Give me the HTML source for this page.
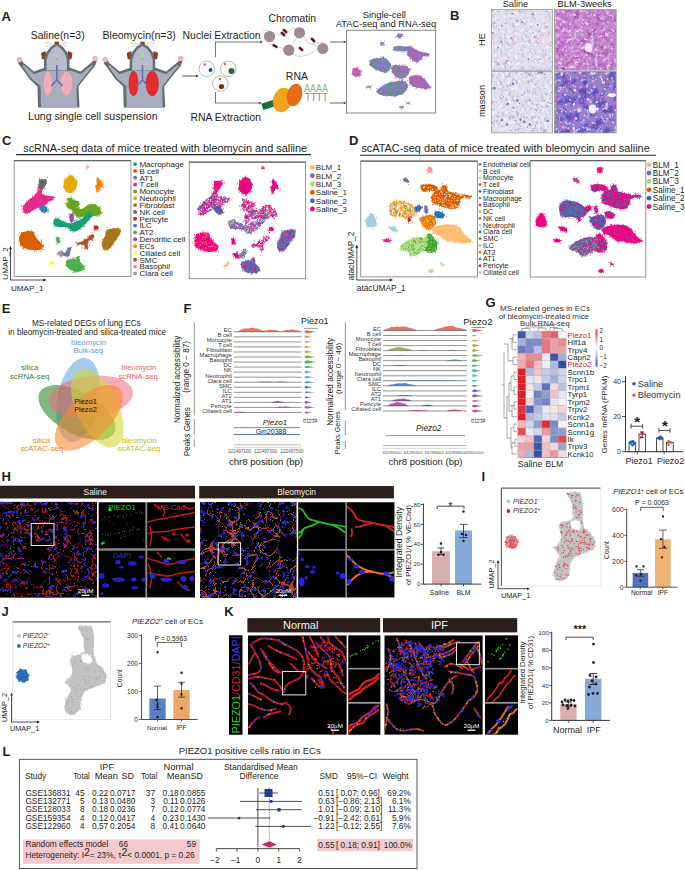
<!DOCTYPE html>
<html><head><meta charset="utf-8"><title>Figure</title>
<style>html,body{margin:0;padding:0;background:#fff;}body{width:685px;height:870px;overflow:hidden;font-family:"Liberation Sans",sans-serif;}svg{display:block;}</style>
</head><body><svg width="685" height="870" viewBox="0 0 685 870" font-family='"Liberation Sans", sans-serif' fill="#231f20"><defs><filter id="soft" x="-5%" y="-5%" width="110%" height="110%"><feGaussianBlur stdDeviation="0.45"/></filter><filter id="soft2" x="-5%" y="-5%" width="110%" height="110%"><feGaussianBlur stdDeviation="0.6"/></filter><filter id="t1_0" x="0" y="0" width="100%" height="100%" color-interpolation-filters="sRGB"><feTurbulence type="fractalNoise" baseFrequency="0.25" numOctaves="3" seed="7"/><feColorMatrix type="matrix" values="0 0 0 0 0.831 0 0 0 0 0.643 0 0 0 0 0.831 5 0 0 0 -3.0"/></filter><filter id="t1_1" x="0" y="0" width="100%" height="100%" color-interpolation-filters="sRGB"><feTurbulence type="fractalNoise" baseFrequency="0.3" numOctaves="3" seed="8"/><feColorMatrix type="matrix" values="0 0 0 0 0.949 0 0 0 0 0.949 0 0 0 0 0.973 4 0 0 0 -2.0"/></filter><filter id="t2_0" x="0" y="0" width="100%" height="100%" color-interpolation-filters="sRGB"><feTurbulence type="fractalNoise" baseFrequency="0.15" numOctaves="3" seed="14"/><feColorMatrix type="matrix" values="0 0 0 0 0.659 0 0 0 0 0.290 0 0 0 0 0.690 4 0 0 0 -2.1"/></filter><filter id="t2_1" x="0" y="0" width="100%" height="100%" color-interpolation-filters="sRGB"><feTurbulence type="fractalNoise" baseFrequency="0.25" numOctaves="3" seed="15"/><feColorMatrix type="matrix" values="0 0 0 0 0.886 0 0 0 0 0.804 0 0 0 0 0.941 4.5 0 0 0 -2.4"/></filter><filter id="t2_2" x="0" y="0" width="100%" height="100%" color-interpolation-filters="sRGB"><feTurbulence type="fractalNoise" baseFrequency="0.3" numOctaves="3" seed="16"/><feColorMatrix type="matrix" values="0 0 0 0 0.722 0 0 0 0 0.408 0 0 0 0 0.753 3 0 0 0 -1.5"/></filter><filter id="t3_0" x="0" y="0" width="100%" height="100%" color-interpolation-filters="sRGB"><feTurbulence type="fractalNoise" baseFrequency="0.25" numOctaves="3" seed="21"/><feColorMatrix type="matrix" values="0 0 0 0 0.706 0 0 0 0 0.659 0 0 0 0 0.831 5 0 0 0 -3.0"/></filter><filter id="t3_1" x="0" y="0" width="100%" height="100%" color-interpolation-filters="sRGB"><feTurbulence type="fractalNoise" baseFrequency="0.3" numOctaves="3" seed="22"/><feColorMatrix type="matrix" values="0 0 0 0 0.949 0 0 0 0 0.949 0 0 0 0 0.973 4 0 0 0 -2.0"/></filter><filter id="t4_0" x="0" y="0" width="100%" height="100%" color-interpolation-filters="sRGB"><feTurbulence type="fractalNoise" baseFrequency="0.12" numOctaves="3" seed="28"/><feColorMatrix type="matrix" values="0 0 0 0 0.353 0 0 0 0 0.314 0 0 0 0 0.753 4 0 0 0 -1.7"/></filter><filter id="t4_1" x="0" y="0" width="100%" height="100%" color-interpolation-filters="sRGB"><feTurbulence type="fractalNoise" baseFrequency="0.16" numOctaves="3" seed="29"/><feColorMatrix type="matrix" values="0 0 0 0 0.753 0 0 0 0 0.439 0 0 0 0 0.769 4 0 0 0 -2.2"/></filter><filter id="t4_2" x="0" y="0" width="100%" height="100%" color-interpolation-filters="sRGB"><feTurbulence type="fractalNoise" baseFrequency="0.22" numOctaves="3" seed="30"/><feColorMatrix type="matrix" values="0 0 0 0 0.941 0 0 0 0 0.918 0 0 0 0 0.965 5 0 0 0 -3.0"/></filter><filter id="hs" x="0" y="0" width="100%" height="100%" color-interpolation-filters="sRGB"><feTurbulence type="turbulence" baseFrequency="0.14" numOctaves="2" seed="3" result="n0"/><feColorMatrix in="n0" type="matrix" values="0 0 0 0 0.753 0 0 0 0 0.125 0 0 0 0 0.125 -11 0 0 0 1.6" result="c0"/><feTurbulence type="fractalNoise" baseFrequency="0.22" numOctaves="2" seed="5" result="n1"/><feColorMatrix in="n1" type="matrix" values="0 0 0 0 0.188 0 0 0 0 0.157 0 0 0 0 0.784 9 0 0 0 -5.4" result="c1"/><feTurbulence type="fractalNoise" baseFrequency="0.6" numOctaves="1" seed="7" result="n2"/><feColorMatrix in="n2" type="matrix" values="0 0 0 0 0.251 0 0 0 0 0.816 0 0 0 0 0.251 14 0 0 0 -10.2" result="c2"/><feMerge><feMergeNode in="c0"/><feMergeNode in="c1"/><feMergeNode in="c2"/></feMerge><feGaussianBlur stdDeviation="0.3"/></filter><filter id="hb2" x="0" y="0" width="100%" height="100%" color-interpolation-filters="sRGB"><feTurbulence type="turbulence" baseFrequency="0.075" numOctaves="1" seed="11" result="n0"/><feColorMatrix in="n0" type="matrix" values="0 0 0 0 0.722 0 0 0 0 0.227 0 0 0 0 0.188 -50 0 0 0 1.8" result="c0"/><feTurbulence type="fractalNoise" baseFrequency="0.5" numOctaves="1" seed="19" result="n1"/><feColorMatrix in="n1" type="matrix" values="0 0 0 0 0.784 0 0 0 0 0.690 0 0 0 0 0.251 14 0 0 0 -9.9" result="c1"/><feTurbulence type="fractalNoise" baseFrequency="0.22" numOctaves="2" seed="15" result="n2"/><feColorMatrix in="n2" type="matrix" values="0 0 0 0 0.165 0 0 0 0 0.165 0 0 0 0 0.816 9 0 0 0 -5.2" result="c2"/><feTurbulence type="fractalNoise" baseFrequency="0.6" numOctaves="1" seed="17" result="n3"/><feColorMatrix in="n3" type="matrix" values="0 0 0 0 0.251 0 0 0 0 0.816 0 0 0 0 0.251 14 0 0 0 -9.8" result="c3"/><feMerge><feMergeNode in="c0"/><feMergeNode in="c1"/><feMergeNode in="c2"/><feMergeNode in="c3"/></feMerge><feGaussianBlur stdDeviation="0.3"/></filter><filter id="hb" x="-20%" y="-20%" width="140%" height="140%"><feGaussianBlur stdDeviation="1.5"/></filter></defs><text x="1.5" y="20.8" font-size="13" font-weight="bold">A</text><text x="30.7" y="38.6" font-size="10.5">Saline(n=3)</text><text x="102.6" y="38.6" font-size="10.5">Bleomycin(n=3)</text><g transform="translate(0.0 0)"><path d="M44.0 43.0L56.0 46.0M45.0 46.5L56.0 46.0M69.0 43.0L57.0 46.0M68.0 46.5L57.0 46.0M46.0 41.5L56.0 45.5M67.0 41.5L57.0 45.5" stroke="#c8c8c8" stroke-width="0.6" stroke-linecap="round" fill="none"/><polygon points="41.0,53.0 45.5,51.0 47.0,60.0 42.0,59.0" fill="#8c3a2a" /><polygon points="72.5,53.0 68.0,51.0 66.5,60.0 71.5,59.0" fill="#8c3a2a" /><polygon points="18.0,58.0 21.5,58.5 23.0,62.5 34.0,71.5 44.3,67.7 70.0,67.7 80.5,71.5 92.0,62.0 95.5,58.0 97.0,60.0 95.0,66.0 85.0,78.0 78.5,86.5 79.5,107.5 38.0,107.5 37.5,86.5 30.0,79.5 21.0,67.0 18.5,64.0" fill="#5f706e" /><polygon points="23.5,64.8 34.0,74.2 45.0,70.2 69.5,70.2 80.5,74.2 92.0,64.8 93.0,65.8 83.5,77.5 76.5,86.5 77.0,107.5 41.0,107.5 40.5,86.0 31.5,78.5 23.0,66.8" fill="#a9adc1" /><polygon points="44.0,71.0 44.0,60.0 46.0,53.0 50.5,47.0 56.7,43.0 63.0,47.0 67.5,53.0 69.5,60.0 69.5,71.0" fill="#5f706e" /><polygon points="46.5,70.5 46.5,60.0 48.5,54.0 52.0,49.0 56.7,45.8 61.5,49.0 65.0,54.0 67.0,60.0 67.0,70.5" fill="#b7bbcc" /><circle cx="56.8" cy="56.5" r="1.80" fill="#b8d890" /><circle cx="56.8" cy="59.0" r="1.20" fill="#90c060" /><ellipse cx="56.8" cy="43" rx="2.6" ry="1.4" fill="#9a4030"/><circle cx="19.5" cy="59.5" r="2.80" fill="#f2b4b0" /><circle cx="95.0" cy="58.5" r="2.80" fill="#f2b4b0" /><ellipse cx="47.8" cy="83.5" rx="4.6" ry="12.3" fill="#eab0ba" stroke="#d48a9a" stroke-width="0.5"/><ellipse cx="66.5" cy="83.5" rx="6.2" ry="12.3" fill="#eab0ba" stroke="#d48a9a" stroke-width="0.5"/><path d="M56.8 65V80L51 86M56.8 80L62.5 86" fill="none" stroke="#6a6ab8" stroke-width="1.6" /></g><g transform="translate(85.7 0)"><path d="M44.0 43.0L56.0 46.0M45.0 46.5L56.0 46.0M69.0 43.0L57.0 46.0M68.0 46.5L57.0 46.0M46.0 41.5L56.0 45.5M67.0 41.5L57.0 45.5" stroke="#c8c8c8" stroke-width="0.6" stroke-linecap="round" fill="none"/><polygon points="41.0,53.0 45.5,51.0 47.0,60.0 42.0,59.0" fill="#8c3a2a" /><polygon points="72.5,53.0 68.0,51.0 66.5,60.0 71.5,59.0" fill="#8c3a2a" /><polygon points="18.0,58.0 21.5,58.5 23.0,62.5 34.0,71.5 44.3,67.7 70.0,67.7 80.5,71.5 92.0,62.0 95.5,58.0 97.0,60.0 95.0,66.0 85.0,78.0 78.5,86.5 79.5,107.5 38.0,107.5 37.5,86.5 30.0,79.5 21.0,67.0 18.5,64.0" fill="#5f706e" /><polygon points="23.5,64.8 34.0,74.2 45.0,70.2 69.5,70.2 80.5,74.2 92.0,64.8 93.0,65.8 83.5,77.5 76.5,86.5 77.0,107.5 41.0,107.5 40.5,86.0 31.5,78.5 23.0,66.8" fill="#a9adc1" /><polygon points="44.0,71.0 44.0,60.0 46.0,53.0 50.5,47.0 56.7,43.0 63.0,47.0 67.5,53.0 69.5,60.0 69.5,71.0" fill="#5f706e" /><polygon points="46.5,70.5 46.5,60.0 48.5,54.0 52.0,49.0 56.7,45.8 61.5,49.0 65.0,54.0 67.0,60.0 67.0,70.5" fill="#b7bbcc" /><circle cx="56.8" cy="56.5" r="1.80" fill="#b8d890" /><circle cx="56.8" cy="59.0" r="1.20" fill="#90c060" /><ellipse cx="56.8" cy="43" rx="2.6" ry="1.4" fill="#9a4030"/><circle cx="19.5" cy="59.5" r="2.80" fill="#f2b4b0" /><circle cx="95.0" cy="58.5" r="2.80" fill="#f2b4b0" /><ellipse cx="47.8" cy="83.5" rx="4.6" ry="12.3" fill="#e52c2c" stroke="#c01818" stroke-width="0.5"/><ellipse cx="66.5" cy="83.5" rx="6.2" ry="12.3" fill="#e52c2c" stroke="#c01818" stroke-width="0.5"/><path d="M56.8 65V80L51 86M56.8 80L62.5 86" fill="none" stroke="#6a6ab8" stroke-width="1.6" /></g><text x="28.0" y="120.0" font-size="10.6">Lung single cell suspension</text><text x="182.6" y="39.0" font-size="10.4">Nuclei Extraction</text><text x="268.6" y="22.4" font-size="10.3">Chromatin</text><text x="285.8" y="79.5" font-size="10.5">RNA</text><text x="190.5" y="121.0" font-size="10.4">RNA Extraction</text><line x1="182.0" y1="76.0" x2="197.2" y2="76.0" stroke="#333" stroke-width="0.8" /><polygon points="199.0,76.0 196.0,74.7 196.0,77.3" fill="#333" /><circle cx="206.8" cy="68.8" r="7.80" fill="#fbfbfb" stroke="#8a8a8a" stroke-width="0.6"/><circle cx="228.3" cy="68.8" r="7.80" fill="#fbfbfb" stroke="#8a8a8a" stroke-width="0.6"/><circle cx="220.4" cy="83.5" r="7.80" fill="#fbfbfb" stroke="#8a8a8a" stroke-width="0.6"/><circle cx="204.8" cy="64.5" r="1.30" fill="#d07030" /><circle cx="210.5" cy="70.0" r="1.90" fill="#2a3a8a" /><circle cx="225.0" cy="64.0" r="1.30" fill="#d07030" /><circle cx="231.5" cy="71.0" r="3.00" fill="#2f6a30" /><circle cx="220.0" cy="79.0" r="1.30" fill="#d07030" /><circle cx="221.5" cy="86.5" r="2.60" fill="#7a3020" /><line x1="215.5" y1="42.0" x2="215.5" y2="57.5" stroke="#555" stroke-width="0.8" /><line x1="215.5" y1="92.0" x2="215.5" y2="103.0" stroke="#555" stroke-width="0.8" /><line x1="215.1" y1="42.0" x2="261.2" y2="42.0" stroke="#555" stroke-width="0.8" /><polygon points="263.0,42.0 260.0,40.6 260.0,43.4" fill="#555" /><line x1="215.1" y1="103.0" x2="260.2" y2="103.0" stroke="#555" stroke-width="0.8" /><polygon points="262.0,103.0 259.0,101.7 259.0,104.3" fill="#555" /><path d="M263 31C270 28 278 40 288 32S300 30 306 40S318 38 326 45M268 42C276 50 284 46 290 52S305 58 316 50M300 33C296 40 292 44 289 50M305 40C312 46 318 46 323 48" fill="none" stroke="#c8c0c0" stroke-width="0.7" /><circle cx="269.5" cy="36.5" r="5.60" fill="#a08a92" /><circle cx="299.5" cy="32.8" r="5.60" fill="#a08a92" /><circle cx="288.8" cy="50.2" r="5.60" fill="#a08a92" /><circle cx="322.8" cy="48.6" r="5.60" fill="#a08a92" /><rect x="282.2" y="29.7" width="5.6" height="2.6" rx="1" fill="#5e1820" transform="rotate(40 285 31)"/><rect x="272.2" y="44.7" width="5.6" height="2.6" rx="1" fill="#5e1820" transform="rotate(30 275 46)"/><rect x="298.2" y="47.7" width="5.6" height="2.6" rx="1" fill="#5e1820" transform="rotate(40 301 49)"/><rect x="310.2" y="38.7" width="5.6" height="2.6" rx="1" fill="#5e1820" transform="rotate(45 313 40)"/><rect x="280.2" y="32.7" width="5.6" height="2.6" rx="1" fill="#5e1820" transform="rotate(45 283 34)"/><rect x="262" y="101.5" width="14" height="6.5" fill="#1f6b3a" transform="rotate(-18 269 104.7)"/><ellipse cx="282.5" cy="100" rx="9.5" ry="12.5" fill="#f2a31c" transform="rotate(15 282.5 100)"/><ellipse cx="294.5" cy="95" rx="7.5" ry="11.5" fill="#eb6a18" transform="rotate(15 294.5 95)"/><text x="304.0" y="92.0" font-size="10.5" fill="#8ab0a0" textLength="24" lengthAdjust="spacingAndGlyphs">AAAA</text><text x="305.0" y="101.0" font-size="10.5" fill="#b07868" textLength="23" lengthAdjust="spacingAndGlyphs">TTTT</text><line x1="330.0" y1="42.0" x2="344.8" y2="42.0" stroke="#444" stroke-width="0.8" /><polygon points="346.4,42.0 343.8,40.8 343.8,43.2" fill="#444" /><line x1="330.0" y1="103.0" x2="344.8" y2="103.0" stroke="#444" stroke-width="0.8" /><polygon points="346.4,103.0 343.8,101.8 343.8,104.2" fill="#444" /><text x="362.7" y="17.7" font-size="9.4">Single-cell</text><text x="335.7" y="26.6" font-size="9.35">ATAC-seq and RNA-seq</text><rect x="346.4" y="30.2" width="89.3" height="82.8" fill="#fff" stroke="#666" stroke-width="0.8" /><polygon points="397.4,33.7 401.5,33.7 401.9,36.8 399.5,38.2 397.0,36.8" fill="#8a70c0" /><path d="M396.4 37.0h0M395.2 37.1h0M401.8 34.3h0M402.2 35.3h0M402.4 36.4h0M399.2 37.6h0M398.7 37.0h0M398.8 35.9h0M402.6 34.4h0M402.1 34.2h0M398.4 38.2h0M400.9 35.8h0M396.7 36.1h0M400.6 38.5h0" stroke="#8a70c0" stroke-width="1.0" stroke-linecap="round"/><polygon points="380.1,41.9 383.5,41.9 384.4,45.0 381.1,45.4" fill="#9a8ab8" /><path d="M383.9 43.1h0M382.9 42.5h0M380.6 44.0h0M381.1 40.5h0M384.4 41.1h0M383.2 44.8h0M381.0 43.6h0M384.6 44.9h0M382.4 45.5h0M380.7 45.1h0M383.7 44.0h0M381.2 45.6h0" stroke="#9a8ab8" stroke-width="1.0" stroke-linecap="round"/><polygon points="393.4,47.0 399.5,46.0 405.6,46.6 410.7,48.0 409.7,51.1 401.5,51.1 394.4,50.7" fill="#6a86d0" /><path d="M404.9 51.4h0M406.9 52.3h0M400.0 45.9h0M411.0 51.2h0M401.0 50.1h0M394.2 47.0h0M407.5 49.8h0M392.2 49.8h0M395.7 50.9h0M410.9 51.8h0M401.2 50.4h0M405.6 46.9h0M401.7 52.2h0M393.8 49.3h0M407.3 46.5h0M411.7 48.7h0M408.8 47.5h0M403.1 51.7h0M408.9 46.6h0M406.0 48.5h0M411.3 47.8h0M397.8 51.5h0M403.5 47.6h0M393.4 47.7h0M397.2 49.7h0M403.3 51.6h0M393.1 50.1h0M399.4 46.5h0M404.7 47.6h0M410.6 52.5h0M395.5 47.2h0M395.2 47.5h0M397.1 48.1h0M397.0 46.2h0M394.6 49.6h0M396.5 47.1h0" stroke="#6a86d0" stroke-width="1.0" stroke-linecap="round"/><path d="M402.3 50.8h0M398.4 47.8h0M395.6 48.1h0M403.2 48.7h0M401.5 46.8h0M400.0 48.4h0M396.8 46.7h0M394.9 50.2h0M404.8 47.9h0M399.0 50.7h0M402.7 47.6h0M408.6 48.9h0M400.8 51.0h0M401.9 48.4h0M405.7 47.9h0M403.7 49.8h0M398.6 47.3h0M398.7 50.7h0M404.8 50.9h0M395.7 48.0h0M401.7 48.8h0M397.6 48.4h0M394.0 48.5h0M408.0 49.7h0M398.3 48.5h0M408.4 50.5h0M395.5 47.4h0M405.7 49.1h0M399.4 49.5h0M405.3 47.0h0M400.8 50.1h0M403.7 49.5h0" stroke="#c060b0" stroke-width="1.0" stroke-linecap="round"/><path d="M409.9 49.3h0M408.3 50.3h0M401.6 49.5h0M405.9 50.6h0M401.4 49.9h0M406.9 49.0h0M404.6 48.4h0M398.8 46.8h0M405.4 50.5h0M410.3 48.7h0M400.7 48.8h0M394.2 49.7h0M398.0 46.4h0M399.1 48.2h0M394.5 48.1h0M401.8 46.6h0" stroke="#40b050" stroke-width="1.0" stroke-linecap="round"/><polygon points="406.6,48.0 410.7,46.6 415.8,50.1 420.9,52.1 426.1,53.1 430.1,54.2 428.1,56.2 423.0,55.6 420.9,59.3 417.9,62.3 413.8,61.3 410.7,58.2 407.7,55.2 407.3,51.1" fill="#c060b0" /><path d="M410.6 45.8h0M409.2 55.5h0M422.0 55.6h0M416.4 51.2h0M412.9 60.3h0M416.5 62.9h0M408.0 48.4h0M421.3 55.4h0M420.1 52.4h0M421.0 59.8h0M421.7 52.2h0M409.0 53.8h0M407.0 49.5h0M410.1 59.1h0M407.8 48.7h0M420.9 53.0h0M416.1 49.6h0M410.9 46.5h0M409.2 55.7h0M412.6 61.0h0M426.4 56.7h0M415.2 60.9h0M407.3 54.5h0M423.0 55.8h0M417.1 62.4h0M406.8 48.2h0M421.1 58.7h0M429.1 53.5h0M422.5 58.4h0M411.4 49.0h0M419.8 52.1h0M407.6 54.9h0M408.1 46.8h0M409.0 46.2h0M416.1 49.7h0M413.3 60.6h0M410.7 58.5h0M423.1 54.5h0M418.0 52.3h0M409.4 56.3h0M425.2 52.4h0M427.4 53.7h0M428.7 56.4h0M406.7 49.8h0M412.1 47.1h0M422.9 56.0h0M425.6 56.2h0M422.6 56.8h0M421.1 52.3h0M421.5 59.4h0M414.4 48.0h0M406.2 48.2h0M428.4 54.8h0M414.7 61.0h0M409.6 56.4h0" stroke="#c060b0" stroke-width="1.0" stroke-linecap="round"/><path d="M409.4 51.5h0M409.7 47.9h0M412.4 47.9h0M416.7 55.7h0M411.3 51.1h0M416.5 51.5h0M424.3 55.3h0M424.5 55.6h0M417.0 59.5h0M412.9 59.4h0M408.2 49.3h0M412.8 57.2h0M424.6 55.4h0M409.7 52.2h0M416.7 52.3h0M420.4 59.6h0M423.3 53.6h0M409.4 51.6h0M428.1 53.9h0M416.8 53.5h0M425.8 53.2h0M418.0 60.5h0M413.2 49.8h0M419.9 52.2h0M414.9 50.5h0M426.2 54.3h0M407.5 49.3h0M418.7 55.8h0M411.0 52.7h0M414.0 52.6h0M417.8 57.7h0M419.3 59.2h0M415.2 55.9h0M422.6 54.8h0M408.7 52.2h0M420.3 58.6h0M411.5 54.7h0M422.8 55.3h0M413.8 50.8h0M410.6 56.6h0M408.1 55.5h0M423.8 53.2h0M416.6 54.9h0M413.2 56.1h0M407.4 48.4h0M419.9 56.1h0M411.0 49.6h0M420.6 56.8h0M408.1 54.2h0M414.1 60.0h0M412.0 57.6h0M426.4 54.1h0M409.0 49.6h0M410.3 48.1h0M410.2 56.3h0M409.1 48.2h0M408.2 49.8h0M415.4 53.8h0M408.6 52.9h0M419.4 52.5h0M409.4 56.0h0M415.4 57.4h0M418.3 61.7h0M417.9 52.2h0M415.6 51.2h0M418.4 57.6h0M425.2 55.7h0M413.6 51.9h0M426.6 54.8h0M407.8 53.2h0M412.2 57.1h0M408.4 50.9h0M408.9 54.1h0M415.7 61.3h0M408.8 52.2h0M417.4 52.6h0M417.0 54.0h0M408.6 51.0h0" stroke="#6a86d0" stroke-width="1.0" stroke-linecap="round"/><path d="M415.9 58.8h0M416.9 55.9h0M416.4 60.4h0M416.6 61.9h0M416.5 50.9h0M417.7 51.1h0M410.6 53.8h0M408.4 52.6h0M411.0 53.3h0M412.9 58.5h0M415.4 58.8h0M410.2 54.8h0M408.8 48.3h0M421.8 52.5h0M415.3 54.1h0M412.3 55.5h0M412.8 55.2h0M417.9 57.7h0M416.5 54.5h0M421.0 59.1h0M408.0 54.5h0M407.5 52.7h0M413.6 53.7h0M415.3 54.9h0M413.7 49.2h0M417.2 58.2h0M419.1 52.7h0M419.6 59.7h0M409.9 52.1h0M418.3 55.5h0M411.5 53.7h0M408.0 48.0h0M413.1 58.9h0M415.8 56.5h0M412.4 50.7h0M427.2 53.5h0M409.9 47.4h0M424.0 55.4h0M426.0 54.4h0M408.8 47.6h0M417.5 56.8h0M424.5 54.7h0M427.8 53.9h0M410.3 50.0h0M411.5 48.0h0M416.6 56.4h0M409.9 54.3h0M422.8 53.6h0M410.0 50.8h0M418.2 55.0h0M427.8 55.3h0M422.2 53.2h0" stroke="#8a70c0" stroke-width="1.0" stroke-linecap="round"/><polygon points="352.5,68.5 357.6,67.4 360.7,71.5 360.2,75.6 355.5,77.3 352.1,74.6" fill="#c060b0" /><path d="M360.2 75.3h0M361.0 72.5h0M356.0 75.1h0M356.3 68.0h0M352.2 72.3h0M353.4 75.3h0M361.7 70.6h0M360.5 71.0h0M359.8 76.2h0M357.3 67.1h0M355.6 68.4h0M353.0 74.8h0M361.1 75.0h0M353.4 69.4h0M353.9 68.3h0M359.4 76.6h0M361.7 74.2h0M357.6 67.7h0M360.2 74.8h0M361.5 71.4h0M358.0 75.4h0M360.5 72.1h0M358.3 75.9h0M354.4 75.5h0M354.8 68.6h0M351.1 74.4h0" stroke="#c060b0" stroke-width="1.0" stroke-linecap="round"/><polygon points="369.9,61.3 373.9,58.2 379.0,58.2 383.1,57.2 388.2,60.3 391.3,65.4 389.3,70.5 384.2,72.6 379.0,70.5 373.9,68.5 369.9,65.4" fill="#6a86d0" /><path d="M369.7 64.4h0M369.5 64.9h0M376.3 70.0h0M388.6 68.5h0M374.2 69.3h0M387.9 61.4h0M380.9 59.8h0M370.5 61.1h0M384.5 72.6h0M370.7 63.0h0M388.8 68.1h0M380.8 56.8h0M380.3 70.8h0M380.3 70.3h0M383.4 56.8h0M385.1 72.6h0M386.9 58.9h0M386.1 58.1h0M386.4 72.0h0M376.0 68.4h0M370.6 61.8h0M370.6 60.9h0M382.9 57.8h0M381.5 71.6h0M372.0 65.6h0M372.6 67.1h0M378.7 70.4h0M377.0 57.9h0M388.6 70.8h0M387.3 70.9h0M385.9 72.7h0M384.0 72.1h0M374.6 67.5h0M370.3 64.6h0M384.2 72.7h0M370.4 61.9h0M383.1 57.2h0M369.1 60.4h0M389.8 67.8h0M382.0 58.5h0M384.4 71.2h0M379.6 70.0h0M374.8 60.0h0M372.9 66.9h0M373.1 66.5h0M376.1 70.3h0M370.4 62.0h0M377.6 58.3h0M370.9 63.7h0M387.6 72.0h0M370.9 60.0h0" stroke="#6a86d0" stroke-width="1.0" stroke-linecap="round"/><path d="M381.0 58.5h0M383.6 71.3h0M383.5 57.8h0M380.9 64.4h0M379.4 59.5h0M375.8 64.1h0M375.1 61.7h0M371.8 61.9h0M371.9 62.5h0M377.2 60.4h0M384.5 64.3h0M376.9 67.7h0M379.6 70.6h0M371.1 60.7h0M376.0 61.3h0M387.5 64.9h0M377.3 65.0h0M388.0 66.0h0M379.5 67.3h0M383.1 63.4h0M379.0 59.2h0M376.4 62.8h0M382.8 66.3h0M373.6 64.1h0M376.0 67.3h0M370.6 64.2h0M373.3 62.3h0M384.7 65.0h0M388.2 70.1h0M383.1 70.2h0M373.7 64.5h0M376.7 66.8h0M377.8 69.2h0M385.9 68.4h0M379.7 61.5h0M373.6 63.5h0M389.9 63.4h0M375.3 66.7h0M379.2 66.6h0M379.6 61.6h0M384.0 61.0h0M380.6 66.1h0M380.7 71.0h0M386.6 61.9h0M377.1 66.6h0M370.8 64.9h0M375.7 65.3h0M370.8 60.7h0M374.6 64.2h0M376.5 61.0h0M386.6 61.1h0M373.5 61.4h0M385.3 64.8h0M370.1 61.9h0M388.1 70.3h0M385.5 68.4h0M389.4 65.8h0M378.1 66.0h0M375.4 64.2h0M375.2 62.9h0M390.4 64.7h0M387.8 68.6h0M382.6 62.2h0M378.3 62.1h0M383.5 70.3h0M386.8 61.8h0M382.4 60.7h0M370.0 61.9h0M374.8 60.4h0M384.1 66.2h0M375.9 68.4h0M372.4 66.3h0M385.0 68.5h0M380.3 70.6h0M383.4 67.8h0M371.5 60.1h0M379.8 65.6h0M377.3 64.5h0M381.1 70.1h0M376.3 65.8h0M382.8 67.3h0M376.6 61.5h0M379.9 66.4h0M383.7 59.3h0M379.4 65.8h0M374.0 58.8h0M380.6 61.7h0M370.5 61.4h0M373.3 63.4h0M377.4 67.9h0M383.3 57.5h0M374.8 61.5h0M389.1 64.0h0M375.4 64.6h0M380.3 59.5h0M384.2 68.3h0M380.1 65.5h0M383.0 57.9h0M380.7 67.4h0M377.0 67.7h0M377.7 66.7h0M383.0 67.5h0" stroke="#c060b0" stroke-width="1.0" stroke-linecap="round"/><path d="M389.7 68.1h0M385.1 68.0h0M374.8 66.6h0M383.2 58.2h0M386.0 60.7h0M380.4 65.3h0M385.4 69.0h0M379.4 65.9h0M385.2 71.9h0M383.8 65.5h0M386.8 70.4h0M373.0 64.7h0M383.1 67.9h0M377.0 69.0h0M381.3 67.5h0M383.5 70.5h0M385.2 72.1h0M380.4 64.8h0M384.0 65.8h0M376.7 64.9h0M375.0 67.5h0M382.0 71.0h0M380.1 62.3h0M375.4 62.8h0M373.0 62.0h0M386.3 71.7h0M377.5 61.1h0M376.1 66.9h0M380.1 59.0h0M381.1 61.3h0M372.1 64.0h0M386.3 65.5h0M388.6 62.1h0M389.1 63.7h0M385.7 69.7h0M370.0 61.9h0M391.0 65.7h0M376.4 58.5h0M379.0 65.2h0M379.6 62.0h0M390.2 64.5h0M376.5 69.1h0M375.1 63.7h0M372.1 60.9h0M381.1 67.5h0M384.3 65.2h0M377.7 59.5h0M384.3 62.4h0M374.9 62.0h0M380.4 60.4h0M388.1 64.6h0M389.0 66.1h0M376.1 68.2h0M389.9 67.4h0M370.9 63.8h0M387.8 66.3h0M374.3 60.8h0M371.2 65.2h0M373.7 64.1h0M380.4 69.2h0M388.4 64.6h0M388.9 61.8h0M389.9 68.4h0M371.4 61.5h0M383.9 71.2h0M377.3 62.5h0M373.5 60.7h0M380.9 62.9h0" stroke="#40b050" stroke-width="1.0" stroke-linecap="round"/><path d="M375.6 63.5h0M390.2 66.4h0M386.0 71.5h0M371.9 60.2h0M385.7 68.8h0M383.0 64.5h0M385.3 63.8h0M374.0 60.6h0M377.3 63.5h0M375.8 69.2h0M380.4 59.8h0M370.9 64.3h0M374.6 67.0h0M377.6 61.8h0M376.3 66.5h0M380.7 64.7h0M384.5 64.5h0M390.2 63.9h0M383.2 66.3h0M386.8 68.1h0M374.0 63.6h0M384.6 62.3h0M377.5 63.9h0M384.4 71.1h0M384.9 60.6h0M382.3 67.1h0M382.9 68.1h0M376.0 66.7h0M385.7 62.2h0M375.5 62.3h0M380.0 65.8h0M383.9 61.2h0M382.3 66.4h0M380.5 63.7h0" stroke="#8a70c0" stroke-width="1.0" stroke-linecap="round"/><polygon points="391.3,67.4 395.4,65.0 401.5,65.4 406.6,66.4 409.7,69.5 408.7,73.6 405.6,77.7 400.5,78.7 395.4,76.6 392.3,72.6" fill="#c060b0" /><path d="M396.9 78.5h0M410.5 69.7h0M396.0 75.4h0M399.8 77.7h0M404.2 65.7h0M393.8 67.5h0M409.1 69.3h0M391.2 67.1h0M391.5 68.8h0M402.7 78.2h0M403.0 64.9h0M391.9 68.3h0M402.5 78.5h0M394.1 66.3h0M395.7 77.4h0M404.3 77.2h0M404.7 75.9h0M392.4 66.0h0M402.6 64.8h0M397.2 65.4h0M396.1 64.7h0M410.1 68.7h0M407.1 74.8h0M405.8 64.8h0M409.2 68.9h0M392.4 70.1h0M404.9 66.4h0M407.6 66.6h0M408.3 71.6h0M399.1 66.2h0M395.5 76.3h0M393.8 65.7h0M399.5 64.3h0M391.4 72.0h0M408.8 68.5h0M408.0 68.6h0M392.4 72.5h0M406.8 67.1h0M401.8 77.4h0M399.6 79.3h0M401.3 79.3h0M408.3 69.9h0M407.7 74.7h0M407.7 74.5h0M411.1 69.6h0" stroke="#c060b0" stroke-width="1.0" stroke-linecap="round"/><path d="M408.7 72.5h0M398.0 65.8h0M399.4 76.6h0M395.6 67.4h0M403.5 73.8h0M395.0 74.0h0M397.6 68.1h0M404.4 75.0h0M401.9 69.4h0M400.7 76.8h0M393.6 69.7h0M405.8 74.7h0M398.5 75.5h0M406.6 73.0h0M406.5 67.9h0M399.2 68.5h0M398.0 70.9h0M405.6 68.5h0M392.8 70.1h0M401.6 73.3h0M396.1 72.9h0M406.5 73.7h0M393.5 68.9h0M409.2 70.0h0M406.7 71.9h0M396.2 67.2h0M397.8 76.3h0M398.4 66.8h0M404.1 66.1h0M397.4 74.1h0M406.4 74.4h0M402.9 73.5h0M407.2 73.3h0M396.7 65.4h0M403.3 72.0h0M392.5 69.5h0M394.2 66.4h0M405.5 69.8h0M402.7 77.1h0M396.1 73.6h0M404.2 67.4h0M399.1 73.7h0M398.9 72.2h0M407.2 67.4h0M405.8 73.1h0M403.0 68.5h0M404.5 71.2h0M397.4 67.2h0M401.3 75.8h0M403.9 69.9h0M399.8 73.0h0M404.6 68.8h0M396.1 76.8h0M407.1 74.3h0M400.0 76.2h0M397.0 68.4h0M406.9 68.7h0M408.2 73.3h0M402.1 71.1h0M401.5 68.1h0M392.9 72.6h0M402.4 76.2h0M400.4 69.6h0M399.3 67.9h0M397.8 69.4h0M395.0 72.2h0M403.1 70.9h0M406.8 66.9h0M396.2 75.0h0M397.9 69.9h0M394.8 65.7h0M393.8 74.1h0M401.9 77.0h0M397.1 66.9h0M409.3 69.6h0M405.6 69.6h0M398.6 68.4h0M401.8 77.9h0M403.4 74.2h0M406.2 74.7h0M400.7 70.9h0M402.1 67.1h0M405.9 67.8h0M399.9 78.1h0M406.8 72.1h0M398.5 76.9h0M402.3 71.0h0M401.2 68.8h0M402.2 70.4h0M396.4 77.0h0M394.4 70.2h0M406.1 69.7h0M391.7 67.9h0M401.8 66.2h0M396.1 75.6h0M405.3 72.6h0M407.0 67.5h0" stroke="#6a86d0" stroke-width="1.0" stroke-linecap="round"/><path d="M396.6 66.7h0M407.6 69.7h0M401.8 75.0h0M404.3 68.3h0M403.1 73.2h0M401.9 75.8h0M400.6 74.5h0M396.9 71.9h0M407.8 72.4h0M399.1 67.5h0M407.5 67.5h0M402.2 69.1h0M396.3 68.7h0M396.9 73.8h0M393.0 68.2h0M407.1 67.1h0M405.1 67.7h0M397.4 67.5h0M399.8 69.8h0M393.6 67.2h0M402.9 74.6h0M398.6 70.7h0M395.8 73.6h0M408.0 72.3h0M409.1 71.3h0M395.9 74.7h0M405.3 66.9h0M402.3 74.5h0M395.2 70.9h0M405.6 71.3h0M394.6 71.2h0M396.5 74.6h0M397.0 70.9h0M393.1 72.3h0M405.5 72.5h0M397.8 69.5h0M393.0 67.0h0M392.1 67.6h0M400.6 77.1h0M397.9 68.5h0M402.8 69.7h0" stroke="#40b050" stroke-width="1.0" stroke-linecap="round"/><polygon points="408.7,77.7 413.8,75.6 419.9,75.6 424.0,78.7 428.1,83.8 431.2,87.9 426.1,88.9 419.9,87.9 413.8,86.9 409.7,83.8" fill="#c060b0" /><path d="M409.8 80.5h0M423.0 79.3h0M430.6 89.6h0M429.9 88.3h0M426.1 82.2h0M410.3 79.8h0M412.3 87.0h0M431.2 87.2h0M411.1 76.4h0M416.5 87.8h0M410.1 82.7h0M409.9 85.3h0M427.4 87.8h0M418.3 87.7h0M421.6 86.1h0M424.6 78.4h0M425.2 79.4h0M424.9 89.8h0M412.7 76.7h0M412.1 83.9h0M424.9 88.8h0M410.0 77.1h0M427.0 89.7h0M423.9 79.1h0M425.6 80.4h0M411.9 75.8h0M416.0 88.5h0M414.9 75.8h0M417.0 76.4h0M426.9 81.4h0M418.1 87.4h0M421.8 76.5h0M418.0 76.0h0M412.0 76.5h0M409.4 82.6h0M407.5 80.4h0M419.3 75.7h0M414.9 75.7h0M417.0 74.2h0M413.2 76.8h0M414.3 75.4h0M430.1 85.9h0M421.9 78.7h0M419.5 86.4h0M409.7 80.7h0M429.7 86.9h0M411.9 76.3h0M417.3 76.7h0M421.0 87.8h0M429.9 86.9h0M409.6 78.0h0" stroke="#c060b0" stroke-width="1.0" stroke-linecap="round"/><path d="M420.5 76.7h0M413.1 80.5h0M413.8 76.9h0M421.8 88.1h0M412.6 85.9h0M416.9 77.1h0M409.4 80.6h0M426.3 85.4h0M418.7 86.5h0M425.0 83.0h0M421.9 83.5h0M428.0 84.1h0M425.6 87.2h0M413.3 84.8h0M414.5 86.2h0M417.3 81.8h0M420.6 87.1h0M424.6 82.9h0M420.4 76.2h0M412.8 83.6h0M421.3 80.8h0M421.1 77.0h0M427.7 85.6h0M420.5 82.3h0M424.5 84.6h0M425.4 84.8h0M416.7 81.8h0M424.7 88.6h0M420.8 81.2h0M414.2 78.7h0M417.0 86.8h0M424.2 80.4h0M419.4 77.5h0M412.8 85.0h0M416.0 77.6h0M428.5 86.3h0M411.3 77.9h0M419.1 81.4h0M411.8 82.2h0M414.1 86.4h0M428.4 85.9h0M419.3 86.8h0M427.7 84.4h0M413.9 79.8h0M411.6 84.7h0M421.4 85.1h0M415.2 75.9h0M409.7 82.4h0M412.7 82.7h0M416.7 80.0h0M422.6 87.3h0M410.5 82.2h0M412.5 84.7h0M415.3 83.4h0M416.3 86.8h0M421.0 78.7h0M419.2 85.8h0M419.5 75.8h0M422.4 83.4h0M422.0 87.3h0M426.3 87.1h0M422.9 86.6h0M415.4 85.3h0M427.3 87.3h0M421.5 78.6h0M413.6 85.4h0M411.2 83.5h0M421.2 80.1h0M412.6 76.8h0M423.7 79.7h0M414.8 84.4h0M423.9 84.2h0M425.6 88.8h0" stroke="#8a70c0" stroke-width="1.0" stroke-linecap="round"/><path d="M421.4 80.0h0M416.1 82.0h0M417.9 85.2h0M420.4 84.9h0M417.6 85.2h0M410.6 83.0h0M421.2 84.8h0M411.1 80.1h0M426.3 83.2h0M428.1 86.9h0M417.6 76.8h0M423.8 87.2h0M424.9 82.7h0M427.2 87.5h0M419.0 80.8h0M412.6 83.4h0M414.3 83.9h0M423.7 86.4h0M419.6 79.6h0M423.5 83.7h0M419.9 81.7h0M417.9 86.9h0M427.8 84.9h0M425.1 87.6h0M416.4 75.8h0M426.6 84.5h0M424.0 84.3h0M413.6 80.3h0M419.5 82.1h0" stroke="#6a86d0" stroke-width="1.0" stroke-linecap="round"/><polygon points="377.0,89.9 383.1,85.8 389.3,82.8 395.4,81.7 401.5,80.7 405.6,81.7 407.7,85.8 406.6,89.9 402.6,94.0 395.4,96.1 388.2,96.1 381.1,95.0 377.4,93.0" fill="#6a86d0" /><path d="M386.8 96.3h0M401.9 93.9h0M380.4 88.3h0M398.6 95.9h0M405.3 80.9h0M376.5 88.9h0M401.5 81.7h0M390.7 81.9h0M401.8 94.3h0M389.0 82.7h0M401.3 92.7h0M383.6 86.6h0M402.3 79.8h0M403.1 93.7h0M381.4 93.9h0M394.0 81.2h0M401.6 80.6h0M407.4 85.6h0M402.8 79.9h0M399.2 80.3h0M396.1 95.8h0M384.2 85.0h0M408.1 84.7h0M385.9 95.3h0M394.3 96.1h0M382.0 85.9h0M395.2 96.5h0M378.9 91.5h0M385.5 84.4h0M403.2 91.9h0M407.9 86.0h0M388.3 84.3h0M377.7 91.1h0M406.7 90.0h0M387.4 85.1h0M377.5 91.1h0M378.1 93.2h0M386.1 83.8h0M382.5 87.6h0M403.5 82.5h0M380.1 89.8h0M406.9 84.6h0M397.5 81.3h0M407.4 84.7h0M381.9 94.8h0M379.0 89.8h0M391.8 81.2h0M396.2 95.4h0M402.5 80.2h0M401.8 81.6h0M402.7 81.1h0M407.4 87.8h0M406.1 82.9h0M406.5 86.9h0M389.7 82.6h0M378.7 93.3h0M400.7 94.4h0M383.9 86.2h0M394.5 96.0h0M385.2 95.7h0M404.8 90.8h0M388.8 95.2h0M393.0 96.7h0M376.5 91.7h0M376.4 91.4h0M403.0 80.2h0M380.7 87.6h0" stroke="#6a86d0" stroke-width="1.0" stroke-linecap="round"/><path d="M389.2 90.0h0M390.6 94.2h0M399.6 86.5h0M396.6 84.0h0M405.9 83.2h0M405.0 88.9h0M383.1 91.1h0M401.3 94.4h0M404.4 91.0h0M396.7 83.1h0M407.6 85.8h0M386.7 88.7h0M391.5 87.1h0M396.8 86.2h0M397.5 92.1h0M396.2 89.9h0M391.8 95.6h0M388.2 88.7h0M405.2 89.7h0M392.0 89.3h0M385.7 94.0h0M399.6 87.3h0M378.1 91.9h0M392.9 86.4h0M386.1 95.1h0M393.5 95.3h0M398.5 84.3h0M395.6 83.9h0M391.0 94.2h0M385.0 93.3h0M385.6 89.7h0M393.4 84.3h0M393.6 84.8h0M401.4 84.3h0M401.0 83.6h0M404.0 90.5h0M384.7 88.5h0M387.2 90.9h0M387.2 89.2h0M392.2 83.1h0M402.4 91.6h0M380.4 88.6h0M396.5 91.8h0M384.3 94.0h0M404.7 88.0h0M399.1 81.7h0M396.1 91.7h0M384.4 87.4h0M403.1 93.0h0M393.6 83.7h0M385.9 95.0h0M385.8 86.8h0M397.6 95.0h0M378.9 89.8h0M397.3 82.7h0M387.4 91.4h0M390.2 96.0h0M405.6 87.5h0M391.4 88.7h0M380.2 90.6h0M398.8 88.0h0M394.9 94.7h0M396.1 91.3h0M404.1 92.0h0M391.0 95.4h0M404.0 90.6h0M400.9 86.0h0M382.2 93.3h0M393.5 93.9h0M407.2 87.5h0M382.4 94.5h0M380.5 88.6h0M402.9 82.6h0M385.2 90.7h0M380.0 94.0h0M399.9 89.2h0M400.8 82.9h0M403.0 89.0h0M388.8 93.2h0M398.4 81.3h0M394.3 84.1h0M389.6 87.2h0M398.4 90.5h0M387.8 84.2h0M400.9 81.7h0M394.9 91.9h0M379.5 90.6h0M401.1 90.4h0M390.1 95.4h0M394.4 88.9h0M382.8 90.1h0M391.4 91.4h0M401.2 93.0h0M398.0 82.3h0M394.6 91.0h0M383.0 86.4h0M393.0 84.9h0M389.7 92.6h0M392.7 90.2h0M377.9 91.8h0M402.6 86.0h0M395.7 82.2h0M405.7 87.3h0M391.1 84.1h0M389.6 88.7h0M385.8 91.5h0M396.0 93.7h0M396.2 86.5h0M406.5 84.0h0M391.6 94.0h0M395.5 90.3h0M400.5 89.9h0M384.5 94.9h0M393.9 94.7h0M393.7 90.0h0M405.9 87.4h0M386.6 95.6h0M403.3 92.4h0M378.8 93.6h0M379.5 93.6h0M380.5 93.1h0M402.9 82.9h0M391.8 87.2h0M404.4 90.5h0M381.3 91.3h0M385.3 87.5h0M391.3 91.7h0M398.8 93.8h0M384.7 92.6h0M399.5 82.5h0M382.3 94.1h0M406.0 87.2h0M379.4 93.8h0M396.1 84.7h0M400.5 84.9h0M378.7 93.3h0M394.3 86.4h0M393.1 87.8h0M393.6 84.8h0M392.4 95.4h0M383.5 87.1h0M391.2 87.6h0M387.5 90.4h0M405.6 83.0h0M390.7 95.7h0M388.3 88.5h0M399.3 84.7h0M379.0 90.5h0M405.7 88.6h0M397.8 90.9h0M400.5 90.7h0M398.0 91.6h0M384.7 94.3h0M395.7 88.4h0M396.4 86.0h0M384.4 94.7h0M383.5 86.2h0M395.1 88.3h0M400.5 82.8h0M391.8 82.4h0M390.5 87.9h0M392.8 95.0h0M405.8 86.8h0M392.7 84.1h0M402.6 82.8h0M399.7 94.0h0M390.5 85.8h0M405.1 82.2h0M400.5 85.6h0M404.8 84.7h0M396.4 81.9h0M394.7 85.5h0M397.5 82.3h0M398.1 84.8h0M394.7 91.8h0M398.9 91.3h0M388.9 86.1h0" stroke="#c060b0" stroke-width="1.0" stroke-linecap="round"/><path d="M404.1 88.4h0M390.6 85.9h0M377.6 90.4h0M404.3 87.0h0M390.8 94.2h0M399.9 83.5h0M388.1 85.9h0M401.6 92.8h0M402.1 83.1h0M387.4 89.8h0M390.1 91.7h0M404.9 91.4h0M387.8 91.4h0M383.5 92.5h0M401.5 89.8h0M400.1 91.3h0M400.6 94.6h0M398.8 82.0h0M383.1 94.7h0M379.7 94.0h0M399.0 82.9h0M404.2 91.7h0M383.6 86.0h0M397.8 90.3h0M394.9 93.8h0M386.8 93.9h0M390.4 84.5h0M392.3 86.8h0M397.5 82.1h0M393.6 92.9h0M388.5 94.3h0M392.2 95.4h0M387.3 85.7h0M382.0 92.8h0M395.2 95.3h0M392.2 92.4h0M382.0 95.0h0M393.6 94.6h0M390.0 92.2h0M379.1 90.8h0M383.5 91.8h0M390.8 84.3h0M390.3 84.1h0M388.1 90.1h0M399.7 88.1h0M390.1 85.1h0M395.7 92.1h0M398.6 84.8h0M400.2 89.2h0M403.8 88.4h0M404.4 85.1h0M397.9 91.1h0M380.4 91.8h0M401.7 94.2h0M399.7 85.0h0M395.5 88.2h0M403.9 89.9h0M389.6 91.7h0M400.9 90.5h0M388.4 90.9h0M394.5 82.4h0M392.7 82.4h0M400.4 89.8h0M381.2 91.5h0M401.1 81.2h0M399.5 88.0h0M396.0 92.9h0M382.7 92.0h0M398.5 92.2h0M390.8 84.3h0M388.6 83.3h0M397.3 91.1h0M396.0 92.8h0M385.8 90.0h0M401.5 90.4h0M386.5 85.5h0M398.0 86.5h0M383.4 95.3h0M394.8 94.7h0M395.3 87.0h0M395.0 83.3h0M388.5 84.5h0M392.5 94.3h0M395.1 92.3h0M402.0 80.9h0M380.0 93.3h0M392.1 87.1h0M403.5 84.6h0M391.7 93.0h0M398.7 81.8h0M385.0 93.9h0M395.8 86.8h0M404.5 88.8h0M404.0 84.9h0M395.8 86.5h0M392.8 85.7h0M386.7 87.1h0M396.4 95.6h0M381.8 93.6h0M380.1 92.4h0M392.0 83.9h0M402.8 83.7h0M391.3 87.4h0M397.1 86.5h0M389.5 93.8h0M401.4 84.6h0M396.3 86.7h0M405.6 88.5h0M382.1 92.3h0M389.0 89.2h0M399.3 86.9h0M392.2 88.1h0M383.5 86.3h0M403.6 85.5h0M392.6 85.4h0M398.5 93.4h0M401.2 87.6h0M403.8 84.1h0M397.8 91.1h0M405.0 81.7h0M399.9 87.5h0M388.3 85.3h0M398.8 86.8h0M399.2 89.5h0M404.4 89.0h0M392.8 91.4h0" stroke="#40b050" stroke-width="1.0" stroke-linecap="round"/><path d="M396.4 83.4h0M393.8 87.7h0M392.2 88.2h0M392.6 90.0h0M385.6 93.4h0M401.1 85.8h0M396.4 95.7h0M378.6 89.1h0M406.8 84.8h0M395.7 95.1h0M379.5 93.5h0M394.9 94.0h0M396.4 86.0h0M379.8 90.0h0M400.8 82.1h0M382.9 93.3h0M384.5 89.7h0M382.7 93.3h0M394.9 82.1h0M387.3 91.0h0M386.2 93.2h0M404.4 86.8h0M399.7 93.4h0M398.5 94.5h0M399.9 81.4h0M402.6 92.5h0M394.0 89.9h0M380.1 93.5h0M389.5 82.9h0M395.0 84.8h0M401.2 82.2h0M397.4 91.1h0M390.1 83.1h0M396.5 93.5h0M383.3 95.2h0M382.2 87.5h0M390.4 95.5h0M391.7 92.0h0M399.1 85.1h0M391.1 87.8h0M405.4 83.2h0M407.5 85.9h0M400.3 87.9h0M391.5 87.2h0M384.8 94.8h0M396.4 85.0h0M402.7 89.7h0M396.5 92.0h0M399.4 84.0h0M403.6 92.1h0" stroke="#8a70c0" stroke-width="1.0" stroke-linecap="round"/><polygon points="366.8,85.8 370.9,85.8 370.9,87.9 366.8,87.9" fill="#999" /><path d="M371.1 89.6h0M370.3 88.0h0M370.0 88.9h0M367.4 86.4h0M368.5 87.5h0M371.3 85.9h0M366.7 87.6h0M368.1 85.0h0M368.2 86.3h0M366.5 88.6h0M365.6 86.6h0" stroke="#999" stroke-width="1.0" stroke-linecap="round"/><polygon points="399.5,106.3 403.6,105.9 403.6,108.3 399.9,108.3" fill="#999" /><path d="M402.9 106.4h0M401.5 108.8h0M402.7 105.9h0M400.5 106.9h0M401.5 108.9h0M402.6 106.0h0M401.6 107.9h0M403.6 106.9h0M399.7 107.0h0M402.0 108.9h0M399.3 107.0h0" stroke="#999" stroke-width="1.0" stroke-linecap="round"/><polygon points="406.6,102.2 409.7,102.6 409.3,104.2 406.8,103.8" fill="#999" /><path d="M406.2 104.2h0M408.5 103.2h0M405.2 101.3h0M408.6 102.5h0M406.8 103.6h0M410.0 104.1h0M409.4 104.3h0M409.2 102.4h0" stroke="#999" stroke-width="1.0" stroke-linecap="round"/><text x="450.0" y="20.4" font-size="13" font-weight="bold">B</text><text x="502.7" y="7.0" font-size="9.2">Saline</text><text x="557.6" y="7.0" font-size="9.4">BLM-3weeks</text><text x="485.3" y="39.5" font-size="9.2" text-anchor="middle" transform="rotate(-90 485.3 39.5)">HE</text><text x="485.3" y="101.0" font-size="9.2" text-anchor="middle" transform="rotate(-90 485.3 101.0)">masson</text><svg x="491.5" y="9.5" width="61" height="60.7" viewBox="0 0 61 60.7"><rect x="0.0" y="0.0" width="61.0" height="60.7" fill="#dfdfeb" /><rect width="61" height="60.7" filter="url(#t1_0)"/><rect width="61" height="60.7" filter="url(#t1_1)"/><g filter="url(#soft2)"><path d="M8.2 51.4h0M46.6 15.5h0M30.2 27.3h0M39.7 47.9h0M5.7 1.7h0M51.0 26.3h0M46.5 0.1h0M27.2 43.8h0M14.0 57.4h0M55.0 1.9h0M1.6 32.9h0M57.3 23.1h0M13.2 25.6h0M1.8 13.5h0M26.7 30.1h0M14.2 14.0h0M13.3 27.9h0M17.7 1.3h0M51.1 33.8h0M39.2 11.3h0M60.5 52.2h0M7.4 20.2h0M44.0 43.2h0M57.1 25.6h0M50.6 40.7h0M18.5 35.7h0M53.8 51.4h0M30.8 35.8h0M2.1 14.7h0M48.6 25.1h0M10.6 33.3h0M42.9 40.9h0M22.9 26.6h0M31.0 47.3h0M31.8 23.9h0M29.9 1.8h0M2.7 42.7h0M60.0 36.0h0M24.0 10.3h0M30.6 59.6h0M47.0 32.8h0M52.5 14.1h0M31.3 57.8h0M35.2 27.9h0M16.4 33.3h0M58.4 0.3h0M47.8 49.8h0M54.1 44.9h0M49.4 31.5h0M34.2 25.9h0M3.4 52.8h0M34.8 12.1h0M30.8 29.4h0M21.8 21.0h0M32.8 37.8h0M37.4 27.8h0M1.7 13.9h0M10.8 35.5h0M52.5 48.5h0M48.6 49.6h0" stroke="#c870b8" stroke-width="1.2" stroke-linecap="round" stroke-opacity="0.8"/><path d="M15.6 51.1h0M41.1 5.1h0M1.0 0.9h0M46.1 15.1h0M6.7 37.9h0M21.0 4.2h0M9.7 32.0h0M10.3 16.6h0M43.4 27.6h0M19.6 28.8h0M1.4 23.5h0M25.7 11.4h0M6.6 54.6h0M31.1 12.7h0M36.9 49.6h0" stroke="#b050a0" stroke-width="1.8" stroke-linecap="round" stroke-opacity="0.8"/><path d="M1.3 1.1h0M8.9 43.6h0M9.8 42.8h0M41.4 33.1h0M13.5 59.2h0M48.7 31.4h0M13.6 39.4h0M24.1 35.0h0M19.6 38.3h0M3.6 18.1h0M59.0 53.1h0M18.7 52.1h0M18.9 57.0h0M45.4 25.3h0M15.4 0.5h0M53.6 2.3h0M50.0 58.4h0M34.8 10.4h0M52.9 59.1h0M42.9 30.9h0M23.1 21.1h0M12.6 40.9h0M26.4 11.8h0M6.4 40.4h0M18.1 30.3h0M19.8 52.9h0M54.9 1.1h0M12.3 19.9h0M60.2 47.5h0M20.7 12.9h0M41.1 50.8h0M56.9 20.9h0M53.8 41.7h0M29.6 59.8h0M14.3 44.0h0M5.2 10.3h0M55.6 12.9h0M46.3 36.4h0M51.3 22.3h0M20.8 17.7h0M52.9 36.7h0M58.2 53.9h0M8.3 33.5h0M6.4 2.4h0M4.5 52.6h0M48.1 50.3h0M20.8 37.3h0M47.7 22.9h0M34.8 13.6h0M5.0 16.2h0M54.3 34.3h0M56.4 27.8h0M16.9 47.8h0M50.5 0.8h0M40.9 5.6h0M7.0 53.7h0M2.4 14.5h0M60.3 25.6h0M7.0 10.2h0M14.7 45.2h0M6.3 55.3h0M23.1 58.9h0M55.5 17.8h0M15.5 29.0h0M6.1 39.6h0M2.4 0.6h0M59.9 17.9h0M36.4 27.3h0M19.1 3.8h0M55.7 58.9h0M59.2 6.8h0M13.1 37.5h0M59.8 33.0h0M42.0 40.2h0M15.8 32.9h0M18.7 15.0h0M5.0 17.0h0M60.0 27.2h0M39.8 39.1h0M57.4 23.7h0M18.7 19.9h0M19.3 51.4h0M54.5 18.4h0M20.4 33.0h0M35.3 36.2h0M15.0 1.2h0M14.9 4.4h0M33.6 4.3h0M4.6 38.6h0M17.7 48.1h0M30.1 52.4h0M9.4 30.4h0M48.5 4.7h0M57.9 10.5h0M47.3 59.8h0M50.1 19.4h0M6.5 31.2h0M56.1 17.8h0M54.5 8.6h0M55.5 1.9h0M19.3 54.8h0M49.0 55.1h0M51.3 45.3h0M42.1 10.8h0M26.4 9.6h0M43.6 40.5h0M15.4 3.9h0M58.8 49.1h0M33.5 32.9h0M51.9 27.5h0M24.1 20.6h0M15.7 1.5h0M39.4 25.3h0M34.8 3.8h0M21.7 8.4h0M7.6 15.7h0M50.6 24.1h0M24.5 37.2h0M14.2 0.5h0M32.3 30.4h0M39.6 26.6h0M41.9 44.4h0M14.5 30.1h0M29.2 13.7h0M25.1 34.0h0M55.3 55.7h0M16.8 39.2h0M2.9 4.3h0M31.2 53.3h0M9.7 46.5h0M53.9 18.9h0M42.2 51.5h0M22.7 42.6h0M44.9 36.1h0M52.2 54.4h0M58.6 34.7h0M10.8 15.2h0M13.3 34.6h0M46.2 3.2h0M41.6 43.5h0M21.2 31.3h0M10.1 44.3h0M2.5 59.6h0M49.3 38.1h0M16.3 55.4h0M58.5 8.4h0M47.3 51.1h0M40.2 42.5h0M27.1 56.1h0M59.2 23.2h0M49.0 26.3h0M10.1 19.8h0M7.7 55.2h0M58.5 7.2h0M36.6 24.8h0M7.2 17.9h0M15.1 45.5h0M0.2 11.5h0M26.8 1.3h0M38.3 36.8h0M51.0 12.5h0M17.4 32.9h0M16.7 35.6h0M15.3 41.5h0M48.3 49.1h0M59.4 33.1h0M29.9 51.9h0M46.9 34.6h0M23.4 17.2h0M6.6 49.0h0M7.2 45.4h0M33.3 58.6h0M46.4 59.1h0M8.3 30.4h0M34.9 18.9h0M30.7 21.7h0M32.2 0.1h0M27.0 27.3h0M18.6 24.2h0M47.8 41.5h0M30.0 39.3h0M23.0 12.4h0M0.2 16.9h0M36.5 53.5h0M50.6 31.0h0M60.2 28.0h0M50.9 24.8h0M45.4 59.9h0M18.6 10.3h0M37.8 32.2h0M21.9 0.2h0M23.7 25.9h0M24.7 52.3h0M35.7 44.5h0M54.8 45.5h0M30.1 45.3h0M39.1 39.4h0M38.4 24.7h0M38.4 38.5h0M57.2 47.5h0M51.6 46.6h0M49.7 36.8h0M21.3 16.1h0M43.2 53.0h0M33.2 9.2h0M50.8 29.4h0M28.5 2.8h0M31.1 45.2h0M25.8 21.6h0M40.1 1.2h0M30.9 57.4h0M42.1 24.4h0M42.0 36.7h0M12.7 12.6h0M54.0 16.3h0M4.6 50.4h0M31.9 22.4h0M31.2 44.7h0M10.3 39.6h0M43.5 49.5h0" stroke="#9890b8" stroke-width="0.9" stroke-linecap="round" stroke-opacity="0.5"/></g></svg><rect x="491.5" y="9.5" width="61.0" height="60.7" fill="none" stroke="#9a9a9a" stroke-width="0.8" /><svg x="554.5" y="9.5" width="61.7" height="60.7" viewBox="0 0 61.7 60.7"><rect x="0.0" y="0.0" width="61.7" height="60.7" fill="#c88ad0" /><rect width="61.7" height="60.7" filter="url(#t2_0)"/><rect width="61.7" height="60.7" filter="url(#t2_1)"/><rect width="61.7" height="60.7" filter="url(#t2_2)"/><g filter="url(#soft2)"><path d="M59.0 57.5h0M3.5 5.2h0M51.6 44.7h0M41.3 18.7h0M37.4 36.8h0M35.9 9.6h0M26.6 23.9h0M44.6 60.4h0M58.6 33.0h0M27.4 16.3h0M2.2 1.7h0M28.7 19.3h0M23.4 54.1h0M32.4 34.0h0M14.6 1.4h0M20.1 8.3h0M31.5 60.6h0M41.6 11.0h0M55.1 48.4h0M45.3 55.0h0M47.1 47.9h0M21.8 59.5h0M59.3 9.8h0M46.5 43.4h0M28.5 32.2h0M30.2 56.1h0M30.9 50.5h0M21.8 53.6h0M55.5 28.0h0M35.0 55.9h0M44.7 29.5h0M13.7 19.7h0M43.2 10.1h0M56.0 16.3h0M56.2 18.8h0M59.1 42.9h0M31.1 31.4h0M40.2 35.7h0M19.2 12.6h0M31.6 56.7h0M38.5 4.6h0M50.6 44.1h0M56.0 11.6h0M46.0 3.6h0M40.3 16.6h0M14.0 53.1h0M6.6 31.7h0M52.7 14.9h0M13.0 53.5h0M26.1 43.5h0M2.0 22.0h0M10.6 40.8h0M5.1 57.9h0M1.6 44.3h0M1.3 15.5h0M50.2 9.5h0M11.3 42.0h0M23.8 2.6h0M61.1 9.2h0M2.2 20.9h0M38.0 45.1h0M7.0 20.5h0M1.9 27.2h0M47.3 44.9h0M55.7 45.9h0M53.2 42.8h0M29.2 13.7h0M40.8 19.2h0M6.3 27.2h0M54.0 7.7h0M36.1 23.9h0M31.8 8.7h0M59.2 15.7h0M37.4 25.5h0M1.1 33.9h0M8.7 3.4h0M2.1 9.8h0M5.9 38.5h0M31.4 59.7h0M57.6 60.4h0M14.3 27.0h0M15.5 35.9h0M38.5 48.6h0M43.8 15.6h0M26.1 31.9h0M0.3 2.2h0M25.2 6.7h0M44.7 14.6h0M6.2 11.0h0M14.3 13.2h0M32.1 28.2h0M19.1 39.0h0M13.1 55.0h0M59.4 44.2h0M26.8 31.0h0M35.9 3.1h0M25.8 31.9h0M11.2 5.7h0M49.5 22.2h0M32.0 55.9h0M37.7 17.6h0M60.7 22.6h0M1.2 41.6h0M6.2 18.6h0M51.9 40.8h0M1.0 27.4h0M25.3 29.5h0M12.8 35.7h0M4.6 17.3h0M23.0 56.8h0M4.7 45.8h0M11.9 34.7h0M24.2 28.1h0M46.5 24.0h0M7.5 7.4h0M5.0 51.6h0M39.5 58.3h0M42.7 1.5h0M40.7 47.2h0M44.6 30.2h0M22.1 27.7h0M49.3 16.3h0M32.5 29.0h0M58.9 48.8h0M57.5 50.7h0M18.3 14.1h0M30.2 15.7h0M26.4 41.2h0M56.7 35.6h0M50.5 5.8h0M22.0 60.6h0M9.0 25.3h0M4.1 5.2h0M55.3 60.0h0M40.0 7.8h0M18.3 14.1h0M41.4 41.3h0M27.1 31.8h0M6.9 32.8h0M58.6 45.9h0M5.9 31.4h0M44.1 15.6h0M55.2 28.0h0M43.4 24.5h0M61.4 47.5h0M35.4 8.8h0M27.2 1.8h0M36.7 53.5h0M11.1 31.0h0M29.8 24.6h0M43.8 56.9h0M43.5 28.7h0M59.4 20.1h0M46.0 40.0h0M47.0 51.7h0M13.9 37.7h0M24.8 40.5h0M60.3 38.5h0M0.7 28.2h0M43.9 53.6h0M40.1 49.5h0M1.1 57.3h0M45.0 36.8h0M55.9 53.7h0M6.2 49.5h0M47.3 12.1h0M45.9 35.6h0M11.8 48.8h0M8.5 37.2h0M26.8 15.4h0M34.9 28.4h0M12.6 58.7h0M4.5 0.2h0M30.0 50.8h0M40.6 45.8h0M29.9 41.0h0M20.7 16.2h0M31.0 1.7h0M4.9 45.8h0M10.7 45.5h0M48.4 24.6h0M41.6 47.8h0M53.3 8.2h0M10.0 23.2h0M28.7 17.9h0M0.6 33.8h0M59.7 22.2h0M33.2 23.2h0M27.3 52.8h0M19.0 39.4h0M29.8 32.7h0M56.4 4.7h0M50.9 18.5h0M39.9 48.3h0M40.3 23.9h0M51.9 5.6h0M39.1 23.7h0M32.7 51.7h0M49.2 38.2h0M19.0 14.1h0" stroke="#9848a8" stroke-width="1.2" stroke-linecap="round" stroke-opacity="0.5"/><path d="M28.2 14.1h0M17.1 58.1h0M6.9 49.7h0M23.4 22.1h0M19.6 4.7h0M28.2 10.1h0M27.3 17.7h0M55.2 55.9h0M27.3 38.8h0M57.4 19.8h0M6.1 14.4h0M11.7 41.2h0M23.1 21.6h0M49.1 14.2h0M49.9 38.4h0M24.7 50.0h0M21.1 53.3h0M57.1 30.5h0M42.6 57.6h0M45.8 45.6h0M53.6 56.8h0M46.5 59.4h0M18.0 37.8h0M41.4 22.3h0M24.4 10.6h0M59.1 21.5h0M29.4 54.2h0M11.5 58.3h0M7.8 1.7h0M21.6 21.8h0M56.6 53.6h0M47.0 26.5h0M33.5 14.4h0M51.4 23.7h0M17.6 38.7h0M9.3 19.2h0M57.1 5.8h0M8.8 12.4h0M15.5 25.5h0M15.4 20.8h0M15.2 14.6h0M37.7 20.4h0M23.0 46.6h0M3.8 8.7h0M52.5 26.1h0M48.1 8.1h0M32.3 51.3h0M20.9 46.6h0M37.7 24.0h0M61.5 23.8h0M29.2 37.6h0M19.5 50.8h0M36.9 35.7h0M33.2 59.8h0M61.0 51.0h0M28.0 25.0h0M32.4 2.8h0M6.7 60.4h0M7.9 56.9h0M41.9 55.5h0" stroke="#f0e8f6" stroke-width="1.8" stroke-linecap="round" stroke-opacity="0.8"/></g></svg><rect x="554.5" y="9.5" width="61.7" height="60.7" fill="none" stroke="#9a9a9a" stroke-width="0.8" /><ellipse cx="588.5" cy="47.5" rx="4" ry="4.5" fill="#eeeaf4"/><svg x="491.5" y="71.6" width="61" height="61.3" viewBox="0 0 61 61.3"><rect x="0.0" y="0.0" width="61.0" height="61.3" fill="#dedfeb" /><rect width="61" height="61.3" filter="url(#t3_0)"/><rect width="61" height="61.3" filter="url(#t3_1)"/><g filter="url(#soft2)"><path d="M14.5 33.4h0M22.6 37.0h0M38.2 4.0h0M0.8 51.3h0M15.8 14.4h0M60.7 28.8h0M51.0 29.2h0M39.0 9.2h0M38.7 53.2h0M31.9 45.4h0M41.0 3.9h0M46.3 36.2h0M18.4 1.9h0M52.8 29.0h0M43.8 53.9h0M43.6 56.5h0M24.1 49.1h0M27.1 57.4h0M53.6 6.0h0M8.3 13.3h0M58.9 26.7h0M38.2 18.5h0M30.9 23.7h0M21.4 35.9h0M35.6 55.4h0M41.6 56.9h0M52.2 60.7h0M40.9 10.0h0M52.5 59.1h0M55.2 34.9h0M43.5 12.9h0M50.7 35.2h0M17.4 3.9h0M52.1 60.7h0M5.4 49.1h0M25.0 9.2h0M17.9 47.1h0M53.2 2.7h0M37.5 2.8h0M43.8 20.3h0M53.7 60.1h0M30.8 61.2h0M18.9 4.7h0M36.6 1.9h0M12.0 25.0h0M37.2 9.6h0M2.6 53.2h0M19.1 58.8h0M54.7 23.2h0M28.1 31.9h0M39.3 36.5h0M34.1 38.0h0M57.4 31.1h0M26.3 44.2h0M14.5 18.5h0M59.6 31.9h0M33.5 0.7h0M25.3 35.6h0M1.2 37.7h0M38.6 3.7h0M38.3 28.6h0M41.4 21.6h0M43.1 45.2h0M1.4 3.7h0M41.2 59.1h0M15.3 28.0h0M36.2 19.6h0M22.2 19.2h0M22.5 36.5h0M18.3 23.1h0" stroke="#8070b0" stroke-width="1.3" stroke-linecap="round" stroke-opacity="0.8"/><path d="M47.1 1.7h0M34.7 45.1h0M18.9 13.6h0M49.0 14.6h0M11.4 26.7h0M42.6 6.2h0M19.6 20.5h0M50.8 26.9h0M52.2 10.4h0M20.5 39.9h0M54.0 27.7h0M13.7 7.4h0M32.3 11.7h0M49.2 51.4h0M11.2 17.1h0M49.2 39.4h0M49.2 21.2h0M7.9 17.9h0M48.4 16.6h0M21.1 25.6h0M25.6 25.1h0M56.2 9.6h0M0.3 57.8h0M53.7 60.5h0M26.5 58.2h0M56.6 13.6h0M45.5 51.3h0M40.4 31.8h0M17.6 20.9h0M13.9 4.2h0M35.9 17.6h0M49.4 2.8h0M55.1 42.5h0M56.4 55.0h0M54.9 35.4h0M0.8 45.7h0M10.5 18.4h0M40.4 32.2h0M25.2 57.6h0M37.3 20.9h0" stroke="#c880c0" stroke-width="1.1" stroke-linecap="round" stroke-opacity="0.7"/><path d="M15.4 52.8h0M29.1 48.0h0M21.5 12.1h0M32.6 50.1h0M10.4 48.5h0M56.2 49.4h0M50.2 0.5h0M38.3 52.9h0M3.0 16.6h0M16.4 32.3h0M25.8 29.0h0M47.4 0.1h0" stroke="#6858a0" stroke-width="2.5" stroke-linecap="round" stroke-opacity="0.8"/><path d="M3.3 7.8h0M7.6 4.2h0M59.5 52.4h0M5.3 30.8h0M19.3 19.3h0M21.4 39.7h0M35.8 22.1h0M11.7 20.2h0M7.5 34.1h0M43.7 23.3h0M4.9 10.9h0M22.8 37.1h0M47.7 23.3h0M48.9 38.2h0M26.3 22.8h0M30.3 43.1h0M25.7 42.5h0M28.1 15.0h0M32.7 42.6h0M4.4 26.0h0M26.0 53.9h0M57.1 22.9h0M54.8 48.5h0M16.0 28.5h0M7.5 49.9h0M40.4 54.4h0M48.3 40.9h0M44.8 34.6h0M6.3 36.0h0M0.3 8.8h0M47.2 2.7h0M5.6 6.1h0M53.7 11.0h0M1.4 51.6h0M7.4 51.7h0M41.1 51.3h0M58.1 35.5h0M48.7 2.2h0M46.8 31.3h0M43.6 6.5h0M45.7 57.3h0M3.7 19.9h0M34.4 50.8h0M14.8 11.0h0M15.2 37.8h0M46.0 24.1h0M22.4 24.3h0M21.4 25.6h0M5.1 30.7h0M59.4 25.3h0M45.6 9.8h0M42.1 46.3h0M41.1 31.7h0M29.5 39.4h0M54.7 9.2h0M5.8 45.9h0M55.9 31.7h0M27.0 44.1h0M11.4 16.4h0M12.1 35.9h0M19.2 14.2h0M42.2 58.4h0M18.0 43.2h0M25.2 52.3h0M35.7 16.4h0M13.3 1.4h0M29.2 23.5h0M10.5 22.1h0M19.6 47.5h0M8.8 60.8h0M29.3 36.7h0M28.6 51.2h0M50.1 34.2h0M29.4 44.2h0M52.3 24.5h0M44.7 58.9h0M28.5 14.1h0M14.3 44.0h0M41.2 58.8h0M52.1 14.8h0M11.6 15.9h0M11.4 43.2h0M52.4 55.2h0M15.6 53.0h0M19.1 25.9h0M44.5 5.3h0M5.7 51.1h0M17.8 21.9h0M35.4 41.4h0M0.4 20.5h0M26.6 29.8h0M12.8 35.9h0M58.3 24.0h0M33.2 7.3h0M16.8 40.8h0M6.9 54.4h0M55.4 5.9h0M57.4 22.9h0M47.1 46.4h0M18.0 41.4h0M39.9 49.4h0M16.2 46.2h0M58.6 41.2h0M32.7 6.9h0M30.1 21.6h0M43.8 41.6h0M34.5 11.2h0M39.4 38.7h0M10.9 54.6h0M40.0 7.5h0M56.8 8.7h0M20.2 44.2h0M36.4 34.0h0M39.5 28.1h0M19.1 10.8h0M4.2 43.9h0M46.0 33.3h0M45.1 22.0h0M16.2 23.5h0M53.2 2.6h0M30.8 15.2h0M46.9 21.7h0M20.3 24.7h0M33.0 47.3h0M21.5 51.9h0M6.8 16.6h0M6.1 6.9h0M47.5 44.6h0M11.3 11.6h0M25.4 45.6h0M49.8 45.9h0M36.1 9.0h0M24.3 11.9h0M32.2 34.8h0M12.3 15.3h0M47.7 1.8h0M49.0 54.6h0M57.9 23.5h0M33.7 35.7h0M38.7 59.9h0M41.9 18.4h0M52.5 29.7h0M36.7 44.6h0M0.1 47.2h0M40.4 30.2h0M31.9 28.2h0M11.8 32.5h0M2.3 30.7h0M39.4 27.2h0M34.5 58.8h0M54.4 8.3h0M48.3 38.2h0M3.1 22.1h0M14.2 4.8h0M32.9 57.0h0M19.7 53.4h0M42.4 8.2h0M52.4 36.8h0M56.5 43.9h0M45.1 21.1h0M49.2 57.1h0M52.5 26.8h0M46.2 29.7h0M6.7 2.6h0M4.8 12.3h0M9.8 30.5h0M42.7 32.9h0M25.7 39.8h0M18.6 28.5h0M46.2 24.6h0M11.0 55.1h0M43.9 22.5h0M22.6 32.4h0M36.4 13.7h0M0.2 12.8h0M47.8 8.8h0M28.1 12.0h0M12.8 10.5h0M24.6 10.3h0M1.7 6.7h0M10.3 30.1h0M3.6 1.4h0M27.3 25.0h0M42.9 3.1h0M24.6 24.3h0M1.6 59.2h0M13.4 5.8h0M28.9 10.1h0M38.0 21.2h0M7.6 3.2h0M44.4 16.9h0M48.1 28.5h0M56.9 18.4h0M15.2 16.3h0M49.7 38.6h0M21.0 5.7h0M41.6 59.4h0M36.1 0.2h0M1.8 5.5h0M10.4 2.2h0" stroke="#9890b8" stroke-width="0.9" stroke-linecap="round" stroke-opacity="0.5"/></g></svg><rect x="491.5" y="71.6" width="61.0" height="61.3" fill="none" stroke="#9a9a9a" stroke-width="0.8" /><svg x="554.5" y="71.6" width="61.7" height="61.3" viewBox="0 0 61.7 61.3"><rect x="0.0" y="0.0" width="61.7" height="61.3" fill="#9682cc" /><rect width="61.7" height="61.3" filter="url(#t4_0)"/><rect width="61.7" height="61.3" filter="url(#t4_1)"/><rect width="61.7" height="61.3" filter="url(#t4_2)"/><g filter="url(#soft2)"><path d="M14.6 6.3h0M24.4 9.5h0M4.1 24.6h0M56.6 49.1h0M47.2 13.6h0M33.1 17.0h0M10.7 6.5h0M13.2 56.9h0M51.1 49.4h0M49.4 11.9h0M19.1 38.4h0M45.2 52.4h0M54.3 5.3h0M37.4 41.2h0M31.2 10.9h0M29.2 5.5h0M57.7 53.1h0M33.8 18.4h0M56.1 35.1h0M54.4 52.0h0M31.4 25.4h0M37.0 26.4h0M10.0 18.7h0M50.1 2.7h0M2.9 38.4h0M17.3 32.8h0M29.1 21.0h0M61.5 12.0h0M25.5 12.4h0M39.0 16.9h0M22.0 45.8h0M19.8 34.2h0M55.8 6.2h0M3.8 14.0h0M47.2 37.7h0M14.6 20.3h0M11.0 28.1h0M2.6 42.7h0M55.3 58.5h0M45.3 58.8h0M1.1 17.7h0M59.6 47.5h0M25.3 57.8h0M38.3 50.1h0M18.1 11.7h0M27.4 8.4h0M23.5 59.0h0M20.4 0.6h0M2.8 10.4h0M48.4 22.2h0M17.9 6.0h0M60.6 26.0h0M12.8 3.6h0M3.4 10.3h0M41.8 9.2h0M2.5 30.1h0M15.4 61.2h0M7.5 32.4h0M47.7 25.1h0M60.9 29.3h0M14.9 25.2h0M2.3 25.8h0M15.3 54.5h0M51.3 30.6h0M2.0 15.6h0M15.0 12.8h0M14.3 53.3h0M8.7 3.1h0M57.3 34.7h0M61.1 24.7h0M55.6 40.1h0M48.8 45.7h0M30.5 5.7h0M13.0 53.6h0M55.5 56.7h0M20.8 40.3h0M49.3 39.4h0M50.3 32.4h0M40.4 42.0h0M16.6 56.6h0M59.0 4.6h0M59.9 59.0h0M41.2 2.7h0M55.5 7.8h0M59.8 40.9h0M3.7 10.3h0M39.2 34.9h0M46.1 56.9h0M13.5 0.2h0M56.9 0.8h0M54.1 7.1h0M50.0 48.0h0M54.2 33.8h0M54.2 12.4h0M41.4 20.3h0M55.0 47.4h0M29.1 32.3h0M1.6 2.1h0M36.7 30.0h0M53.4 37.3h0M8.6 22.2h0M47.4 32.1h0M0.7 51.4h0M51.1 5.2h0M33.5 23.4h0M48.6 19.1h0M14.4 29.8h0M59.6 5.8h0M7.1 38.1h0M54.6 31.4h0M26.8 52.6h0M47.9 4.1h0M54.4 12.0h0M18.7 51.3h0M26.1 48.9h0M10.3 53.6h0M10.9 9.2h0M30.5 20.8h0M33.4 55.4h0M43.8 0.3h0" stroke="#4c40b0" stroke-width="1.4" stroke-linecap="round" stroke-opacity="0.5"/><path d="M19.2 33.4h0M30.0 43.9h0M29.9 4.6h0M15.1 52.0h0M22.0 47.0h0M60.8 38.4h0M41.8 37.4h0M19.3 56.0h0M28.8 55.9h0M18.9 53.2h0M48.5 37.6h0M27.3 8.6h0M47.6 22.2h0M40.9 8.2h0M5.1 8.8h0M49.9 10.9h0M55.6 22.8h0M35.5 21.5h0M38.3 5.7h0M24.8 57.4h0M11.1 40.1h0M20.2 18.4h0M1.4 1.2h0M58.6 50.9h0M49.4 49.5h0M58.8 9.7h0M36.0 30.4h0M35.4 57.5h0M46.9 59.4h0M7.2 39.9h0M41.7 45.7h0M38.1 51.0h0M18.7 56.9h0M25.1 36.7h0M55.3 43.1h0M19.1 14.1h0M20.2 38.4h0M61.5 55.1h0M24.7 24.6h0M50.4 17.4h0M25.4 0.8h0M11.3 33.1h0M42.8 37.7h0M22.5 58.3h0M38.5 9.6h0M4.2 59.7h0M60.9 56.4h0M37.3 19.1h0M5.6 15.8h0M13.7 56.9h0" stroke="#f0eaf6" stroke-width="1.8" stroke-linecap="round" stroke-opacity="0.8"/></g></svg><rect x="554.5" y="71.6" width="61.7" height="61.3" fill="none" stroke="#9a9a9a" stroke-width="0.8" /><ellipse cx="592.5" cy="109" rx="4" ry="4.5" fill="#f4f0f8"/><ellipse cx="612" cy="95" rx="4" ry="2" fill="#f4f0f8"/><text x="1.9" y="144.6" font-size="13" font-weight="bold">C</text><text x="23.2" y="151.8" font-size="10.9">scRNA-seq data of mice treated with bleomycin and saliine</text><line x1="16.2" y1="154.6" x2="311.0" y2="154.6" stroke="#222" stroke-width="1.1" /><rect x="14.2" y="160.7" width="116.7" height="115.8" fill="#fff" stroke="#888" stroke-width="0.9" /><line x1="14.2" y1="160.7" x2="130.9" y2="160.7" stroke="#666" stroke-width="1.3" /><polygon points="38.9,179.5 46.1,179.2 47.0,183.1 44.3,187.6 40.7,189.4 38.0,187.6 38.9,183.1" fill="#666666" /><path d="M42.1 188.1h0M42.1 188.3h0M39.1 188.2h0M44.5 189.0h0M37.9 184.3h0M41.6 188.5h0M45.1 179.3h0M46.8 180.9h0M37.3 187.8h0M45.3 188.2h0M42.3 189.4h0M38.3 185.5h0M39.5 178.7h0M39.1 182.2h0M38.5 189.3h0M42.8 187.5h0M39.1 187.7h0M42.0 179.5h0M39.9 179.4h0M41.9 190.0h0M43.9 188.4h0M42.6 189.3h0M47.5 177.6h0M40.3 188.5h0M39.9 188.8h0M46.2 179.8h0M39.3 180.3h0M39.1 179.2h0" stroke="#666666" stroke-width="1.0" stroke-linecap="round"/><polygon points="23.7,205.6 28.2,200.2 33.5,196.6 37.1,193.0 38.9,189.4 42.5,188.5 41.6,193.9 46.1,195.7 54.2,196.6 52.4,200.2 47.9,202.0 45.2,205.6 40.7,206.5 37.1,208.3 31.8,211.0 27.3,213.7 23.7,211.9 22.8,208.3" fill="#e7298a" /><path d="M41.6 206.5h0M24.8 212.8h0M40.2 190.2h0M41.6 193.5h0M36.9 207.6h0M36.7 192.6h0M40.3 206.0h0M52.1 200.2h0M38.3 188.6h0M35.0 195.3h0M23.5 205.5h0M28.4 200.3h0M39.8 190.0h0M45.8 203.4h0M41.9 188.5h0M42.2 206.2h0M35.2 194.2h0M32.6 196.0h0M42.4 188.3h0M24.6 211.4h0M26.5 200.4h0M39.7 207.2h0M37.5 194.2h0M46.8 202.3h0M28.7 212.0h0M22.9 211.2h0M54.9 197.5h0M27.0 213.3h0M44.0 194.1h0M29.6 213.1h0M52.5 197.9h0M44.8 196.2h0M47.8 203.3h0M32.6 197.4h0M40.6 189.5h0M33.9 209.2h0M30.6 211.3h0M31.7 198.5h0M26.1 202.4h0M53.9 197.7h0M37.1 190.6h0M40.7 206.0h0M26.0 211.9h0M23.7 206.9h0M43.7 205.8h0M42.6 189.0h0M35.6 194.6h0M28.5 210.9h0M38.2 206.7h0M46.3 203.2h0M39.3 190.9h0M50.2 200.5h0M26.0 204.1h0M22.9 208.9h0M46.6 195.9h0M41.4 189.8h0M25.5 213.3h0M25.6 213.6h0M35.3 194.3h0M21.8 206.3h0M22.1 205.8h0M43.6 195.2h0M53.5 199.6h0M23.0 212.5h0M29.8 199.2h0M37.9 191.0h0M24.4 206.4h0M39.4 207.0h0M33.9 210.0h0M23.8 211.8h0M54.0 196.9h0M43.0 194.2h0M43.2 205.8h0M37.8 189.1h0M24.0 208.9h0M21.6 209.3h0M21.8 206.3h0M39.7 187.8h0M41.5 191.9h0" stroke="#e7298a" stroke-width="1.0" stroke-linecap="round"/><polygon points="38.9,205.6 43.4,205.0 47.0,207.4 47.9,211.0 45.2,212.8 41.6,211.9 39.3,209.2" fill="#377eb8" /><path d="M46.3 207.2h0M44.6 205.8h0M44.4 213.1h0M43.2 204.5h0M39.1 203.9h0M45.8 207.7h0M42.4 210.6h0M48.6 211.4h0M41.5 212.0h0M41.2 203.4h0M43.2 212.4h0M48.4 211.6h0M45.5 212.4h0M42.3 205.4h0M46.6 211.0h0M46.8 207.3h0M48.2 209.4h0M39.9 205.5h0M46.7 206.1h0M48.2 209.3h0M44.9 207.9h0M42.9 210.8h0M47.9 212.7h0" stroke="#377eb8" stroke-width="1.0" stroke-linecap="round"/><polygon points="69.5,175.1 74.0,176.9 77.5,183.1 75.7,189.4 71.3,193.0 66.8,192.1 63.2,187.6 64.1,181.3 65.9,178.7" fill="#e6ab02" /><path d="M69.9 192.6h0M71.6 175.1h0M65.6 191.4h0M76.5 179.3h0M76.9 181.6h0M76.6 182.3h0M72.8 176.3h0M71.0 192.2h0M65.8 177.0h0M76.4 180.6h0M71.9 175.5h0M75.0 188.2h0M63.2 182.2h0M69.4 193.8h0M68.5 174.2h0M69.5 175.3h0M76.7 185.5h0M66.4 189.5h0M67.2 191.3h0M64.5 180.4h0M77.2 181.9h0M73.9 192.3h0M64.8 180.5h0M76.2 184.3h0M64.4 178.8h0M61.2 188.1h0M68.0 192.7h0M67.2 191.8h0M68.3 191.2h0M72.9 191.2h0M73.2 190.8h0M72.9 176.2h0M73.1 176.8h0M77.1 181.4h0M72.3 192.3h0M73.8 190.7h0M75.4 182.4h0M73.7 190.2h0M75.5 183.5h0M65.8 189.3h0M76.5 186.1h0M67.4 192.3h0M64.1 179.5h0M70.1 176.3h0" stroke="#e6ab02" stroke-width="1.0" stroke-linecap="round"/><polygon points="97.8,177.4 100.9,180.4 102.7,184.9 103.6,187.6 100.9,186.7 99.1,189.4 98.2,192.1 96.4,190.3 95.5,186.7 97.3,183.1 96.4,179.5" fill="#ff7f00" /><path d="M100.8 183.6h0M99.3 190.8h0M99.7 191.3h0M97.8 180.3h0M100.3 187.3h0M100.2 189.8h0M95.5 186.4h0M97.3 190.5h0M96.6 182.1h0M97.4 182.3h0M99.5 189.2h0M104.3 186.2h0M96.7 191.6h0M101.4 182.3h0M98.7 189.3h0M96.8 177.7h0M95.4 185.7h0M97.5 191.3h0M102.9 183.2h0M97.7 178.8h0M103.6 184.1h0M96.5 185.5h0M96.6 190.9h0M97.2 179.2h0M97.0 192.8h0M97.0 190.0h0M103.5 187.2h0M96.0 187.1h0M102.1 185.3h0M95.9 188.7h0M101.8 186.8h0M97.6 177.5h0M98.4 189.2h0" stroke="#ff7f00" stroke-width="1.0" stroke-linecap="round"/><polygon points="66.8,198.4 71.3,197.5 74.0,200.2 78.4,201.1 79.3,204.7 76.6,207.4 82.0,209.2 87.4,205.6 91.0,203.8 95.5,204.3 100.0,208.3 101.8,213.7 98.2,215.5 91.9,216.4 87.4,215.5 83.8,216.4 78.4,217.3 75.7,215.5 73.1,211.9 71.3,209.2 67.7,208.3 65.9,204.7 68.6,201.1" fill="#66a61e" /><path d="M68.2 202.5h0M88.9 205.3h0M92.4 215.0h0M73.0 199.4h0M78.4 217.4h0M89.4 216.2h0M101.5 208.3h0M78.3 206.4h0M75.2 215.1h0M87.3 205.0h0M74.8 199.9h0M81.2 217.6h0M73.0 213.7h0M90.5 214.9h0M85.7 215.4h0M82.4 208.9h0M97.4 216.4h0M68.8 201.1h0M64.9 203.8h0M79.8 203.5h0M67.6 200.2h0M71.3 196.6h0M69.4 207.7h0M99.8 207.1h0M75.5 201.7h0M100.4 210.8h0M67.2 206.8h0M78.4 207.2h0M76.4 208.6h0M72.0 210.1h0M78.9 201.9h0M88.1 215.9h0M76.6 207.4h0M89.0 214.7h0M102.0 212.4h0M69.3 209.2h0M99.0 207.4h0M77.4 217.0h0M68.5 199.0h0M74.4 214.0h0M72.7 209.9h0M68.2 198.8h0M69.7 198.2h0M88.5 205.1h0M77.5 201.7h0M78.8 202.1h0M71.1 210.0h0M91.7 202.2h0M102.1 212.6h0M97.7 208.1h0M99.2 216.1h0M74.8 201.4h0M66.3 202.6h0M93.5 215.0h0M77.3 207.8h0M96.8 216.0h0M78.0 205.1h0M66.0 204.1h0M91.4 215.8h0M88.8 215.0h0M86.0 215.9h0M66.9 200.4h0M76.7 216.6h0M69.4 198.5h0M87.5 214.9h0M99.9 207.4h0M88.0 214.1h0M79.5 216.9h0M100.0 206.3h0M65.9 203.1h0M77.8 206.7h0M74.5 199.9h0M73.6 213.6h0M96.0 205.2h0M83.9 216.6h0M72.3 212.1h0M98.7 210.0h0M79.6 218.7h0M67.5 200.1h0M99.7 215.4h0M67.1 199.5h0M88.3 205.6h0M98.1 208.8h0M89.5 216.6h0M86.7 217.2h0M79.2 204.1h0M89.0 205.3h0M68.0 203.4h0M99.8 208.4h0M79.5 207.6h0M85.7 217.1h0M69.3 198.5h0M72.6 212.9h0" stroke="#66a61e" stroke-width="1.0" stroke-linecap="round"/><polygon points="54.2,219.1 57.8,218.2 60.5,220.0 65.9,222.6 71.3,223.5 75.7,221.7 80.2,220.0 83.8,217.3 87.4,214.6 91.0,211.9 91.9,215.5 89.2,220.0 84.7,224.4 80.2,228.9 75.7,231.6 71.3,230.7 68.6,228.0 64.1,227.1 59.6,227.1 55.1,226.2 53.3,223.5" fill="#1b9e77" /><path d="M84.5 216.6h0M76.6 222.0h0M58.7 226.4h0M76.3 219.9h0M90.3 217.5h0M63.3 225.6h0M63.4 226.7h0M53.8 224.2h0M90.4 211.9h0M70.4 228.4h0M86.5 213.7h0M58.1 226.2h0M54.2 226.2h0M72.6 230.8h0M69.8 223.0h0M86.9 215.9h0M89.6 217.8h0M56.8 225.9h0M84.2 226.6h0M54.4 224.4h0M85.5 221.2h0M73.6 220.3h0M72.3 221.9h0M55.4 218.6h0M80.4 227.3h0M59.2 217.2h0M54.7 226.6h0M85.8 216.4h0M92.4 213.0h0M56.0 217.1h0M91.8 217.1h0M76.6 221.9h0M83.8 226.4h0M84.0 216.6h0M80.5 218.1h0M71.3 229.5h0M70.5 230.4h0M88.7 213.7h0M78.0 220.3h0M53.9 221.1h0M74.6 221.8h0M86.6 215.2h0M88.2 219.7h0M83.4 224.9h0M57.9 218.1h0M80.6 219.4h0M90.2 213.5h0M65.3 228.7h0M84.2 225.7h0M72.7 232.3h0M83.4 217.8h0M72.6 223.6h0M59.6 225.8h0M65.7 223.6h0M71.4 223.1h0M53.7 222.0h0M70.6 231.0h0M69.7 230.6h0M82.5 219.7h0M85.6 214.1h0M73.3 224.2h0M92.4 214.5h0M85.7 223.7h0M81.7 226.2h0M89.7 219.5h0M88.9 219.2h0M78.1 221.1h0M88.9 219.6h0M63.3 221.1h0M80.8 229.5h0M74.2 231.2h0M74.2 223.2h0M68.9 228.5h0M84.9 217.5h0M60.7 227.2h0M55.3 220.8h0M91.3 216.7h0M81.9 216.2h0M75.8 220.8h0M57.6 227.3h0M61.4 226.5h0M79.7 218.5h0M65.4 221.7h0M73.3 231.0h0M53.7 223.7h0M88.8 212.3h0M90.0 213.9h0M91.7 215.9h0" stroke="#1b9e77" stroke-width="1.0" stroke-linecap="round"/><polygon points="69.5,213.7 73.1,213.7 74.0,219.1 71.3,222.6 69.5,220.0" fill="#984ea3" /><path d="M68.7 214.4h0M74.3 215.8h0M72.8 214.3h0M72.7 219.1h0M73.2 215.7h0M70.4 221.2h0M73.9 217.7h0M71.6 220.0h0M71.7 221.9h0M71.7 222.5h0M73.2 219.0h0M73.0 219.7h0M70.0 217.5h0M72.8 212.7h0M71.0 222.5h0M69.3 217.2h0M72.6 220.0h0M72.5 221.1h0M72.9 221.5h0M74.4 220.6h0" stroke="#984ea3" stroke-width="1.0" stroke-linecap="round"/><polygon points="93.7,226.2 96.4,225.3 98.7,227.1 97.8,229.5 95.5,228.9 93.7,229.8" fill="#e41a1c" /><path d="M97.1 230.3h0M94.3 228.6h0M95.3 229.8h0M97.3 227.7h0M94.9 228.2h0M96.0 229.4h0M94.8 229.2h0M95.6 226.5h0M98.3 227.8h0M96.0 229.1h0M94.7 225.6h0M97.4 229.2h0M94.7 230.2h0M94.6 228.8h0" stroke="#e41a1c" stroke-width="1.0" stroke-linecap="round"/><polygon points="109.0,228.9 117.0,228.0 120.6,229.8 119.7,234.3 115.3,240.6 111.7,246.0 108.1,249.6 103.6,249.6 101.8,246.0 102.7,240.6 105.4,235.2 106.3,230.7" fill="#a6761d" /><path d="M105.7 233.5h0M106.3 234.2h0M107.2 230.5h0M113.0 244.6h0M120.4 231.7h0M105.2 250.0h0M102.5 241.3h0M120.4 230.9h0M110.7 247.4h0M105.7 248.6h0M120.1 229.0h0M119.8 233.3h0M107.2 230.4h0M116.5 238.9h0M106.9 229.6h0M117.4 226.9h0M104.4 250.0h0M117.8 236.6h0M112.6 228.6h0M114.2 228.2h0M102.9 249.5h0M117.2 238.9h0M120.3 233.0h0M118.8 232.1h0M117.4 229.3h0M118.4 228.5h0M101.6 241.9h0M107.0 250.7h0M116.2 228.7h0M119.1 234.8h0M104.4 241.5h0M110.1 248.2h0M116.4 239.9h0M107.6 248.8h0M104.0 249.3h0M107.7 233.2h0M102.3 242.4h0M110.2 246.9h0M105.7 232.0h0M120.3 230.5h0M115.9 240.8h0M110.9 247.1h0M116.0 239.5h0M107.7 249.9h0M108.0 249.4h0M102.7 245.9h0M106.4 249.3h0M112.9 246.3h0M114.5 241.0h0M102.8 238.8h0M108.8 247.7h0M114.0 244.3h0M113.4 229.8h0M113.8 243.1h0M102.5 239.3h0M118.8 235.5h0M107.1 227.4h0" stroke="#a6761d" stroke-width="1.0" stroke-linecap="round"/><polygon points="76.6,243.3 82.0,241.5 84.7,239.7 88.3,237.9 89.2,235.2 92.8,234.3 94.6,237.0 91.9,239.7 88.3,240.6 87.4,244.2 88.3,248.7 85.6,248.7 83.8,245.1 80.2,244.2 77.5,245.1" fill="#a65628" /><path d="M78.8 245.2h0M92.1 240.6h0M87.8 239.0h0M80.8 242.4h0M87.1 248.9h0M90.0 238.5h0M87.6 244.9h0M87.7 239.6h0M76.9 242.1h0M82.9 243.6h0M89.8 241.0h0M77.6 243.8h0M76.9 245.8h0M87.5 243.7h0M88.3 242.9h0M87.4 248.6h0M82.2 244.4h0M89.0 236.7h0M89.0 239.1h0M84.8 239.2h0M89.3 245.4h0M92.6 240.6h0M83.9 239.7h0M87.0 243.3h0M75.7 242.1h0M78.6 243.1h0M88.8 240.7h0M92.2 239.8h0M85.0 238.7h0M92.8 239.8h0M87.8 237.3h0M93.8 236.4h0M93.1 234.8h0M88.5 240.7h0M84.6 248.2h0M87.5 236.3h0M93.6 235.4h0M87.8 247.9h0M84.6 248.4h0M87.6 244.8h0M81.5 244.5h0M92.0 232.9h0M85.5 249.1h0M87.6 249.0h0M89.8 236.3h0M82.1 248.0h0M91.0 239.0h0M77.0 243.4h0" stroke="#a65628" stroke-width="1.0" stroke-linecap="round"/><polygon points="21.0,232.5 28.2,230.7 33.5,231.6 35.3,237.0 40.7,242.4 43.4,246.0 41.6,249.6 35.3,250.5 29.1,249.6 23.7,247.8 20.1,244.2 19.2,238.8" fill="#d95f02" /><path d="M19.3 240.1h0M19.5 236.8h0M30.1 231.5h0M33.4 233.9h0M31.6 230.3h0M32.4 232.8h0M19.9 238.6h0M20.1 240.9h0M40.8 251.4h0M34.9 236.4h0M36.2 251.6h0M31.9 249.3h0M34.7 249.9h0M24.0 246.8h0M19.0 241.8h0M38.0 249.5h0M22.9 246.5h0M32.0 232.0h0M21.7 236.7h0M41.6 242.9h0M23.8 248.3h0M26.0 248.8h0M22.8 248.9h0M27.8 231.1h0M34.4 251.8h0M43.1 249.7h0M41.5 241.3h0M43.3 245.4h0M40.9 249.9h0M19.5 232.8h0M40.7 243.2h0M42.3 245.8h0M41.9 244.8h0M43.7 246.4h0M23.7 247.4h0M19.5 236.5h0M20.9 245.3h0M41.4 248.1h0M19.5 240.3h0M27.4 247.4h0M34.7 232.8h0M19.4 240.2h0M20.5 245.1h0M43.0 249.6h0M28.5 231.1h0M21.0 238.7h0M28.1 249.4h0M23.9 247.1h0M19.7 238.6h0M18.1 235.0h0M29.1 249.1h0M41.2 240.0h0M35.2 236.2h0M31.4 249.7h0M23.2 247.8h0M35.7 236.9h0M43.5 245.9h0M33.7 235.2h0M19.7 239.8h0M41.0 241.6h0M41.7 247.8h0M35.9 237.9h0M41.8 248.8h0" stroke="#d95f02" stroke-width="1.0" stroke-linecap="round"/><polygon points="65.9,261.3 69.5,259.5 73.1,258.6 75.7,259.5 77.5,255.9 79.3,256.8 80.2,262.1 83.8,265.7 84.7,269.3 81.1,271.1 76.6,272.0 73.1,271.1 69.5,269.3 65.9,265.7" fill="#4daf4a" /><path d="M81.2 263.3h0M84.5 266.3h0M74.2 272.4h0M79.3 256.5h0M69.9 260.3h0M76.5 272.3h0M73.9 271.9h0M83.0 265.1h0M73.5 258.6h0M73.9 258.4h0M69.6 268.0h0M74.5 270.7h0M67.4 260.6h0M73.9 260.3h0M76.4 257.7h0M75.1 259.5h0M75.3 257.5h0M69.5 268.9h0M72.3 272.8h0M72.8 257.4h0M70.7 259.6h0M83.2 269.5h0M67.9 267.3h0M77.7 258.4h0M75.2 272.2h0M79.0 271.4h0M77.8 270.6h0M84.4 266.6h0M76.6 271.2h0M67.7 261.0h0M66.4 264.9h0M65.8 265.7h0M67.2 261.0h0M67.7 259.8h0M70.9 269.8h0M78.5 257.0h0M81.5 264.3h0M85.5 266.0h0M73.8 271.7h0M79.6 256.3h0M83.7 272.0h0M78.6 256.4h0M82.5 267.8h0M81.9 269.4h0M80.2 262.6h0M83.4 267.0h0M68.8 260.0h0M83.8 266.2h0M77.6 271.3h0M73.9 272.0h0M70.6 259.1h0" stroke="#4daf4a" stroke-width="1.0" stroke-linecap="round"/><polygon points="57.8,252.3 62.3,251.4 65.0,253.2 66.8,250.5 68.6,246.9 71.3,247.8 70.4,251.4 69.5,255.9 66.8,256.8 64.1,255.9 61.4,255.0 58.7,254.1" fill="#7570b3" /><path d="M59.7 255.0h0M67.4 248.2h0M58.3 252.8h0M58.0 255.2h0M64.3 253.4h0M61.6 250.7h0M61.3 253.4h0M59.5 254.1h0M71.7 247.3h0M66.2 250.9h0M59.0 253.9h0M59.1 252.3h0M61.4 251.4h0M68.8 255.8h0M66.4 251.7h0M61.7 254.3h0M70.8 249.3h0M71.1 247.2h0M61.4 253.4h0M63.0 255.7h0M62.1 251.7h0M58.2 251.9h0M57.8 254.9h0M70.9 248.9h0M61.6 252.9h0M60.3 256.2h0M67.7 257.1h0M67.7 255.5h0M56.9 254.1h0M63.6 255.4h0M68.2 249.7h0M65.8 252.9h0M57.7 253.8h0M60.1 251.9h0M65.1 253.7h0" stroke="#7570b3" stroke-width="1.0" stroke-linecap="round"/><polygon points="58.3,252.3 62.3,251.7 63.7,255.9 60.5,256.8" fill="#999999" /><path d="M61.4 252.0h0M59.6 252.8h0M62.1 252.4h0M60.3 256.1h0M59.9 252.4h0M58.5 253.1h0M62.4 255.3h0M60.3 256.1h0M59.8 251.4h0M59.2 253.1h0M61.2 251.0h0M61.8 257.3h0M62.6 254.7h0M58.5 252.3h0M58.6 252.9h0" stroke="#999999" stroke-width="1.0" stroke-linecap="round"/><polygon points="48.8,264.8 50.6,262.1 53.3,260.4 54.7,261.3 52.4,263.9 49.7,265.7" fill="#ffff33" /><path d="M53.2 263.9h0M53.7 260.5h0M49.5 266.0h0M48.2 264.8h0M52.9 261.8h0M54.3 262.1h0M52.3 262.5h0M49.9 265.3h0M52.0 261.3h0M48.7 265.7h0M53.9 260.9h0M53.3 264.4h0M51.2 262.6h0M53.3 262.7h0" stroke="#ffff33" stroke-width="1.0" stroke-linecap="round"/><polygon points="56.0,237.0 58.7,237.0 60.5,242.4 56.9,243.3" fill="#4daf4a" /><path d="M58.7 241.3h0M56.9 240.7h0M59.7 237.8h0M57.1 239.5h0M55.8 238.2h0M57.0 243.6h0M57.4 242.8h0M56.7 239.7h0M60.8 238.4h0M57.9 237.9h0M57.6 237.7h0M57.1 244.4h0M60.1 241.4h0M58.9 242.9h0M59.3 241.3h0M58.0 242.8h0" stroke="#4daf4a" stroke-width="1.0" stroke-linecap="round"/><polygon points="86.2,166.1 88.3,165.7 88.7,167.5 86.5,167.9" fill="#f781bf" /><path d="M88.4 166.9h0M86.6 168.9h0M86.9 168.6h0M87.7 165.2h0M87.0 164.1h0M87.1 166.3h0M86.5 166.6h0" stroke="#f781bf" stroke-width="1.0" stroke-linecap="round"/><rect x="189.2" y="162.2" width="116.5" height="116.5" fill="#fff" stroke="#888" stroke-width="0.9" /><line x1="189.2" y1="162.2" x2="305.7" y2="162.2" stroke="#666" stroke-width="1.3" /><polygon points="214.1,181.0 221.3,180.7 222.2,184.6 219.5,189.1 215.9,190.9 213.2,189.1 214.1,184.6" fill="#f0027f" /><path d="M217.8 189.5h0M219.0 189.6h0M214.5 182.6h0M219.4 181.5h0M221.9 183.0h0M221.1 180.3h0M218.2 191.5h0M213.8 181.3h0M216.8 191.4h0M222.6 182.1h0M213.1 184.8h0M216.1 181.4h0M216.2 189.9h0M222.3 180.5h0M220.2 188.3h0M222.0 185.9h0M214.4 189.4h0M215.7 191.0h0M222.4 183.5h0M215.2 190.6h0M212.6 188.3h0M215.1 190.1h0M220.4 182.4h0M214.6 182.8h0M215.4 191.5h0M215.8 192.3h0M222.0 184.5h0M224.7 182.8h0" stroke="#f0027f" stroke-width="1.0" stroke-linecap="round"/><path d="M217.8 180.9h0M216.1 188.7h0M215.3 186.1h0M217.5 187.1h0M215.6 190.4h0M221.3 182.3h0M215.9 189.6h0M215.7 190.3h0M217.9 187.8h0M219.6 182.9h0M215.8 183.3h0M219.4 187.8h0M214.4 189.8h0M217.0 183.2h0M218.3 187.1h0M220.1 185.0h0" stroke="#7570b3" stroke-width="1.0" stroke-linecap="round"/><path d="M212.2 193.8h0M215.5 207.4h0M217.3 188.4h0M209.0 197.9h0M213.0 208.9h0M227.3 200.5h0M211.7 193.1h0M221.7 197.5h0M223.3 204.4h0M216.0 192.5h0M219.9 208.3h0M201.5 214.2h0M228.9 198.3h0M219.5 206.4h0M227.4 201.6h0M221.6 204.3h0M225.1 197.4h0M224.2 196.2h0M197.2 209.1h0M198.0 209.5h0M199.6 205.3h0M225.4 202.2h0M216.4 191.1h0M225.3 202.0h0M222.7 204.2h0M214.0 208.3h0M206.3 211.9h0M217.7 191.5h0M229.9 200.5h0M217.2 207.3h0M224.3 204.8h0M202.8 204.5h0M217.4 195.1h0M221.4 196.2h0M202.6 204.5h0M198.2 209.3h0M215.9 190.2h0M206.2 212.1h0M198.9 213.1h0M216.7 189.5h0M210.1 211.1h0M212.0 195.3h0M213.6 191.6h0M221.2 196.3h0M200.3 203.1h0M218.3 197.2h0M220.1 207.1h0M221.9 206.8h0M220.4 207.9h0M217.1 190.4h0M200.5 215.1h0M221.0 205.8h0M202.1 213.8h0M219.8 207.7h0M216.7 189.4h0M228.6 199.2h0M200.8 214.5h0M228.4 200.2h0M220.3 206.7h0M213.8 209.2h0M217.0 208.4h0M215.3 208.9h0M198.8 214.5h0M211.6 196.4h0M227.1 201.3h0M227.6 199.6h0M199.6 214.2h0M200.3 214.6h0M216.6 195.6h0M197.9 209.5h0M222.1 204.9h0M227.5 202.0h0M215.6 190.2h0M217.3 191.6h0M205.2 200.0h0M217.8 195.0h0M201.8 214.9h0M223.8 197.4h0M198.2 210.0h0" stroke="#f0027f" stroke-width="1.0" stroke-linecap="round"/><path d="M204.5 211.2h0M211.9 202.3h0M213.8 200.5h0M200.3 207.1h0M214.2 199.9h0M200.5 207.1h0M208.9 206.5h0M202.7 209.8h0M213.8 194.2h0M212.3 198.2h0M217.2 199.4h0M207.5 211.9h0M217.5 204.0h0M215.5 193.5h0M205.5 203.7h0M229.0 198.6h0M208.6 205.9h0M210.2 198.5h0M204.0 213.1h0M202.2 207.2h0M214.6 208.1h0M203.3 211.3h0M215.9 194.5h0M216.1 192.1h0M217.6 206.7h0M202.4 213.0h0M224.9 201.6h0M205.2 213.4h0M214.2 205.0h0M214.5 205.9h0M215.1 204.5h0M212.1 203.1h0M222.1 204.0h0M219.1 206.9h0M214.7 200.2h0M215.5 192.3h0M221.8 199.4h0M207.5 199.0h0M211.8 210.1h0M201.0 207.7h0M222.4 202.1h0M211.7 202.6h0M222.0 199.7h0M200.1 212.4h0M224.5 201.3h0M204.1 202.4h0M223.2 200.4h0M210.0 198.0h0M204.5 209.7h0M203.8 205.8h0M220.6 198.5h0M201.1 208.6h0M207.6 209.0h0M215.1 205.8h0M225.1 198.3h0M225.9 201.9h0M218.1 200.6h0M223.7 197.8h0M214.6 202.5h0M211.4 196.1h0M212.9 193.3h0M203.4 214.5h0M204.5 210.8h0M210.9 197.2h0M218.8 203.2h0M199.0 209.2h0M198.8 211.2h0M211.6 201.0h0M215.3 199.5h0M202.9 208.3h0M199.8 209.5h0M202.6 209.9h0M222.2 199.3h0M213.8 205.1h0M215.3 205.4h0M211.6 207.1h0M202.5 210.4h0M212.0 207.1h0M204.4 207.4h0M211.2 205.5h0M217.2 191.1h0M208.8 206.0h0M224.2 199.1h0M205.0 213.4h0M220.2 197.9h0M204.9 201.9h0M200.0 208.9h0M202.5 211.7h0M211.1 197.9h0M211.7 203.9h0M227.8 200.9h0M226.3 201.6h0M213.5 196.8h0M214.5 203.1h0M205.2 205.3h0M203.4 201.9h0M217.3 206.5h0M215.0 193.5h0M213.8 208.2h0M210.7 202.3h0M209.5 199.2h0M220.3 206.5h0M221.4 198.8h0M214.7 208.4h0M211.1 203.7h0M202.5 207.0h0M213.9 200.9h0M216.5 202.8h0M213.6 208.6h0M204.7 207.4h0M209.1 207.7h0M214.2 204.8h0M224.1 198.2h0M215.9 199.7h0M220.9 201.7h0M217.1 207.0h0M219.2 204.7h0M210.2 205.8h0M203.2 212.8h0M205.1 202.9h0M213.2 205.5h0M205.1 203.9h0M206.7 206.3h0M215.2 196.9h0M222.5 200.5h0M213.5 205.1h0M211.8 203.7h0M213.9 200.3h0M217.6 206.4h0M214.1 193.3h0M217.0 199.3h0M209.5 206.9h0M216.5 196.3h0M204.9 208.2h0M214.5 206.4h0M214.2 191.9h0M217.4 199.2h0M199.2 206.9h0M214.8 197.5h0M201.1 210.7h0M220.1 203.9h0M211.2 200.1h0M218.3 206.4h0M214.4 192.7h0M212.7 206.8h0M215.3 206.2h0M204.1 204.4h0M212.9 194.0h0M228.9 198.7h0M223.1 199.5h0M208.4 200.9h0M209.3 207.4h0M206.2 212.1h0M207.2 208.0h0M204.3 204.6h0M206.0 208.5h0M217.0 206.9h0M209.0 204.3h0M209.3 200.5h0M214.6 192.6h0M202.8 214.7h0M213.0 204.2h0M205.5 209.7h0M200.3 206.7h0M215.1 198.7h0M211.2 199.8h0M216.5 190.9h0M202.3 204.4h0M222.2 201.6h0M217.8 207.5h0M203.6 213.9h0M207.0 204.4h0M204.4 209.5h0M210.6 209.8h0M207.5 204.5h0M213.6 199.8h0M202.4 211.8h0M213.9 197.1h0M208.4 206.7h0M216.8 193.1h0M203.1 202.6h0M204.1 203.7h0M203.5 214.2h0M209.6 210.4h0M202.8 206.0h0M217.5 206.0h0M213.8 202.4h0M218.5 197.7h0M204.6 208.4h0M206.2 200.2h0M203.5 204.7h0M215.1 206.4h0M200.6 213.7h0M214.0 199.3h0M208.4 211.5h0M225.6 199.8h0M211.4 197.4h0M216.5 196.0h0M209.7 207.5h0M213.0 199.9h0M203.6 206.8h0M202.1 213.4h0M210.0 201.9h0M210.6 202.0h0M217.5 190.3h0M209.4 197.6h0M202.8 204.9h0M226.7 198.8h0M208.2 202.3h0M214.0 208.1h0M203.0 207.8h0M212.6 198.6h0M206.6 207.3h0M211.2 203.2h0M209.9 202.9h0M213.2 203.7h0M214.0 206.8h0M213.5 194.0h0M204.5 203.3h0M206.3 204.1h0M216.8 196.0h0M223.1 202.3h0M208.1 202.8h0M206.4 210.8h0M219.9 205.2h0M216.0 201.4h0M209.5 206.8h0M203.1 208.4h0M205.7 211.0h0M210.8 209.5h0M210.4 205.5h0M213.4 201.8h0M206.8 205.0h0M228.0 199.3h0M199.9 208.8h0M215.2 196.6h0M222.6 203.8h0M220.4 200.4h0M211.5 200.9h0M206.8 204.0h0M214.8 196.5h0M201.2 205.2h0M201.3 206.2h0M215.2 206.3h0M213.2 205.3h0M198.4 208.6h0M200.6 214.0h0M211.0 204.9h0M202.4 211.9h0M213.1 194.5h0M214.8 204.7h0M211.4 205.2h0M212.1 196.6h0M218.5 202.6h0M210.6 198.1h0M214.3 198.3h0M220.7 197.4h0M225.1 198.2h0M205.8 213.1h0M204.9 210.9h0M215.3 202.2h0M225.4 202.0h0M213.1 200.6h0M209.4 200.7h0M203.3 208.3h0M206.0 202.8h0M220.3 202.7h0M214.1 204.4h0M205.3 213.2h0M216.2 198.9h0M198.6 208.0h0M218.8 197.1h0M215.9 194.3h0M201.3 207.3h0M218.8 202.0h0M218.7 206.6h0M205.9 203.2h0M209.5 198.7h0M213.5 200.4h0M202.2 211.5h0M213.6 192.1h0M203.5 202.1h0M206.7 211.0h0M207.4 207.4h0M200.0 212.9h0M225.7 198.1h0M216.6 199.9h0M216.9 204.4h0M206.6 205.0h0M211.3 196.7h0M203.5 204.0h0M214.7 195.3h0M216.5 193.8h0M203.4 210.0h0M225.7 198.0h0M214.6 208.2h0M220.1 200.5h0M214.1 196.3h0M208.5 207.7h0M207.3 211.4h0M214.9 200.5h0M221.7 198.4h0M210.5 206.1h0" stroke="#f0027f" stroke-width="1.3" stroke-linecap="round"/><path d="M202.8 208.9h0M200.9 206.5h0M214.1 193.0h0M212.0 201.1h0M202.3 210.9h0M221.4 197.7h0M213.8 195.5h0M219.7 201.7h0M213.6 198.1h0M209.5 210.2h0M221.4 197.9h0M217.2 202.8h0M206.6 200.1h0M216.3 197.3h0M221.7 199.4h0M212.4 197.1h0M222.2 204.6h0M211.1 206.7h0M206.9 207.4h0M207.0 201.8h0M218.4 207.1h0M216.7 204.5h0M225.1 198.9h0M209.2 207.8h0M209.2 198.7h0M207.7 203.2h0M212.5 208.2h0M211.0 203.7h0M214.2 198.6h0M218.6 200.5h0M207.4 205.2h0M201.4 211.5h0M227.5 198.8h0M225.9 202.1h0M215.4 196.6h0M214.3 190.9h0M206.7 211.1h0M218.0 197.3h0M213.5 194.9h0M208.3 204.5h0M211.4 204.4h0M207.2 204.4h0M212.5 200.4h0M212.4 195.7h0M207.5 202.6h0M204.8 212.5h0M206.3 201.9h0M215.5 204.6h0M213.6 208.7h0M229.1 198.7h0M211.4 198.3h0M205.1 205.1h0M202.9 207.0h0M220.1 205.7h0M199.7 209.5h0M224.8 200.7h0M229.1 198.1h0M208.4 205.4h0M215.9 207.9h0M199.9 208.8h0M210.8 196.3h0M212.3 203.3h0M217.0 206.2h0M211.5 198.5h0M206.0 200.3h0M221.4 203.7h0M212.1 202.4h0M198.8 208.9h0M224.4 200.7h0M216.7 200.2h0M225.5 198.2h0M214.5 204.5h0M209.2 202.2h0M202.2 205.9h0M198.4 209.4h0M212.3 206.8h0M223.4 201.8h0M209.0 210.4h0M203.8 203.0h0M209.8 202.9h0M208.4 211.6h0M217.8 197.8h0M198.3 209.2h0M203.0 208.5h0M202.2 206.4h0M224.9 202.4h0M200.5 210.9h0M216.2 198.2h0M218.4 200.0h0M221.0 202.5h0M214.4 202.0h0M212.9 197.9h0M224.4 199.7h0M207.9 209.2h0M225.2 202.3h0M198.7 210.2h0M200.9 210.9h0M213.1 208.4h0M209.8 205.4h0M225.4 202.2h0M200.6 209.8h0M208.3 203.2h0M201.5 213.5h0M209.2 204.4h0M213.1 207.5h0M213.0 203.9h0" stroke="#386cb0" stroke-width="1.0" stroke-linecap="round"/><path d="M213.3 195.9h0M211.7 195.7h0M209.3 206.3h0M207.9 200.6h0M218.1 199.2h0M205.4 205.6h0M203.6 204.7h0M222.1 201.1h0M204.3 201.8h0M208.0 201.3h0M215.8 192.7h0M216.7 200.3h0M205.5 212.8h0M203.1 214.1h0M221.3 197.8h0M211.6 196.2h0M203.9 206.8h0M219.0 199.5h0M215.5 201.3h0M213.5 198.7h0M199.4 209.5h0M204.3 211.4h0M210.0 197.7h0M217.7 196.2h0M200.5 208.3h0M215.7 196.2h0M220.2 199.4h0M211.6 196.2h0M207.1 209.2h0M217.3 191.6h0M217.5 191.3h0M213.0 195.4h0M216.2 203.0h0M215.3 207.6h0M219.3 200.6h0M218.9 205.4h0M203.9 203.6h0M207.5 208.2h0M210.0 204.7h0M199.9 210.0h0M214.7 205.3h0M208.9 198.5h0M225.4 198.6h0M211.3 196.5h0M224.5 198.7h0M217.3 197.4h0M207.6 202.7h0M208.8 204.7h0M214.6 206.0h0M216.2 193.6h0M213.7 195.1h0M209.3 199.6h0M212.9 205.0h0M203.4 207.7h0M227.6 199.4h0M221.5 204.8h0M202.1 209.9h0M218.0 200.2h0M225.6 197.9h0M203.8 212.2h0M220.0 196.8h0M207.5 202.2h0M215.5 208.0h0M204.2 201.6h0M202.3 206.8h0M213.6 196.2h0M207.3 208.4h0M206.1 202.6h0M211.6 199.5h0M209.1 203.3h0M200.6 206.0h0M209.6 207.3h0M202.3 203.6h0M212.6 199.8h0M218.4 203.5h0" stroke="#7570b3" stroke-width="1.0" stroke-linecap="round"/><polygon points="214.1,207.1 218.6,206.5 222.2,208.9 223.1,212.5 220.4,214.3 216.8,213.4 214.5,210.7" fill="#386cb0" /><path d="M223.1 212.9h0M224.2 212.0h0M216.1 212.2h0M223.5 209.0h0M214.6 207.2h0M220.1 213.9h0M215.2 209.2h0M214.7 205.5h0M218.7 212.4h0M218.1 205.6h0M215.2 211.0h0M220.2 204.9h0M221.1 214.9h0M218.4 205.5h0M215.3 207.3h0M222.6 212.9h0M220.7 208.5h0M218.6 214.6h0M214.8 209.0h0M219.6 214.5h0M222.0 209.2h0M222.7 212.0h0M223.3 212.9h0" stroke="#386cb0" stroke-width="1.0" stroke-linecap="round"/><path d="M215.8 211.4h0M221.9 210.4h0M221.8 210.2h0M219.1 212.7h0M221.3 209.9h0M216.2 210.7h0M217.5 209.1h0M216.6 207.1h0M219.3 208.0h0M220.2 213.4h0M222.3 212.6h0M216.4 207.2h0M215.6 208.8h0M221.4 211.6h0M220.7 209.6h0M218.4 208.0h0M221.3 210.8h0" stroke="#f0027f" stroke-width="1.0" stroke-linecap="round"/><polygon points="244.7,176.6 249.2,178.4 252.7,184.6 250.9,190.9 246.5,194.5 242.0,193.6 238.4,189.1 239.3,182.8 241.1,180.2" fill="#f0027f" /><path d="M242.3 178.1h0M246.2 195.3h0M239.5 180.0h0M249.8 179.4h0M238.9 188.7h0M245.8 176.1h0M239.2 190.4h0M240.7 180.4h0M239.5 183.2h0M240.1 182.5h0M242.1 194.0h0M247.9 191.8h0M250.1 191.1h0M248.4 191.2h0M247.1 194.8h0M245.9 195.4h0M251.1 187.8h0M248.4 180.0h0M239.3 192.2h0M247.0 177.9h0M244.1 193.4h0M251.2 191.9h0M242.8 179.7h0M249.8 179.3h0M251.7 184.1h0M251.9 191.8h0M245.9 194.8h0M239.9 183.3h0M239.2 190.4h0M250.0 179.8h0M237.4 183.7h0M245.0 193.5h0M239.5 181.5h0M242.7 178.1h0M249.1 178.9h0M247.6 192.9h0M239.9 181.2h0M247.3 192.6h0M240.5 191.4h0M239.5 187.5h0M239.5 180.2h0M250.9 188.5h0M243.1 193.8h0M249.6 192.4h0" stroke="#f0027f" stroke-width="1.0" stroke-linecap="round"/><path d="M242.1 189.2h0M248.6 182.7h0M244.0 178.8h0M246.3 188.9h0M244.1 193.4h0M238.6 188.1h0M246.1 181.1h0M245.9 182.1h0M248.6 180.8h0M246.4 189.3h0" stroke="#7570b3" stroke-width="1.0" stroke-linecap="round"/><polygon points="273.0,178.9 276.1,181.9 277.9,186.4 278.8,189.1 276.1,188.2 274.3,190.9 273.4,193.6 271.6,191.8 270.7,188.2 272.5,184.6 271.6,181.0" fill="#f0027f" /><path d="M271.4 186.4h0M273.3 190.3h0M272.0 181.2h0M272.3 186.1h0M277.4 185.6h0M277.6 188.2h0M271.0 190.1h0M277.8 185.2h0M276.5 182.0h0M277.2 189.0h0M272.7 181.8h0M273.0 190.7h0M272.0 192.4h0M271.4 193.8h0M280.4 188.7h0M271.0 187.0h0M273.7 192.9h0M270.6 186.7h0M271.5 189.7h0M271.7 188.8h0M273.8 180.7h0M276.9 189.2h0M274.9 182.9h0M277.1 186.2h0M276.5 187.8h0M273.9 185.5h0M277.3 188.0h0M272.4 193.7h0M270.1 182.2h0M272.0 191.7h0M271.9 186.5h0M274.6 189.2h0M273.1 178.6h0" stroke="#f0027f" stroke-width="1.0" stroke-linecap="round"/><path d="M271.9 187.0h0M271.3 188.6h0M274.6 190.4h0M275.1 187.7h0M273.0 183.7h0M275.5 186.7h0M273.1 189.4h0M277.3 187.8h0M274.0 187.4h0M271.1 188.5h0M276.1 182.9h0M272.8 183.6h0M274.8 181.2h0M273.5 193.1h0" stroke="#386cb0" stroke-width="1.0" stroke-linecap="round"/><path d="M239.5 205.8h0M252.7 208.9h0M243.7 199.0h0M243.3 202.1h0M251.1 207.6h0M257.8 211.1h0M249.1 214.7h0M255.5 218.3h0M277.1 216.2h0M257.8 219.5h0M261.2 218.3h0M242.1 204.4h0M254.9 205.4h0M276.5 213.2h0M243.1 202.1h0M252.3 218.1h0M251.8 202.2h0M254.9 202.7h0M258.3 216.6h0M249.5 216.3h0M267.0 218.6h0M260.5 218.1h0M246.3 198.9h0M265.9 205.2h0M274.6 218.6h0M264.0 216.1h0M251.3 217.7h0M268.3 205.7h0M243.0 200.2h0M276.9 213.2h0M246.6 210.5h0M258.9 216.7h0M264.2 218.6h0M272.6 217.2h0M276.5 214.7h0M248.7 214.3h0M253.2 203.8h0M261.6 217.0h0M240.9 209.9h0M253.8 209.2h0M251.7 208.0h0M264.8 216.8h0M252.0 210.5h0M262.4 206.6h0M273.4 218.0h0M273.5 212.0h0M269.8 204.9h0M274.3 209.6h0M265.2 205.6h0M268.5 205.5h0M252.1 209.1h0M262.2 216.0h0M252.9 218.2h0M263.1 217.2h0M271.7 209.2h0M242.5 198.8h0M244.1 199.9h0M242.7 199.7h0M271.6 207.9h0M264.3 206.8h0M253.6 206.1h0M269.6 206.2h0M254.3 218.8h0M263.6 206.5h0M275.3 213.1h0M249.5 211.9h0M248.5 211.9h0M251.7 207.8h0M263.9 217.2h0M254.0 203.3h0M248.9 202.4h0M248.4 200.6h0M268.5 205.7h0M271.1 206.1h0M261.8 217.5h0M248.0 211.1h0M267.2 205.7h0M275.5 216.2h0M242.5 200.0h0M243.6 210.7h0M254.1 204.3h0M275.6 216.1h0M254.1 205.2h0M264.0 217.4h0M252.8 202.1h0M270.1 206.5h0M245.1 200.1h0M257.0 211.1h0M256.3 208.6h0M268.4 218.5h0M274.6 208.3h0M270.5 206.5h0M249.0 213.0h0" stroke="#f0027f" stroke-width="1.0" stroke-linecap="round"/><path d="M265.2 214.0h0M247.2 209.5h0M258.2 216.7h0M268.8 217.1h0M251.9 205.1h0M260.5 215.9h0M252.5 204.3h0M243.5 209.8h0M267.9 206.8h0M263.3 211.9h0M270.9 212.2h0M263.6 211.0h0M260.9 215.5h0M255.5 217.6h0M247.4 203.2h0M251.7 212.1h0M247.0 203.0h0M272.3 214.3h0M263.2 206.8h0M257.7 215.9h0M252.4 209.4h0M273.3 209.3h0M249.6 208.5h0M246.5 200.1h0M269.2 206.2h0M275.7 212.0h0M275.3 210.8h0M273.1 215.5h0M269.2 208.8h0M248.9 207.0h0M273.3 216.9h0M251.4 203.6h0M243.8 204.0h0M257.9 217.6h0M246.1 202.5h0M244.5 201.9h0M248.5 206.1h0M244.5 207.4h0M261.1 215.6h0M243.5 204.8h0M261.5 211.4h0M260.1 212.6h0M244.5 203.9h0M248.1 208.6h0M255.0 210.8h0M259.9 209.3h0M248.5 202.9h0M258.9 217.4h0M268.6 207.4h0M259.9 211.6h0M266.4 217.7h0M252.2 214.8h0M251.8 217.4h0M265.5 208.7h0M263.9 212.4h0M252.0 210.9h0M243.6 207.0h0M262.0 211.9h0M251.9 211.9h0M247.1 201.4h0M266.2 206.8h0M272.5 216.1h0M273.3 212.3h0M265.3 212.0h0M276.9 215.2h0M259.3 216.9h0M248.2 207.7h0M253.6 210.5h0M252.0 204.2h0M242.8 206.3h0M253.2 217.9h0M249.8 215.0h0M263.3 213.5h0M247.2 202.7h0M260.8 213.8h0M248.0 202.4h0M260.9 216.0h0M261.4 216.6h0M275.6 214.6h0M252.1 215.0h0M258.0 217.6h0M259.8 211.8h0M253.0 206.9h0M257.2 217.5h0M269.2 213.9h0M250.0 201.9h0M264.1 213.1h0M263.7 207.6h0M261.2 212.9h0M269.3 208.3h0M274.0 214.3h0M242.4 205.9h0M249.3 203.2h0M262.4 213.7h0M265.6 210.8h0M262.6 209.5h0M258.1 216.0h0M264.0 213.9h0M244.7 207.1h0M245.3 205.1h0M256.2 217.0h0M265.0 216.1h0M269.2 211.0h0M245.0 208.6h0M242.6 205.1h0M269.3 206.6h0M260.5 210.5h0M256.0 210.4h0M263.3 215.7h0M248.4 204.2h0M273.6 214.6h0M252.2 211.5h0M252.1 209.2h0M259.3 211.4h0M254.1 205.1h0M276.1 214.1h0M262.6 214.0h0M267.5 212.2h0M252.9 213.6h0M248.8 211.5h0M255.3 212.2h0M249.1 203.2h0M272.7 212.3h0M256.3 211.1h0M268.3 206.8h0M251.1 206.3h0M269.0 208.9h0M262.2 211.6h0M271.6 215.0h0M265.6 208.0h0M245.6 205.3h0M249.6 207.8h0M261.7 210.5h0M254.3 215.8h0M258.4 213.1h0M261.5 215.9h0M249.1 212.3h0M268.0 217.2h0M255.9 212.1h0M246.7 210.8h0M265.3 215.2h0M258.4 214.0h0M266.1 210.7h0M252.4 217.8h0M249.7 206.4h0M253.8 213.1h0M274.0 211.6h0M246.6 209.1h0M251.0 214.7h0M271.3 213.2h0M261.0 217.2h0M250.3 205.5h0M245.3 207.0h0M246.9 202.3h0M270.4 215.4h0M243.4 204.3h0M261.8 210.6h0M269.6 209.1h0M270.5 209.5h0M260.0 213.8h0M274.7 211.6h0M257.0 211.3h0M250.5 211.8h0M248.7 207.0h0M245.9 206.1h0M259.0 215.2h0M252.1 203.5h0M244.5 204.6h0M274.8 211.9h0M262.9 208.4h0M267.8 210.4h0M246.1 204.7h0M262.0 215.3h0M261.6 216.9h0M274.6 211.1h0M265.7 211.7h0M264.2 213.4h0M248.2 201.3h0M261.5 216.1h0M265.8 209.6h0M272.2 216.4h0M244.8 200.2h0M244.9 205.4h0M244.0 206.7h0M248.2 208.2h0M263.8 209.6h0M255.8 213.4h0M262.2 212.6h0M263.1 211.9h0M271.7 208.5h0M258.8 217.8h0M268.5 216.6h0M270.6 215.4h0M263.9 207.4h0M253.0 206.7h0M250.8 215.1h0M262.2 216.8h0M253.9 211.2h0M267.8 214.2h0M251.4 205.2h0M261.4 213.9h0M256.6 218.1h0M255.2 216.3h0M270.8 207.6h0M263.0 211.4h0M246.2 210.1h0M250.7 207.6h0M274.0 211.7h0M250.8 210.9h0M253.6 211.3h0M267.2 217.7h0M256.6 217.9h0M271.7 214.0h0M265.6 207.2h0M252.5 214.1h0M255.6 212.0h0M248.4 212.2h0M251.7 204.3h0M257.9 213.7h0M274.6 211.8h0M244.2 209.5h0M275.2 212.1h0M247.3 210.8h0M261.8 208.6h0M244.6 205.8h0M266.1 213.7h0M252.4 206.4h0M266.1 207.7h0M253.7 218.6h0M249.3 208.4h0M271.4 214.2h0M270.8 209.1h0M269.2 206.8h0M252.8 211.1h0M252.8 212.1h0M253.1 213.6h0M252.4 213.7h0M264.5 215.0h0M249.0 205.9h0M271.0 211.4h0M259.6 215.2h0M258.2 213.7h0M252.1 216.0h0M246.3 209.7h0M266.9 216.4h0M270.5 211.4h0M261.4 212.5h0M251.0 208.7h0M251.1 210.9h0M250.4 215.9h0M245.6 202.1h0M248.0 202.5h0M271.7 214.5h0M272.1 213.8h0M260.5 215.9h0M264.2 212.2h0M258.4 213.9h0M243.3 205.8h0M249.4 209.4h0M265.3 207.7h0M268.0 214.8h0M249.0 208.2h0M242.7 205.4h0M250.1 205.0h0M269.8 206.0h0M251.1 213.7h0M241.8 205.7h0M247.5 210.5h0M257.9 217.7h0M249.0 210.7h0M254.2 217.8h0M267.6 210.3h0M263.6 208.4h0M272.1 214.2h0M245.0 201.6h0M242.5 204.5h0M251.8 206.1h0M253.5 204.2h0M265.9 207.1h0M243.7 202.8h0M242.8 208.2h0M259.2 212.1h0M252.9 206.6h0M250.7 214.3h0M270.0 212.0h0M246.7 210.1h0M247.0 210.2h0M262.6 211.9h0M272.1 215.0h0M266.4 205.5h0M264.5 210.2h0M270.9 210.1h0M272.7 216.3h0M250.1 202.2h0M262.1 212.6h0M252.7 206.2h0M254.2 212.0h0M247.7 210.8h0M268.1 212.9h0M242.8 205.6h0M251.7 216.5h0M259.7 216.1h0M256.6 215.7h0M272.9 215.4h0M249.6 212.1h0M270.1 209.7h0M251.2 213.1h0M247.1 207.5h0M262.5 210.6h0M270.1 217.1h0M257.6 213.5h0M264.4 210.2h0M251.7 202.8h0M243.8 203.8h0M243.7 202.0h0M272.7 209.9h0M264.6 216.6h0M252.2 215.4h0M250.9 215.0h0M253.9 214.9h0M262.1 212.9h0M255.5 218.3h0M263.8 213.5h0M261.5 212.6h0M273.7 215.4h0" stroke="#f0027f" stroke-width="1.3" stroke-linecap="round"/><path d="M253.4 213.2h0M272.6 214.9h0M247.6 210.1h0M249.1 212.2h0M257.9 213.2h0M247.0 209.3h0M268.4 212.8h0M272.3 213.9h0M246.1 204.1h0M248.8 211.3h0M261.5 215.1h0M273.4 210.4h0M250.3 209.8h0M249.2 212.1h0M243.1 203.6h0M244.0 202.4h0M265.8 213.9h0M267.5 217.3h0M247.3 204.3h0M265.6 210.2h0M267.0 214.8h0M272.0 209.4h0M258.7 214.7h0M250.4 202.7h0M249.7 204.9h0M270.9 214.0h0M250.6 215.3h0M270.0 215.8h0M250.5 215.8h0M243.2 204.8h0M268.5 217.2h0M271.4 215.2h0M253.3 213.6h0M269.3 210.0h0M258.9 209.9h0M259.5 213.7h0M274.0 213.8h0M261.8 212.3h0M249.5 208.7h0M262.8 214.7h0M254.6 213.9h0M251.4 207.0h0M260.6 209.9h0M262.4 215.7h0M273.5 215.9h0M245.3 199.8h0M254.3 216.9h0M264.3 214.7h0M246.9 208.7h0M247.9 210.9h0M249.8 205.9h0M251.4 203.8h0M265.9 213.9h0M241.2 206.2h0M274.6 212.8h0M274.8 213.2h0M247.0 208.5h0M272.1 210.3h0M275.1 211.2h0M243.0 205.0h0M249.3 205.2h0M266.4 215.7h0M265.1 217.3h0M265.0 214.0h0M243.2 203.7h0M264.4 212.1h0M242.4 208.2h0M252.1 216.3h0M261.2 216.0h0M264.6 209.5h0M250.2 214.3h0M263.5 209.2h0M271.6 212.1h0M253.9 215.2h0M244.2 203.2h0M269.6 207.3h0M252.8 213.6h0M249.5 205.9h0M253.8 211.8h0M252.6 212.5h0M244.9 203.5h0M252.4 209.6h0M266.9 210.4h0M244.3 209.9h0M261.4 212.9h0M264.9 208.1h0M269.2 212.4h0M269.0 212.2h0M253.6 215.3h0M271.6 209.9h0M248.7 204.1h0M265.7 209.3h0M268.2 216.2h0M258.7 217.2h0M249.4 201.9h0M275.8 214.5h0M269.3 206.3h0" stroke="#7570b3" stroke-width="1.0" stroke-linecap="round"/><path d="M262.0 215.0h0M247.2 211.4h0M251.4 208.3h0M245.4 201.2h0M252.8 217.3h0M267.5 211.2h0M250.6 212.3h0M250.9 209.8h0M246.1 200.2h0M268.7 211.1h0M261.4 212.4h0M247.4 204.8h0M264.7 211.6h0M250.6 205.1h0M262.8 214.7h0M258.5 215.2h0M251.6 208.1h0M259.4 210.6h0M256.6 213.6h0M273.7 209.2h0M259.2 210.9h0M256.9 217.2h0M252.3 215.2h0M271.0 210.0h0M260.0 212.2h0M247.4 208.8h0M262.0 214.9h0M250.2 208.2h0M264.1 208.8h0M248.6 204.5h0M247.9 211.8h0M253.0 209.4h0M268.9 214.1h0M264.4 213.4h0M266.7 216.5h0M259.2 215.3h0M262.0 212.7h0M262.2 211.8h0M242.4 206.8h0M250.5 208.1h0M268.7 217.4h0M249.4 209.4h0M255.7 212.4h0M271.1 206.4h0M271.5 213.7h0M244.2 202.7h0M265.7 216.0h0M267.5 215.9h0" stroke="#a6d96a" stroke-width="1.0" stroke-linecap="round"/><path d="M269.5 213.7h0M271.0 215.4h0M268.3 212.9h0M245.2 206.7h0M255.0 217.6h0M263.7 210.6h0M266.6 210.0h0M250.3 207.0h0M260.7 210.5h0M256.5 211.0h0M269.3 207.6h0M262.9 215.6h0M257.7 215.5h0M252.4 211.5h0M243.7 206.8h0M267.4 206.1h0M250.4 212.7h0M246.2 206.8h0M250.5 205.6h0M250.7 212.3h0M268.8 207.5h0M246.9 207.9h0M273.9 214.3h0M270.3 216.1h0M274.7 215.6h0M255.9 214.7h0M252.2 214.7h0M276.1 213.9h0M263.2 212.8h0M257.7 211.2h0M255.4 214.3h0M274.0 214.4h0M272.2 213.8h0M258.0 215.8h0M247.4 209.1h0M267.8 215.1h0M262.4 208.2h0M252.0 213.4h0M244.5 200.5h0M263.5 212.6h0M251.1 215.3h0M254.6 210.4h0M249.2 211.3h0M264.7 215.8h0M251.3 208.7h0M268.3 208.7h0M248.8 212.9h0M241.2 206.2h0" stroke="#386cb0" stroke-width="1.0" stroke-linecap="round"/><path d="M234.4 220.1h0M264.2 221.3h0M241.3 228.3h0M253.5 223.5h0M243.9 229.8h0M232.1 228.5h0M228.6 221.4h0M253.8 222.8h0M247.6 232.6h0M239.9 228.7h0M228.2 223.1h0M253.7 231.4h0M250.4 223.2h0M231.1 228.5h0M228.3 221.4h0M238.3 228.1h0M248.0 232.9h0M230.6 227.6h0M266.5 214.7h0M244.4 228.3h0M241.3 223.7h0M245.1 226.0h0M230.4 220.3h0M237.1 228.6h0M250.0 223.9h0M250.4 233.8h0M257.4 228.0h0M235.5 229.4h0M251.4 233.8h0M230.9 228.0h0M256.3 229.4h0M250.6 223.0h0M259.9 226.0h0M264.1 215.1h0M255.1 222.0h0M239.8 223.6h0M263.0 223.0h0M262.7 223.7h0M266.1 214.8h0M234.3 228.8h0M232.8 220.2h0M252.5 222.0h0M242.1 224.2h0M244.5 231.0h0M249.9 224.0h0M231.9 220.4h0M253.3 222.0h0M229.0 223.6h0M230.9 228.3h0M234.5 219.6h0M260.2 225.6h0M264.9 214.7h0M229.5 222.9h0M245.8 232.1h0M241.5 229.8h0M235.5 220.6h0M246.1 233.0h0M233.1 226.3h0M253.3 222.8h0M237.1 229.1h0M237.4 228.2h0M229.4 222.5h0M230.2 226.2h0M240.5 223.4h0M233.7 219.5h0M249.3 232.0h0M241.8 230.4h0M231.2 221.1h0M237.5 228.0h0M265.8 218.8h0M246.6 230.5h0M235.0 221.1h0M240.8 225.8h0M237.5 222.4h0M259.4 228.4h0M260.6 217.6h0M254.9 221.9h0M266.7 215.3h0M265.1 213.5h0M257.4 229.5h0M248.3 233.4h0M251.6 233.3h0M248.2 224.6h0M236.6 228.6h0M247.6 233.2h0M229.0 225.3h0M257.8 219.8h0M238.7 223.2h0" stroke="#7570b3" stroke-width="1.0" stroke-linecap="round"/><path d="M239.4 227.2h0M237.7 223.6h0M249.2 232.4h0M253.7 228.0h0M247.1 227.7h0M230.1 220.7h0M263.5 219.3h0M263.4 218.8h0M262.8 217.9h0M237.1 222.9h0M248.2 226.3h0M251.8 225.7h0M231.7 224.4h0M261.2 217.7h0M253.8 224.7h0M234.3 224.4h0M246.1 227.4h0M251.8 223.1h0M235.0 226.7h0M264.6 217.4h0M264.8 215.3h0M259.5 223.0h0M250.2 225.2h0M254.2 225.9h0M234.8 227.4h0M246.9 229.2h0M260.0 224.5h0M238.0 223.1h0M237.5 228.4h0M247.0 226.4h0M262.4 220.4h0M251.7 228.5h0M235.4 228.5h0M259.6 220.3h0M235.8 223.7h0M240.6 228.6h0M245.0 227.1h0M241.5 225.0h0M230.1 224.4h0M264.5 216.4h0M256.9 222.1h0M236.9 223.0h0M238.4 226.9h0M233.3 224.9h0M256.7 223.0h0M242.1 228.2h0M230.1 222.5h0M234.9 228.5h0M243.6 228.9h0M259.2 221.8h0M231.1 226.8h0M233.4 228.2h0M251.4 227.4h0M229.2 222.9h0M242.9 228.5h0M255.9 228.5h0M243.5 228.9h0M234.6 225.9h0M250.2 224.6h0M246.0 228.4h0M256.7 229.1h0M239.2 223.5h0M258.2 223.9h0M242.2 228.2h0M254.2 225.7h0M261.0 222.9h0M264.8 220.2h0M239.9 228.5h0M257.5 227.6h0M250.2 229.7h0M238.3 223.6h0M232.6 225.6h0M250.9 232.7h0M246.5 225.4h0M252.9 225.1h0M261.2 223.2h0M248.2 227.3h0M239.6 226.1h0M260.4 218.1h0M254.5 226.8h0M256.0 223.2h0M260.9 219.5h0M256.1 226.8h0M263.9 221.6h0M230.5 227.6h0M248.1 227.7h0M247.6 226.9h0M229.0 223.7h0M248.1 230.1h0M255.8 225.1h0M265.4 218.5h0M252.2 230.3h0M254.0 230.3h0M265.2 217.6h0M241.2 225.4h0M249.0 226.3h0M265.5 214.6h0M250.0 231.9h0M247.4 229.1h0M253.5 227.5h0M232.2 227.8h0M234.7 226.0h0M231.7 227.7h0M257.0 224.2h0M243.6 227.4h0M249.5 231.9h0M252.7 228.6h0M247.7 226.8h0M265.5 219.1h0M263.9 217.4h0M241.7 225.3h0M260.2 220.6h0M231.0 221.8h0M262.5 223.1h0M262.1 223.3h0M239.3 225.3h0M265.2 215.0h0M231.5 224.8h0M234.4 228.0h0M241.6 224.6h0M256.2 227.0h0M264.1 216.5h0M235.3 227.2h0M241.0 225.6h0M234.6 224.7h0M243.9 228.8h0M253.7 227.3h0M266.2 215.7h0M259.1 226.6h0M235.2 223.4h0M251.4 230.6h0M234.9 228.3h0M257.3 224.2h0M234.0 226.4h0M235.7 221.8h0M236.1 227.9h0M265.2 216.7h0M232.5 226.6h0M260.4 223.4h0M242.8 226.9h0M263.8 219.2h0M258.4 223.8h0M251.4 224.0h0M252.4 222.7h0M246.5 225.3h0M248.8 231.6h0M234.4 226.0h0M250.6 226.9h0M255.7 226.4h0M248.1 226.4h0M240.8 224.2h0M251.3 223.5h0M229.6 224.8h0M265.1 216.4h0M246.5 230.0h0M251.1 230.3h0M244.8 227.7h0M231.9 228.0h0M256.0 224.5h0M231.6 227.7h0M243.7 227.0h0M245.5 230.4h0M265.0 220.3h0M251.1 225.8h0M252.0 227.0h0M247.8 227.0h0M242.3 225.0h0M250.6 232.6h0M257.3 223.4h0M246.1 230.5h0M239.8 223.8h0M256.1 223.9h0M241.2 228.1h0M230.7 224.8h0M231.9 226.6h0M234.3 222.9h0M262.1 216.7h0M251.2 230.5h0M263.7 215.4h0M251.6 230.8h0M239.5 224.9h0M245.7 230.4h0M242.8 227.5h0M233.6 223.6h0M234.9 222.0h0M239.9 224.0h0M242.2 229.2h0M263.9 221.3h0M251.0 232.6h0M232.6 227.0h0M266.0 215.3h0M255.4 226.5h0M260.1 225.2h0M241.0 226.7h0M244.3 229.3h0M261.9 219.3h0M265.1 218.0h0M233.8 226.9h0M255.1 228.5h0M245.3 224.9h0M240.6 227.6h0M250.3 227.3h0M259.4 224.4h0M255.0 228.6h0M252.6 223.0h0M251.0 228.1h0M246.8 231.0h0M259.5 222.1h0M251.1 224.1h0M253.2 231.7h0M260.9 222.4h0M250.0 224.9h0M253.2 231.4h0M231.5 222.2h0M249.2 230.3h0M260.1 225.5h0M263.7 221.6h0M257.8 224.8h0M253.4 229.7h0M263.5 219.1h0M238.7 224.6h0M237.0 226.4h0M239.2 228.6h0M253.2 228.4h0M254.8 224.6h0M232.7 222.4h0M255.9 227.9h0M261.2 221.7h0M233.4 223.9h0M260.7 219.7h0M250.6 230.0h0M257.6 221.2h0M257.6 227.1h0M249.0 226.4h0M234.5 220.7h0M255.9 225.3h0M266.3 218.2h0M242.2 224.8h0M234.8 226.4h0M233.0 221.6h0M237.4 224.1h0M239.7 224.7h0M254.4 227.1h0M249.8 231.6h0M253.5 229.7h0M258.4 222.7h0M251.6 230.9h0M253.5 226.2h0M229.8 225.5h0" stroke="#7570b3" stroke-width="1.3" stroke-linecap="round"/><path d="M239.1 227.1h0M249.2 229.6h0M262.2 216.6h0M251.4 231.2h0M254.2 223.9h0M254.3 225.9h0M266.1 218.2h0M252.7 230.3h0M232.3 223.9h0M231.3 224.8h0M254.1 225.4h0M240.0 223.8h0M234.2 221.9h0M262.2 220.8h0M255.2 228.6h0M263.1 217.1h0M235.3 227.5h0M259.6 220.6h0M236.0 225.1h0M250.0 228.0h0M236.5 223.3h0M253.4 224.3h0M252.2 225.0h0M243.5 227.8h0M230.3 221.4h0M258.8 224.4h0M236.6 227.0h0M246.9 231.2h0M238.0 224.2h0M261.2 217.8h0M249.4 229.9h0M254.7 226.5h0M235.1 222.8h0M247.9 227.1h0M252.3 224.4h0M257.4 225.1h0M241.3 225.3h0M239.4 223.6h0M244.7 225.5h0M260.0 223.5h0M252.2 228.3h0M249.2 232.5h0M250.9 227.2h0M244.1 225.9h0M252.1 223.3h0M258.7 225.3h0M257.9 222.5h0M263.1 217.0h0M259.5 219.8h0M242.6 228.2h0M247.3 229.3h0M255.1 222.0h0M265.5 216.2h0M258.8 224.7h0M240.0 226.5h0M258.8 222.9h0M251.8 226.1h0M258.6 226.8h0M249.0 232.5h0M262.9 221.3h0M260.0 223.3h0M250.3 227.3h0M230.4 227.1h0M234.7 225.4h0M254.9 230.5h0M258.5 225.3h0M239.1 225.9h0M251.6 226.3h0M237.0 224.2h0M259.3 225.7h0M239.6 228.4h0M252.0 223.3h0M233.1 219.8h0M252.2 230.5h0M265.2 217.6h0M229.6 224.0h0M231.7 225.2h0M263.8 218.8h0M248.8 228.4h0M260.3 224.1h0M249.1 228.4h0M257.9 227.7h0M237.0 227.5h0M258.5 225.2h0M249.6 228.2h0M262.9 222.5h0M229.9 226.8h0" stroke="#f0027f" stroke-width="1.0" stroke-linecap="round"/><path d="M262.4 218.1h0M264.2 217.5h0M244.0 229.2h0M255.2 225.7h0M238.9 225.1h0M264.3 215.5h0M265.9 215.9h0M246.0 229.5h0M254.8 230.0h0M243.3 226.1h0M264.1 218.7h0M262.2 223.1h0M240.5 228.7h0M235.9 226.3h0M243.6 228.7h0M233.7 223.9h0M233.7 223.2h0M241.9 226.6h0M241.9 226.0h0M249.8 228.9h0M241.8 224.4h0M251.5 226.2h0M231.4 221.7h0M231.2 221.9h0M229.3 224.5h0M254.5 225.1h0M249.7 224.1h0M256.7 220.9h0M249.3 228.7h0M238.6 227.7h0M245.4 229.0h0M248.9 232.6h0M251.7 224.2h0M229.7 222.0h0M264.5 218.1h0M261.8 221.9h0M239.3 224.5h0M250.9 231.4h0M249.3 231.0h0M258.9 224.2h0M233.5 225.2h0M230.7 223.0h0M258.0 221.3h0M240.1 226.0h0M251.3 223.8h0M232.6 226.6h0M262.8 222.7h0M259.8 221.0h0M232.7 220.2h0M251.5 229.4h0M232.3 225.9h0M236.1 222.5h0M260.4 223.0h0M265.8 217.1h0M229.7 226.2h0M233.4 224.4h0M232.2 221.0h0M264.7 215.6h0M262.9 222.3h0M259.2 225.9h0M231.6 224.2h0M256.6 228.1h0" stroke="#386cb0" stroke-width="1.0" stroke-linecap="round"/><path d="M245.5 231.2h0M246.2 229.0h0M248.2 231.0h0M250.6 231.1h0M259.0 224.8h0M262.1 221.4h0M247.6 231.9h0M254.1 227.8h0M258.5 226.7h0M239.3 227.5h0M260.8 219.4h0M233.4 223.0h0M251.3 227.3h0M248.6 225.4h0M229.0 222.9h0M236.2 225.5h0M232.8 223.1h0M265.4 218.9h0M230.8 224.2h0M231.0 224.7h0M233.3 220.2h0M230.2 220.9h0M231.1 222.3h0M239.1 223.5h0" stroke="#a6d96a" stroke-width="1.0" stroke-linecap="round"/><path d="M245.8 224.2h0M247.2 214.8h0M244.4 220.0h0M246.3 223.3h0M249.2 219.7h0M245.7 213.8h0M246.7 216.2h0M244.7 216.2h0M245.6 218.4h0M245.3 214.5h0M248.7 222.0h0M245.5 223.6h0M248.3 218.8h0M248.0 216.3h0M247.1 221.0h0M248.1 215.2h0M248.2 224.2h0M248.8 219.0h0M249.5 216.9h0M243.6 221.4h0" stroke="#f0027f" stroke-width="1.0" stroke-linecap="round"/><path d="M247.9 217.3h0M246.2 218.6h0M245.5 220.6h0M247.1 222.5h0M247.3 218.2h0M245.6 216.3h0M248.4 216.8h0M247.1 216.5h0M246.7 215.9h0M245.4 215.2h0M245.6 217.3h0M247.2 215.5h0M247.7 215.8h0M246.4 217.2h0M244.7 217.9h0M246.2 218.1h0M248.9 220.7h0M246.0 216.0h0M247.4 217.6h0M246.3 221.0h0M248.6 218.6h0M246.4 216.8h0M245.7 218.4h0M245.4 216.1h0M246.5 222.4h0M247.6 217.5h0M248.2 219.0h0" stroke="#f0027f" stroke-width="1.3" stroke-linecap="round"/><path d="M246.0 218.3h0M245.4 221.1h0M247.0 223.0h0M247.8 220.9h0M246.2 219.4h0M245.9 222.5h0M246.6 216.6h0M245.4 216.2h0" stroke="#386cb0" stroke-width="1.0" stroke-linecap="round"/><polygon points="268.9,227.7 271.6,226.8 273.9,228.6 273.0,231.0 270.7,230.4 268.9,231.3" fill="#f0027f" /><path d="M273.2 226.0h0M269.5 232.6h0M273.0 229.6h0M269.2 227.1h0M271.5 227.6h0M270.4 227.5h0M271.7 229.8h0M268.6 231.1h0M267.8 229.7h0M271.6 230.2h0M273.1 230.5h0M271.1 230.7h0M272.3 228.5h0M269.4 229.5h0" stroke="#f0027f" stroke-width="1.0" stroke-linecap="round"/><polygon points="284.2,230.4 292.2,229.5 295.8,231.3 294.9,235.8 290.5,242.1 286.9,247.5 283.3,251.1 278.8,251.1 277.0,247.5 277.9,242.1 280.6,236.7 281.5,232.2" fill="#7570b3" /><path d="M295.5 230.8h0M288.3 245.3h0M294.4 232.5h0M294.5 237.5h0M294.4 233.8h0M284.5 230.9h0M279.9 240.0h0M279.4 240.6h0M292.6 229.6h0M289.3 243.3h0M282.1 230.5h0M284.4 250.4h0M281.5 230.7h0M280.7 235.0h0M277.1 244.1h0M295.4 230.2h0M294.8 231.4h0M279.4 249.9h0M281.5 250.6h0M295.0 236.1h0M295.1 236.4h0M291.1 229.2h0M279.6 252.7h0M285.8 248.5h0M278.5 249.3h0M284.4 232.2h0M279.5 250.6h0M295.7 230.0h0M285.5 249.1h0M289.9 229.6h0M277.4 241.0h0M291.5 240.1h0M278.3 249.0h0M293.7 229.6h0M293.0 229.9h0M292.1 240.6h0M291.7 240.9h0M279.4 251.3h0M278.0 248.7h0M281.5 233.9h0M283.7 251.4h0M280.0 236.5h0M281.4 251.9h0M283.9 248.6h0M292.5 239.9h0M281.3 233.8h0M280.4 236.4h0M287.2 229.3h0M281.7 230.7h0M293.5 238.9h0M294.0 230.3h0M277.5 243.3h0M277.5 244.9h0M278.3 238.8h0M286.7 249.2h0M282.4 251.9h0M279.1 248.8h0" stroke="#7570b3" stroke-width="1.0" stroke-linecap="round"/><path d="M283.4 234.2h0M292.3 237.7h0M288.0 244.1h0M287.3 245.6h0M285.4 243.1h0M292.8 230.9h0M282.0 248.1h0M286.7 243.5h0M282.8 234.9h0M280.2 248.8h0M279.1 248.1h0M293.9 231.7h0M287.9 230.4h0M279.4 245.6h0M289.5 233.0h0M290.4 235.7h0M281.9 237.1h0M286.8 245.9h0M286.7 241.2h0M288.2 238.9h0M281.4 240.2h0M289.6 237.1h0M285.8 237.4h0M288.5 230.7h0M285.0 246.7h0M280.2 248.5h0M279.0 241.1h0M290.4 231.4h0M287.4 231.8h0M284.1 238.9h0M288.4 239.9h0M281.1 240.3h0M282.9 237.4h0M289.5 231.8h0M282.1 236.4h0M282.6 240.6h0M287.5 240.5h0M280.3 249.7h0M285.9 238.6h0M289.1 243.7h0M291.2 232.5h0M288.2 237.7h0M281.7 239.0h0M282.3 239.6h0M288.0 238.8h0M279.1 243.6h0M292.2 237.1h0M288.3 236.0h0M280.5 240.9h0M290.8 238.0h0M287.5 233.5h0M288.5 237.8h0M285.7 231.9h0M288.4 239.2h0M284.0 234.6h0M293.3 236.3h0M280.2 250.6h0M283.8 242.2h0M277.9 244.0h0M291.8 230.3h0M290.8 233.1h0M283.6 239.2h0M286.9 240.2h0M279.5 242.0h0M293.4 232.5h0M291.6 234.2h0M284.7 231.9h0M283.9 245.3h0M288.3 243.4h0M294.9 234.1h0M280.1 249.0h0M290.0 233.6h0M291.0 235.2h0M293.5 237.2h0M285.1 232.4h0M292.6 231.0h0M277.8 243.1h0M288.0 236.2h0M290.8 230.1h0M284.0 249.7h0M287.7 237.3h0M290.9 237.7h0M279.6 244.6h0M286.0 232.3h0M291.1 231.3h0M294.2 234.3h0M282.5 248.5h0M290.6 237.3h0M285.7 243.7h0M280.3 250.4h0M288.0 243.8h0M287.6 238.0h0M277.5 247.4h0M284.5 248.2h0M283.6 241.8h0M289.1 233.4h0M292.2 236.4h0M278.6 245.4h0M279.2 249.8h0M283.5 237.0h0M290.3 235.5h0M284.7 239.1h0M293.8 235.0h0" stroke="#f0027f" stroke-width="1.0" stroke-linecap="round"/><path d="M288.7 232.8h0M289.3 242.0h0M283.7 231.7h0M282.3 238.8h0M294.7 234.7h0M288.4 234.5h0M286.6 245.6h0M281.6 238.2h0M290.8 233.8h0M281.5 242.2h0M278.9 242.9h0M277.5 247.4h0M279.8 245.6h0M288.1 234.3h0M280.4 248.9h0M287.7 240.6h0M282.0 242.9h0M287.0 236.7h0M288.3 244.1h0M281.1 238.2h0M289.6 233.8h0M293.2 235.3h0M280.7 244.8h0M286.8 244.6h0M286.9 237.9h0M280.2 242.1h0M288.4 244.3h0M280.5 248.1h0M282.1 248.4h0M279.6 248.4h0M279.2 240.4h0M283.6 232.2h0M287.1 237.6h0M290.7 232.3h0M284.2 238.3h0M282.4 246.8h0M286.3 240.8h0M292.6 229.8h0M294.5 235.7h0M282.8 249.1h0M285.9 238.1h0M277.7 247.1h0M284.7 242.7h0M293.2 237.3h0M293.4 232.5h0M281.7 245.9h0M280.2 250.7h0M283.2 236.1h0M280.7 245.7h0M284.9 245.6h0M284.0 240.3h0M280.1 238.9h0M281.3 235.8h0M282.9 237.4h0M283.5 244.1h0M278.4 243.0h0M283.3 245.5h0M283.1 242.2h0M286.6 246.8h0" stroke="#386cb0" stroke-width="1.0" stroke-linecap="round"/><path d="M252.4 247.1h0M251.3 244.9h0M256.2 245.9h0M266.9 236.4h0M268.3 238.7h0M263.1 249.0h0M257.7 246.9h0M265.3 241.4h0M259.4 242.1h0M253.6 244.1h0M252.8 245.3h0M269.1 237.6h0M258.5 243.4h0M262.1 241.2h0M259.7 240.2h0M253.9 244.1h0M268.0 240.4h0M256.8 244.6h0M263.2 238.1h0M266.1 236.4h0M263.0 247.5h0M259.9 239.6h0M263.2 244.8h0M254.2 247.2h0M258.5 241.7h0M263.3 237.1h0M264.5 242.6h0M258.9 242.9h0M268.5 238.5h0M257.5 244.9h0M257.9 241.6h0M261.4 251.7h0M261.1 250.1h0M256.1 244.5h0M253.3 247.4h0M252.6 245.4h0M262.5 245.6h0M253.4 245.2h0M263.7 239.3h0M254.1 241.3h0M252.0 246.1h0M257.8 245.6h0M265.0 238.8h0M258.7 247.3h0M263.7 236.2h0M268.8 235.8h0M263.7 243.7h0M259.5 245.9h0" stroke="#f0027f" stroke-width="1.0" stroke-linecap="round"/><path d="M255.1 245.2h0M256.9 244.6h0M261.4 243.5h0M265.7 240.2h0M261.1 246.3h0M264.2 237.5h0M260.0 241.2h0M253.2 244.7h0M260.6 243.4h0M262.5 243.6h0M260.8 249.7h0M268.1 237.1h0M265.3 238.7h0M261.9 242.4h0M261.8 250.1h0M266.4 240.1h0M253.0 246.1h0M262.1 248.4h0M267.0 240.6h0M254.9 245.5h0M258.0 243.5h0M256.7 244.5h0M254.8 244.9h0M261.2 243.2h0M262.6 244.3h0M261.3 245.0h0M257.8 243.3h0M257.7 244.1h0M255.6 245.6h0M256.2 245.4h0M263.8 241.5h0M258.5 245.7h0M253.6 244.2h0M262.8 241.8h0M267.6 237.1h0M260.5 246.9h0M260.2 248.8h0M263.7 239.5h0M256.0 245.4h0M268.6 238.3h0M259.4 242.2h0M265.9 239.4h0M253.3 246.3h0M258.4 245.4h0M261.0 246.8h0M266.5 239.1h0M253.9 244.1h0M266.4 236.4h0M265.4 241.0h0M261.9 240.4h0M265.7 239.5h0M261.4 249.9h0M262.3 246.8h0M259.3 246.2h0M268.5 237.8h0M258.7 242.4h0M265.3 238.3h0M259.3 246.0h0M263.5 240.2h0M261.5 246.2h0M261.1 245.2h0M257.4 245.5h0M265.9 240.5h0M262.5 249.0h0M254.4 244.5h0M254.5 245.5h0M265.7 239.6h0M260.3 245.3h0M262.5 249.0h0M262.6 242.6h0M262.2 246.5h0M263.1 249.5h0" stroke="#f0027f" stroke-width="1.3" stroke-linecap="round"/><path d="M266.3 237.4h0M269.0 238.8h0M262.5 249.9h0M267.4 239.7h0M262.4 243.3h0M266.9 240.0h0M252.9 245.9h0M256.9 245.9h0M259.7 247.7h0M260.3 246.9h0M253.8 246.2h0M262.8 240.5h0M252.8 245.9h0M268.8 237.7h0M252.2 244.7h0M265.4 241.1h0M263.5 239.7h0M257.7 245.3h0M265.9 240.4h0M267.1 240.8h0M259.8 245.5h0" stroke="#7570b3" stroke-width="1.0" stroke-linecap="round"/><polygon points="196.2,234.0 203.4,232.2 208.7,233.1 210.5,238.5 215.9,243.9 218.6,247.5 216.8,251.1 210.5,252.0 204.3,251.1 198.9,249.3 195.3,245.7 194.4,240.3" fill="#f0027f" /><path d="M194.8 237.7h0M206.6 232.2h0M194.9 245.0h0M208.2 233.2h0M211.1 238.2h0M196.6 246.5h0M212.5 240.3h0M199.3 248.6h0M194.2 235.1h0M195.3 246.2h0M216.8 249.5h0M195.7 244.9h0M207.4 233.3h0M195.1 243.4h0M218.3 251.6h0M205.0 232.8h0M196.5 247.4h0M195.6 244.6h0M218.3 246.2h0M201.3 248.4h0M200.7 233.1h0M194.2 240.9h0M217.6 248.0h0M213.5 240.0h0M196.8 234.4h0M204.5 232.7h0M211.0 251.5h0M200.4 233.2h0M194.8 237.3h0M193.3 238.6h0M203.3 250.4h0M207.0 251.6h0M200.3 250.9h0M212.7 241.2h0M203.9 232.8h0M195.0 245.7h0M205.4 250.6h0M195.0 243.7h0M195.1 241.0h0M216.9 244.5h0M195.7 245.8h0M213.1 240.9h0M211.4 250.9h0M211.3 238.5h0M192.7 242.1h0M210.8 240.0h0M194.7 234.4h0M215.6 243.2h0M216.9 245.1h0M209.3 234.8h0M216.3 247.5h0M203.2 231.4h0M195.7 247.9h0M198.3 249.3h0M201.6 248.2h0M208.4 251.4h0M194.1 243.4h0M204.8 251.7h0M215.9 251.9h0M208.7 251.6h0M217.5 245.4h0M196.7 244.5h0M212.2 241.5h0" stroke="#f0027f" stroke-width="1.0" stroke-linecap="round"/><path d="M200.3 244.8h0M216.5 251.0h0M195.1 242.5h0M215.3 247.2h0M211.6 246.4h0M202.5 236.8h0M207.2 234.9h0M206.2 244.5h0M206.7 233.4h0M204.8 238.9h0M211.0 250.7h0M199.6 248.1h0M208.2 246.5h0M204.5 232.7h0M202.6 238.9h0M195.1 244.2h0M208.9 246.5h0M216.1 247.3h0M206.0 235.1h0M196.0 238.7h0M209.7 242.5h0M198.9 246.0h0M205.5 247.7h0M212.6 246.4h0M210.1 246.9h0M214.7 248.9h0M205.8 242.1h0M203.7 250.4h0M200.0 241.0h0M205.6 248.8h0M213.5 243.3h0M203.1 237.6h0M205.7 237.0h0M204.0 242.5h0M201.3 242.2h0M213.4 245.3h0M204.8 233.6h0M206.2 243.0h0M196.7 242.5h0M205.8 233.1h0M204.0 233.9h0M206.9 237.2h0M199.5 234.2h0M202.1 249.1h0M202.4 243.2h0M206.8 248.2h0" stroke="#fdb86a" stroke-width="1.0" stroke-linecap="round"/><polygon points="241.1,262.8 244.7,261.0 248.3,260.1 250.9,261.0 252.7,257.4 254.5,258.3 255.4,263.6 259.0,267.2 259.9,270.8 256.3,272.6 251.8,273.5 248.3,272.6 244.7,270.8 241.1,267.2" fill="#7570b3" /><path d="M248.2 272.4h0M242.4 270.6h0M251.1 261.6h0M257.2 271.4h0M257.4 271.7h0M245.1 259.7h0M245.6 261.6h0M242.7 268.7h0M247.8 260.4h0M255.7 273.2h0M241.8 261.3h0M259.0 267.9h0M248.0 260.9h0M245.4 271.7h0M243.8 271.2h0M245.1 270.9h0M245.6 261.0h0M253.8 259.1h0M250.7 273.9h0M256.6 273.3h0M244.6 270.1h0M250.0 260.3h0M252.1 261.0h0M248.8 273.0h0M244.5 271.7h0M250.3 260.0h0M252.2 261.5h0M255.0 260.9h0M253.3 257.8h0M259.0 268.0h0M242.8 269.8h0M252.3 273.3h0M251.5 272.6h0M246.4 272.0h0M243.6 261.9h0M258.4 270.7h0M254.4 261.7h0M256.0 264.0h0M251.6 274.1h0M253.1 258.9h0M251.5 272.4h0M240.6 264.5h0M247.5 272.6h0M257.6 272.2h0M259.2 267.8h0M260.2 271.2h0M245.5 261.4h0M259.5 270.8h0M253.2 258.1h0M251.6 259.0h0M254.8 261.5h0" stroke="#7570b3" stroke-width="1.0" stroke-linecap="round"/><path d="M254.7 270.2h0M242.4 266.7h0M247.4 271.9h0M254.6 270.6h0M253.9 260.7h0M249.0 267.2h0M256.3 272.5h0M246.4 262.6h0M256.9 265.3h0M242.9 266.6h0M249.0 264.4h0M255.6 268.1h0M245.3 265.3h0M250.4 263.3h0M251.5 265.9h0M250.1 263.9h0M252.6 259.4h0M247.2 263.8h0M245.2 264.4h0M255.6 269.7h0M252.1 272.8h0M256.2 270.1h0M252.0 270.7h0M245.5 263.3h0M254.8 268.5h0M243.3 266.0h0M245.5 266.6h0M255.3 266.4h0M250.9 264.8h0M251.8 266.3h0M244.5 264.1h0M257.9 267.0h0M247.7 266.5h0M246.8 264.7h0M253.7 270.9h0M252.4 263.9h0M253.6 264.1h0M250.0 269.7h0M256.2 269.3h0M256.2 267.6h0M244.4 266.4h0M256.7 265.5h0M255.0 267.8h0M246.0 270.8h0M255.1 267.8h0M254.8 260.3h0M255.5 272.1h0M251.4 267.7h0M246.9 271.3h0M253.9 259.4h0M254.0 258.5h0M252.4 269.9h0M252.9 268.5h0M241.6 264.5h0M241.7 262.9h0M247.4 271.5h0M245.1 268.6h0M255.1 266.3h0M245.2 267.4h0M249.3 269.8h0M243.0 262.1h0M257.5 269.8h0M257.2 272.2h0M254.6 265.3h0M252.3 268.4h0M247.5 266.4h0M259.5 270.2h0M255.4 267.5h0" stroke="#f0027f" stroke-width="1.0" stroke-linecap="round"/><path d="M253.6 257.9h0M245.6 264.4h0M246.7 262.5h0M242.7 263.0h0M250.5 268.0h0M245.5 261.5h0M246.2 264.4h0M252.1 264.9h0M246.0 261.7h0M250.3 268.9h0M254.1 262.1h0M253.5 262.9h0M251.0 266.3h0M251.7 267.8h0M247.1 262.4h0M254.2 261.2h0M249.6 265.8h0M247.6 267.4h0M251.7 269.4h0M248.4 270.2h0M249.5 261.8h0M249.0 267.2h0M257.1 268.6h0M250.7 267.2h0M255.4 270.4h0M244.2 265.5h0M258.0 271.6h0M248.6 263.1h0M249.1 268.5h0M253.4 268.3h0M243.9 267.7h0M249.4 268.3h0M242.2 265.6h0M242.4 262.3h0M242.0 267.0h0M254.4 268.6h0M256.1 272.5h0M246.8 262.9h0M254.5 268.1h0M256.1 265.3h0M247.3 267.4h0M254.3 260.0h0M251.9 259.4h0M248.3 271.7h0M255.2 272.0h0M259.4 269.9h0M248.5 272.3h0M247.3 266.7h0M253.0 261.1h0M252.8 268.5h0M251.6 260.8h0M251.3 261.4h0M254.3 265.6h0M247.7 265.8h0M251.6 266.5h0M254.8 267.0h0M249.0 267.1h0M250.3 264.8h0M244.2 269.6h0M248.2 260.1h0M253.7 268.8h0M250.8 269.7h0M248.2 267.5h0M246.2 263.1h0M259.6 269.5h0M250.8 266.0h0M257.3 266.7h0M242.8 268.1h0M247.8 260.8h0M247.8 269.6h0M252.5 259.4h0M255.9 267.7h0M252.4 262.9h0M244.6 269.2h0M246.8 263.1h0M249.3 265.6h0M247.8 265.2h0M253.9 263.7h0M252.3 268.2h0" stroke="#386cb0" stroke-width="1.0" stroke-linecap="round"/><path d="M235.8 254.7h0M233.8 253.9h0M236.4 251.9h0M239.4 256.3h0M244.4 257.1h0M234.3 255.8h0M240.9 254.8h0M247.8 250.3h0M240.2 253.7h0M236.2 252.5h0M239.2 257.5h0M238.7 257.6h0M240.0 255.5h0M243.6 258.5h0M239.2 257.0h0M239.3 258.3h0M238.3 258.2h0M246.0 251.7h0M246.3 251.6h0M234.0 254.1h0M237.4 253.0h0M245.0 249.0h0M246.1 251.9h0M248.0 251.9h0M243.1 252.3h0M245.3 249.8h0M238.3 252.0h0M246.3 253.6h0M245.9 253.3h0M241.3 250.4h0M246.4 251.8h0M232.9 254.0h0M244.5 249.9h0M238.1 256.8h0M239.8 253.9h0" stroke="#7570b3" stroke-width="1.0" stroke-linecap="round"/><path d="M244.7 251.2h0M238.8 256.3h0M239.6 254.9h0M238.5 256.6h0M234.9 255.7h0M241.3 256.0h0M241.9 255.2h0M237.9 253.8h0M245.7 250.0h0M243.4 249.2h0M243.3 254.4h0M235.2 254.0h0M241.0 254.9h0M242.1 257.2h0M234.5 255.4h0M243.2 253.0h0M241.3 255.4h0M235.1 254.9h0M240.4 255.7h0M245.2 252.5h0M244.6 255.9h0M245.0 249.4h0M234.5 253.7h0M236.2 255.7h0M243.8 250.6h0M242.6 254.3h0M242.5 255.8h0M241.3 253.5h0M244.3 252.8h0M238.1 256.5h0M236.9 254.2h0M243.8 254.9h0M242.9 251.4h0M243.8 253.4h0M238.0 256.9h0M243.8 255.7h0M242.8 253.9h0M240.2 257.5h0M237.5 254.0h0M233.8 254.5h0M236.4 255.3h0M244.8 254.1h0M242.0 252.4h0M237.3 253.5h0M243.2 252.4h0M240.7 256.5h0M237.9 255.6h0M237.3 254.2h0M242.9 257.8h0M242.8 255.6h0M243.9 251.4h0M242.0 256.7h0" stroke="#7570b3" stroke-width="1.3" stroke-linecap="round"/><path d="M243.3 255.4h0M234.6 254.8h0M245.2 253.3h0M241.6 257.7h0M243.6 253.2h0M244.4 256.1h0M243.1 252.7h0M241.0 254.4h0M237.9 254.7h0M236.1 256.0h0M244.7 256.5h0M242.0 254.1h0M236.6 253.8h0M245.0 254.0h0M244.1 256.1h0" stroke="#386cb0" stroke-width="1.0" stroke-linecap="round"/><polygon points="233.5,253.8 237.5,253.2 238.9,257.4 235.7,258.3" fill="#f0027f" /><path d="M235.6 258.4h0M237.4 251.9h0M233.6 254.1h0M234.0 253.4h0M234.1 253.7h0M232.9 254.8h0M234.8 255.4h0M238.8 258.2h0M233.5 256.7h0M238.2 256.0h0M235.9 256.3h0M237.1 258.5h0M236.6 257.3h0M238.8 255.4h0M238.7 256.2h0" stroke="#f0027f" stroke-width="1.0" stroke-linecap="round"/><polygon points="224.0,266.3 225.8,263.6 228.5,261.9 229.9,262.8 227.6,265.4 224.9,267.2" fill="#fdb86a" /><path d="M228.6 262.7h0M227.0 263.2h0M228.4 262.8h0M224.3 266.8h0M227.5 264.5h0M228.0 263.2h0M227.9 262.1h0M224.7 268.7h0M225.5 266.3h0M227.3 266.5h0M223.7 266.4h0M228.6 261.4h0M224.9 266.0h0M227.9 265.5h0" stroke="#fdb86a" stroke-width="1.0" stroke-linecap="round"/><polygon points="231.2,238.5 233.9,238.5 235.7,243.9 232.1,244.8" fill="#f0027f" /><path d="M235.3 239.1h0M235.3 243.8h0M235.8 243.8h0M231.6 239.1h0M231.9 239.0h0M231.8 242.4h0M233.9 238.5h0M234.9 243.8h0M233.8 237.9h0M233.5 237.9h0M234.3 243.1h0M233.4 239.4h0M234.6 242.9h0M232.0 244.6h0M234.2 240.5h0M231.4 242.7h0" stroke="#f0027f" stroke-width="1.0" stroke-linecap="round"/><polygon points="261.4,167.6 263.5,167.2 263.9,169.0 261.7,169.4" fill="#f0027f" /><path d="M264.6 168.1h0M261.2 166.3h0M262.5 167.3h0M262.0 168.0h0M264.4 168.2h0M263.4 166.5h0M262.9 168.4h0" stroke="#f0027f" stroke-width="1.0" stroke-linecap="round"/><circle cx="135.1" cy="164.1" r="1.95" fill="#1b9e77" /><text x="139.4" y="166.9" font-size="8.0">Macrophage</text><circle cx="135.1" cy="170.9" r="1.95" fill="#d95f02" /><text x="139.4" y="173.7" font-size="8.0">B cell</text><circle cx="135.1" cy="177.8" r="1.95" fill="#7570b3" /><text x="139.4" y="180.6" font-size="8.0">AT1</text><circle cx="135.1" cy="184.6" r="1.95" fill="#e7298a" /><text x="139.4" y="187.4" font-size="8.0">T cell</text><circle cx="135.1" cy="191.4" r="1.95" fill="#66a61e" /><text x="139.4" y="194.2" font-size="8.0">Monocyte</text><circle cx="135.1" cy="198.2" r="1.95" fill="#e6ab02" /><text x="139.4" y="201.1" font-size="8.0">Neutrophil</text><circle cx="135.1" cy="205.1" r="1.95" fill="#a6761d" /><text x="139.4" y="207.9" font-size="8.0">Fibroblast</text><circle cx="135.1" cy="211.9" r="1.95" fill="#666666" /><text x="139.4" y="214.7" font-size="8.0">NK cell</text><circle cx="135.1" cy="218.7" r="1.95" fill="#e41a1c" /><text x="139.4" y="221.5" font-size="8.0">Pericyte</text><circle cx="135.1" cy="225.6" r="1.95" fill="#377eb8" /><text x="139.4" y="228.4" font-size="8.0">ILC</text><circle cx="135.1" cy="232.4" r="1.95" fill="#4daf4a" /><text x="139.4" y="235.2" font-size="8.0">AT2</text><circle cx="135.1" cy="239.2" r="1.95" fill="#984ea3" /><text x="139.4" y="242.0" font-size="8.0">Dendritic cell</text><circle cx="135.1" cy="246.1" r="1.95" fill="#ff7f00" /><text x="139.4" y="248.9" font-size="8.0">ECs</text><circle cx="135.1" cy="252.9" r="1.95" fill="#ffff33" /><text x="139.4" y="255.7" font-size="8.0">Ciliated cell</text><circle cx="135.1" cy="259.7" r="1.95" fill="#a65628" /><text x="139.4" y="262.5" font-size="8.0">SMC</text><circle cx="135.1" cy="266.6" r="1.95" fill="#f781bf" /><text x="139.4" y="269.4" font-size="8.0">Basophil</text><circle cx="135.1" cy="273.4" r="1.95" fill="#999999" /><text x="139.4" y="276.2" font-size="8.0">Clara cell</text><circle cx="312.4" cy="167.4" r="2.40" fill="#fdb86a" /><text x="315.8" y="170.2" font-size="8.0">BLM_1</text><circle cx="312.4" cy="175.7" r="2.40" fill="#7570b3" /><text x="315.8" y="178.5" font-size="8.0">BLM_2</text><circle cx="312.4" cy="184.0" r="2.40" fill="#a6d96a" /><text x="315.8" y="186.8" font-size="8.0">BLM_3</text><circle cx="312.4" cy="192.4" r="2.40" fill="#d95f02" /><text x="315.8" y="195.2" font-size="8.0">Saline_1</text><circle cx="312.4" cy="200.7" r="2.40" fill="#386cb0" /><text x="315.8" y="203.5" font-size="8.0">Saline_2</text><circle cx="312.4" cy="209.0" r="2.40" fill="#f0027f" /><text x="315.8" y="211.8" font-size="8.0">Saline_3</text><line x1="10.5" y1="280.0" x2="10.5" y2="247.9" stroke="#231f20" stroke-width="0.8" /><polygon points="10.5,246.0 9.1,249.2 11.9,249.2" fill="#231f20" /><line x1="10.1" y1="280.0" x2="44.6" y2="280.0" stroke="#231f20" stroke-width="0.8" /><polygon points="46.5,280.0 43.3,278.6 43.3,281.4" fill="#231f20" /><text x="7.5" y="263.5" font-size="8.1" text-anchor="middle" transform="rotate(-90 7.5 263.5)">UMAP_2</text><text x="11.0" y="291.0" font-size="8.1">UMAP_1</text><text x="349.0" y="144.6" font-size="13" font-weight="bold">D</text><text x="361.4" y="151.8" font-size="10.9">scATAC-seq data of mice treated with bleomycin and saliine</text><line x1="360.0" y1="155.2" x2="656.0" y2="155.2" stroke="#222" stroke-width="1.1" /><rect x="360.7" y="161.2" width="116.7" height="115.7" fill="#fff" stroke="#888" stroke-width="0.9" /><line x1="360.7" y1="161.2" x2="477.4" y2="161.2" stroke="#666" stroke-width="1.3" /><polygon points="429.8,167.0 432.0,167.7 432.7,170.0 432.0,172.4 429.8,173.1 427.7,172.4 427.0,170.0 427.7,167.7" fill="#fb9a99" /><path d="M431.8 171.3h0M427.8 173.4h0M432.3 171.3h0M426.6 170.4h0M429.7 172.2h0M428.1 168.7h0M428.0 165.7h0M430.3 166.7h0M430.1 167.1h0M427.5 166.8h0M432.2 173.6h0M430.6 168.2h0M431.8 173.4h0M428.3 173.1h0M428.9 167.5h0M428.7 168.2h0" stroke="#fb9a99" stroke-width="1.0" stroke-linecap="round"/><polygon points="402.9,178.7 406.5,177.8 408.6,180.4 409.2,183.1 406.5,182.2 403.8,181.3" fill="#7570b3" /><path d="M405.1 181.4h0M405.6 181.2h0M408.3 181.0h0M403.9 178.3h0M407.7 181.7h0M400.9 180.1h0M403.9 179.1h0M407.9 182.3h0M406.8 180.9h0M408.7 184.6h0M403.1 180.8h0M405.7 177.5h0M407.5 179.8h0M403.3 179.7h0M408.1 180.5h0M408.0 182.5h0" stroke="#7570b3" stroke-width="1.0" stroke-linecap="round"/><polygon points="421.7,184.9 428.0,184.0 433.4,184.9 437.0,186.7 437.9,189.4 434.3,191.2 429.8,190.3 425.3,192.1 421.7,190.3 420.8,187.6" fill="#d95f02" /><path d="M423.6 191.4h0M425.0 185.5h0M434.8 189.3h0M420.7 185.3h0M434.2 185.4h0M425.8 184.1h0M432.3 185.3h0M433.4 190.1h0M433.2 186.1h0M420.3 187.7h0M427.6 184.3h0M428.7 183.8h0M437.0 186.8h0M424.0 185.8h0M435.3 190.0h0M420.2 186.8h0M429.5 191.5h0M421.5 189.3h0M429.5 190.9h0M429.6 190.7h0M424.7 190.8h0M422.0 191.1h0M430.1 184.5h0M436.6 187.0h0M427.8 191.9h0M425.5 191.1h0M423.5 184.6h0M436.8 187.9h0M421.2 185.2h0M422.8 190.4h0M423.2 186.3h0M434.2 186.0h0M421.7 184.2h0M433.8 185.7h0M432.2 190.6h0M432.9 185.4h0M436.1 186.5h0" stroke="#d95f02" stroke-width="1.0" stroke-linecap="round"/><path d="M432.6 189.8h0M423.5 187.2h0M427.7 187.8h0M432.2 189.4h0M432.2 189.1h0M424.5 186.9h0M427.1 184.6h0M430.7 187.3h0M428.4 187.7h0M424.1 187.0h0M428.2 190.8h0" stroke="#ffffff" stroke-width="1.0" stroke-linecap="round"/><polygon points="431.6,194.8 435.2,191.2 440.6,189.4 442.4,184.9 446.0,185.8 447.8,191.2 453.2,193.0 458.6,193.9 462.1,195.7 465.7,194.8 471.1,195.7 470.2,197.5 463.9,197.5 460.4,199.3 459.5,203.8 456.8,208.3 451.4,209.2 444.2,207.4 438.8,205.6 433.4,203.8 431.6,200.2" fill="#d95f02" /><path d="M465.9 195.6h0M461.1 194.0h0M458.1 207.9h0M442.6 185.4h0M453.0 193.2h0M439.4 206.5h0M471.4 196.5h0M431.9 196.6h0M442.2 189.5h0M468.7 197.6h0M455.5 207.7h0M436.7 190.6h0M460.9 202.1h0M460.5 199.2h0M438.2 189.2h0M431.4 198.4h0M452.3 192.8h0M464.9 196.5h0M434.2 200.7h0M462.0 198.2h0M469.5 198.4h0M432.4 204.6h0M451.2 192.5h0M453.7 193.2h0M458.0 206.6h0M440.4 187.9h0M468.4 197.4h0M436.0 204.1h0M442.4 185.0h0M449.9 209.6h0M432.4 200.2h0M432.2 200.4h0M460.2 195.8h0M459.1 204.0h0M457.2 206.1h0M449.8 191.9h0M437.6 204.3h0M455.4 207.0h0M454.9 209.2h0M446.1 188.7h0M431.6 197.5h0M464.4 195.5h0M457.8 207.1h0M470.9 197.6h0M431.6 197.6h0M444.7 186.1h0M454.0 192.2h0M438.3 191.0h0M470.5 197.0h0M464.3 195.3h0M433.5 201.6h0M431.2 201.3h0M441.4 205.9h0M468.6 198.0h0M431.1 197.7h0M458.1 193.3h0M462.4 194.5h0M467.9 198.7h0M469.9 198.9h0M459.6 205.5h0M447.1 187.7h0M444.9 185.8h0M456.6 193.8h0M432.4 202.6h0M446.7 207.2h0M469.8 195.6h0M458.6 199.5h0M437.3 205.0h0M464.7 194.0h0M448.7 192.4h0M463.6 195.1h0M467.4 195.5h0M447.7 190.4h0M442.6 183.6h0M437.8 189.9h0M443.6 185.7h0M466.7 197.8h0M433.5 204.2h0M460.2 202.0h0M451.8 193.8h0M462.2 195.3h0M466.4 198.0h0M432.1 201.3h0M447.8 186.6h0M446.5 186.1h0M442.2 188.2h0M471.2 195.5h0M462.3 196.7h0M456.4 192.9h0M446.7 184.8h0M455.6 192.5h0M450.2 192.9h0M469.6 195.5h0M434.5 192.4h0" stroke="#d95f02" stroke-width="1.0" stroke-linecap="round"/><path d="M444.6 189.2h0M454.6 200.8h0M431.8 194.9h0M449.9 206.9h0M445.4 197.8h0M457.4 200.2h0M435.2 204.2h0M459.0 197.2h0M444.5 201.5h0M444.4 202.3h0M438.5 202.7h0M447.9 192.8h0M443.4 190.5h0M456.0 206.7h0M450.0 202.2h0M460.0 195.6h0M433.6 194.2h0M450.9 206.8h0M453.6 206.9h0M435.2 194.8h0M462.7 196.8h0M442.1 198.6h0M457.4 198.5h0M451.8 207.0h0M457.0 206.5h0M449.8 196.4h0M439.3 198.8h0M444.1 199.2h0" stroke="#fdbf6f" stroke-width="1.0" stroke-linecap="round"/><path d="M450.7 195.1h0M438.7 198.0h0M464.5 196.6h0M455.5 204.6h0M451.6 204.3h0M456.8 200.5h0M439.2 202.2h0M441.9 202.4h0M457.9 194.6h0M442.8 202.7h0M440.7 201.2h0M452.5 197.4h0M442.0 188.8h0M435.7 200.8h0M452.4 207.2h0M433.6 201.3h0M446.5 192.3h0M446.6 200.1h0M438.1 204.4h0M458.1 200.6h0M444.9 194.7h0M433.7 203.5h0M437.4 197.5h0M449.6 194.9h0M449.5 196.5h0M442.8 199.9h0M460.9 198.9h0M441.2 191.3h0M454.3 198.5h0M460.7 195.5h0M444.0 205.3h0M442.8 204.9h0M451.3 200.8h0M444.2 205.4h0M448.3 194.4h0M446.3 194.7h0M453.3 207.9h0M452.0 206.8h0M435.1 199.9h0M444.8 194.6h0M436.0 194.7h0M442.4 185.4h0M450.8 208.0h0M446.9 207.9h0M449.9 203.3h0M442.0 192.6h0M454.1 205.0h0M448.7 200.4h0M435.1 197.6h0M446.7 196.5h0M445.1 197.9h0M456.7 194.5h0M438.7 205.0h0M454.4 196.5h0M456.8 205.1h0M439.6 193.8h0M437.3 200.6h0M442.8 201.2h0M442.7 193.7h0M446.3 206.0h0M455.3 206.1h0M441.3 191.2h0M453.0 205.3h0M440.3 199.4h0M445.0 198.3h0M433.1 196.1h0M451.1 195.2h0M469.7 195.5h0" stroke="#ffffff" stroke-width="1.0" stroke-linecap="round"/><path d="M404.0 218.3h0M413.3 216.8h0M411.4 217.5h0M389.9 209.9h0M408.9 203.0h0M412.9 205.7h0M395.5 218.3h0M403.3 201.7h0M389.6 213.3h0M394.9 202.1h0M393.1 216.2h0M387.2 206.0h0M392.4 202.7h0M404.1 200.8h0M403.1 218.2h0M399.9 200.8h0M395.6 199.5h0M401.0 217.6h0M390.6 208.5h0M399.2 200.8h0M394.6 199.9h0M389.1 203.5h0M401.8 201.2h0M390.5 203.0h0M395.1 215.1h0M391.4 215.1h0M397.9 200.3h0M409.7 217.2h0M412.1 204.7h0M390.7 204.4h0M415.4 216.1h0M414.0 215.1h0M394.8 201.0h0M411.7 202.9h0M412.6 204.7h0M416.5 207.6h0M399.6 201.6h0M393.0 201.9h0M397.3 199.8h0M416.3 214.7h0M397.2 200.2h0M415.9 207.5h0M390.1 206.7h0M409.6 217.5h0M406.5 203.0h0M394.9 216.9h0M390.2 214.1h0M409.4 217.8h0M402.8 216.7h0M393.1 217.1h0M390.4 206.5h0M411.6 218.5h0M400.7 217.6h0M410.9 217.8h0M393.6 201.8h0M412.5 217.5h0M391.5 215.5h0M399.6 216.3h0M390.3 205.9h0M388.0 211.2h0M390.9 215.7h0M406.4 202.4h0M400.0 202.0h0M408.0 217.5h0M393.7 215.6h0M391.4 215.4h0" stroke="#fdbf6f" stroke-width="1.0" stroke-linecap="round"/><path d="M405.7 214.2h0M408.0 209.0h0M390.6 211.5h0M404.2 216.7h0M394.6 212.8h0M397.5 211.0h0M410.0 216.8h0M408.9 214.7h0M404.5 205.9h0M400.3 209.6h0M399.8 211.0h0M408.6 216.1h0M401.0 206.9h0M406.2 205.5h0M414.8 208.3h0M409.0 207.4h0M391.6 204.5h0M391.4 208.9h0M409.3 212.0h0M400.5 207.7h0M412.4 212.2h0M412.9 211.3h0M403.3 204.6h0M391.4 204.2h0M408.4 214.5h0M391.4 208.0h0M392.6 209.0h0M401.9 205.1h0M395.7 213.7h0M414.9 213.4h0M410.2 208.6h0M396.1 201.4h0M405.6 208.0h0M403.1 212.9h0M402.6 210.3h0M408.2 211.9h0M406.3 210.5h0M399.4 214.7h0M412.1 215.1h0M396.9 208.7h0M407.0 210.3h0M405.9 209.8h0M412.4 205.7h0M400.7 209.5h0M404.6 201.8h0M405.0 207.2h0M414.3 211.6h0M403.2 206.9h0M411.9 210.8h0M394.5 203.5h0M400.0 213.5h0M400.3 201.7h0M406.8 206.4h0M401.3 210.5h0M404.2 201.8h0M395.6 217.0h0M411.1 204.5h0M411.9 215.1h0M390.9 203.6h0M406.6 206.6h0M408.9 215.6h0M391.5 208.6h0M404.9 205.3h0M394.4 206.9h0M410.1 208.7h0M391.1 211.9h0M410.1 209.1h0M395.7 212.8h0M412.7 211.3h0M407.9 213.8h0M398.5 214.7h0M400.0 216.1h0M396.9 215.7h0M390.9 208.0h0M394.1 214.0h0M394.5 209.6h0M410.7 213.7h0M414.6 209.3h0M402.4 216.5h0M407.1 202.8h0M406.8 208.6h0M405.7 212.4h0M392.6 205.1h0M409.6 206.5h0M410.0 211.7h0M413.4 212.8h0M410.9 207.0h0M391.8 214.0h0M392.9 215.6h0M399.0 214.3h0M398.4 210.6h0M414.8 211.6h0M406.0 206.4h0M406.9 217.1h0M401.2 215.8h0M410.2 204.7h0M394.9 210.5h0M410.0 213.8h0M415.1 215.1h0M392.5 203.2h0M394.7 216.8h0M399.5 204.6h0M400.4 204.9h0M399.8 210.3h0M406.7 202.6h0M405.6 210.9h0M398.9 204.2h0M409.5 210.9h0M391.4 204.4h0M411.3 216.2h0M407.5 204.2h0M411.3 216.2h0M395.9 213.5h0M410.1 210.8h0M401.9 203.0h0M395.2 215.3h0M396.4 206.4h0M395.7 211.5h0M410.1 212.1h0M400.8 205.1h0M406.4 205.4h0M413.6 213.8h0M393.6 208.2h0M410.6 207.5h0M390.3 210.4h0M404.8 204.7h0M409.7 208.8h0M396.9 216.6h0M404.1 206.2h0M401.4 209.7h0M410.3 212.8h0M415.9 212.0h0M396.1 213.8h0M410.3 211.3h0M397.6 204.9h0M389.5 209.1h0M405.4 216.7h0M391.8 213.2h0M408.8 216.0h0M410.9 214.2h0M404.5 208.0h0M399.0 205.0h0M409.2 212.3h0M404.7 202.6h0M410.0 209.6h0M410.4 214.4h0M414.4 207.4h0M405.7 206.2h0M396.2 203.7h0M399.6 216.4h0M398.8 214.4h0M399.9 212.6h0M405.8 216.9h0M398.1 201.8h0M406.4 209.6h0M398.3 214.9h0M398.1 202.0h0M400.7 210.7h0M397.0 205.1h0M409.4 213.8h0M392.7 203.5h0M404.4 202.8h0M402.4 214.2h0M406.7 215.9h0M391.4 213.9h0M402.1 209.7h0M394.9 205.0h0M415.3 209.3h0M392.2 209.3h0M394.4 205.7h0M400.7 215.9h0M396.3 213.0h0M392.8 204.2h0M395.2 207.9h0M401.2 203.4h0M399.7 202.3h0M391.8 210.6h0M409.4 213.9h0M397.4 212.1h0M416.8 212.7h0M398.4 202.7h0M414.1 208.4h0M400.9 202.5h0M402.0 206.8h0M398.8 202.9h0M402.6 207.2h0M412.5 207.3h0M407.1 213.3h0M413.5 207.4h0M410.7 214.0h0M413.2 211.6h0M397.1 210.8h0M391.5 205.6h0M410.7 206.1h0M409.0 216.2h0M392.3 205.1h0M391.5 208.8h0M395.1 209.2h0M412.2 215.6h0M412.5 210.9h0M395.8 215.4h0M411.8 205.1h0M398.3 204.2h0M404.1 206.7h0M397.0 213.6h0M394.1 202.1h0M409.7 216.3h0M398.9 214.3h0M402.5 214.3h0M400.9 206.0h0M409.1 217.3h0M401.4 202.7h0M404.3 210.4h0M408.4 217.8h0M390.7 204.4h0M408.8 216.0h0M396.0 205.1h0M391.8 207.1h0M409.7 208.6h0M393.8 210.6h0M400.5 210.7h0M404.4 204.9h0M405.1 211.5h0M405.6 217.4h0M407.4 203.0h0M396.4 207.5h0M401.8 211.0h0M396.4 202.0h0M413.0 214.6h0M390.4 204.3h0M403.0 210.0h0M389.9 211.3h0M397.4 212.9h0M396.0 206.8h0M411.4 210.1h0M397.0 211.1h0M412.6 207.3h0M403.2 213.8h0M389.8 210.7h0M404.0 202.9h0M396.6 205.1h0M416.3 213.5h0M412.8 209.7h0M394.2 210.1h0M405.4 203.5h0M400.1 209.9h0M407.7 204.2h0M411.8 210.1h0M397.5 209.4h0M414.6 210.4h0M403.0 215.4h0M396.3 213.3h0M410.5 213.3h0M403.7 209.8h0M404.8 206.9h0M402.3 206.8h0M404.5 217.2h0M399.5 214.8h0M399.1 204.7h0M397.5 211.7h0M402.1 208.3h0M411.1 213.9h0M399.6 201.6h0M396.9 213.0h0M402.3 203.6h0M409.2 204.4h0M412.4 214.1h0M403.1 205.7h0M400.3 211.7h0M395.0 204.6h0M413.5 214.7h0M406.5 214.5h0M410.0 213.0h0M406.5 212.9h0M413.0 212.3h0M415.9 209.5h0M396.0 206.3h0M393.1 210.2h0M407.4 215.2h0M402.3 207.1h0M389.9 205.8h0M404.6 202.9h0M399.4 204.1h0M407.8 209.0h0M398.7 206.1h0M398.4 209.6h0M392.4 202.8h0M410.9 217.1h0M404.2 215.2h0M393.4 208.7h0M394.0 212.2h0M405.9 213.6h0M398.6 210.8h0M410.4 209.2h0M410.6 212.5h0M391.9 214.6h0M407.6 210.8h0M392.3 214.8h0M395.4 206.3h0M414.9 212.2h0M403.1 203.4h0M411.9 205.9h0M401.4 215.8h0M391.3 209.7h0M395.1 202.0h0M410.9 216.9h0M394.7 214.6h0M404.1 212.1h0M409.2 216.2h0M409.2 210.0h0M408.5 213.9h0M392.9 204.0h0M396.3 204.3h0M394.7 215.8h0M393.5 215.8h0M391.5 214.4h0M405.2 208.6h0M393.1 204.6h0M412.0 212.7h0M399.0 207.1h0M391.0 209.2h0M393.4 213.7h0M390.9 204.1h0M415.5 215.1h0M392.8 208.3h0M401.3 214.5h0M393.4 202.2h0M391.3 209.1h0M413.8 216.1h0M399.8 208.1h0M409.9 213.1h0M390.2 207.8h0M393.9 215.4h0M407.6 209.8h0M399.0 207.8h0M399.2 202.3h0" stroke="#fdbf6f" stroke-width="1.3" stroke-linecap="round"/><path d="M412.7 206.5h0M404.2 202.7h0M394.9 215.6h0M403.3 206.1h0M395.3 214.5h0M402.6 215.1h0M403.7 205.5h0M391.2 205.0h0M416.1 210.9h0M411.0 216.3h0M409.2 215.7h0M404.8 217.3h0M408.9 212.8h0M410.7 217.4h0M404.1 211.9h0M408.4 204.0h0M391.6 210.0h0M412.9 208.5h0M405.0 205.4h0M396.0 201.8h0M408.6 210.3h0M393.8 211.7h0M407.1 205.6h0M404.1 214.3h0M412.5 210.2h0M399.4 212.9h0M400.2 208.6h0M394.1 201.1h0M410.9 212.7h0M404.6 212.5h0M395.0 208.8h0M396.9 203.1h0M396.1 212.1h0M402.9 207.5h0M395.5 211.1h0M402.4 213.3h0M407.1 203.8h0M414.4 210.9h0M399.9 208.4h0M405.2 214.5h0M391.5 214.2h0M416.4 211.1h0M411.8 207.2h0M403.7 215.8h0M408.2 215.0h0M393.7 207.7h0M390.4 207.1h0M402.7 201.5h0M394.2 215.8h0M405.8 209.8h0M409.1 206.0h0M391.0 214.4h0M405.1 203.7h0M405.9 212.2h0M405.2 211.9h0M395.8 210.1h0M407.2 212.2h0M413.9 212.8h0M399.4 214.8h0M400.7 201.0h0M411.4 213.0h0M396.4 203.0h0M416.3 210.1h0M403.2 204.0h0M406.9 208.7h0M396.4 214.9h0M407.7 216.1h0M404.5 210.7h0M394.4 205.2h0M402.0 216.6h0M395.6 203.4h0M413.7 213.9h0M403.4 202.8h0M395.9 210.1h0M396.4 211.5h0M394.2 203.1h0M403.6 212.1h0M400.4 207.6h0M406.8 207.2h0M414.8 211.5h0M406.7 206.1h0M395.0 206.1h0M391.0 211.3h0M410.9 214.2h0M414.1 214.0h0M400.7 213.4h0M399.4 214.1h0M391.7 211.3h0M390.4 209.9h0M390.4 205.5h0M398.9 209.3h0M413.6 208.8h0M396.2 212.5h0M396.4 200.6h0M390.7 205.2h0M409.6 217.1h0M391.5 210.7h0M403.0 209.1h0M389.7 208.5h0M393.8 214.4h0" stroke="#ff7f00" stroke-width="1.0" stroke-linecap="round"/><path d="M401.6 203.9h0M400.3 203.0h0M396.3 213.1h0M394.7 203.6h0M408.8 203.8h0M410.2 209.5h0M390.6 213.3h0M404.3 207.8h0M397.6 211.7h0M397.1 203.0h0M405.6 206.6h0M408.0 211.0h0M401.2 206.1h0M396.6 205.1h0M395.8 206.9h0M412.8 210.6h0M411.9 215.0h0M389.6 206.4h0M394.4 209.2h0M414.1 215.9h0M395.1 212.6h0M402.7 215.6h0M395.8 211.0h0M405.8 210.8h0M410.8 211.7h0M403.8 216.3h0M396.9 211.6h0M410.7 209.8h0M406.7 217.5h0M401.3 203.2h0M391.8 204.1h0M394.8 208.7h0M415.3 211.0h0M399.2 201.9h0M405.3 208.6h0M393.4 205.4h0M409.1 208.9h0M411.8 205.4h0M403.5 216.8h0M401.4 208.2h0M395.8 209.7h0M407.0 216.7h0M407.2 207.7h0M405.3 206.1h0M410.7 208.2h0M392.8 208.9h0M399.4 215.8h0M402.9 208.3h0M393.8 212.7h0M404.7 201.8h0" stroke="#33a02c" stroke-width="1.0" stroke-linecap="round"/><path d="M403.2 203.0h0M402.2 213.8h0M400.9 214.7h0M393.8 204.8h0M402.8 207.2h0M411.1 213.4h0M414.9 209.0h0M396.4 214.8h0M392.1 215.3h0M391.9 212.5h0M413.0 214.3h0M390.5 210.3h0M403.9 206.1h0M390.8 213.3h0M414.2 209.4h0M408.2 210.8h0M403.6 214.9h0M398.2 202.7h0M395.3 201.6h0M393.7 203.1h0M409.2 205.4h0M395.0 204.9h0M389.7 210.8h0M392.3 215.7h0M408.1 210.9h0M406.4 208.4h0M399.4 212.6h0M404.9 213.3h0M401.7 209.1h0M402.1 202.9h0M394.9 205.6h0M406.5 213.7h0M395.6 211.8h0" stroke="#e6ab02" stroke-width="1.0" stroke-linecap="round"/><path d="M390.5 211.7h0M410.0 205.1h0M406.2 206.8h0M405.7 213.4h0M399.6 215.1h0M400.0 213.7h0M407.6 210.1h0M404.5 212.9h0M409.1 210.8h0M394.4 204.4h0M393.1 202.2h0M404.2 205.8h0M414.1 207.3h0M410.2 211.0h0M396.6 213.0h0M392.3 206.8h0" stroke="#1f78b4" stroke-width="1.0" stroke-linecap="round"/><polygon points="415.1,207.4 419.1,205.6 421.7,206.5 420.8,210.1 418.2,211.9 415.1,211.0" fill="#386cb0" /><path d="M420.6 206.6h0M422.0 208.4h0M414.4 208.4h0M419.3 211.7h0M416.9 206.4h0M419.7 204.7h0M415.8 206.3h0M422.1 206.5h0M422.3 207.4h0M417.0 207.6h0M418.3 205.5h0M416.7 212.0h0M421.5 208.1h0M415.6 207.7h0M415.9 208.6h0M417.5 205.2h0M419.8 205.8h0M415.4 207.7h0" stroke="#386cb0" stroke-width="1.0" stroke-linecap="round"/><polygon points="424.4,205.6 427.1,206.5 428.4,211.9 426.2,213.7 424.4,211.0" fill="#7570b3" /><path d="M425.2 212.0h0M427.9 212.0h0M424.5 205.8h0M427.0 213.5h0M427.1 206.2h0M424.7 208.2h0M422.6 207.2h0M425.1 212.4h0M425.4 213.2h0M424.2 211.4h0M426.8 211.9h0M427.2 206.5h0M424.1 210.5h0M428.4 209.2h0M427.1 207.7h0M425.7 205.7h0M426.2 211.7h0" stroke="#7570b3" stroke-width="1.0" stroke-linecap="round"/><polygon points="407.4,218.2 410.1,217.6 411.0,220.8 408.3,222.3" fill="#e31a1c" /><path d="M408.6 223.4h0M409.6 220.3h0M412.6 222.0h0M409.7 221.1h0M411.0 217.6h0M407.8 220.9h0M408.5 217.3h0M406.0 218.1h0M410.7 216.5h0M405.7 218.9h0M408.8 217.4h0M409.2 220.1h0" stroke="#e31a1c" stroke-width="1.0" stroke-linecap="round"/><polygon points="371.5,212.8 374.2,215.5 376.0,220.0 376.9,224.4 375.1,226.8 368.8,227.1 366.1,225.3 365.5,220.8 367.9,216.4" fill="#a6cee3" /><path d="M367.3 227.4h0M367.1 227.6h0M374.8 217.3h0M364.9 220.9h0M367.0 217.5h0M370.4 214.0h0M373.7 214.6h0M370.0 215.4h0M376.7 224.0h0M377.0 218.1h0M367.4 225.6h0M376.0 219.6h0M371.6 213.8h0M375.0 221.8h0M373.8 216.0h0M370.0 213.4h0M376.3 226.4h0M365.1 218.9h0M377.4 225.6h0M375.0 219.6h0M368.2 227.0h0M375.7 220.1h0M369.6 215.0h0M375.3 214.5h0M366.2 221.1h0M376.5 217.1h0M368.0 226.5h0M369.7 214.0h0M374.6 218.1h0M365.7 220.2h0M371.5 226.2h0M371.5 227.5h0M367.9 226.4h0M373.4 228.5h0M375.1 219.8h0M365.2 220.3h0" stroke="#a6cee3" stroke-width="1.0" stroke-linecap="round"/><polygon points="420.8,217.3 426.2,215.5 431.6,214.6 435.2,217.3 436.1,222.6 433.4,227.1 429.8,229.8 426.2,228.9 422.6,225.3 420.0,220.8" fill="#ff7f00" /><path d="M433.2 227.5h0M435.4 224.3h0M427.0 226.5h0M432.7 214.8h0M426.1 229.7h0M428.0 216.9h0M420.2 220.4h0M434.9 214.9h0M426.8 229.9h0M434.4 220.8h0M422.7 215.7h0M431.4 228.7h0M431.4 229.2h0M419.9 218.7h0M429.4 215.6h0M435.4 221.8h0M434.5 215.8h0M428.5 229.7h0M434.9 225.7h0M421.7 223.7h0M429.0 229.2h0M433.3 217.2h0M424.1 225.6h0M434.9 216.2h0M421.2 218.5h0M435.1 224.8h0M420.3 218.3h0M423.6 216.2h0M427.6 215.2h0M433.4 227.5h0M431.8 215.6h0M419.7 217.8h0M419.6 219.8h0M423.5 226.9h0M434.7 217.9h0M430.0 230.4h0M435.9 222.5h0M429.2 214.2h0M426.4 228.9h0M425.2 228.0h0M423.8 227.8h0M422.2 226.6h0M422.2 225.5h0" stroke="#ff7f00" stroke-width="1.0" stroke-linecap="round"/><path d="M428.8 226.6h0M430.6 225.8h0M420.3 220.9h0M422.8 218.9h0M425.1 219.1h0M427.5 221.6h0M430.4 223.5h0M433.5 221.1h0M426.4 227.4h0M432.3 219.8h0M433.6 222.7h0M422.4 222.3h0M429.8 229.3h0M427.0 222.5h0M427.1 226.7h0M427.1 219.2h0M435.5 222.9h0M430.3 217.5h0M422.2 223.1h0M424.5 221.7h0M430.3 218.1h0M425.3 224.2h0M431.4 219.5h0M431.9 215.2h0M434.3 223.7h0M433.9 221.8h0M426.9 220.3h0M433.7 224.6h0M428.3 221.2h0M427.7 220.2h0M430.6 228.0h0" stroke="#fdbf6f" stroke-width="1.0" stroke-linecap="round"/><path d="M432.3 222.9h0M432.8 224.2h0M424.4 219.0h0M423.1 221.4h0M421.9 217.6h0M420.5 220.0h0M427.2 226.1h0M431.9 216.3h0M431.1 221.6h0M433.8 218.3h0M423.4 218.7h0M430.0 225.8h0M426.5 215.8h0M435.3 223.4h0M435.3 222.8h0M431.2 219.7h0M425.7 226.4h0M429.2 225.5h0M430.8 222.6h0M429.7 228.4h0" stroke="#1f78b4" stroke-width="1.0" stroke-linecap="round"/><polygon points="434.3,211.9 438.8,211.0 442.4,212.8 445.1,215.5 442.4,218.2 437.9,218.2 435.2,216.4" fill="#1f78b4" /><path d="M443.4 217.3h0M442.2 212.6h0M434.4 214.2h0M435.4 212.6h0M443.6 214.0h0M435.8 212.5h0M442.5 217.9h0M435.6 214.3h0M442.6 211.1h0M435.8 211.6h0M441.7 217.9h0M440.6 212.4h0M443.8 215.5h0M436.3 218.0h0M446.1 216.7h0M437.5 219.8h0M438.5 211.6h0M444.2 214.0h0M435.6 210.6h0M436.9 212.2h0M434.7 216.8h0M439.3 209.1h0M442.8 211.7h0M441.7 217.6h0M435.8 217.4h0" stroke="#1f78b4" stroke-width="1.0" stroke-linecap="round"/><polygon points="431.6,228.9 437.0,226.2 442.4,225.3 447.8,224.4 455.0,225.3 460.4,228.0 463.9,233.4 469.3,238.8 472.0,241.5 465.7,243.3 458.6,242.4 453.2,241.5 446.9,241.5 445.1,239.7 442.4,237.9 438.8,235.2 433.4,233.4" fill="#fdbf6f" /><path d="M439.9 238.4h0M456.8 224.6h0M455.3 226.9h0M452.1 224.2h0M462.0 242.7h0M433.0 230.3h0M469.2 239.7h0M432.8 229.5h0M434.8 226.9h0M436.6 226.2h0M466.1 242.0h0M455.6 227.4h0M464.6 242.7h0M461.5 243.5h0M445.5 225.3h0M445.6 239.8h0M453.4 224.8h0M441.8 225.4h0M431.7 227.1h0M442.9 238.0h0M463.1 243.7h0M463.2 243.5h0M446.5 240.3h0M449.7 240.8h0M439.1 225.4h0M467.6 235.6h0M433.4 233.1h0M449.5 224.2h0M453.0 226.2h0M442.2 237.4h0M446.9 225.1h0M456.6 241.4h0M441.0 236.0h0M445.9 239.5h0M442.4 237.5h0M432.3 233.6h0M443.4 237.7h0M463.0 242.5h0M472.4 242.7h0M453.0 242.1h0M470.2 242.3h0M460.0 228.1h0M455.9 226.6h0M442.6 238.0h0M441.9 238.0h0M454.4 225.3h0M438.0 226.4h0M442.1 236.8h0M436.0 227.1h0M446.8 224.5h0M465.9 243.1h0M447.9 242.0h0M456.0 242.7h0M453.2 240.8h0M443.0 238.3h0M470.2 241.9h0M443.1 239.4h0M455.3 241.9h0M446.4 226.1h0M451.8 226.6h0M447.3 240.7h0M440.5 225.6h0M435.5 226.3h0M435.6 227.5h0M442.6 225.1h0M443.2 237.2h0M471.8 241.0h0M453.7 240.5h0M470.2 242.7h0M444.5 225.1h0M470.7 239.7h0M455.1 242.0h0M470.2 238.1h0M453.7 242.6h0M454.0 242.1h0M437.9 225.6h0M464.6 235.5h0M438.7 235.8h0M436.2 233.8h0M456.2 225.0h0M432.9 233.0h0M465.0 236.6h0M456.4 226.2h0M457.0 242.6h0" stroke="#fdbf6f" stroke-width="1.0" stroke-linecap="round"/><polygon points="400.2,246.0 404.7,242.4 411.9,238.8 419.1,237.0 424.4,237.9 427.1,235.2 429.8,233.4 431.6,237.0 429.8,242.4 426.2,247.8 422.6,251.4 419.1,253.2 415.5,255.9 411.0,255.9 407.4,251.4 402.9,250.5 399.3,248.7" fill="#b2df8a" /><path d="M407.2 240.8h0M430.6 234.5h0M417.0 256.2h0M417.5 254.0h0M400.5 248.1h0M410.2 240.1h0M416.9 236.0h0M416.1 238.6h0M425.6 247.3h0M425.5 248.1h0M402.3 249.9h0M430.2 242.4h0M430.9 239.5h0M426.5 245.1h0M402.5 244.0h0M415.9 238.7h0M404.1 249.9h0M415.1 255.1h0M413.8 237.3h0M406.5 250.2h0M421.1 251.6h0M426.6 234.9h0M405.3 250.2h0M406.9 252.0h0M409.6 254.8h0M427.6 235.2h0M413.0 239.9h0M410.8 255.6h0M420.5 252.7h0M407.1 240.2h0M424.8 236.2h0M429.0 243.8h0M402.5 244.7h0M424.1 238.2h0M413.1 255.9h0M409.8 239.8h0M424.8 247.3h0M423.1 251.8h0M407.6 249.9h0M424.9 238.1h0M409.4 254.5h0M403.4 251.1h0M431.9 238.6h0M411.6 257.0h0M404.7 240.9h0M406.5 252.2h0M405.1 244.4h0M426.9 235.4h0M402.0 249.3h0M410.0 256.7h0M418.4 253.4h0M420.1 251.9h0M420.9 250.4h0M400.3 249.0h0M424.9 238.4h0M421.0 250.8h0M429.9 237.5h0M430.8 234.6h0M427.2 234.4h0M430.1 242.0h0M413.3 238.9h0M431.6 237.5h0M411.4 238.0h0M418.0 235.8h0M408.5 240.6h0M426.9 246.3h0M426.6 234.7h0M409.5 255.4h0M401.4 250.1h0M422.1 251.9h0M424.7 236.1h0M415.1 238.5h0M401.2 249.0h0M416.0 256.3h0M430.7 239.7h0M400.3 250.4h0" stroke="#b2df8a" stroke-width="1.0" stroke-linecap="round"/><path d="M414.8 252.7h0M420.8 238.9h0M428.0 241.7h0M411.3 245.0h0M415.3 241.7h0M414.2 248.7h0M412.9 245.8h0M408.6 247.4h0M425.8 238.0h0M429.9 241.7h0M419.2 238.2h0M420.1 237.6h0M426.7 242.2h0M419.3 250.1h0M409.5 244.3h0M419.1 252.5h0M420.0 240.0h0M430.1 236.1h0M415.9 252.7h0M403.4 248.6h0M413.8 240.7h0M411.8 246.9h0M414.4 240.7h0M408.6 251.1h0M413.7 238.5h0M417.0 253.0h0M407.3 248.4h0M403.1 244.7h0M405.2 243.5h0M413.2 251.1h0M420.3 242.5h0M419.1 249.8h0M412.0 249.7h0M418.2 241.3h0M408.9 249.3h0M412.7 248.1h0M424.8 247.4h0M410.7 253.5h0M419.4 242.0h0M414.4 252.9h0M416.1 243.5h0M410.1 250.0h0M410.2 254.8h0M421.8 239.5h0M429.9 241.7h0M422.9 249.2h0M426.0 242.8h0M417.2 250.5h0M413.6 240.0h0M416.8 254.0h0M422.1 239.4h0M429.5 235.1h0M426.9 241.0h0M421.8 241.0h0M413.0 242.8h0M430.3 239.1h0M416.2 238.5h0M401.6 246.6h0M430.0 237.8h0M419.9 248.4h0M420.7 238.5h0M430.2 239.4h0M420.8 247.3h0M414.5 249.2h0M406.5 242.2h0M406.3 245.7h0M424.5 244.8h0M414.4 244.6h0M405.5 249.2h0M413.9 255.1h0M413.8 244.1h0M422.5 242.0h0M423.2 246.2h0M418.9 252.9h0M429.2 241.3h0M411.2 249.1h0M411.9 245.2h0M422.4 249.4h0M408.8 246.2h0M403.8 246.2h0M421.7 237.9h0M408.1 241.8h0M415.3 241.9h0M411.5 247.1h0M417.3 253.7h0M411.6 241.0h0M413.5 250.0h0M414.4 241.6h0M424.0 241.4h0M421.8 245.5h0M409.6 244.2h0M413.7 245.9h0" stroke="#33a02c" stroke-width="1.0" stroke-linecap="round"/><path d="M410.4 243.6h0M424.8 245.0h0M426.9 240.1h0M415.4 247.0h0M427.0 240.8h0M403.3 244.7h0M412.2 253.4h0M428.7 242.1h0M422.2 240.4h0M411.0 241.5h0M413.9 255.2h0M409.8 253.1h0M423.0 249.4h0M422.0 249.6h0M426.4 237.4h0M412.3 243.5h0M412.9 238.8h0M422.0 243.7h0M416.4 240.7h0M421.9 251.3h0M409.1 250.3h0M416.3 249.7h0M416.5 244.7h0M413.2 244.8h0M404.2 246.6h0M425.4 245.2h0M411.3 247.0h0M425.4 243.8h0M410.8 251.5h0M412.2 240.8h0M414.4 244.8h0M409.5 240.0h0M413.8 244.4h0M428.1 238.4h0M425.7 241.8h0M418.3 241.3h0M409.8 251.7h0M411.4 250.3h0M416.5 253.4h0M405.5 247.4h0M429.6 238.3h0M414.0 242.7h0M403.1 249.1h0M421.2 244.5h0M405.6 242.2h0M418.7 245.9h0" stroke="#fdbf6f" stroke-width="1.0" stroke-linecap="round"/><polygon points="427.1,235.2 429.8,233.4 433.4,237.0 437.0,242.4 437.0,249.6 433.4,252.3 428.0,252.3 424.4,250.5 427.1,246.0 428.9,240.6" fill="#33a02c" /><path d="M426.1 249.4h0M436.8 244.9h0M438.1 242.9h0M428.5 234.4h0M428.3 241.4h0M428.4 241.7h0M436.6 249.3h0M435.9 242.6h0M427.3 251.6h0M431.2 251.3h0M436.1 248.9h0M433.1 250.9h0M425.6 249.9h0M429.4 239.2h0M438.0 243.2h0M434.3 249.4h0M437.8 244.1h0M432.3 253.1h0M431.3 251.3h0M427.3 242.6h0M432.0 234.0h0M427.3 244.3h0M430.7 251.3h0M431.4 252.4h0M425.4 249.3h0M428.2 252.3h0M435.6 252.6h0M429.8 252.1h0M426.3 250.0h0M427.6 241.4h0M428.5 234.3h0M436.3 249.7h0M437.8 241.5h0M436.8 242.8h0M424.5 250.5h0M430.2 252.2h0M426.0 246.9h0M434.7 251.7h0M423.7 250.1h0M428.6 234.0h0M428.8 240.7h0M427.7 237.7h0M436.2 250.8h0M431.2 235.1h0M433.3 238.0h0M435.0 251.3h0M436.8 240.1h0" stroke="#33a02c" stroke-width="1.0" stroke-linecap="round"/><path d="M434.1 248.8h0M432.8 250.4h0M433.1 242.4h0M428.9 248.6h0M432.2 250.2h0M434.2 248.1h0M431.2 243.1h0M428.8 251.7h0M435.6 244.5h0M427.2 250.3h0M435.4 249.6h0M430.4 245.5h0M429.2 236.1h0M435.5 248.0h0M434.7 242.5h0M431.7 238.3h0M429.2 251.6h0M429.8 238.9h0M429.9 248.7h0M427.8 246.0h0M431.5 241.7h0M429.7 242.8h0M431.1 237.0h0M432.2 237.6h0M430.4 251.6h0M433.4 239.4h0" stroke="#b2df8a" stroke-width="1.0" stroke-linecap="round"/><path d="M431.4 243.8h0M435.9 247.2h0M430.7 248.1h0M429.0 248.1h0M432.6 237.1h0M429.8 241.7h0M431.5 235.2h0M430.9 247.1h0" stroke="#ff7f00" stroke-width="1.0" stroke-linecap="round"/><polygon points="388.5,227.1 393.0,226.2 396.6,228.9 397.5,231.6 393.9,231.6 390.3,229.8" fill="#a6cee3" /><path d="M394.8 226.1h0M395.7 227.2h0M395.2 227.0h0M392.6 231.0h0M397.3 231.9h0M397.1 231.3h0M388.0 227.7h0M395.4 228.0h0M395.8 233.1h0M393.7 227.2h0M388.1 228.4h0M397.2 230.5h0M395.0 232.6h0M398.0 232.0h0M393.3 233.1h0M397.2 230.3h0M389.9 231.6h0M389.4 225.6h0M396.0 231.2h0M394.8 229.7h0" stroke="#a6cee3" stroke-width="1.0" stroke-linecap="round"/><polygon points="383.1,239.7 387.6,238.8 391.2,240.6 389.4,242.4 384.9,242.0" fill="#e7298a" /><path d="M390.1 243.2h0M391.5 240.6h0M382.2 239.8h0M388.8 241.7h0M390.4 239.0h0M383.6 241.8h0M386.8 239.2h0M386.7 238.6h0M389.6 241.3h0M383.9 240.2h0M390.9 240.0h0M384.2 239.6h0M385.0 241.6h0M388.5 238.5h0M386.9 239.8h0M386.8 238.7h0" stroke="#e7298a" stroke-width="1.0" stroke-linecap="round"/><polygon points="428.9,270.2 431.6,269.0 433.8,270.8 431.6,272.9 428.9,272.6" fill="#b2df8a" /><path d="M431.6 269.9h0M431.0 268.3h0M431.9 271.9h0M431.4 269.8h0M429.9 272.0h0M433.0 268.5h0M428.7 270.9h0M428.4 269.5h0M431.1 271.9h0M432.8 269.2h0M433.2 271.2h0M432.6 272.2h0" stroke="#b2df8a" stroke-width="1.0" stroke-linecap="round"/><polygon points="439.7,262.1 442.4,263.0 443.8,265.7 441.0,265.0" fill="#b2df8a" /><path d="M441.5 263.3h0M444.3 264.2h0M440.4 262.9h0M441.1 263.4h0M443.0 266.3h0M440.7 262.5h0M440.9 265.4h0M443.8 264.7h0M440.5 263.2h0M441.6 266.3h0" stroke="#b2df8a" stroke-width="1.0" stroke-linecap="round"/><rect x="530.2" y="160.7" width="115.6" height="116.3" fill="#fff" stroke="#888" stroke-width="0.9" /><line x1="530.2" y1="160.7" x2="645.8" y2="160.7" stroke="#666" stroke-width="1.3" /><polygon points="599.8,167.0 602.0,167.7 602.7,170.0 602.0,172.4 599.8,173.1 597.7,172.4 597.0,170.0 597.7,167.7" fill="#f0027f" /><path d="M601.9 170.0h0M603.5 168.4h0M602.8 168.1h0M601.3 170.5h0M601.7 167.5h0M597.7 168.7h0M600.9 167.1h0M597.6 167.3h0M602.3 171.9h0M596.8 169.9h0M597.9 172.6h0M601.7 171.5h0M597.7 172.3h0M597.8 169.8h0M598.9 168.8h0M600.6 172.9h0" stroke="#f0027f" stroke-width="1.0" stroke-linecap="round"/><path d="M600.1 169.1h0M598.8 169.2h0M600.0 171.8h0" stroke="#7570b3" stroke-width="1.0" stroke-linecap="round"/><polygon points="572.9,178.7 576.5,177.8 578.6,180.4 579.2,183.1 576.5,182.2 573.8,181.3" fill="#7570b3" /><path d="M572.9 179.0h0M578.2 177.3h0M580.0 184.0h0M579.1 179.3h0M579.1 183.2h0M574.3 176.7h0M573.4 178.7h0M573.2 177.7h0M579.2 181.2h0M573.8 181.6h0M573.5 178.8h0M577.2 182.8h0M575.0 181.7h0M576.7 183.1h0M578.7 182.3h0M578.8 181.7h0" stroke="#7570b3" stroke-width="1.0" stroke-linecap="round"/><path d="M576.0 181.0h0M574.4 180.6h0M573.8 179.6h0M578.3 182.2h0M576.9 178.7h0M577.9 182.6h0M576.4 179.7h0M578.2 180.5h0M574.1 179.2h0" stroke="#f0027f" stroke-width="1.0" stroke-linecap="round"/><polygon points="591.7,184.9 598.0,184.0 603.4,184.9 607.0,186.7 607.9,189.4 604.3,191.2 599.8,190.3 595.3,192.1 591.7,190.3 590.8,187.6" fill="#f0027f" /><path d="M604.9 184.7h0M592.9 190.6h0M598.5 190.7h0M591.7 190.0h0M599.2 191.3h0M602.8 186.8h0M595.1 184.3h0M591.7 187.1h0M601.6 184.3h0M605.2 190.7h0M590.6 186.0h0M597.8 183.0h0M601.9 190.6h0M603.0 185.0h0M605.1 190.3h0M603.8 186.0h0M606.0 187.3h0M591.5 185.2h0M606.1 190.8h0M606.9 188.5h0M604.5 190.9h0M594.6 192.2h0M604.2 191.9h0M593.0 191.1h0M592.1 190.0h0M605.8 190.5h0M593.5 191.3h0M607.4 190.8h0M590.5 185.3h0M607.4 189.9h0M591.3 187.2h0M593.6 190.6h0M607.9 189.8h0M605.4 190.1h0M590.1 190.0h0M601.3 185.4h0M607.5 187.4h0" stroke="#f0027f" stroke-width="1.0" stroke-linecap="round"/><path d="M599.4 189.3h0M592.7 190.6h0M597.6 184.9h0M599.5 190.0h0M599.1 185.4h0M601.1 189.7h0M595.3 185.0h0M593.7 189.8h0M602.7 189.4h0M602.6 188.4h0M596.4 190.4h0M596.3 190.9h0M603.5 189.2h0M601.3 187.0h0M595.3 188.6h0M601.3 186.2h0M603.2 186.7h0M597.6 184.8h0M591.4 186.9h0M592.1 187.6h0M602.1 187.5h0M597.0 184.3h0M599.0 185.8h0M592.7 188.6h0M598.8 185.7h0M597.7 185.5h0M594.9 184.6h0M598.0 189.3h0M599.2 186.3h0M601.2 186.9h0M595.4 186.5h0M593.3 187.4h0M593.4 190.6h0M604.1 190.1h0M598.7 189.0h0M599.6 185.6h0M594.5 190.0h0M599.2 188.5h0M594.6 189.2h0M593.8 186.1h0M601.3 189.6h0M593.2 185.1h0M606.4 189.6h0M601.3 189.4h0M602.4 188.5h0M594.7 189.2h0" stroke="#386cb0" stroke-width="1.0" stroke-linecap="round"/><polygon points="601.6,194.8 605.2,191.2 610.6,189.4 612.4,184.9 616.0,185.8 617.8,191.2 623.2,193.0 628.6,193.9 632.1,195.7 635.7,194.8 641.1,195.7 640.2,197.5 633.9,197.5 630.4,199.3 629.5,203.8 626.8,208.3 621.4,209.2 614.2,207.4 608.8,205.6 603.4,203.8 601.6,200.2" fill="#f0027f" /><path d="M616.2 188.7h0M630.5 194.8h0M635.1 195.6h0M605.4 192.3h0M601.6 202.3h0M617.4 189.4h0M632.5 195.9h0M612.1 205.7h0M639.5 198.3h0M607.8 190.2h0M640.0 195.6h0M637.8 197.2h0M615.2 185.3h0M624.5 192.9h0M635.8 193.4h0M632.7 198.8h0M615.0 187.2h0M639.7 198.1h0M639.3 197.8h0M615.6 185.4h0M630.3 194.0h0M626.3 207.5h0M628.7 204.9h0M625.1 209.0h0M610.3 206.5h0M627.2 206.0h0M629.2 200.5h0M616.2 185.2h0M609.5 205.1h0M635.3 196.2h0M609.1 189.9h0M604.0 192.2h0M608.0 190.5h0M608.4 190.4h0M611.0 186.5h0M615.2 207.3h0M619.2 208.9h0M635.5 195.2h0M613.5 184.4h0M626.5 194.3h0M629.2 194.6h0M634.1 194.3h0M637.5 198.6h0M633.3 195.4h0M638.6 194.6h0M605.8 205.0h0M616.5 209.0h0M601.8 200.9h0M626.8 208.4h0M601.0 194.3h0M611.0 207.7h0M633.5 197.5h0M621.5 192.3h0M612.3 206.9h0M633.8 195.7h0M613.9 185.4h0M611.4 187.1h0M640.1 196.5h0M600.7 198.4h0M602.8 203.1h0M629.3 200.3h0M629.4 203.7h0M620.9 209.7h0M629.4 194.8h0M632.5 196.4h0M614.3 185.8h0M624.2 208.5h0M602.1 202.3h0M628.6 193.4h0M630.5 204.3h0M630.4 201.7h0M628.9 202.9h0M630.0 195.7h0M640.1 194.7h0M605.4 190.8h0M612.1 187.4h0M629.0 201.0h0M636.8 193.9h0M622.7 193.6h0M616.8 207.4h0M604.1 195.2h0M612.6 183.6h0M627.7 207.5h0M614.3 207.5h0M613.9 185.5h0M635.7 194.9h0M616.2 186.0h0M628.2 204.3h0M611.3 187.4h0M637.8 193.6h0M620.9 209.9h0M610.8 185.0h0M622.4 191.8h0M641.3 196.5h0" stroke="#f0027f" stroke-width="1.0" stroke-linecap="round"/><path d="M613.1 206.0h0M619.9 202.2h0M603.5 203.8h0M609.5 195.3h0M620.8 192.8h0M611.2 195.8h0M619.1 196.6h0M628.3 196.8h0M612.0 202.7h0M610.3 194.3h0M609.1 194.5h0M629.6 195.8h0M639.6 195.7h0M614.6 200.7h0M611.4 202.6h0M606.3 198.6h0M624.2 197.9h0M604.8 198.4h0M606.6 197.7h0M628.4 202.0h0M602.0 197.8h0M608.5 197.2h0M621.1 196.8h0M609.4 200.3h0M607.9 204.3h0M616.4 187.7h0M613.3 200.8h0M623.8 208.6h0M614.0 205.0h0M640.4 197.0h0M604.6 193.2h0M626.6 197.6h0M618.1 192.4h0M616.9 195.8h0M612.8 188.5h0M636.4 196.2h0M625.1 204.1h0M616.0 207.0h0M626.4 197.9h0M619.2 196.0h0M602.8 198.5h0M603.0 200.1h0M634.1 195.4h0M604.9 200.6h0M615.9 201.0h0M628.0 205.5h0M602.0 196.2h0M627.9 203.8h0M614.0 186.4h0M623.7 206.2h0M623.3 205.0h0M626.6 206.9h0M606.5 201.7h0M620.6 204.8h0M619.2 202.4h0M607.3 203.3h0M608.4 192.9h0M612.7 192.0h0M624.7 193.7h0M627.6 206.5h0M625.7 199.0h0M618.7 202.7h0M619.0 193.5h0M629.7 200.7h0M615.7 188.2h0M606.6 194.2h0M613.2 185.4h0M621.2 207.4h0M619.9 194.6h0M616.7 191.4h0M614.5 189.6h0M618.6 207.1h0M616.1 206.3h0M621.3 200.4h0M620.7 194.4h0M609.1 192.4h0M617.1 198.7h0M616.5 191.4h0M622.8 202.5h0M620.9 197.8h0M626.6 200.3h0M612.4 185.8h0M613.8 185.9h0M605.8 200.9h0M609.3 202.2h0M618.2 205.2h0M623.7 206.1h0M618.4 195.1h0M618.5 206.1h0M615.0 189.6h0M611.1 196.7h0M621.5 201.4h0M635.8 195.4h0M607.5 202.2h0M625.9 194.3h0M620.5 193.6h0M616.2 203.0h0M639.8 196.1h0M602.2 199.9h0M612.1 192.6h0M616.3 201.9h0M609.3 191.9h0M604.9 194.8h0M624.8 199.5h0M627.2 197.9h0M629.1 204.3h0M638.4 196.6h0M605.5 203.8h0M629.2 199.7h0M602.1 198.7h0M614.5 190.6h0M614.3 185.5h0M623.8 195.5h0M612.6 204.7h0M623.7 205.3h0M605.0 200.1h0M618.7 195.7h0M621.2 195.0h0M618.8 200.7h0M623.5 194.0h0M602.3 194.3h0M612.8 203.7h0M604.9 202.0h0M607.1 195.4h0M627.6 195.6h0M613.1 195.9h0M619.8 199.0h0M607.7 195.4h0M612.2 195.9h0M603.7 200.3h0M615.6 201.8h0M621.4 196.8h0M607.6 200.7h0M610.6 198.3h0M623.1 206.6h0M625.2 203.9h0M621.0 194.2h0M612.4 198.5h0M627.1 202.3h0M627.4 201.5h0M628.2 201.8h0M603.7 198.2h0M636.6 197.0h0M640.8 196.2h0M611.1 200.0h0M603.4 200.7h0M611.6 191.6h0M609.3 200.0h0M633.8 196.0h0M614.2 187.4h0M628.2 197.0h0M613.9 188.3h0M614.7 207.2h0M626.8 205.4h0M607.8 201.3h0M613.5 199.6h0M607.9 199.8h0M618.4 198.9h0M606.2 193.9h0M616.8 188.9h0M630.1 196.1h0M616.7 195.7h0M610.3 202.8h0M627.6 199.7h0M613.7 206.7h0M621.9 206.0h0M617.5 193.1h0M620.8 205.4h0M602.1 200.9h0M627.3 202.6h0M606.7 203.9h0" stroke="#386cb0" stroke-width="1.0" stroke-linecap="round"/><path d="M625.3 199.3h0M627.3 199.9h0M610.2 199.4h0M622.1 204.0h0M620.5 207.9h0M628.4 199.9h0M608.2 196.1h0M619.2 200.3h0M625.0 203.4h0M624.1 204.2h0M603.1 196.2h0M607.9 196.8h0M619.7 196.3h0M609.7 195.6h0M603.0 200.0h0M608.8 194.8h0M634.5 195.9h0M615.2 188.2h0M620.8 192.3h0M631.6 197.7h0M617.8 193.0h0M620.1 205.1h0M607.3 202.9h0M616.4 197.8h0M612.9 185.9h0M628.8 200.2h0M603.4 203.1h0M609.1 201.1h0M611.0 188.6h0M613.0 194.1h0M628.3 199.0h0M624.5 201.8h0M612.3 201.4h0M624.0 200.7h0M606.1 204.6h0M623.1 199.4h0M619.0 201.5h0M613.5 197.4h0M606.3 195.4h0M618.2 204.2h0M626.3 204.1h0M604.5 201.5h0M616.5 205.2h0M618.2 205.5h0M611.6 205.4h0M608.8 192.4h0M622.5 202.9h0M612.8 200.7h0M624.3 205.4h0M611.8 201.1h0M626.9 205.0h0M617.5 203.8h0M617.2 201.6h0M613.2 194.5h0M609.8 192.7h0M604.8 194.4h0M615.4 190.9h0" stroke="#7570b3" stroke-width="1.0" stroke-linecap="round"/><polygon points="559.4,205.6 562.1,202.0 565.7,200.2 571.1,201.1 576.5,202.0 581.9,204.7 585.5,208.3 587.3,211.9 585.5,215.5 581.9,217.3 576.5,218.2 571.1,216.4 565.7,217.3 561.2,215.5 559.4,211.0" fill="#386cb0" /><path d="M568.1 201.2h0M582.8 216.4h0M560.5 212.9h0M567.2 200.7h0M560.3 205.3h0M584.8 207.7h0M586.7 210.7h0M563.8 218.0h0M562.3 201.9h0M570.1 218.3h0M573.0 218.4h0M579.9 217.4h0M585.4 214.4h0M570.5 216.2h0M581.1 204.8h0M560.7 214.2h0M587.1 213.2h0M571.7 216.3h0M562.2 216.3h0M579.2 216.9h0M562.3 217.3h0M565.6 199.6h0M583.5 207.6h0M563.9 200.2h0M561.9 217.4h0M586.4 210.0h0M573.9 201.2h0M559.7 203.4h0M577.8 201.4h0M583.6 215.2h0M577.2 218.6h0M568.5 218.1h0M560.5 215.7h0M560.5 214.9h0M569.9 200.7h0M563.0 215.9h0M560.3 213.6h0M582.5 216.3h0M560.5 203.8h0M587.0 213.0h0M561.5 214.5h0M558.9 207.4h0M563.7 202.3h0M565.3 217.4h0M576.9 217.2h0M569.8 201.2h0M560.5 215.9h0M559.9 208.5h0M565.5 216.8h0M577.5 218.2h0M561.0 203.3h0M567.5 199.8h0M583.7 217.1h0M585.4 210.9h0M586.0 208.4h0M560.0 212.1h0M576.1 202.7h0M572.2 201.9h0M563.3 201.6h0M559.9 212.0h0M584.3 208.1h0M559.9 205.8h0M582.3 215.9h0M580.8 216.4h0M586.3 210.7h0M562.8 216.1h0" stroke="#386cb0" stroke-width="1.0" stroke-linecap="round"/><path d="M564.1 210.2h0M565.9 208.5h0M560.5 206.6h0M563.9 209.0h0M565.3 206.2h0M567.5 201.8h0M561.7 212.4h0M580.7 214.5h0M580.1 213.7h0M562.1 205.5h0M583.1 209.5h0M581.1 204.8h0M583.1 216.3h0M564.1 213.4h0M566.0 216.5h0M578.9 206.6h0M564.1 216.4h0M560.5 206.2h0M573.3 210.7h0M582.2 207.6h0M568.4 209.1h0M561.3 214.6h0M573.9 215.6h0M578.2 207.7h0M560.8 206.5h0M573.0 207.0h0M572.0 204.5h0M565.6 216.7h0M581.5 206.8h0M577.3 205.2h0M567.5 209.2h0M575.4 205.5h0M566.4 207.2h0M582.4 216.7h0M584.1 213.3h0M583.9 206.8h0M583.4 212.1h0M561.8 205.9h0M572.4 204.8h0M574.7 205.2h0M565.3 207.9h0M578.0 208.9h0M565.5 210.6h0M582.7 212.4h0M571.7 216.1h0M562.1 209.8h0M562.9 209.2h0M567.7 215.1h0M572.0 203.5h0M564.3 202.5h0M573.3 215.7h0M584.9 213.7h0M561.7 211.6h0M566.4 202.5h0M562.5 214.1h0M568.5 206.9h0M571.3 215.5h0M577.1 204.5h0M562.2 214.9h0M576.7 217.2h0M564.4 205.3h0M578.9 205.9h0M562.7 209.0h0M561.9 207.1h0M585.5 212.0h0M571.4 212.1h0M570.9 203.9h0M579.2 210.1h0M562.6 211.0h0M573.6 210.9h0M560.1 210.0h0M571.9 215.7h0M579.4 213.1h0M575.3 204.4h0M586.1 209.7h0M570.9 207.3h0M572.5 209.3h0M563.8 207.6h0M560.6 210.3h0M562.6 204.2h0M560.1 209.3h0M560.3 208.8h0M568.8 205.6h0M571.8 205.8h0M569.7 215.7h0M584.6 211.6h0M580.6 213.3h0M571.2 203.2h0M562.6 211.0h0M578.3 213.0h0M576.1 205.1h0M576.3 215.8h0M567.9 216.5h0M569.4 215.0h0M584.8 210.5h0M580.2 213.7h0M584.7 214.8h0M577.0 213.1h0M575.7 204.8h0M562.7 207.8h0M564.6 204.3h0M564.3 209.9h0M562.9 215.7h0M576.3 202.5h0M565.0 213.5h0M575.2 206.8h0M577.4 209.3h0M583.7 207.9h0M569.5 206.5h0M585.0 212.5h0M569.2 207.7h0M569.8 202.0h0M586.0 209.5h0M565.5 208.8h0M584.3 208.2h0M568.2 206.7h0M571.5 207.9h0M562.2 215.2h0M567.6 208.0h0M581.2 207.7h0M584.2 213.5h0M567.5 213.1h0M565.6 204.6h0M568.2 201.6h0M562.8 215.5h0M574.5 214.5h0M580.7 211.6h0M570.4 215.9h0M568.2 216.2h0M561.3 211.2h0M569.5 208.8h0M571.5 203.1h0M571.3 203.8h0M573.0 209.9h0" stroke="#f0027f" stroke-width="1.0" stroke-linecap="round"/><path d="M575.2 212.8h0M569.7 201.6h0M580.6 213.0h0M565.2 210.0h0M567.2 206.4h0M577.5 209.0h0M575.6 215.4h0M576.7 209.8h0M574.2 209.2h0M580.4 210.0h0M571.0 204.9h0M570.1 208.8h0M571.2 213.9h0M577.2 217.6h0M575.0 202.0h0M575.2 217.4h0M586.4 211.9h0M569.7 211.8h0M561.9 214.4h0M581.4 205.9h0M581.1 216.5h0M584.0 215.4h0M578.8 209.2h0M574.4 208.4h0M567.8 208.7h0M561.8 208.4h0M578.6 205.4h0M583.9 216.2h0M585.5 210.5h0M563.9 202.2h0M569.3 216.1h0M573.8 201.9h0M574.5 211.2h0M566.8 207.2h0M574.0 215.0h0M572.9 212.4h0M574.4 207.1h0M584.0 213.1h0M575.8 214.8h0M565.4 201.2h0M573.6 206.4h0M563.7 205.4h0M560.9 205.0h0M581.1 212.2h0M566.4 210.4h0M565.3 208.7h0M572.6 202.6h0M566.3 212.9h0M567.2 201.5h0M572.0 209.5h0M583.2 212.0h0M577.6 216.1h0M576.5 210.5h0M576.5 207.8h0M580.7 208.3h0M585.8 210.9h0M579.7 204.0h0M573.8 206.9h0M575.8 205.8h0M575.9 215.9h0M562.5 205.4h0M567.0 203.2h0M562.3 203.4h0M572.9 212.4h0M581.6 214.1h0M565.2 203.7h0M570.2 208.9h0M583.5 211.0h0M584.7 215.5h0M585.3 211.5h0M577.3 208.8h0M569.5 212.2h0M563.2 204.0h0M572.0 211.3h0M568.7 204.4h0M579.5 207.1h0M584.1 209.7h0M569.1 206.9h0M575.7 203.6h0M579.3 208.1h0M585.7 213.9h0M571.3 214.4h0M571.6 206.8h0M580.1 214.8h0M570.9 212.9h0M563.4 215.6h0M570.6 213.2h0M578.7 203.2h0M562.0 212.0h0M586.7 212.7h0M575.7 217.2h0M562.4 214.9h0M566.3 213.7h0M574.3 214.0h0M563.5 215.9h0M567.3 213.9h0M566.2 201.6h0M563.4 208.7h0M560.8 204.1h0M573.1 203.2h0M578.0 205.1h0M570.2 208.9h0M576.2 208.4h0M561.2 212.2h0M573.6 203.2h0M576.4 205.6h0M576.6 207.8h0M559.5 209.6h0M562.4 215.6h0M567.8 203.6h0M570.8 211.7h0M574.2 212.9h0M576.8 206.3h0M585.5 208.5h0M579.2 211.0h0M563.6 210.8h0M575.7 208.0h0M570.0 211.6h0M574.2 206.3h0M569.0 209.2h0M571.3 206.1h0M583.9 212.0h0M581.2 211.2h0M568.5 209.4h0M581.6 209.9h0M566.0 205.3h0M563.0 212.4h0M576.9 215.6h0M571.7 206.1h0M571.0 208.7h0M579.9 214.8h0M583.0 207.8h0M562.2 206.9h0M561.0 209.3h0" stroke="#7570b3" stroke-width="1.0" stroke-linecap="round"/><polygon points="585.1,207.4 589.1,205.6 591.7,206.5 590.8,210.1 588.2,211.9 585.1,211.0" fill="#f0027f" /><path d="M584.7 209.6h0M589.8 205.7h0M591.7 210.8h0M584.7 208.0h0M586.9 211.1h0M586.7 206.5h0M589.8 209.0h0M585.6 206.8h0M591.8 208.1h0M586.3 209.3h0M586.2 206.4h0M584.7 209.2h0M592.6 206.2h0M585.9 211.0h0M583.6 208.0h0M587.4 205.1h0M589.6 205.2h0M591.0 209.6h0" stroke="#f0027f" stroke-width="1.0" stroke-linecap="round"/><path d="M588.6 205.8h0M590.5 207.7h0M588.1 209.9h0M589.1 207.9h0M587.2 211.0h0M589.7 210.2h0M586.8 208.0h0M588.5 208.8h0M588.3 211.0h0M588.5 209.2h0" stroke="#386cb0" stroke-width="1.0" stroke-linecap="round"/><polygon points="594.4,205.6 597.1,206.5 598.4,211.9 596.2,213.7 594.4,211.0" fill="#f0027f" /><path d="M596.5 211.8h0M597.0 211.4h0M597.8 208.9h0M597.7 214.3h0M596.6 212.4h0M597.2 209.5h0M594.8 213.2h0M594.0 207.4h0M596.4 206.0h0M595.0 213.6h0M597.3 214.2h0M597.7 206.0h0M595.8 203.8h0M596.0 207.2h0M598.7 213.6h0M593.2 209.5h0M594.6 208.4h0" stroke="#f0027f" stroke-width="1.0" stroke-linecap="round"/><path d="M596.8 206.9h0M596.9 209.8h0M596.8 211.0h0M594.5 209.2h0M595.5 207.6h0M595.7 209.4h0M595.6 209.8h0" stroke="#7570b3" stroke-width="1.0" stroke-linecap="round"/><polygon points="577.4,218.2 580.1,217.6 581.0,220.8 578.3,222.3" fill="#f0027f" /><path d="M579.4 219.6h0M580.1 218.4h0M579.9 217.9h0M576.9 216.7h0M577.5 217.8h0M576.4 219.1h0M577.5 222.5h0M579.8 218.1h0M578.3 217.7h0M581.5 219.7h0M575.5 216.5h0M578.8 221.5h0" stroke="#f0027f" stroke-width="1.0" stroke-linecap="round"/><polygon points="541.5,212.8 544.2,215.5 546.0,220.0 546.9,224.4 545.1,226.8 538.8,227.1 536.1,225.3 535.5,220.8 537.9,216.4" fill="#f0027f" /><path d="M543.2 213.8h0M544.0 213.7h0M538.1 214.5h0M535.9 221.7h0M537.3 219.9h0M542.6 227.5h0M540.6 213.2h0M538.5 226.8h0M540.4 214.6h0M536.6 225.6h0M536.2 218.3h0M545.2 226.7h0M546.0 222.9h0M544.9 214.4h0M546.2 225.1h0M544.2 214.7h0M539.6 226.7h0M536.3 220.3h0M546.2 221.7h0M546.1 225.6h0M536.7 224.2h0M547.6 221.6h0M546.7 221.5h0M545.2 216.5h0M541.0 213.5h0M536.8 216.7h0M544.1 227.1h0M543.7 218.4h0M545.1 219.2h0M538.8 216.0h0M544.3 217.1h0M541.5 226.0h0M545.7 219.7h0M539.6 213.6h0M535.0 224.4h0M538.3 226.5h0" stroke="#f0027f" stroke-width="1.0" stroke-linecap="round"/><polygon points="590.8,217.3 596.2,215.5 601.6,214.6 605.2,217.3 606.1,222.6 603.4,227.1 599.8,229.8 596.2,228.9 592.6,225.3 590.0,220.8" fill="#386cb0" /><path d="M593.5 227.9h0M604.0 226.2h0M591.5 225.4h0M596.9 228.6h0M602.3 216.6h0M591.2 220.0h0M596.1 228.5h0M590.7 217.6h0M593.2 223.8h0M590.6 216.5h0M592.3 225.9h0M593.4 224.9h0M605.3 223.8h0M605.8 219.4h0M601.0 215.3h0M590.1 223.2h0M602.7 216.8h0M597.0 228.9h0M597.6 216.7h0M602.0 230.5h0M593.9 227.6h0M589.3 217.2h0M589.4 221.0h0M589.3 216.5h0M594.9 227.3h0M589.2 218.3h0M601.9 228.4h0M595.9 217.2h0M593.8 224.2h0M596.8 228.4h0M589.7 220.9h0M595.3 228.1h0M590.4 221.7h0M602.5 227.5h0M600.5 215.2h0M605.0 222.2h0M604.1 226.2h0M590.3 217.8h0M603.5 227.7h0M598.9 229.3h0M600.5 228.8h0M603.5 215.5h0M591.1 217.7h0" stroke="#386cb0" stroke-width="1.0" stroke-linecap="round"/><path d="M597.5 216.1h0M595.1 227.0h0M595.2 223.4h0M597.6 216.2h0M597.2 224.6h0M597.6 219.2h0M598.7 219.1h0M603.8 224.9h0M605.7 220.9h0M597.6 215.4h0M594.0 224.1h0M601.9 220.0h0M597.9 217.6h0M600.6 220.3h0M597.8 222.2h0M591.5 219.3h0M598.0 228.2h0M595.3 222.3h0M591.9 219.5h0M603.8 220.6h0M598.8 226.9h0M593.2 223.6h0M601.6 225.1h0M599.5 229.6h0M599.6 216.3h0M603.6 216.5h0M597.8 228.7h0M590.8 219.2h0M601.9 225.9h0M594.1 225.5h0M593.3 218.2h0M595.7 222.0h0M598.6 219.3h0M601.7 221.7h0M605.1 217.6h0M594.8 225.0h0M598.8 227.2h0M599.5 224.3h0M602.3 219.1h0M596.6 225.2h0M594.8 217.4h0M596.5 224.8h0M604.4 221.6h0M602.2 221.7h0M602.5 223.8h0M604.4 221.1h0M594.6 221.0h0M592.9 218.3h0M593.9 226.4h0M596.8 226.4h0M598.4 223.7h0M590.5 221.7h0M594.3 222.8h0M594.1 216.9h0M594.3 224.1h0M593.6 222.8h0M599.8 217.4h0M603.3 221.3h0M602.0 227.3h0M598.7 224.3h0M604.7 223.0h0M600.4 215.8h0M592.7 218.2h0M596.4 221.5h0M600.6 227.9h0M602.0 222.5h0M602.8 221.2h0M596.8 217.3h0M603.1 219.9h0M603.6 226.1h0M598.1 229.2h0M592.7 221.5h0M593.0 224.5h0M598.5 218.5h0M599.4 223.4h0M597.0 222.3h0M598.7 220.7h0M603.3 221.6h0M600.0 226.2h0M603.1 226.4h0M591.2 222.0h0M598.2 227.8h0M596.8 216.8h0M599.3 225.4h0M597.5 228.8h0M598.9 215.1h0M600.4 215.2h0M602.3 216.1h0M602.9 223.4h0M592.5 224.7h0M598.6 226.9h0M604.2 217.7h0M591.7 218.3h0" stroke="#f0027f" stroke-width="1.0" stroke-linecap="round"/><path d="M605.6 222.4h0M591.4 217.5h0M600.5 227.8h0M598.8 224.0h0M600.3 216.3h0M596.5 219.8h0M603.5 225.9h0M597.4 217.0h0M603.2 222.3h0M596.1 216.7h0M599.8 229.5h0M602.7 218.3h0M599.1 223.3h0M594.1 220.9h0M596.2 220.3h0M596.4 225.1h0M602.9 216.2h0M598.0 229.0h0M601.8 222.8h0M604.7 224.3h0" stroke="#7570b3" stroke-width="1.0" stroke-linecap="round"/><polygon points="604.3,211.9 608.8,211.0 612.4,212.8 615.1,215.5 612.4,218.2 607.9,218.2 605.2,216.4" fill="#f0027f" /><path d="M606.8 216.7h0M605.6 217.3h0M611.2 218.2h0M610.0 217.1h0M611.6 217.1h0M607.3 217.9h0M613.8 213.2h0M614.7 217.1h0M612.3 218.2h0M611.4 217.9h0M605.2 216.7h0M609.2 217.8h0M614.8 215.1h0M609.3 217.9h0M610.1 219.0h0M610.0 218.6h0M612.4 218.5h0M612.8 212.4h0M608.3 217.3h0M611.1 210.2h0M614.4 214.4h0M610.6 211.5h0M615.1 214.3h0M613.3 217.8h0M607.0 218.8h0" stroke="#f0027f" stroke-width="1.0" stroke-linecap="round"/><path d="M607.7 217.8h0M610.1 216.1h0M605.4 216.0h0M610.0 212.5h0M613.0 213.4h0M605.2 214.0h0M605.5 215.2h0M606.3 214.2h0M611.5 215.3h0M611.5 215.7h0M605.8 214.5h0M606.8 211.8h0M606.7 216.1h0M612.4 216.2h0M606.9 217.3h0M612.8 216.9h0M612.5 214.9h0M609.0 211.9h0M609.3 218.1h0M613.7 216.3h0M609.3 214.3h0M611.6 216.4h0M606.6 214.2h0M610.8 212.9h0M608.3 212.9h0" stroke="#386cb0" stroke-width="1.0" stroke-linecap="round"/><polygon points="601.6,228.9 607.0,226.2 612.4,225.3 617.8,224.4 625.0,225.3 630.4,228.0 633.9,233.4 639.3,238.8 642.0,241.5 635.7,243.3 628.6,242.4 623.2,241.5 616.9,241.5 615.1,239.7 612.4,237.9 608.8,235.2 603.4,233.4" fill="#f0027f" /><path d="M625.8 226.2h0M610.0 237.8h0M610.1 224.5h0M627.7 242.0h0M613.3 238.8h0M626.9 226.0h0M606.2 227.4h0M639.8 239.4h0M642.4 241.4h0M631.1 242.7h0M629.4 242.0h0M634.9 235.1h0M606.8 232.4h0M640.9 241.3h0M602.0 231.0h0M629.0 228.7h0M634.8 233.7h0M632.2 232.3h0M604.4 233.5h0M632.3 230.9h0M609.8 237.0h0M614.3 224.7h0M635.6 234.1h0M622.7 225.9h0M627.1 226.3h0M602.6 230.3h0M611.8 224.8h0M642.2 240.5h0M610.7 236.0h0M602.1 229.2h0M615.4 226.1h0M616.1 240.1h0M604.6 234.5h0M605.1 227.3h0M628.1 241.6h0M633.4 243.1h0M622.9 224.4h0M607.7 227.5h0M639.0 242.2h0M627.7 242.4h0M636.5 243.2h0M602.6 234.2h0M623.6 225.1h0M640.3 240.1h0M616.7 225.3h0M625.3 242.3h0M631.0 243.7h0M626.4 242.8h0M631.0 242.7h0M631.7 229.0h0M640.4 240.9h0M634.9 231.4h0M641.6 237.8h0M605.0 227.3h0M607.6 227.4h0M633.7 233.4h0M633.3 235.2h0M636.9 236.5h0M639.9 239.2h0M601.2 227.4h0M611.6 225.3h0M633.8 244.1h0M641.1 239.8h0M625.0 225.5h0M640.9 241.5h0M639.4 242.7h0M619.0 242.6h0M603.3 232.9h0M611.2 224.4h0M641.8 240.8h0M615.2 240.2h0M626.1 242.4h0M639.2 239.4h0M635.2 235.3h0M635.6 235.0h0M634.2 243.5h0M605.9 233.8h0M638.7 238.6h0M632.2 230.4h0M636.2 243.1h0M628.1 242.9h0M618.6 242.2h0M631.0 229.0h0M634.1 234.0h0" stroke="#f0027f" stroke-width="1.0" stroke-linecap="round"/><path d="M628.5 227.7h0M615.0 225.5h0M613.0 225.5h0M627.6 237.3h0M616.9 239.8h0M613.7 234.2h0M615.4 234.1h0M626.6 236.2h0M614.0 229.3h0M620.3 229.1h0M629.6 228.3h0M623.3 238.2h0M607.3 233.4h0M620.4 240.2h0M605.1 227.8h0M633.3 235.5h0M619.6 235.3h0M614.2 232.6h0M626.5 238.4h0M625.1 232.7h0M610.7 235.1h0M624.2 226.0h0M615.7 227.4h0M617.6 224.5h0M616.6 225.8h0M617.4 228.8h0M620.9 229.0h0M634.5 242.1h0M613.0 233.2h0M632.8 240.2h0M630.8 236.7h0M620.5 231.2h0M604.0 228.3h0M614.6 230.2h0M610.2 226.0h0M608.1 232.1h0M619.4 235.3h0M608.8 228.4h0M609.2 229.5h0M615.5 237.9h0M618.1 228.8h0M620.1 226.3h0M606.1 229.0h0M634.5 241.2h0M613.5 226.2h0M607.4 233.6h0M629.2 239.0h0M632.5 239.1h0M638.0 241.7h0M632.1 239.5h0M611.1 227.8h0M633.2 241.3h0M616.4 234.3h0M632.1 233.5h0" stroke="#7570b3" stroke-width="1.0" stroke-linecap="round"/><polygon points="570.2,246.0 574.7,242.4 581.9,238.8 589.1,237.0 594.4,237.9 597.1,235.2 599.8,233.4 601.6,237.0 599.8,242.4 596.2,247.8 592.6,251.4 589.1,253.2 585.5,255.9 581.0,255.9 577.4,251.4 572.9,250.5 569.3,248.7" fill="#7570b3" /><path d="M600.8 234.1h0M588.3 237.3h0M589.0 236.7h0M597.0 234.9h0M590.1 252.2h0M585.2 238.0h0M569.7 245.7h0M590.4 253.3h0M594.2 249.6h0M573.5 245.1h0M571.8 244.6h0M587.0 256.0h0M579.6 253.9h0M600.5 236.3h0M590.9 238.0h0M590.3 237.8h0M592.8 252.6h0M573.0 244.9h0M592.6 238.0h0M594.9 251.2h0M592.3 237.1h0M591.6 253.0h0M596.0 235.9h0M600.4 236.8h0M595.6 247.3h0M592.3 252.8h0M600.4 238.9h0M580.9 253.3h0M601.1 239.3h0M597.6 235.9h0M583.9 237.8h0M575.3 242.1h0M588.7 238.4h0M587.0 238.2h0M577.1 252.0h0M598.7 245.5h0M596.2 235.9h0M592.8 238.3h0M581.3 239.3h0M596.4 233.9h0M596.8 250.2h0M592.2 251.2h0M575.9 242.2h0M576.0 241.6h0M585.2 255.6h0M571.6 249.7h0M583.0 256.6h0M572.5 250.0h0M584.7 256.2h0M575.9 242.1h0M594.8 237.6h0M594.3 250.2h0M582.3 257.1h0M570.2 249.4h0M574.2 249.5h0M575.8 251.4h0M579.0 240.2h0M600.7 241.5h0M576.7 250.7h0M581.6 256.3h0M572.7 250.0h0M576.6 252.5h0M595.2 237.7h0M589.9 254.9h0M578.6 252.7h0M569.6 247.5h0M595.3 237.5h0M599.9 233.4h0M581.9 255.6h0M587.7 254.2h0M585.1 255.6h0M600.4 234.2h0M571.6 248.4h0M580.7 237.2h0M568.9 246.2h0M570.6 247.2h0" stroke="#7570b3" stroke-width="1.0" stroke-linecap="round"/><path d="M598.2 244.4h0M581.2 240.9h0M586.9 244.5h0M584.0 243.4h0M599.5 241.9h0M591.2 243.8h0M596.9 235.8h0M574.8 248.7h0M574.5 242.7h0M594.9 240.3h0M596.2 246.3h0M590.7 245.2h0M585.6 254.6h0M588.7 242.3h0M582.9 242.4h0M585.0 252.9h0M600.4 235.3h0M576.2 249.3h0M588.0 250.3h0M583.0 242.5h0M587.0 244.0h0M578.8 247.3h0M585.0 246.9h0M576.3 245.9h0M585.7 243.2h0M591.6 247.1h0M584.6 241.1h0M590.5 244.6h0M578.6 245.9h0M593.3 239.4h0M569.9 248.5h0M586.1 250.9h0M576.9 243.9h0M594.5 248.4h0M579.6 245.4h0M573.3 246.1h0M576.0 245.2h0M591.1 246.9h0M577.1 242.1h0M582.9 245.7h0M587.6 241.0h0M592.7 247.9h0M581.6 249.6h0M573.5 246.8h0M571.7 247.6h0M583.7 253.0h0M593.7 241.0h0M572.4 245.6h0M595.2 244.1h0M599.4 238.5h0M596.1 244.6h0M588.9 242.7h0M591.2 247.0h0M579.2 246.0h0M598.3 239.4h0M575.7 248.7h0M579.0 244.5h0M590.9 240.6h0M600.5 239.3h0M584.9 242.9h0M577.1 245.7h0M584.1 247.6h0M582.8 247.1h0M580.8 244.3h0M580.5 246.7h0M586.4 238.9h0M581.5 250.2h0M571.1 246.2h0M592.9 238.1h0M581.7 242.7h0M583.9 246.2h0M581.8 252.1h0M579.4 242.4h0M587.7 240.7h0M584.7 238.6h0M580.8 253.7h0M581.4 240.2h0M577.4 244.9h0M589.0 251.7h0M592.1 251.0h0M599.9 238.5h0M592.2 241.3h0M587.0 237.7h0M586.7 253.6h0M597.8 241.8h0M587.7 241.0h0M579.8 249.0h0M582.3 244.2h0M577.3 241.3h0M584.6 254.9h0M590.3 242.2h0M588.8 241.9h0M588.3 247.3h0M595.4 247.9h0M583.3 248.0h0M584.3 244.8h0M584.2 241.9h0M588.6 243.7h0M588.5 252.8h0M582.4 249.7h0M598.3 238.0h0M578.1 245.1h0M581.0 254.7h0M580.0 244.4h0M573.4 249.1h0M579.9 249.1h0M580.9 251.7h0M583.8 242.4h0M584.5 244.3h0M587.2 240.0h0M601.3 236.5h0M578.8 243.6h0M577.9 248.1h0M579.7 251.9h0M593.4 249.2h0M589.9 250.1h0M581.4 242.5h0M596.6 246.5h0M591.1 239.1h0M586.6 248.2h0M571.1 248.9h0M593.4 245.2h0M582.0 252.5h0M584.5 254.8h0M597.6 241.2h0M576.0 244.8h0M571.9 246.1h0M580.1 252.5h0M583.4 245.8h0M591.0 247.7h0M579.3 248.3h0M583.3 250.6h0M598.3 235.7h0M592.2 240.0h0M573.1 245.1h0M575.7 244.3h0M577.4 246.5h0M578.8 244.2h0" stroke="#386cb0" stroke-width="1.0" stroke-linecap="round"/><path d="M580.4 253.8h0M576.6 250.7h0M589.8 249.2h0M582.6 248.3h0M590.6 246.6h0M572.8 250.4h0M585.4 245.4h0M598.3 242.9h0M581.2 251.2h0M596.5 237.9h0M582.4 252.2h0M598.4 236.0h0M578.7 250.8h0M600.5 236.4h0M585.7 240.0h0M576.8 246.5h0M571.8 247.6h0M584.2 245.1h0M585.4 251.9h0M596.1 241.1h0M577.9 248.4h0M587.8 252.5h0M591.1 252.0h0M579.6 242.2h0M584.5 238.9h0M586.0 248.8h0M577.2 247.0h0M591.4 247.2h0M589.3 242.9h0M588.7 250.5h0M595.4 244.6h0M592.8 242.4h0M585.8 250.5h0M592.4 249.8h0M589.6 250.7h0M584.3 249.7h0M587.5 249.8h0M589.2 247.6h0M580.9 240.2h0M589.6 241.4h0M573.3 250.2h0M583.8 246.0h0M575.4 244.6h0M586.5 246.2h0M587.0 242.7h0M596.1 241.4h0M583.2 241.2h0M590.1 243.8h0M583.9 246.3h0M582.5 250.2h0M596.1 244.7h0M594.9 237.8h0M594.1 238.3h0M597.4 244.8h0M577.6 244.2h0M580.3 243.0h0M583.0 244.1h0M594.8 237.6h0M596.7 242.9h0M582.0 240.2h0M581.5 248.4h0M589.2 244.3h0M586.7 245.2h0M579.0 248.7h0M585.0 242.3h0M586.7 238.6h0M579.8 242.7h0M584.9 249.0h0M576.7 251.0h0M579.4 251.4h0M594.5 240.6h0M580.7 240.9h0M589.1 249.8h0M595.0 242.7h0M589.5 237.5h0M592.8 239.9h0M579.1 249.7h0M586.6 239.6h0M587.5 239.6h0M583.2 250.3h0M578.0 250.6h0M595.8 242.1h0M577.5 250.6h0M585.6 238.4h0M590.5 244.3h0M589.4 243.1h0M581.3 243.6h0M586.0 243.6h0M590.0 245.3h0M588.2 246.8h0M598.1 235.6h0M572.4 246.0h0M576.2 241.6h0M573.5 244.6h0M581.5 249.1h0M592.6 240.7h0M572.8 249.9h0M581.5 253.2h0M590.8 249.4h0M575.6 247.0h0M582.3 244.8h0M595.6 247.5h0M572.1 245.9h0M586.9 249.3h0M585.3 243.5h0M593.2 243.3h0M596.2 238.7h0M591.3 237.7h0M589.9 239.8h0M584.5 251.5h0M591.5 239.6h0M583.9 238.9h0M591.1 249.5h0M588.7 247.5h0M591.8 244.5h0M577.1 246.3h0M595.6 246.3h0M593.9 249.4h0M575.0 244.1h0M591.1 243.4h0M578.0 245.4h0M571.4 247.9h0M588.9 244.0h0M581.6 252.8h0M598.0 240.1h0M600.3 235.6h0M577.4 243.7h0M580.8 239.8h0M591.1 248.8h0M587.0 252.4h0M597.4 238.9h0M584.2 251.5h0M589.0 246.0h0M584.4 251.1h0M572.0 248.8h0M582.5 255.1h0M590.7 244.7h0M589.8 238.2h0" stroke="#f0027f" stroke-width="1.0" stroke-linecap="round"/><path d="M570.7 246.7h0M582.6 252.4h0M576.1 246.1h0M581.6 255.8h0M584.6 255.1h0M575.1 245.7h0M578.7 248.2h0M587.7 243.3h0M583.0 248.7h0M593.0 243.1h0M581.9 250.6h0M596.8 237.1h0M582.1 241.5h0M575.9 250.7h0M593.9 243.3h0M594.8 247.1h0M588.4 247.7h0M591.5 240.1h0M571.9 248.3h0M595.3 244.9h0M586.3 240.4h0M597.1 239.6h0M573.2 247.6h0M587.3 249.7h0M586.9 242.5h0M590.5 249.2h0M596.3 244.4h0M585.1 253.4h0M591.2 246.2h0M584.9 247.5h0M576.7 250.5h0M578.0 246.4h0M596.7 235.8h0M587.5 248.4h0M584.1 241.9h0M596.2 246.7h0" stroke="#a6d96a" stroke-width="1.0" stroke-linecap="round"/><polygon points="597.1,235.2 599.8,233.4 603.4,237.0 607.0,242.4 607.0,249.6 603.4,252.3 598.0,252.3 594.4,250.5 597.1,246.0 598.9,240.6" fill="#f0027f" /><path d="M598.4 240.0h0M606.6 243.9h0M604.2 252.4h0M602.3 251.9h0M602.6 236.0h0M595.4 251.4h0M605.5 238.9h0M598.9 235.1h0M598.6 239.7h0M602.6 237.4h0M606.4 239.8h0M597.7 235.5h0M594.7 250.9h0M607.2 243.4h0M597.2 235.4h0M605.7 248.2h0M599.4 242.2h0M599.8 235.0h0M598.2 247.0h0M604.2 238.8h0M605.2 236.2h0M603.0 252.3h0M598.3 240.7h0M599.1 252.6h0M606.0 240.5h0M598.8 251.8h0M597.4 251.9h0M607.6 242.2h0M604.3 236.8h0M598.0 235.5h0M600.8 252.3h0M596.8 248.0h0M596.3 234.5h0M605.6 240.6h0M596.2 236.2h0M597.3 246.8h0M596.9 235.3h0M601.3 251.3h0M599.3 251.4h0M598.5 239.0h0M596.5 237.2h0M596.7 235.5h0M598.5 236.0h0M599.3 233.2h0M594.2 250.2h0M598.6 246.3h0M597.4 238.1h0" stroke="#f0027f" stroke-width="1.0" stroke-linecap="round"/><path d="M605.9 245.3h0M599.7 250.4h0M599.9 243.7h0M599.6 236.7h0M598.1 247.7h0M603.1 241.8h0M600.0 248.3h0M599.4 240.0h0M599.8 249.8h0M600.2 234.6h0M603.2 247.7h0M601.4 248.3h0M600.1 242.3h0M599.3 245.8h0M606.3 248.2h0M603.7 247.7h0M602.6 248.5h0M597.5 247.1h0M607.0 245.3h0M604.5 247.5h0M601.4 243.5h0M603.5 244.2h0M603.2 237.7h0M599.5 243.2h0M605.6 244.5h0M600.0 251.0h0M598.6 246.3h0M603.4 250.7h0M600.5 240.5h0M602.3 243.9h0M598.5 244.7h0M605.3 242.5h0M604.5 244.0h0M599.8 240.3h0M604.1 244.2h0M600.3 244.4h0M599.3 246.2h0M602.1 237.5h0M604.6 242.8h0M603.9 244.1h0M599.3 235.4h0M604.9 242.4h0M598.9 249.4h0M598.1 234.8h0M604.3 249.2h0M597.5 250.5h0M603.9 244.9h0M601.4 237.3h0M602.2 247.0h0M603.4 241.8h0M605.8 247.1h0M603.9 243.7h0M599.5 251.1h0" stroke="#386cb0" stroke-width="1.0" stroke-linecap="round"/><path d="M597.4 247.2h0M602.8 244.1h0M596.9 251.6h0M604.7 241.1h0M598.3 248.3h0M599.9 239.4h0M606.6 245.6h0M603.5 250.6h0M602.0 251.9h0M606.8 242.2h0M595.2 250.3h0M597.3 247.1h0M603.6 250.5h0M599.1 247.1h0M602.1 250.0h0M601.4 237.4h0M603.9 251.2h0" stroke="#a6d96a" stroke-width="1.0" stroke-linecap="round"/><polygon points="558.5,227.1 563.0,226.2 566.6,228.9 567.5,231.6 563.9,231.6 560.3,229.8" fill="#f0027f" /><path d="M564.8 227.3h0M561.2 229.7h0M560.1 228.4h0M566.4 228.5h0M560.8 230.6h0M558.5 226.7h0M562.4 230.9h0M566.1 232.5h0M567.0 231.7h0M565.4 232.2h0M564.9 231.6h0M566.8 228.2h0M566.5 229.3h0M558.3 227.6h0M560.8 230.6h0M561.9 227.7h0M559.6 226.8h0M560.0 228.7h0M564.8 231.3h0M560.4 229.2h0" stroke="#f0027f" stroke-width="1.0" stroke-linecap="round"/><polygon points="553.1,239.7 557.6,238.8 561.2,240.6 559.4,242.4 554.9,242.0" fill="#f0027f" /><path d="M556.0 238.3h0M553.9 239.3h0M555.1 242.6h0M556.5 238.8h0M561.6 240.6h0M560.6 243.2h0M556.2 241.2h0M561.3 240.9h0M556.8 241.7h0M554.7 240.4h0M556.4 241.6h0M553.6 239.6h0M558.8 240.5h0M559.7 239.7h0M559.5 241.4h0M554.1 241.2h0" stroke="#f0027f" stroke-width="1.0" stroke-linecap="round"/><polygon points="598.9,270.2 601.6,269.0 603.8,270.8 601.6,272.9 598.9,272.6" fill="#f0027f" /><path d="M603.5 271.6h0M602.9 269.1h0M603.3 272.5h0M601.2 269.4h0M601.1 269.5h0M600.2 269.3h0M599.1 270.9h0M601.9 273.8h0M598.9 270.2h0M599.0 271.3h0M603.1 271.0h0M598.7 270.5h0" stroke="#f0027f" stroke-width="1.0" stroke-linecap="round"/><polygon points="609.7,262.1 612.4,263.0 613.8,265.7 611.0,265.0" fill="#8a4a6a" /><path d="M609.0 262.5h0M611.4 264.6h0M610.8 262.8h0M611.0 262.1h0M614.0 266.3h0M612.0 264.3h0M610.4 264.6h0M611.3 263.6h0M610.4 266.4h0M613.4 264.2h0" stroke="#8a4a6a" stroke-width="1.0" stroke-linecap="round"/><circle cx="480.0" cy="164.3" r="1.40" fill="#7570b3" /><text x="483.0" y="166.8" font-size="7.0">Endothelial cell</text><circle cx="480.0" cy="171.1" r="1.40" fill="#fdbf6f" /><text x="483.0" y="173.5" font-size="7.0">B cell</text><circle cx="480.0" cy="177.8" r="1.40" fill="#b2df8a" /><text x="483.0" y="180.3" font-size="7.0">Monocyte</text><circle cx="480.0" cy="184.6" r="1.40" fill="#d95f02" /><text x="483.0" y="187.0" font-size="7.0">T cell</text><circle cx="480.0" cy="191.3" r="1.40" fill="#386cb0" /><text x="483.0" y="193.8" font-size="7.0">Fibroblast</text><circle cx="480.0" cy="198.1" r="1.40" fill="#66a61e" /><text x="483.0" y="200.6" font-size="7.0">Macrophage</text><circle cx="480.0" cy="204.9" r="1.40" fill="#e7298a" /><text x="483.0" y="207.3" font-size="7.0">Basophil</text><circle cx="480.0" cy="211.6" r="1.40" fill="#e6ab02" /><text x="483.0" y="214.1" font-size="7.0">DC</text><circle cx="480.0" cy="218.4" r="1.40" fill="#a6761d" /><text x="483.0" y="220.8" font-size="7.0">NK cell</text><circle cx="480.0" cy="225.1" r="1.40" fill="#a6cee3" /><text x="483.0" y="227.6" font-size="7.0">Neutrophil</text><circle cx="480.0" cy="231.9" r="1.40" fill="#1f78b4" /><text x="483.0" y="234.3" font-size="7.0">Clara cell</text><circle cx="480.0" cy="238.7" r="1.40" fill="#33a02c" /><text x="483.0" y="241.1" font-size="7.0">SMC</text><circle cx="480.0" cy="245.4" r="1.40" fill="#fb9a99" /><text x="483.0" y="247.9" font-size="7.0">ILC</text><circle cx="480.0" cy="252.2" r="1.40" fill="#ff7f00" /><text x="483.0" y="254.6" font-size="7.0">AT2</text><circle cx="480.0" cy="258.9" r="1.40" fill="#1b9e77" /><text x="483.0" y="261.4" font-size="7.0">AT1</text><circle cx="480.0" cy="265.7" r="1.40" fill="#e31a1c" /><text x="483.0" y="268.1" font-size="7.0">Pericyte</text><circle cx="480.0" cy="272.5" r="1.40" fill="#cab2d6" /><text x="483.0" y="274.9" font-size="7.0">Ciliated cell</text><circle cx="649.0" cy="164.6" r="2.40" fill="#fdb86a" /><text x="652.8" y="167.5" font-size="8.2">BLM_1</text><circle cx="649.0" cy="173.0" r="2.40" fill="#7570b3" /><text x="652.8" y="175.9" font-size="8.2">BLM_2</text><circle cx="649.0" cy="181.4" r="2.40" fill="#a6d96a" /><text x="652.8" y="184.3" font-size="8.2">BLM_3</text><circle cx="649.0" cy="189.8" r="2.40" fill="#d95f02" /><text x="652.8" y="192.7" font-size="8.2">Saline_1</text><circle cx="649.0" cy="198.2" r="2.40" fill="#386cb0" /><text x="652.8" y="201.1" font-size="8.2">Saline_2</text><circle cx="649.0" cy="206.6" r="2.40" fill="#f0027f" /><text x="652.8" y="209.5" font-size="8.2">Saline_3</text><line x1="356.8" y1="280.0" x2="356.8" y2="246.4" stroke="#231f20" stroke-width="0.8" /><polygon points="356.8,244.5 355.4,247.7 358.2,247.7" fill="#231f20" /><line x1="356.4" y1="280.0" x2="391.1" y2="280.0" stroke="#231f20" stroke-width="0.8" /><polygon points="393.0,280.0 389.8,278.6 389.8,281.4" fill="#231f20" /><text x="353.5" y="256.0" font-size="8.3" text-anchor="middle" transform="rotate(-90 353.5 256.0)">atacUMAP_2</text><text x="356.8" y="291.0" font-size="8.3">atacUMAP_1</text><text x="1.8" y="313.0" font-size="13" font-weight="bold">E</text><text x="86.3" y="325.7" font-size="8.2" text-anchor="middle">MS-related DEGs of lung ECs</text><text x="87.2" y="334.6" font-size="8.2" text-anchor="middle">in bleomycin-treated and silica-treated mice</text><g transform="rotate(6 86.4 407)"><ellipse cx="77.5" cy="400.6" rx="21" ry="42.5" fill="#5d9fd8" fill-opacity="0.55" transform="rotate(4.6 77.5 400.6)"/></g><g transform="rotate(294 86.4 407)"><ellipse cx="77.5" cy="400.6" rx="21" ry="42.5" fill="#2f8a2f" fill-opacity="0.6" transform="rotate(4.6 77.5 400.6)"/></g><g transform="rotate(78 86.4 407)"><ellipse cx="77.5" cy="400.6" rx="21" ry="42.5" fill="#f06a80" fill-opacity="0.55" transform="rotate(4.6 77.5 400.6)"/></g><g transform="rotate(150 86.4 407)"><ellipse cx="77.5" cy="400.6" rx="21" ry="42.5" fill="#cfd83a" fill-opacity="0.6" transform="rotate(4.6 77.5 400.6)"/></g><g transform="rotate(222 86.4 407)"><ellipse cx="77.5" cy="400.6" rx="21" ry="42.5" fill="#f98a30" fill-opacity="0.6" transform="rotate(4.6 77.5 400.6)"/></g><text x="85.5" y="404.0" font-size="7.4" text-anchor="middle" fill="#111">Piezo1</text><text x="85.5" y="412.0" font-size="7.4" text-anchor="middle" fill="#111">Piezo2</text><text x="88.5" y="345.0" font-size="7.8" text-anchor="middle" fill="#5b9bd5">bleomycin</text><text x="88.3" y="353.3" font-size="7.6" text-anchor="middle" fill="#5b9bd5">Bulk-seq</text><text x="29.6" y="370.0" font-size="7.8" text-anchor="middle" fill="#2e7d32">silica</text><text x="29.7" y="378.6" font-size="7.8" text-anchor="middle" fill="#2e7d32">scRNA-seq</text><text x="138.7" y="370.0" font-size="7.8" text-anchor="middle" fill="#e8606e">bleomycin</text><text x="138.1" y="378.6" font-size="7.8" text-anchor="middle" fill="#e8606e">scRNA-seq</text><text x="41.5" y="442.5" font-size="7.8" text-anchor="middle" fill="#f08030">silica</text><text x="41.7" y="451.3" font-size="7.8" text-anchor="middle" fill="#f08030">scATAC-seq</text><text x="139.3" y="442.5" font-size="7.8" text-anchor="middle" fill="#b8c020">bleomycin</text><text x="138.9" y="451.3" font-size="7.8" text-anchor="middle" fill="#b8c020">scATAC-seq</text><text x="183.4" y="313.4" font-size="13" font-weight="bold">F</text><text x="301.0" y="324.0" font-size="9.0">Piezo1</text><text x="463.2" y="325.2" font-size="9.6">Piezo2</text><text x="231.8" y="332.1" font-size="5.8" text-anchor="end" fill="#333">EC</text><path d="M237.2 331.8L237.2 331.8L239.4 330.6L241.7 329.6L244.0 328.6L246.2 328.6L248.5 328.4L250.8 328.1L253.0 327.6L255.3 328.6L257.5 328.5L259.8 329.4L262.1 330.6L264.3 331.8L264.3 331.8Z" fill="#e8584a" fill-opacity="0.85"/><path d="M260.9 331.8L260.9 331.8L262.6 331.1L264.3 330.5L266.0 330.5L267.7 330.3L269.4 329.6L271.1 329.9L272.8 330.0L274.5 330.1L276.2 330.3L277.9 330.5L279.6 331.2L281.3 331.8L281.3 331.8Z" fill="#e8584a" fill-opacity="0.85"/><path d="M281.3 331.8L281.3 331.8L283.0 331.1L284.6 330.5L286.3 330.1L288.0 330.1L289.7 330.0L291.4 329.6L293.1 329.6L294.8 330.3L296.5 330.2L298.2 330.5L299.9 331.1L301.6 331.8L301.6 331.8Z" fill="#e8584a" fill-opacity="0.85"/><line x1="233.8" y1="331.8" x2="301.6" y2="331.8" stroke="#4a4a4a" stroke-width="0.6" /><path d="M304.5 331.8C305.0 329.9 307.6 329.9 309.4 330.7L316.0 331.8L309.4 332.9C307.6 333.7 305.0 333.7 304.5 331.8Z" fill="#e8584a" fill-opacity="0.9"/><text x="231.8" y="337.1" font-size="5.8" text-anchor="end" fill="#333">B cell</text><line x1="233.8" y1="336.8" x2="301.6" y2="336.8" stroke="#4a4a4a" stroke-width="0.6" /><path d="M304.5 336.8C305.0 335.4 306.4 335.4 307.6 336.0L312.1 336.8L307.6 337.7C306.4 338.3 305.0 338.3 304.5 336.8Z" fill="#d8905a" fill-opacity="0.9"/><text x="231.8" y="342.2" font-size="5.8" text-anchor="end" fill="#333">Monocyte</text><line x1="233.8" y1="341.9" x2="301.6" y2="341.9" stroke="#4a4a4a" stroke-width="0.6" /><path d="M304.5 341.9C305.0 340.9 306.5 340.9 307.7 341.3L312.2 341.9L307.7 342.4C306.5 342.8 305.0 342.8 304.5 341.9Z" fill="#c8a040" fill-opacity="0.9"/><text x="231.8" y="347.2" font-size="5.8" text-anchor="end" fill="#333">T cell</text><line x1="233.8" y1="346.9" x2="301.6" y2="346.9" stroke="#4a4a4a" stroke-width="0.6" /><path d="M304.5 346.9C305.0 345.8 306.7 345.8 308.0 346.2L312.8 346.9L308.0 347.6C306.7 348.1 305.0 348.1 304.5 346.9Z" fill="#b0a030" fill-opacity="0.9"/><text x="231.8" y="352.3" font-size="5.8" text-anchor="end" fill="#333">Fibroblast</text><line x1="233.8" y1="352.0" x2="301.6" y2="352.0" stroke="#4a4a4a" stroke-width="0.6" /><path d="M304.5 352.0C305.0 350.5 306.8 350.5 308.1 351.1L313.2 352.0L308.1 352.8C306.8 353.4 305.0 353.4 304.5 352.0Z" fill="#98a830" fill-opacity="0.9"/><text x="231.8" y="357.3" font-size="5.8" text-anchor="end" fill="#333">Macrophage</text><line x1="233.8" y1="357.0" x2="301.6" y2="357.0" stroke="#4a4a4a" stroke-width="0.6" /><path d="M304.5 357.0C305.0 355.3 307.5 355.3 309.2 356.0L315.6 357.0L309.2 358.0C307.5 358.7 305.0 358.7 304.5 357.0Z" fill="#70a838" fill-opacity="0.9"/><text x="231.8" y="362.3" font-size="5.8" text-anchor="end" fill="#333">Basophil</text><line x1="233.8" y1="362.0" x2="301.6" y2="362.0" stroke="#4a4a4a" stroke-width="0.6" /><path d="M304.5 362.0C305.0 360.3 307.7 360.3 309.6 361.0L316.4 362.0L309.6 363.1C307.7 363.7 305.0 363.7 304.5 362.0Z" fill="#40a848" fill-opacity="0.9"/><text x="231.8" y="367.4" font-size="5.8" text-anchor="end" fill="#333">DC</text><line x1="233.8" y1="367.1" x2="301.6" y2="367.1" stroke="#4a4a4a" stroke-width="0.6" /><path d="M304.5 367.1C305.0 365.9 307.4 365.9 309.1 366.4L315.3 367.1L309.1 367.8C307.4 368.2 305.0 368.2 304.5 367.1Z" fill="#30a860" fill-opacity="0.9"/><text x="231.8" y="372.4" font-size="5.8" text-anchor="end" fill="#333">NK</text><line x1="233.8" y1="372.1" x2="301.6" y2="372.1" stroke="#4a4a4a" stroke-width="0.6" /><path d="M304.5 372.1C305.0 370.7 306.4 370.7 307.6 371.3L312.0 372.1L307.6 373.0C306.4 373.5 305.0 373.5 304.5 372.1Z" fill="#30a8a0" fill-opacity="0.9"/><text x="231.8" y="377.5" font-size="5.8" text-anchor="end" fill="#333">Neutrophil</text><line x1="233.8" y1="377.2" x2="301.6" y2="377.2" stroke="#4a4a4a" stroke-width="0.6" /><path d="M304.5 377.2C305.0 375.7 307.0 375.7 308.5 376.3L314.0 377.2L308.5 378.0C307.0 378.6 305.0 378.6 304.5 377.2Z" fill="#40b0c8" fill-opacity="0.9"/><text x="231.8" y="382.5" font-size="5.8" text-anchor="end" fill="#333">Clara cell</text><path d="M257.5 382.2L257.5 382.2L258.9 382.0L260.4 381.7L261.8 381.6L263.2 381.4L264.6 381.5L266.0 381.4L267.4 381.3L268.8 381.5L270.2 381.5L271.7 381.8L273.1 381.9L274.5 382.2L274.5 382.2Z" fill="#3898d0" fill-opacity="0.85"/><path d="M274.5 382.2L274.5 382.2L275.6 381.9L276.7 381.7L277.9 381.7L279.0 381.6L280.1 381.3L281.3 381.5L282.4 381.5L283.5 381.5L284.7 381.6L285.8 381.7L286.9 381.9L288.0 382.2L288.0 382.2Z" fill="#3898d0" fill-opacity="0.85"/><line x1="233.8" y1="382.2" x2="301.6" y2="382.2" stroke="#4a4a4a" stroke-width="0.6" /><path d="M304.5 382.2C305.0 381.1 307.4 381.1 309.1 381.5L315.3 382.2L309.1 382.9C307.4 383.3 305.0 383.3 304.5 382.2Z" fill="#3898d0" fill-opacity="0.9"/><text x="231.8" y="387.5" font-size="5.8" text-anchor="end" fill="#333">SMC</text><line x1="233.8" y1="387.2" x2="301.6" y2="387.2" stroke="#4a4a4a" stroke-width="0.6" /><path d="M304.5 387.2C305.0 385.8 306.7 385.8 308.1 386.4L313.0 387.2L308.1 388.1C306.7 388.6 305.0 388.6 304.5 387.2Z" fill="#3070c0" fill-opacity="0.9"/><text x="231.8" y="392.6" font-size="5.8" text-anchor="end" fill="#333">ILC</text><line x1="233.8" y1="392.3" x2="301.6" y2="392.3" stroke="#4a4a4a" stroke-width="0.6" /><path d="M304.5 392.3C305.0 391.3 307.1 391.3 308.7 391.7L314.5 392.3L308.7 392.8C307.1 393.2 305.0 393.2 304.5 392.3Z" fill="#5060b8" fill-opacity="0.9"/><text x="231.8" y="397.6" font-size="5.8" text-anchor="end" fill="#333">AT2</text><line x1="233.8" y1="397.3" x2="301.6" y2="397.3" stroke="#4a4a4a" stroke-width="0.6" /><path d="M304.5 397.3C305.0 396.3 306.3 396.3 307.4 396.7L311.6 397.3L307.4 397.9C306.3 398.3 305.0 398.3 304.5 397.3Z" fill="#7050b0" fill-opacity="0.9"/><text x="231.8" y="402.7" font-size="5.8" text-anchor="end" fill="#333">AT1</text><path d="M271.1 402.4L271.1 402.4L272.2 401.9L273.4 401.6L274.5 401.4L275.6 401.4L276.7 401.1L277.9 401.0L279.0 401.2L280.1 401.4L281.3 401.5L282.4 401.7L283.5 402.0L284.7 402.4L284.7 402.4Z" fill="#9040a8" fill-opacity="0.85"/><line x1="233.8" y1="402.4" x2="301.6" y2="402.4" stroke="#4a4a4a" stroke-width="0.6" /><path d="M304.5 402.4C305.0 400.8 306.3 400.8 307.5 401.4L311.7 402.4L307.5 403.3C306.3 404.0 305.0 404.0 304.5 402.4Z" fill="#9040a8" fill-opacity="0.9"/><text x="231.8" y="407.7" font-size="5.8" text-anchor="end" fill="#333">Pericyte</text><path d="M274.5 407.4L274.5 407.4L275.9 407.1L277.3 407.0L278.7 406.8L280.1 406.6L281.5 406.7L283.0 406.7L284.4 406.6L285.8 406.6L287.2 406.8L288.6 406.9L290.0 407.1L291.4 407.4L291.4 407.4Z" fill="#b04098" fill-opacity="0.85"/><line x1="233.8" y1="407.4" x2="301.6" y2="407.4" stroke="#4a4a4a" stroke-width="0.6" /><path d="M304.5 407.4C305.0 406.1 307.3 406.1 308.9 406.6L314.9 407.4L308.9 408.2C307.3 408.7 305.0 408.7 304.5 407.4Z" fill="#b04098" fill-opacity="0.9"/><text x="231.8" y="412.7" font-size="5.8" text-anchor="end" fill="#333">Ciliated cell</text><path d="M233.8 412.4L233.8 412.4L234.9 412.2L236.1 412.1L237.2 412.0L238.3 411.8L239.5 411.7L240.6 411.6L241.7 411.7L242.8 411.8L244.0 412.0L245.1 412.0L246.2 412.2L247.4 412.4L247.4 412.4Z" fill="#c84088" fill-opacity="0.85"/><line x1="233.8" y1="412.4" x2="301.6" y2="412.4" stroke="#4a4a4a" stroke-width="0.6" /><path d="M304.5 412.4C305.0 411.2 306.3 411.2 307.5 411.7L311.8 412.4L307.5 413.2C306.3 413.6 305.0 413.6 304.5 412.4Z" fill="#c84088" fill-opacity="0.9"/><line x1="304.2" y1="328.4" x2="318.0" y2="328.4" stroke="#555" stroke-width="0.6" /><text x="381.0" y="330.8" font-size="5.8" text-anchor="end" fill="#333">EC</text><path d="M383.0 330.5L383.0 330.5L385.8 329.3L388.6 328.3L391.4 327.1L394.2 326.9L397.0 326.4L399.8 327.0L402.6 326.6L405.4 326.6L408.2 327.4L411.0 327.9L413.8 329.0L416.6 330.5L416.6 330.5Z" fill="#e8584a" fill-opacity="0.85"/><path d="M433.4 330.5L433.4 330.5L436.2 329.0L439.0 328.5L441.8 327.9L444.6 326.7L447.4 326.2L450.2 326.1L453.0 326.1L455.8 327.3L458.6 327.8L461.4 328.5L464.2 328.9L467.0 330.5L467.0 330.5Z" fill="#e8584a" fill-opacity="0.85"/><line x1="383.0" y1="330.5" x2="467.0" y2="330.5" stroke="#4a4a4a" stroke-width="0.6" /><path d="M472.0 330.5C472.5 328.6 475.1 328.6 476.9 329.4L483.5 330.5L476.9 331.6C475.1 332.4 472.5 332.4 472.0 330.5Z" fill="#e8584a" fill-opacity="0.9"/><text x="381.0" y="335.8" font-size="5.8" text-anchor="end" fill="#333">B cell</text><line x1="383.0" y1="335.5" x2="467.0" y2="335.5" stroke="#4a4a4a" stroke-width="0.6" /><path d="M472.0 335.5C472.5 334.6 473.7 334.6 474.8 335.0L478.8 335.5L474.8 336.1C473.7 336.5 472.5 336.5 472.0 335.5Z" fill="#d8905a" fill-opacity="0.9"/><text x="381.0" y="340.9" font-size="5.8" text-anchor="end" fill="#333">Monocyte</text><line x1="383.0" y1="340.6" x2="467.0" y2="340.6" stroke="#4a4a4a" stroke-width="0.6" /><path d="M472.0 340.6C472.5 339.5 474.2 339.5 475.5 339.9L480.4 340.6L475.5 341.2C474.2 341.6 472.5 341.6 472.0 340.6Z" fill="#c8a040" fill-opacity="0.9"/><text x="381.0" y="345.9" font-size="5.8" text-anchor="end" fill="#333">T cell</text><line x1="383.0" y1="345.6" x2="467.0" y2="345.6" stroke="#4a4a4a" stroke-width="0.6" /><path d="M472.0 345.6C472.5 343.9 474.1 343.9 475.4 344.6L480.2 345.6L475.4 346.6C474.1 347.2 472.5 347.2 472.0 345.6Z" fill="#b0a030" fill-opacity="0.9"/><text x="381.0" y="350.9" font-size="5.8" text-anchor="end" fill="#333">Fibroblast</text><path d="M387.2 350.6L387.2 350.6L389.3 349.3L391.4 348.5L393.5 347.9L395.6 347.4L397.7 346.9L399.8 347.0L401.9 347.5L404.0 347.7L406.1 348.2L408.2 348.7L410.3 349.3L412.4 350.6L412.4 350.6Z" fill="#98a830" fill-opacity="0.85"/><path d="M416.6 350.6L416.6 350.6L417.7 350.4L418.7 350.1L419.8 350.0L420.8 349.9L421.9 349.9L422.9 349.9L423.9 349.8L425.0 350.0L426.1 350.0L427.1 350.2L428.1 350.4L429.2 350.6L429.2 350.6Z" fill="#98a830" fill-opacity="0.85"/><path d="M446.0 350.6L446.0 350.6L447.1 350.3L448.1 350.1L449.1 349.9L450.2 349.9L451.2 349.7L452.3 349.7L453.4 349.8L454.4 349.9L455.5 350.0L456.5 350.2L457.6 350.4L458.6 350.6L458.6 350.6Z" fill="#98a830" fill-opacity="0.85"/><line x1="383.0" y1="350.6" x2="467.0" y2="350.6" stroke="#4a4a4a" stroke-width="0.6" /><path d="M472.0 350.6C472.5 349.0 473.9 349.0 475.1 349.7L479.6 350.6L475.1 351.6C473.9 352.2 472.5 352.2 472.0 350.6Z" fill="#98a830" fill-opacity="0.9"/><text x="381.0" y="355.9" font-size="5.8" text-anchor="end" fill="#333">Macrophage</text><path d="M391.4 355.6L391.4 355.6L392.8 355.4L394.2 355.1L395.6 355.0L397.0 355.0L398.4 354.9L399.8 355.0L401.2 355.0L402.6 354.8L404.0 355.0L405.4 355.1L406.8 355.4L408.2 355.6L408.2 355.6Z" fill="#70a838" fill-opacity="0.85"/><line x1="383.0" y1="355.6" x2="467.0" y2="355.6" stroke="#4a4a4a" stroke-width="0.6" /><path d="M472.0 355.6C472.5 354.0 475.2 354.0 477.0 354.7L483.8 355.6L477.0 356.6C475.2 357.3 472.5 357.3 472.0 355.6Z" fill="#70a838" fill-opacity="0.9"/><text x="381.0" y="361.0" font-size="5.8" text-anchor="end" fill="#333">Basophil</text><path d="M446.0 360.7L446.0 360.7L447.4 360.3L448.8 360.0L450.2 359.9L451.6 359.7L453.0 359.7L454.4 359.4L455.8 359.3L457.2 359.7L458.6 359.7L460.0 360.0L461.4 360.3L462.8 360.7L462.8 360.7Z" fill="#40a848" fill-opacity="0.85"/><line x1="383.0" y1="360.7" x2="467.0" y2="360.7" stroke="#4a4a4a" stroke-width="0.6" /><path d="M472.0 360.7C472.5 359.1 474.2 359.1 475.6 359.7L480.6 360.7L475.6 361.6C474.2 362.2 472.5 362.2 472.0 360.7Z" fill="#40a848" fill-opacity="0.9"/><text x="381.0" y="366.0" font-size="5.8" text-anchor="end" fill="#333">DC</text><path d="M391.4 365.7L391.4 365.7L392.8 365.4L394.2 365.3L395.6 365.2L397.0 364.9L398.4 364.9L399.8 364.9L401.2 364.9L402.6 365.0L404.0 365.2L405.4 365.3L406.8 365.4L408.2 365.7L408.2 365.7Z" fill="#30a860" fill-opacity="0.85"/><line x1="383.0" y1="365.7" x2="467.0" y2="365.7" stroke="#4a4a4a" stroke-width="0.6" /><path d="M472.0 365.7C472.5 364.5 474.0 364.5 475.2 365.0L479.8 365.7L475.2 366.5C474.0 367.0 472.5 367.0 472.0 365.7Z" fill="#30a860" fill-opacity="0.9"/><text x="381.0" y="371.0" font-size="5.8" text-anchor="end" fill="#333">NK</text><line x1="383.0" y1="370.7" x2="467.0" y2="370.7" stroke="#4a4a4a" stroke-width="0.6" /><path d="M472.0 370.7C472.5 369.1 474.3 369.1 475.8 369.8L481.0 370.7L475.8 371.7C474.3 372.4 472.5 372.4 472.0 370.7Z" fill="#30a8a0" fill-opacity="0.9"/><text x="381.0" y="376.1" font-size="5.8" text-anchor="end" fill="#333">Neutrophil</text><line x1="383.0" y1="375.8" x2="467.0" y2="375.8" stroke="#4a4a4a" stroke-width="0.6" /><path d="M472.0 375.8C472.5 374.2 473.6 374.2 474.7 374.8L478.5 375.8L474.7 376.7C473.6 377.3 472.5 377.3 472.0 375.8Z" fill="#40b0c8" fill-opacity="0.9"/><text x="381.0" y="381.1" font-size="5.8" text-anchor="end" fill="#333">Clara cell</text><path d="M383.0 380.8L383.0 380.8L390.0 380.5L397.0 380.4L404.0 380.3L411.0 380.0L418.0 380.0L425.0 379.9L432.0 379.9L439.0 380.0L446.0 380.3L453.0 380.3L460.0 380.5L467.0 380.8L467.0 380.8Z" fill="#3898d0" fill-opacity="0.85"/><line x1="383.0" y1="380.8" x2="467.0" y2="380.8" stroke="#4a4a4a" stroke-width="0.6" /><path d="M472.0 380.8C472.5 379.8 473.7 379.8 474.8 380.2L478.9 380.8L474.8 381.4C473.7 381.8 472.5 381.8 472.0 380.8Z" fill="#3898d0" fill-opacity="0.9"/><text x="381.0" y="386.1" font-size="5.8" text-anchor="end" fill="#333">SMC</text><path d="M387.2 385.8L387.2 385.8L389.6 384.8L392.1 384.5L394.6 384.0L397.0 383.4L399.4 383.3L401.9 383.5L404.4 382.9L406.8 383.4L409.2 383.9L411.7 384.6L414.2 384.9L416.6 385.8L416.6 385.8Z" fill="#3070c0" fill-opacity="0.85"/><line x1="383.0" y1="385.8" x2="467.0" y2="385.8" stroke="#4a4a4a" stroke-width="0.6" /><path d="M472.0 385.8C472.5 384.9 473.9 384.9 475.1 385.2L479.5 385.8L475.1 386.4C473.9 386.8 472.5 386.8 472.0 385.8Z" fill="#3070c0" fill-opacity="0.9"/><text x="381.0" y="391.2" font-size="5.8" text-anchor="end" fill="#333">ILC</text><line x1="383.0" y1="390.9" x2="467.0" y2="390.9" stroke="#4a4a4a" stroke-width="0.6" /><path d="M472.0 390.9C472.5 389.2 474.8 389.2 476.4 389.9L482.5 390.9L476.4 391.8C474.8 392.5 472.5 392.5 472.0 390.9Z" fill="#5060b8" fill-opacity="0.9"/><text x="381.0" y="396.2" font-size="5.8" text-anchor="end" fill="#333">AT2</text><path d="M395.6 395.9L395.6 395.9L397.0 395.6L398.4 395.4L399.8 395.3L401.2 395.3L402.6 395.2L404.0 395.2L405.4 395.2L406.8 395.3L408.2 395.3L409.6 395.5L411.0 395.6L412.4 395.9L412.4 395.9Z" fill="#7050b0" fill-opacity="0.85"/><line x1="383.0" y1="395.9" x2="467.0" y2="395.9" stroke="#4a4a4a" stroke-width="0.6" /><path d="M472.0 395.9C472.5 394.3 475.2 394.3 477.0 395.0L483.8 395.9L477.0 396.8C475.2 397.4 472.5 397.4 472.0 395.9Z" fill="#7050b0" fill-opacity="0.9"/><text x="381.0" y="401.2" font-size="5.8" text-anchor="end" fill="#333">AT1</text><path d="M391.4 400.9L391.4 400.9L393.1 400.3L394.9 399.6L396.6 399.3L398.4 398.9L400.1 399.0L401.9 398.7L403.6 398.6L405.4 399.0L407.1 399.4L408.9 399.5L410.6 400.2L412.4 400.9L412.4 400.9Z" fill="#9040a8" fill-opacity="0.85"/><line x1="383.0" y1="400.9" x2="467.0" y2="400.9" stroke="#4a4a4a" stroke-width="0.6" /><path d="M472.0 400.9C472.5 400.0 474.7 400.0 476.4 400.4L482.3 400.9L476.4 401.5C474.7 401.8 472.5 401.8 472.0 400.9Z" fill="#9040a8" fill-opacity="0.9"/><text x="381.0" y="406.2" font-size="5.8" text-anchor="end" fill="#333">Pericyte</text><path d="M387.2 405.9L387.2 405.9L388.9 404.9L390.7 403.8L392.4 403.4L394.2 403.2L395.9 402.1L397.7 402.1L399.4 402.4L401.2 402.8L402.9 403.6L404.7 403.6L406.4 404.8L408.2 405.9L408.2 405.9Z" fill="#b04098" fill-opacity="0.85"/><path d="M420.8 405.9L420.8 405.9L421.9 405.5L422.9 405.4L423.9 404.9L425.0 404.9L426.1 404.8L427.1 404.6L428.1 404.7L429.2 404.8L430.2 404.9L431.3 405.3L432.3 405.6L433.4 405.9L433.4 405.9Z" fill="#b04098" fill-opacity="0.85"/><line x1="383.0" y1="405.9" x2="467.0" y2="405.9" stroke="#4a4a4a" stroke-width="0.6" /><path d="M472.0 405.9C472.5 404.4 474.6 404.4 476.1 405.0L481.8 405.9L476.1 406.9C474.6 407.5 472.5 407.5 472.0 405.9Z" fill="#b04098" fill-opacity="0.9"/><text x="381.0" y="411.3" font-size="5.8" text-anchor="end" fill="#333">Ciliated cell</text><path d="M408.2 411.0L408.2 411.0L409.9 410.6L411.7 410.4L413.4 410.2L415.2 410.1L416.9 410.1L418.7 410.0L420.4 410.1L422.2 410.2L423.9 410.2L425.7 410.3L427.4 410.7L429.2 411.0L429.2 411.0Z" fill="#c84088" fill-opacity="0.85"/><path d="M446.0 411.0L446.0 411.0L447.4 410.4L448.8 410.0L450.2 409.8L451.6 409.8L453.0 409.5L454.4 409.5L455.8 409.6L457.2 409.6L458.6 410.0L460.0 410.1L461.4 410.4L462.8 411.0L462.8 411.0Z" fill="#c84088" fill-opacity="0.85"/><line x1="383.0" y1="411.0" x2="467.0" y2="411.0" stroke="#4a4a4a" stroke-width="0.6" /><path d="M472.0 411.0C472.5 409.5 475.0 409.5 476.8 410.1L483.2 411.0L476.8 411.9C475.0 412.4 472.5 412.4 472.0 411.0Z" fill="#c84088" fill-opacity="0.9"/><line x1="471.5" y1="327.5" x2="485.5" y2="327.5" stroke="#555" stroke-width="0.6" /><line x1="194.3" y1="322.4" x2="194.3" y2="415.5" stroke="#444" stroke-width="0.6" /><line x1="194.3" y1="418.9" x2="194.3" y2="434.7" stroke="#444" stroke-width="0.6" /><line x1="194.3" y1="439.3" x2="194.3" y2="447.0" stroke="#444" stroke-width="0.6" /><text x="179.7" y="379.4" font-size="8.2" text-anchor="middle" transform="rotate(-90 179.7 379.4)">Normalized accessibility</text><text x="188.8" y="366.8" font-size="8.2" text-anchor="middle" transform="rotate(-90 188.8 366.8)">(range 0 − 87)</text><text x="189.9" y="431.7" font-size="8.2" text-anchor="middle" transform="rotate(-90 189.9 431.7)">Peaks Genes</text><line x1="345.3" y1="322.3" x2="345.3" y2="410.2" stroke="#444" stroke-width="0.6" /><line x1="345.3" y1="420.6" x2="345.3" y2="435.2" stroke="#444" stroke-width="0.6" /><line x1="345.3" y1="441.3" x2="345.3" y2="449.0" stroke="#444" stroke-width="0.6" /><text x="333.2" y="381.8" font-size="8.25" text-anchor="middle" transform="rotate(-90 333.2 381.8)">Normalized accessibility</text><text x="341.3" y="368.4" font-size="8.1" text-anchor="middle" transform="rotate(-90 341.3 368.4)">(range 0 − 46)</text><text x="340.4" y="432.7" font-size="7.2" text-anchor="middle" transform="rotate(-90 340.4 432.7)">Peaks Genes</text><text x="303.0" y="422.8" font-size="5.2" fill="#444">01234</text><line x1="303.0" y1="419.2" x2="317.5" y2="419.2" stroke="#444" stroke-width="0.4" /><text x="471.0" y="422.8" font-size="5.2" fill="#444">01234</text><line x1="471.0" y1="419.2" x2="485.5" y2="419.2" stroke="#444" stroke-width="0.4" /><text x="274.9" y="424.8" font-size="8.0" text-anchor="middle" font-style="italic">Piezo1</text><line x1="233.8" y1="427.7" x2="300.0" y2="427.7" stroke="#3a9a5a" stroke-width="0.9" /><text x="271.0" y="433.8" font-size="7.0" text-anchor="middle">Gm20388</text><line x1="233.8" y1="434.6" x2="300.0" y2="434.6" stroke="#4a60a8" stroke-width="0.9" /><line x1="233.8" y1="444.8" x2="301.0" y2="444.8" stroke="#888" stroke-width="0.6" /><line x1="233.8" y1="447.6" x2="301.0" y2="447.6" stroke="#999" stroke-width="0.4" /><text x="239.5" y="453.0" font-size="4.6" text-anchor="middle" fill="#555">122497100</text><text x="265.5" y="453.0" font-size="4.6" text-anchor="middle" fill="#555">122497300</text><text x="292.0" y="453.0" font-size="4.6" text-anchor="middle" fill="#555">122497500</text><text x="266.0" y="464.5" font-size="9.6" text-anchor="middle">chr8 position (bp)</text><text x="428.7" y="431.3" font-size="8.3" text-anchor="middle" font-style="italic">Piezo2</text><line x1="386.0" y1="435.6" x2="465.0" y2="435.6" stroke="#7a8ac8" stroke-width="0.9" /><line x1="383.0" y1="445.5" x2="467.0" y2="445.5" stroke="#888" stroke-width="0.6" /><line x1="383.0" y1="448.3" x2="467.0" y2="448.3" stroke="#999" stroke-width="0.4" /><text x="392.0" y="453.5" font-size="4.3" text-anchor="middle" fill="#555">63299200</text><text x="413.0" y="453.5" font-size="4.3" text-anchor="middle" fill="#555">63299400</text><text x="434.0" y="453.5" font-size="4.3" text-anchor="middle" fill="#555">63299600</text><text x="455.0" y="453.5" font-size="4.3" text-anchor="middle" fill="#555">63299800</text><text x="474.0" y="453.5" font-size="4.3" text-anchor="middle" fill="#555">63300000</text><text x="425.5" y="464.5" font-size="9.6" text-anchor="middle">chr8 position (bp)</text><text x="485.5" y="306.8" font-size="13" font-weight="bold">G</text><text x="545.0" y="311.0" font-size="8.1" text-anchor="middle" fill="#333">MS-related genes in ECs</text><text x="543.8" y="318.8" font-size="7.9" text-anchor="middle" fill="#333">of bleomycin-treated mice</text><text x="544.8" y="326.3" font-size="7.9" text-anchor="middle" fill="#333">Bulk RNA-seq</text><rect x="517.8" y="331.1" width="8.1" height="7.5" fill="#3c57b0" stroke="#aaa" stroke-width="0.3" /><rect x="525.9" y="331.1" width="8.1" height="7.5" fill="#cdd3e9" stroke="#aaa" stroke-width="0.3" /><rect x="533.9" y="331.1" width="8.1" height="7.5" fill="#b8c1e1" stroke="#aaa" stroke-width="0.3" /><rect x="542.0" y="331.1" width="8.1" height="7.5" fill="#ea7479" stroke="#aaa" stroke-width="0.3" /><rect x="550.1" y="331.1" width="8.1" height="7.5" fill="#e85f64" stroke="#aaa" stroke-width="0.3" /><rect x="558.1" y="331.1" width="8.1" height="7.5" fill="#f7f7fa" stroke="#aaa" stroke-width="0.3" /><text x="567.6" y="337.6" font-size="7.8" fill="#e02020">Piezo1</text><rect x="517.8" y="338.6" width="8.1" height="7.5" fill="#a4b0d9" stroke="#aaa" stroke-width="0.3" /><rect x="525.9" y="338.6" width="8.1" height="7.5" fill="#7a8cc8" stroke="#aaa" stroke-width="0.3" /><rect x="533.9" y="338.6" width="8.1" height="7.5" fill="#7a8cc8" stroke="#aaa" stroke-width="0.3" /><rect x="542.0" y="338.6" width="8.1" height="7.5" fill="#ea7479" stroke="#aaa" stroke-width="0.3" /><rect x="550.1" y="338.6" width="8.1" height="7.5" fill="#eea0a4" stroke="#aaa" stroke-width="0.3" /><rect x="558.1" y="338.6" width="8.1" height="7.5" fill="#ec8a8f" stroke="#aaa" stroke-width="0.3" /><text x="567.6" y="345.1" font-size="7.8">Hif1a</text><rect x="517.8" y="346.0" width="8.1" height="7.5" fill="#667bc0" stroke="#aaa" stroke-width="0.3" /><rect x="525.9" y="346.0" width="8.1" height="7.5" fill="#7a8cc8" stroke="#aaa" stroke-width="0.3" /><rect x="533.9" y="346.0" width="8.1" height="7.5" fill="#b8c1e1" stroke="#aaa" stroke-width="0.3" /><rect x="542.0" y="346.0" width="8.1" height="7.5" fill="#ea7479" stroke="#aaa" stroke-width="0.3" /><rect x="550.1" y="346.0" width="8.1" height="7.5" fill="#eea0a4" stroke="#aaa" stroke-width="0.3" /><rect x="558.1" y="346.0" width="8.1" height="7.5" fill="#eea0a4" stroke="#aaa" stroke-width="0.3" /><text x="567.6" y="352.5" font-size="7.8">Trpv4</text><rect x="517.8" y="353.5" width="8.1" height="7.5" fill="#f0b5b9" stroke="#aaa" stroke-width="0.3" /><rect x="525.9" y="353.5" width="8.1" height="7.5" fill="#ec8a8f" stroke="#aaa" stroke-width="0.3" /><rect x="533.9" y="353.5" width="8.1" height="7.5" fill="#ec8a8f" stroke="#aaa" stroke-width="0.3" /><rect x="542.0" y="353.5" width="8.1" height="7.5" fill="#eceef5" stroke="#aaa" stroke-width="0.3" /><rect x="550.1" y="353.5" width="8.1" height="7.5" fill="#3c57b0" stroke="#aaa" stroke-width="0.3" /><rect x="558.1" y="353.5" width="8.1" height="7.5" fill="#a4b0d9" stroke="#aaa" stroke-width="0.3" /><text x="567.6" y="360.0" font-size="7.8">Capn2</text><rect x="517.8" y="360.9" width="8.1" height="7.5" fill="#efabaf" stroke="#aaa" stroke-width="0.3" /><rect x="525.9" y="360.9" width="8.1" height="7.5" fill="#ea7479" stroke="#aaa" stroke-width="0.3" /><rect x="533.9" y="360.9" width="8.1" height="7.5" fill="#f1c0c4" stroke="#aaa" stroke-width="0.3" /><rect x="542.0" y="360.9" width="8.1" height="7.5" fill="#eceef5" stroke="#aaa" stroke-width="0.3" /><rect x="550.1" y="360.9" width="8.1" height="7.5" fill="#aeb9dd" stroke="#aaa" stroke-width="0.3" /><rect x="558.1" y="360.9" width="8.1" height="7.5" fill="#324eac" stroke="#aaa" stroke-width="0.3" /><text x="567.6" y="367.4" font-size="7.8" fill="#e02020">Piezo2</text><rect x="517.8" y="368.4" width="8.1" height="7.5" fill="#e21e24" stroke="#aaa" stroke-width="0.3" /><rect x="525.9" y="368.4" width="8.1" height="7.5" fill="#aeb9dd" stroke="#aaa" stroke-width="0.3" /><rect x="533.9" y="368.4" width="8.1" height="7.5" fill="#f1c0c4" stroke="#aaa" stroke-width="0.3" /><rect x="542.0" y="368.4" width="8.1" height="7.5" fill="#c3cae5" stroke="#aaa" stroke-width="0.3" /><rect x="550.1" y="368.4" width="8.1" height="7.5" fill="#b8c1e1" stroke="#aaa" stroke-width="0.3" /><rect x="558.1" y="368.4" width="8.1" height="7.5" fill="#cdd3e9" stroke="#aaa" stroke-width="0.3" /><text x="567.6" y="374.9" font-size="7.8">Scnn1b</text><rect x="517.8" y="375.8" width="8.1" height="7.5" fill="#e21e24" stroke="#aaa" stroke-width="0.3" /><rect x="525.9" y="375.8" width="8.1" height="7.5" fill="#e2e5f1" stroke="#aaa" stroke-width="0.3" /><rect x="533.9" y="375.8" width="8.1" height="7.5" fill="#f4e1e4" stroke="#aaa" stroke-width="0.3" /><rect x="542.0" y="375.8" width="8.1" height="7.5" fill="#c3cae5" stroke="#aaa" stroke-width="0.3" /><rect x="550.1" y="375.8" width="8.1" height="7.5" fill="#a4b0d9" stroke="#aaa" stroke-width="0.3" /><rect x="558.1" y="375.8" width="8.1" height="7.5" fill="#cdd3e9" stroke="#aaa" stroke-width="0.3" /><text x="567.6" y="382.3" font-size="7.8">Trpc1</text><rect x="517.8" y="383.2" width="8.1" height="7.5" fill="#e21e24" stroke="#aaa" stroke-width="0.3" /><rect x="525.9" y="383.2" width="8.1" height="7.5" fill="#f4e1e4" stroke="#aaa" stroke-width="0.3" /><rect x="533.9" y="383.2" width="8.1" height="7.5" fill="#c3cae5" stroke="#aaa" stroke-width="0.3" /><rect x="542.0" y="383.2" width="8.1" height="7.5" fill="#5b72bc" stroke="#aaa" stroke-width="0.3" /><rect x="550.1" y="383.2" width="8.1" height="7.5" fill="#f3d6d9" stroke="#aaa" stroke-width="0.3" /><rect x="558.1" y="383.2" width="8.1" height="7.5" fill="#b8c1e1" stroke="#aaa" stroke-width="0.3" /><text x="567.6" y="389.8" font-size="7.8">Trpm1</text><rect x="517.8" y="390.7" width="8.1" height="7.5" fill="#e21e24" stroke="#aaa" stroke-width="0.3" /><rect x="525.9" y="390.7" width="8.1" height="7.5" fill="#f1f2f7" stroke="#aaa" stroke-width="0.3" /><rect x="533.9" y="390.7" width="8.1" height="7.5" fill="#7083c4" stroke="#aaa" stroke-width="0.3" /><rect x="542.0" y="390.7" width="8.1" height="7.5" fill="#8f9ed1" stroke="#aaa" stroke-width="0.3" /><rect x="550.1" y="390.7" width="8.1" height="7.5" fill="#f1c0c4" stroke="#aaa" stroke-width="0.3" /><rect x="558.1" y="390.7" width="8.1" height="7.5" fill="#e2e5f1" stroke="#aaa" stroke-width="0.3" /><text x="567.6" y="397.2" font-size="7.8">Tyrp1</text><rect x="517.8" y="398.2" width="8.1" height="7.5" fill="#e21e24" stroke="#aaa" stroke-width="0.3" /><rect x="525.9" y="398.2" width="8.1" height="7.5" fill="#f3d6d9" stroke="#aaa" stroke-width="0.3" /><rect x="533.9" y="398.2" width="8.1" height="7.5" fill="#8595cc" stroke="#aaa" stroke-width="0.3" /><rect x="542.0" y="398.2" width="8.1" height="7.5" fill="#7083c4" stroke="#aaa" stroke-width="0.3" /><rect x="550.1" y="398.2" width="8.1" height="7.5" fill="#e2e5f1" stroke="#aaa" stroke-width="0.3" /><rect x="558.1" y="398.2" width="8.1" height="7.5" fill="#f1f2f7" stroke="#aaa" stroke-width="0.3" /><text x="567.6" y="404.7" font-size="7.8">Trpm2</text><rect x="517.8" y="405.6" width="8.1" height="7.5" fill="#e43339" stroke="#aaa" stroke-width="0.3" /><rect x="525.9" y="405.6" width="8.1" height="7.5" fill="#5169b8" stroke="#aaa" stroke-width="0.3" /><rect x="533.9" y="405.6" width="8.1" height="7.5" fill="#aeb9dd" stroke="#aaa" stroke-width="0.3" /><rect x="542.0" y="405.6" width="8.1" height="7.5" fill="#e7e9f3" stroke="#aaa" stroke-width="0.3" /><rect x="550.1" y="405.6" width="8.1" height="7.5" fill="#f5e6e9" stroke="#aaa" stroke-width="0.3" /><rect x="558.1" y="405.6" width="8.1" height="7.5" fill="#f3d6d9" stroke="#aaa" stroke-width="0.3" /><text x="567.6" y="412.1" font-size="7.8">Trpv2</text><rect x="517.8" y="413.1" width="8.1" height="7.5" fill="#e21e24" stroke="#aaa" stroke-width="0.3" /><rect x="525.9" y="413.1" width="8.1" height="7.5" fill="#aeb9dd" stroke="#aaa" stroke-width="0.3" /><rect x="533.9" y="413.1" width="8.1" height="7.5" fill="#c3cae5" stroke="#aaa" stroke-width="0.3" /><rect x="542.0" y="413.1" width="8.1" height="7.5" fill="#dde0ef" stroke="#aaa" stroke-width="0.3" /><rect x="550.1" y="413.1" width="8.1" height="7.5" fill="#dde0ef" stroke="#aaa" stroke-width="0.3" /><rect x="558.1" y="413.1" width="8.1" height="7.5" fill="#c3cae5" stroke="#aaa" stroke-width="0.3" /><text x="567.6" y="419.6" font-size="7.8">Kcnk2</text><rect x="517.8" y="420.5" width="8.1" height="7.5" fill="#f0b5b9" stroke="#aaa" stroke-width="0.3" /><rect x="525.9" y="420.5" width="8.1" height="7.5" fill="#cdd3e9" stroke="#aaa" stroke-width="0.3" /><rect x="533.9" y="420.5" width="8.1" height="7.5" fill="#8f9ed1" stroke="#aaa" stroke-width="0.3" /><rect x="542.0" y="420.5" width="8.1" height="7.5" fill="#e3282e" stroke="#aaa" stroke-width="0.3" /><rect x="550.1" y="420.5" width="8.1" height="7.5" fill="#7a8cc8" stroke="#aaa" stroke-width="0.3" /><rect x="558.1" y="420.5" width="8.1" height="7.5" fill="#f6f1f4" stroke="#aaa" stroke-width="0.3" /><text x="567.6" y="427.0" font-size="7.8">Scnn1a</text><rect x="517.8" y="428.0" width="8.1" height="7.5" fill="#e6494e" stroke="#aaa" stroke-width="0.3" /><rect x="525.9" y="428.0" width="8.1" height="7.5" fill="#e7e9f3" stroke="#aaa" stroke-width="0.3" /><rect x="533.9" y="428.0" width="8.1" height="7.5" fill="#d2d8eb" stroke="#aaa" stroke-width="0.3" /><rect x="542.0" y="428.0" width="8.1" height="7.5" fill="#ed9599" stroke="#aaa" stroke-width="0.3" /><rect x="550.1" y="428.0" width="8.1" height="7.5" fill="#8595cc" stroke="#aaa" stroke-width="0.3" /><rect x="558.1" y="428.0" width="8.1" height="7.5" fill="#8f9ed1" stroke="#aaa" stroke-width="0.3" /><text x="567.6" y="434.5" font-size="7.8">Scnn1g</text><rect x="517.8" y="435.4" width="8.1" height="7.5" fill="#f3d6d9" stroke="#aaa" stroke-width="0.3" /><rect x="525.9" y="435.4" width="8.1" height="7.5" fill="#f1c0c4" stroke="#aaa" stroke-width="0.3" /><rect x="533.9" y="435.4" width="8.1" height="7.5" fill="#5169b8" stroke="#aaa" stroke-width="0.3" /><rect x="542.0" y="435.4" width="8.1" height="7.5" fill="#f3d6d9" stroke="#aaa" stroke-width="0.3" /><rect x="550.1" y="435.4" width="8.1" height="7.5" fill="#7a8cc8" stroke="#aaa" stroke-width="0.3" /><rect x="558.1" y="435.4" width="8.1" height="7.5" fill="#e6494e" stroke="#aaa" stroke-width="0.3" /><text x="567.6" y="441.9" font-size="7.8">Ik</text><rect x="517.8" y="442.9" width="8.1" height="7.5" fill="#eea0a4" stroke="#aaa" stroke-width="0.3" /><rect x="525.9" y="442.9" width="8.1" height="7.5" fill="#eea0a4" stroke="#aaa" stroke-width="0.3" /><rect x="533.9" y="442.9" width="8.1" height="7.5" fill="#3c57b0" stroke="#aaa" stroke-width="0.3" /><rect x="542.0" y="442.9" width="8.1" height="7.5" fill="#f1c0c4" stroke="#aaa" stroke-width="0.3" /><rect x="550.1" y="442.9" width="8.1" height="7.5" fill="#f3d6d9" stroke="#aaa" stroke-width="0.3" /><rect x="558.1" y="442.9" width="8.1" height="7.5" fill="#99a7d5" stroke="#aaa" stroke-width="0.3" /><text x="567.6" y="449.4" font-size="7.8">Trpv3</text><rect x="517.8" y="450.3" width="8.1" height="7.5" fill="#efabaf" stroke="#aaa" stroke-width="0.3" /><rect x="525.9" y="450.3" width="8.1" height="7.5" fill="#aeb9dd" stroke="#aaa" stroke-width="0.3" /><rect x="533.9" y="450.3" width="8.1" height="7.5" fill="#324eac" stroke="#aaa" stroke-width="0.3" /><rect x="542.0" y="450.3" width="8.1" height="7.5" fill="#f1c0c4" stroke="#aaa" stroke-width="0.3" /><rect x="550.1" y="450.3" width="8.1" height="7.5" fill="#ed9599" stroke="#aaa" stroke-width="0.3" /><rect x="558.1" y="450.3" width="8.1" height="7.5" fill="#f4dbdf" stroke="#aaa" stroke-width="0.3" /><text x="567.6" y="456.8" font-size="7.8">Kcnk10</text><path d="M517 334.8H513V342.3M517 342.3H513M513 338.5H509M517 349.7H512M512 349.7V338.5M517 357.1H513V364.5H517M513 360.8H508M508 344H504M508 344V360.8M517 372H514V379.5H517M514 376H511M517 387H514V394.4H517M514 390.7H511M511 376V390.7M511 383H509M517 401.8H514V409.2H517M514 405.5H510M517 416.7H512M512 405.5V416.7M512 411H509M509 383V411M509 397H506M517 424.1H514V431.6H517M514 427.8H511M517 439H515V446.4H517M515 442.7H512M517 453.9H512M512 442.7V453.9M512 448H511M511 427.8V448M511 438H507M507 397V438M507 418H504M504 352V418M504 385H502" fill="none" stroke="#555" stroke-width="0.5" /><path d="M521.8 331V328.5H529.9V331M525.9 328.5V327M538 331V328H546V331M542 328V326.5M525.9 327H542M534 326.5V325.5M554 331V328.5H562.3V331M550 331V327.5H558V328.5M534 325.5H554V327.5" fill="none" stroke="#555" stroke-width="0.5" /><rect x="595.4" y="329.5" width="2.2" height="0.9" fill="#e21e24" /><rect x="595.4" y="330.4" width="2.2" height="0.9" fill="#e3292e" /><rect x="595.4" y="331.4" width="2.2" height="0.9" fill="#e43439" /><rect x="595.4" y="332.3" width="2.2" height="0.9" fill="#e53f44" /><rect x="595.4" y="333.2" width="2.2" height="0.9" fill="#e64a4f" /><rect x="595.4" y="334.1" width="2.2" height="0.9" fill="#e7555a" /><rect x="595.4" y="335.1" width="2.2" height="0.9" fill="#e86065" /><rect x="595.4" y="336.0" width="2.2" height="0.9" fill="#e96b70" /><rect x="595.4" y="336.9" width="2.2" height="0.9" fill="#ea777b" /><rect x="595.4" y="337.8" width="2.2" height="0.9" fill="#eb8286" /><rect x="595.4" y="338.8" width="2.2" height="0.9" fill="#ec8d91" /><rect x="595.4" y="339.7" width="2.2" height="0.9" fill="#ed989c" /><rect x="595.4" y="340.6" width="2.2" height="0.9" fill="#eea3a7" /><rect x="595.4" y="341.5" width="2.2" height="0.9" fill="#f0aeb2" /><rect x="595.4" y="342.4" width="2.2" height="0.9" fill="#f1b9bd" /><rect x="595.4" y="343.4" width="2.2" height="0.9" fill="#f2c4c8" /><rect x="595.4" y="344.3" width="2.2" height="0.9" fill="#f3d0d3" /><rect x="595.4" y="345.2" width="2.2" height="0.9" fill="#f4dbde" /><rect x="595.4" y="346.1" width="2.2" height="0.9" fill="#f5e6e9" /><rect x="595.4" y="347.1" width="2.2" height="0.9" fill="#f6f1f4" /><rect x="595.4" y="348.0" width="2.2" height="0.9" fill="#f1f2f7" /><rect x="595.4" y="348.9" width="2.2" height="0.9" fill="#e7e9f3" /><rect x="595.4" y="349.9" width="2.2" height="0.9" fill="#dce0ef" /><rect x="595.4" y="350.8" width="2.2" height="0.9" fill="#d1d7eb" /><rect x="595.4" y="351.7" width="2.2" height="0.9" fill="#c7cee7" /><rect x="595.4" y="352.6" width="2.2" height="0.9" fill="#bcc5e2" /><rect x="595.4" y="353.6" width="2.2" height="0.9" fill="#b2bcde" /><rect x="595.4" y="354.5" width="2.2" height="0.9" fill="#a7b2da" /><rect x="595.4" y="355.4" width="2.2" height="0.9" fill="#9ca9d6" /><rect x="595.4" y="356.3" width="2.2" height="0.9" fill="#92a0d2" /><rect x="595.4" y="357.2" width="2.2" height="0.9" fill="#8797cd" /><rect x="595.4" y="358.2" width="2.2" height="0.9" fill="#7c8ec9" /><rect x="595.4" y="359.1" width="2.2" height="0.9" fill="#7285c5" /><rect x="595.4" y="360.0" width="2.2" height="0.9" fill="#677cc1" /><rect x="595.4" y="360.9" width="2.2" height="0.9" fill="#5d73bd" /><rect x="595.4" y="361.9" width="2.2" height="0.9" fill="#526ab8" /><rect x="595.4" y="362.8" width="2.2" height="0.9" fill="#4761b4" /><rect x="595.4" y="363.7" width="2.2" height="0.9" fill="#3d58b0" /><rect x="595.4" y="364.6" width="2.2" height="0.9" fill="#324fac" /><rect x="595.4" y="365.6" width="2.2" height="0.9" fill="#2846a8" /><text x="599.5" y="332.5" font-size="6.3">2</text><text x="599.5" y="341.5" font-size="6.3">1</text><text x="599.5" y="350.0" font-size="6.3">0</text><text x="599.5" y="359.0" font-size="6.3">−1</text><text x="599.5" y="368.0" font-size="6.3">−2</text><line x1="520.4" y1="457.5" x2="543.8" y2="457.5" stroke="#888" stroke-width="0.6" /><line x1="545.3" y1="457.5" x2="568.6" y2="457.5" stroke="#888" stroke-width="0.6" /><text x="517.8" y="466.5" font-size="8.9">Saline</text><text x="545.5" y="466.5" font-size="8.5">BLM</text><line x1="625.5" y1="376.0" x2="625.5" y2="451.7" stroke="#231f20" stroke-width="0.9" /><line x1="625.5" y1="451.7" x2="683.0" y2="451.7" stroke="#231f20" stroke-width="0.9" /><line x1="622.0" y1="451.7" x2="625.5" y2="451.7" stroke="#231f20" stroke-width="0.8" /><text x="621.0" y="454.0" font-size="7" text-anchor="end" fill="#333">0</text><line x1="622.0" y1="416.6" x2="625.5" y2="416.6" stroke="#231f20" stroke-width="0.8" /><text x="621.0" y="418.9" font-size="7" text-anchor="end" fill="#333">20</text><line x1="622.0" y1="381.6" x2="625.5" y2="381.6" stroke="#231f20" stroke-width="0.8" /><text x="621.0" y="383.9" font-size="7" text-anchor="end" fill="#333">40</text><rect x="629.0" y="442.2" width="6.7" height="9.5" fill="#fff" stroke="#231f20" stroke-width="0.8" /><rect x="639.0" y="434.2" width="6.6" height="17.5" fill="#fff" stroke="#231f20" stroke-width="0.8" /><rect x="656.4" y="438.2" width="6.6" height="13.5" fill="#fff" stroke="#231f20" stroke-width="0.8" /><rect x="666.6" y="442.4" width="6.6" height="9.3" fill="#fff" stroke="#231f20" stroke-width="0.8" /><line x1="637.3" y1="451.7" x2="637.3" y2="454.2" stroke="#231f20" stroke-width="0.8" /><line x1="664.2" y1="451.7" x2="664.2" y2="454.2" stroke="#231f20" stroke-width="0.8" /><path d="M631.0 442.0h0M633.0 441.5h0M634.5 443.5h0M632.5 445.0h0M630.5 443.0h0" stroke="#1f5fb0" stroke-width="2.8" stroke-linecap="round"/><path d="M641.5 432.5h0M643.5 433.8h0M641.0 437.5h0" stroke="#e8606a" stroke-width="2.8" stroke-linecap="round"/><path d="M658.5 437.8h0M660.5 437.0h0M662.0 438.5h0M659.5 439.0h0" stroke="#1f5fb0" stroke-width="2.8" stroke-linecap="round"/><path d="M668.5 441.5h0M671.0 442.5h0M668.5 444.5h0" stroke="#e8606a" stroke-width="2.8" stroke-linecap="round"/><line x1="642.3" y1="432.0" x2="642.3" y2="437.5" stroke="#231f20" stroke-width="0.8" /><line x1="640.5" y1="432.0" x2="644.0" y2="432.0" stroke="#231f20" stroke-width="0.8" /><line x1="640.5" y1="437.5" x2="644.0" y2="437.5" stroke="#231f20" stroke-width="0.8" /><path d="M631 423.9V428.5M631 426.2H642.6M642.6 423.9V428.5" fill="none" stroke="#231f20" stroke-width="0.8" /><path d="M659 428.1V432.7M659 430.4H670M670 428.1V432.7" fill="none" stroke="#231f20" stroke-width="0.8" /><text x="637.2" y="426.5" font-size="15" text-anchor="middle" font-weight="bold">*</text><text x="664.8" y="431.0" font-size="15" text-anchor="middle" font-weight="bold">*</text><circle cx="634.0" cy="383.8" r="1.80" fill="#1f5fb0" /><text x="637.7" y="387.0" font-size="9.2" fill="#333">Saline</text><circle cx="634.0" cy="395.2" r="1.80" fill="#e8606a" /><text x="637.7" y="398.4" font-size="9.3" fill="#333">Bleomycin</text><text x="625.5" y="464.2" font-size="8.9">Piezo1</text><text x="657.0" y="464.2" font-size="8.9">Piezo2</text><text x="606.5" y="414.5" font-size="7.9" text-anchor="middle" transform="rotate(-90 606.5 414.5)">Genes mRNA (FPKM)</text><text x="1.5" y="481.0" font-size="13" font-weight="bold">H</text><rect x="0.0" y="485.7" width="195.0" height="12.8" fill="#2b1e1b" /><text x="95.2" y="494.6" font-size="8.4" text-anchor="middle" fill="#f4f4f4">Saline</text><rect x="199.2" y="486.0" width="194.7" height="12.4" fill="#2b1e1b" /><text x="296.6" y="494.6" font-size="8.4" text-anchor="middle" fill="#f4f4f4">Bleomycin</text><svg x="0.0" y="501.7" width="97.0" height="96.1" viewBox="0 0 97.0 96.1"><rect x="0.0" y="0.0" width="97.0" height="96.1" fill="#000" /><rect width="97.0" height="96.1" filter="url(#hs)"/><g fill="#000" filter="url(#hb)"><ellipse cx="36" cy="50" rx="10" ry="10"/><ellipse cx="38" cy="76" rx="8" ry="8"/><ellipse cx="62" cy="59" rx="6" ry="6"/><ellipse cx="66" cy="6" rx="4" ry="4"/><ellipse cx="76" cy="36" rx="5" ry="5"/><ellipse cx="2" cy="48" rx="4" ry="4"/></g></svg><svg x="200.0" y="502.0" width="96.7" height="96.0" viewBox="0 0 96.7 96.0"><rect x="0.0" y="0.0" width="96.7" height="96.0" fill="#000" /><rect width="96.7" height="96.0" filter="url(#hb2)"/><g fill="#000" filter="url(#hb)"><ellipse cx="10" cy="30" rx="9" ry="9"/><ellipse cx="47" cy="40" rx="6" ry="6"/><ellipse cx="90" cy="45" rx="12" ry="12"/><ellipse cx="30" cy="68" rx="8" ry="8"/><ellipse cx="52" cy="8" rx="7" ry="7"/><ellipse cx="62" cy="71" rx="7" ry="7"/><ellipse cx="72" cy="44" rx="5" ry="5"/></g></svg><rect x="98.6" y="502.2" width="96.4" height="95.3" fill="#8a8a8a" /><rect x="298.2" y="502.2" width="96.3" height="95.3" fill="#8a8a8a" /><svg x="98.6" y="502.2" width="47.0" height="46.4" viewBox="0 0 47.0 46.4"><rect x="0.0" y="0.0" width="47.0" height="46.4" fill="#000" /><g filter="url(#soft)"><path d="M26.6 11.1h0M16.0 13.4h0M32.3 12.1h0M20.0 13.4h0M24.7 14.5h0M42.8 11.6h0M6.4 14.8h0M9.6 14.7h0M45.2 10.8h0M41.5 9.8h0M7.4 15.9h0M47.5 10.7h0M38.9 10.8h0M20.5 14.5h0M19.3 14.0h0M37.4 10.7h0M28.3 12.5h0M18.9 15.6h0M11.0 14.8h0M28.1 13.6h0M43.1 10.8h0M42.6 9.9h0M3.6 32.0h0M20.8 31.2h0M30.8 28.9h0M40.8 27.0h0M24.4 28.8h0M31.8 28.3h0M18.2 31.1h0M9.3 32.3h0M34.1 27.6h0M38.2 27.2h0M39.2 28.2h0M34.7 27.3h0M6.8 33.0h0M11.9 31.3h0M9.1 33.1h0M21.1 30.6h0M23.6 29.5h0M39.9 26.6h0M15.5 31.7h0M4.3 31.6h0M19.7 29.9h0M25.9 29.0h0M28.4 22.2h0M44.9 36.2h0M15.0 21.8h0M27.4 27.7h0M24.5 15.9h0M26.8 34.3h0M34.9 25.2h0M21.2 27.2h0M25.1 26.1h0M2.5 18.5h0M44.5 38.7h0M22.1 36.1h0M11.1 18.6h0M24.3 34.2h0M3.2 26.0h0" stroke="#2f7f2f" stroke-width="1.0" stroke-linecap="round"/><path d="M3.5 41.5h0M5.0 40.5h0" stroke="#30c030" stroke-width="2.6" stroke-linecap="round"/><path d="M11.5 7.5h0" stroke="#30e030" stroke-width="3.2" stroke-linecap="round"/></g><text x="23.5" y="7.6" font-size="7.8" text-anchor="middle" fill="#30d030">PIEZO1</text></svg><svg x="147.1" y="502.2" width="48.0" height="46.4" viewBox="0 0 48.0 46.4"><rect x="0.0" y="0.0" width="48.0" height="46.4" fill="#000" /><g filter="url(#soft)"><path d="M0.7 19.7C2.3 19.3 6.7 18.2 10.2 17.5C13.7 16.8 18.0 16.1 21.9 15.3C25.8 14.6 29.2 14.0 33.6 13.1C38.0 12.3 45.7 10.7 48.2 10.2" stroke="#c41c1c" stroke-width="1.5" fill="none" stroke-linecap="round" stroke-linejoin="round" stroke-dasharray="2.5 0.8"/><path d="M0.7 31.4C1.8 31.1 4.3 30.3 7.3 29.9C10.3 29.6 15.1 29.7 19.0 29.2C22.9 28.7 26.8 27.6 30.7 27.0C34.5 26.4 39.4 25.9 42.3 25.5C45.3 25.2 47.2 24.9 48.2 24.8" stroke="#c41c1c" stroke-width="1.5" fill="none" stroke-linecap="round" stroke-linejoin="round" stroke-dasharray="2.5 0.8"/><path d="M2.9 24.1C3.2 25.8 4.4 31.1 4.4 34.3C4.4 37.5 3.2 41.6 2.9 43.1" stroke="#c41c1c" stroke-width="1.5" fill="none" stroke-linecap="round" stroke-linejoin="round" stroke-dasharray="2.5 0.8"/><path d="M14.6 3.6C15.1 4.6 17.3 7.8 17.5 9.5C17.8 11.2 16.3 13.1 16.1 13.9" stroke="#c41c1c" stroke-width="1.5" fill="none" stroke-linecap="round" stroke-linejoin="round" stroke-dasharray="2.5 0.8"/><path d="M33.6 31.4C34.1 32.1 35.3 34.3 36.5 35.8C37.7 37.2 40.1 39.4 40.9 40.1" stroke="#c41c1c" stroke-width="1.5" fill="none" stroke-linecap="round" stroke-linejoin="round" stroke-dasharray="2.5 0.8"/><path d="M14.6 34.3C15.3 34.8 17.8 36.5 19.0 37.2C20.2 38.0 21.4 38.4 21.9 38.7" stroke="#c41c1c" stroke-width="1.5" fill="none" stroke-linecap="round" stroke-linejoin="round" stroke-dasharray="2.5 0.8"/><path d="M7.3 2.2C8.0 2.9 10.9 5.8 11.7 6.6" stroke="#c41c1c" stroke-width="1.5" fill="none" stroke-linecap="round" stroke-linejoin="round" stroke-dasharray="2.5 0.8"/><path d="M36.5 3.6C37.5 4.1 40.4 6.3 42.3 6.6C44.3 6.8 47.2 5.4 48.2 5.1" stroke="#c41c1c" stroke-width="1.5" fill="none" stroke-linecap="round" stroke-linejoin="round" stroke-dasharray="2.5 0.8"/><ellipse cx="18.2" cy="36.5" rx="2.2" ry="1.5" fill="#b81818"/><ellipse cx="40.1" cy="32.8" rx="2.2" ry="1.5" fill="#b81818"/><ellipse cx="41.6" cy="38.7" rx="2.2" ry="1.5" fill="#b81818"/><ellipse cx="26.6" cy="31.8" rx="1.8" ry="1.8" fill="#b81818"/></g><text x="24.0" y="7.6" font-size="7.8" text-anchor="middle" fill="#e02020">VE-Cad</text></svg><svg x="98.6" y="550.4" width="47.0" height="47.1" viewBox="0 0 47.0 47.1"><rect x="0.0" y="0.0" width="47.0" height="47.1" fill="#000" /><g filter="url(#soft)"><ellipse cx="19.3" cy="11.7" rx="2.9" ry="2.2" fill="#2222c4"/><ellipse cx="33.9" cy="13.1" rx="4.4" ry="2.2" fill="#2222c4"/><ellipse cx="42.6" cy="6.6" rx="2.9" ry="1.5" fill="#2222c4"/><ellipse cx="3.2" cy="25.5" rx="2.9" ry="2.9" fill="#2222c4"/><ellipse cx="20.0" cy="29.2" rx="6.6" ry="2.2" fill="#2222c4"/><ellipse cx="35.3" cy="29.2" rx="2.9" ry="2.2" fill="#2222c4"/><ellipse cx="44.8" cy="29.2" rx="2.2" ry="2.2" fill="#2222c4"/><ellipse cx="6.9" cy="35.0" rx="3.6" ry="2.2" fill="#2222c4"/><ellipse cx="36.1" cy="37.2" rx="3.6" ry="1.5" fill="#2222c4"/><ellipse cx="3.2" cy="43.1" rx="1.5" ry="1.5" fill="#2222c4"/><ellipse cx="22.9" cy="16.8" rx="2.2" ry="1.5" fill="#2222c4"/></g><text x="23.5" y="7.6" font-size="7.8" text-anchor="middle" fill="#2030e0">DAPI</text></svg><svg x="147.1" y="550.4" width="48.0" height="47.1" viewBox="0 0 48.0 47.1"><rect x="0.0" y="0.0" width="48.0" height="47.1" fill="#000" /><g filter="url(#soft)"><path d="M0.7 8.0C2.3 8.5 6.7 10.0 10.2 10.9C13.7 11.9 18.0 13.9 21.9 13.9C25.8 13.9 29.2 11.9 33.6 10.9C38.0 10.0 45.7 8.5 48.2 8.0" stroke="#c41c1c" stroke-width="1.5" fill="none" stroke-linecap="round" stroke-linejoin="round" stroke-dasharray="2.5 0.8"/><path d="M0.7 22.6C2.3 22.9 6.7 23.6 10.2 24.1C13.7 24.6 18.0 25.8 21.9 25.5C25.8 25.3 29.2 23.4 33.6 22.6C38.0 21.9 45.7 21.4 48.2 21.2" stroke="#c41c1c" stroke-width="1.5" fill="none" stroke-linecap="round" stroke-linejoin="round" stroke-dasharray="2.5 0.8"/><path d="M1.5 13.9C1.9 15.8 4.1 21.7 4.4 25.5C4.6 29.4 3.2 35.3 2.9 37.2" stroke="#c41c1c" stroke-width="1.5" fill="none" stroke-linecap="round" stroke-linejoin="round" stroke-dasharray="2.5 0.8"/><path d="M30.7 31.4C31.6 32.4 34.5 35.8 36.5 37.2C38.4 38.7 41.4 39.7 42.3 40.1" stroke="#c41c1c" stroke-width="1.5" fill="none" stroke-linecap="round" stroke-linejoin="round" stroke-dasharray="2.5 0.8"/><path d="M10.2 2.2C10.9 2.9 13.9 5.8 14.6 6.6" stroke="#c41c1c" stroke-width="1.5" fill="none" stroke-linecap="round" stroke-linejoin="round" stroke-dasharray="2.5 0.8"/><ellipse cx="19.0" cy="10.9" rx="2.9" ry="2.9" fill="#2626c8"/><ellipse cx="35.0" cy="11.7" rx="4.4" ry="2.2" fill="#2626c8"/><ellipse cx="5.8" cy="25.5" rx="2.9" ry="2.9" fill="#2626c8"/><ellipse cx="19.0" cy="29.2" rx="5.8" ry="2.2" fill="#2626c8"/><ellipse cx="36.5" cy="28.5" rx="2.9" ry="2.9" fill="#2626c8"/><ellipse cx="44.9" cy="28.1" rx="2.6" ry="2.6" fill="#2626c8"/><ellipse cx="38.0" cy="36.5" rx="2.9" ry="2.2" fill="#2626c8"/><path d="M21.0 8.0h0M23.0 8.5h0" stroke="#30d030" stroke-width="2.2" stroke-linecap="round"/></g></svg><svg x="298.2" y="502.2" width="47.4" height="46.7" viewBox="0 0 47.4 46.7"><rect x="0.0" y="0.0" width="47.4" height="46.7" fill="#000" /><g filter="url(#soft)"><path d="M0.7 5.8C1.3 6.2 3.3 6.9 4.4 8.0C5.5 9.1 6.2 10.9 7.3 12.4C8.4 13.9 9.6 15.8 10.9 16.8C12.3 17.8 13.6 17.8 15.3 18.2C17.0 18.7 19.2 19.2 21.2 19.7C23.1 20.2 24.8 20.7 27.0 21.2C29.2 21.7 31.9 22.3 34.3 22.6C36.7 23.0 39.4 23.0 41.6 23.4C43.8 23.7 46.5 24.6 47.4 24.8" stroke="#28b828" stroke-width="1.9" fill="none" stroke-linecap="round" stroke-linejoin="round" /><path d="M0.7 35.8C1.2 35.0 2.9 32.8 3.6 31.4C4.4 29.9 4.1 28.1 5.1 27.0C6.1 25.9 7.8 25.5 9.5 24.8C11.2 24.1 13.4 23.5 15.3 22.6C17.3 21.8 20.2 20.2 21.2 19.7" stroke="#28b828" stroke-width="1.9" fill="none" stroke-linecap="round" stroke-linejoin="round" /><path d="M34.3 22.6C35.3 23.1 38.4 24.6 40.1 25.5C41.8 26.5 43.3 27.6 44.5 28.5C45.7 29.3 47.0 30.3 47.4 30.7" stroke="#28b828" stroke-width="1.9" fill="none" stroke-linecap="round" stroke-linejoin="round" /><path d="M0.7 30.7C1.1 30.4 2.3 29.7 2.9 29.2C3.5 28.7 4.1 28.0 4.4 27.7" stroke="#28b828" stroke-width="1.9" fill="none" stroke-linecap="round" stroke-linejoin="round" /></g></svg><svg x="346.8" y="502.2" width="47.7" height="46.7" viewBox="0 0 47.7 46.7"><rect x="0.0" y="0.0" width="47.7" height="46.7" fill="#000" /><g filter="url(#soft)"><path d="M0.3 4.4C1.0 5.0 3.5 6.7 4.7 8.0C5.9 9.4 6.6 10.9 7.6 12.4C8.6 13.9 9.1 15.7 10.5 16.8C12.0 17.9 14.4 18.5 16.4 19.0C18.3 19.5 20.2 19.3 22.2 19.7C24.1 20.1 26.1 20.7 28.0 21.2C30.0 21.7 31.9 22.3 33.9 22.6C35.8 23.0 37.5 23.0 39.7 23.4C41.9 23.7 45.8 24.6 47.0 24.8" stroke="#d82020" stroke-width="1.9" fill="none" stroke-linecap="round" stroke-linejoin="round" stroke-dasharray="3 1.2"/><path d="M9.1 24.8C9.8 24.7 11.7 24.5 13.4 24.1C15.1 23.7 17.3 23.1 19.3 22.6C21.2 22.1 24.1 21.4 25.1 21.2" stroke="#d82020" stroke-width="1.9" fill="none" stroke-linecap="round" stroke-linejoin="round" stroke-dasharray="3 1.2"/><path d="M39.7 24.1C40.4 24.6 42.9 26.2 44.1 27.0C45.3 27.9 46.5 28.8 47.0 29.2" stroke="#d82020" stroke-width="1.9" fill="none" stroke-linecap="round" stroke-linejoin="round" stroke-dasharray="3 1.2"/><path d="M4.7 27.0C4.8 27.7 5.5 30.2 5.4 31.4C5.3 32.6 4.2 33.8 3.9 34.3" stroke="#d82020" stroke-width="1.9" fill="none" stroke-linecap="round" stroke-linejoin="round" stroke-dasharray="3 1.2"/></g></svg><svg x="298.2" y="550.4" width="47.4" height="47.1" viewBox="0 0 47.4 47.1"><rect x="0.0" y="0.0" width="47.4" height="47.1" fill="#000" /><g filter="url(#soft)"><ellipse cx="4.0" cy="9.1" rx="1.8" ry="1.8" fill="#2020e8"/><ellipse cx="9.1" cy="16.4" rx="2.6" ry="1.8" fill="#2020e8"/><ellipse cx="14.2" cy="21.5" rx="2.6" ry="1.8" fill="#2020e8"/><ellipse cx="15.7" cy="16.8" rx="1.8" ry="1.5" fill="#2020e8"/><ellipse cx="3.6" cy="31.4" rx="2.9" ry="4.4" fill="#2020e8"/><ellipse cx="8.0" cy="27.4" rx="1.5" ry="1.8" fill="#2020e8"/><ellipse cx="39.4" cy="22.6" rx="2.2" ry="1.5" fill="#2020e8"/><ellipse cx="44.5" cy="25.5" rx="2.9" ry="2.9" fill="#2020e8"/><ellipse cx="1.1" cy="3.6" rx="1.1" ry="1.5" fill="#2020e8"/></g></svg><svg x="346.8" y="550.4" width="47.7" height="47.1" viewBox="0 0 47.7 47.1"><rect x="0.0" y="0.0" width="47.7" height="47.1" fill="#000" /><g filter="url(#soft)"><path d="M0.3 5.1C1.0 5.8 3.2 8.0 4.7 9.5C6.1 10.9 7.6 12.7 9.1 13.9C10.5 15.1 11.7 15.8 13.4 16.8C15.1 17.8 17.3 19.0 19.3 19.7C21.2 20.4 23.2 20.7 25.1 21.2C27.1 21.7 29.0 22.3 30.9 22.6C32.9 23.0 34.8 23.4 36.8 23.4C38.7 23.4 40.8 22.9 42.6 22.6C44.5 22.4 46.9 22.0 47.7 21.9" stroke="#e03020" stroke-width="2.2" fill="none" stroke-linecap="round" stroke-linejoin="round" /><path d="M1.0 34.3C1.6 33.6 3.6 31.1 4.7 29.9C5.8 28.7 6.4 28.0 7.6 27.0C8.8 26.0 10.3 24.9 12.0 24.1C13.7 23.2 15.6 22.4 17.8 21.9C20.0 21.4 23.9 21.3 25.1 21.2" stroke="#e03020" stroke-width="2.2" fill="none" stroke-linecap="round" stroke-linejoin="round" /><path d="M36.8 23.4C37.8 23.7 40.8 24.7 42.6 25.5C44.5 26.4 46.9 28.0 47.7 28.5" stroke="#e03020" stroke-width="2.2" fill="none" stroke-linecap="round" stroke-linejoin="round" /><path d="M0.3 5.1C1.0 5.8 3.2 8.0 4.7 9.5C6.1 10.9 7.6 12.7 9.1 13.9C10.5 15.1 11.7 15.8 13.4 16.8C15.1 17.8 17.3 19.0 19.3 19.7C21.2 20.4 23.2 20.7 25.1 21.2C27.1 21.7 29.0 22.3 30.9 22.6C32.9 23.0 34.8 23.4 36.8 23.4C38.7 23.4 40.8 22.9 42.6 22.6C44.5 22.4 46.9 22.0 47.7 21.9" stroke="#c0c020" stroke-width="1.0" fill="none" stroke-linecap="round" stroke-linejoin="round" /><path d="M1.0 34.3C1.6 33.6 3.6 31.1 4.7 29.9C5.8 28.7 6.4 28.0 7.6 27.0C8.8 26.0 10.3 24.9 12.0 24.1C13.7 23.2 15.6 22.4 17.8 21.9C20.0 21.4 23.9 21.3 25.1 21.2" stroke="#c0c020" stroke-width="1.0" fill="none" stroke-linecap="round" stroke-linejoin="round" /><path d="M36.8 23.4C37.8 23.7 40.8 24.7 42.6 25.5C44.5 26.4 46.9 28.0 47.7 28.5" stroke="#c0c020" stroke-width="1.0" fill="none" stroke-linecap="round" stroke-linejoin="round" /><ellipse cx="3.9" cy="9.1" rx="2.2" ry="1.8" fill="#2a2ae8"/><ellipse cx="9.4" cy="16.1" rx="2.6" ry="2.2" fill="#2a2ae8"/><ellipse cx="14.9" cy="21.9" rx="2.9" ry="2.2" fill="#2a2ae8"/><ellipse cx="2.5" cy="31.4" rx="2.2" ry="2.9" fill="#2a2ae8"/><ellipse cx="39.7" cy="23.4" rx="2.9" ry="2.2" fill="#2a2ae8"/><ellipse cx="45.2" cy="28.5" rx="2.6" ry="2.9" fill="#2a2ae8"/></g></svg><rect x="31.2" y="523.4" width="22.8" height="22.1" fill="none" stroke="#fff" stroke-width="0.9" /><rect x="218.2" y="542.8" width="22.4" height="22.2" fill="none" stroke="#fff" stroke-width="0.9" /><text x="85.5" y="592.8" font-size="6.2" text-anchor="middle" fill="#fff">20μM</text><line x1="81.5" y1="595.3" x2="89.5" y2="595.3" stroke="#fff" stroke-width="1.3" /><text x="283.3" y="592.8" font-size="6.2" text-anchor="middle" fill="#fff">20μM</text><line x1="279.3" y1="595.3" x2="287.3" y2="595.3" stroke="#fff" stroke-width="1.3" /><rect x="432.0" y="551.3" width="17.8" height="32.8" fill="#d9aeae" /><rect x="455.0" y="530.4" width="17.0" height="53.7" fill="#87a9d9" /><line x1="423.4" y1="503.5" x2="423.4" y2="584.1" stroke="#231f20" stroke-width="0.9" /><line x1="423.4" y1="584.1" x2="481.2" y2="584.1" stroke="#231f20" stroke-width="0.9" /><line x1="420.9" y1="584.1" x2="423.4" y2="584.1" stroke="#231f20" stroke-width="0.8" /><text x="420.4" y="586.2" font-size="6.2" text-anchor="end" fill="#333">0</text><line x1="420.9" y1="564.2" x2="423.4" y2="564.2" stroke="#231f20" stroke-width="0.8" /><text x="420.4" y="566.3" font-size="6.2" text-anchor="end" fill="#333">20</text><line x1="420.9" y1="544.3" x2="423.4" y2="544.3" stroke="#231f20" stroke-width="0.8" /><text x="420.4" y="546.4" font-size="6.2" text-anchor="end" fill="#333">40</text><line x1="420.9" y1="524.4" x2="423.4" y2="524.4" stroke="#231f20" stroke-width="0.8" /><text x="420.4" y="526.5" font-size="6.2" text-anchor="end" fill="#333">60</text><line x1="420.9" y1="504.5" x2="423.4" y2="504.5" stroke="#231f20" stroke-width="0.8" /><text x="420.4" y="506.6" font-size="6.2" text-anchor="end" fill="#333">80</text><line x1="441.0" y1="584.1" x2="441.0" y2="586.4" stroke="#231f20" stroke-width="0.8" /><line x1="463.5" y1="584.1" x2="463.5" y2="586.4" stroke="#231f20" stroke-width="0.8" /><path d="M437.5 548H444.5M441 548V554.5M437.5 554.5H444.5" fill="none" stroke="#231f20" stroke-width="0.8" /><path d="M459.5 524.3H467.5M463.5 524.3V537.6M459.5 537.6H467.5" fill="none" stroke="#231f20" stroke-width="0.8" /><path d="M441.0 543.6h0M438.5 554.8h0M443.5 554.8h0M441.0 552.0h0" stroke="#231f20" stroke-width="2.5" stroke-linecap="round"/><path d="M463.5 511.4h0M462.0 534.0h0M463.5 541.0h0M466.0 535.0h0" stroke="#231f20" stroke-width="2.5" stroke-linecap="round"/><path d="M437.2 509V506.2H464V509" fill="none" stroke="#231f20" stroke-width="0.8" /><text x="450.5" y="509.5" font-size="11" text-anchor="middle">*</text><text x="439.4" y="594.5" font-size="6.9" text-anchor="middle">Saline</text><text x="463.5" y="594.5" font-size="6.9" text-anchor="middle">BLM</text><text x="402.4" y="542.2" font-size="8.7" text-anchor="middle" transform="rotate(-90 402.4 542.2)">Integrated Density</text><text x="410.6" y="545.0" font-size="7.6" text-anchor="middle" transform="rotate(-90 410.6 545.0)">of PIEZO1/( % VE-Cad)</text><text x="481.5" y="480.7" font-size="13" font-weight="bold">I</text><rect x="501.4" y="488.1" width="99.0" height="97.8" fill="#fff" stroke="#ddd" stroke-width="0.6" /><line x1="501.4" y1="488.1" x2="600.4" y2="488.1" stroke="#666" stroke-width="1.2" /><line x1="501.4" y1="488.1" x2="501.4" y2="585.9" stroke="#666" stroke-width="1.2" /><polygon points="566.4,493.2 573.4,492.1 580.4,492.6 582.2,500.3 582.8,508.5 582.2,515.5 582.8,521.3 583.9,527.2 586.3,530.7 590.4,533.0 593.9,538.9 595.1,544.8 593.3,549.4 587.5,551.8 580.4,554.1 574.6,556.5 571.1,561.2 569.3,568.2 568.7,575.2 564.0,579.9 559.3,581.1 554.7,578.7 553.5,572.9 555.2,565.8 558.2,560.0 560.5,556.5 559.3,554.1 555.2,549.4 554.1,547.7 558.2,544.8 560.5,541.2 561.7,536.6 560.5,531.9 558.8,526.0 561.7,522.5 567.5,521.3 570.5,520.2 572.8,519.0 574.0,516.7 572.8,512.0 572.2,503.8 569.9,499.1" fill="#c2c2c2" /><path d="M560.3 558.8h0M559.2 557.3h0M560.2 556.9h0M572.6 559.1h0M594.4 538.8h0M569.8 565.6h0M573.6 518.1h0M586.5 552.5h0M570.5 521.5h0M594.7 545.8h0M572.3 514.4h0M582.9 503.5h0M558.6 553.0h0M580.7 554.7h0M560.0 554.7h0M570.8 492.8h0M582.2 512.6h0M583.5 525.9h0M556.6 550.2h0M558.0 552.1h0M577.8 554.2h0M556.8 550.8h0M562.7 521.8h0M554.8 578.4h0M565.1 578.3h0M594.3 540.8h0M574.4 557.6h0M592.6 536.3h0M584.9 530.4h0M588.5 550.7h0M569.6 574.1h0M591.8 536.7h0M595.9 546.4h0M580.9 496.2h0M559.8 554.0h0M591.0 534.8h0M585.8 531.0h0M560.9 580.4h0M583.0 524.0h0M593.4 549.4h0M561.7 536.7h0M561.9 522.1h0M561.1 535.4h0M575.5 491.7h0M590.0 532.8h0M575.6 556.2h0M560.6 523.7h0M559.4 524.8h0M582.4 512.1h0M595.4 546.5h0M554.0 548.1h0M582.9 512.0h0M556.4 546.3h0M582.0 516.1h0M558.7 544.4h0M569.0 492.6h0M576.1 491.3h0M587.4 529.5h0M569.4 571.7h0M595.5 542.6h0M559.9 556.3h0M565.4 521.5h0M572.3 560.4h0M582.1 501.5h0M569.3 568.2h0M582.8 514.4h0M558.5 554.1h0M557.3 563.4h0M556.5 550.7h0M580.3 554.7h0M554.3 565.7h0M560.7 528.3h0M572.9 511.4h0M561.1 556.0h0M584.2 519.8h0M573.8 491.7h0M555.0 548.5h0M573.4 506.2h0M563.8 522.3h0M574.5 516.5h0M560.1 530.6h0M571.5 503.2h0M582.4 517.1h0M583.4 515.2h0M556.0 579.1h0M570.8 562.3h0M562.4 536.6h0M585.6 529.7h0M569.4 570.6h0M563.7 580.2h0M558.9 544.6h0M567.7 575.6h0M555.1 569.2h0M572.5 506.0h0M554.1 547.5h0M594.3 537.3h0M580.5 554.7h0M567.5 577.0h0M570.6 492.2h0M574.2 518.4h0M559.2 544.3h0M559.5 554.9h0M557.1 547.4h0M552.8 573.7h0M558.4 544.1h0M562.4 581.1h0M573.8 513.8h0M559.8 554.7h0M572.2 515.2h0M563.3 522.3h0M571.6 560.3h0M593.3 550.0h0M570.9 506.7h0M553.2 574.9h0M582.3 515.1h0M564.4 521.1h0M557.7 544.2h0M571.5 502.1h0M583.2 505.2h0M588.4 532.2h0M595.0 544.0h0M560.5 558.2h0M593.7 548.7h0M586.2 529.3h0M571.2 562.0h0M555.2 547.1h0M573.8 557.9h0M553.0 547.4h0M560.5 525.8h0M569.9 499.0h0M572.4 517.9h0M570.0 567.1h0M567.4 494.9h0M593.3 549.8h0M571.7 501.9h0M565.8 579.8h0M559.7 541.0h0M552.4 575.8h0M572.6 512.4h0M559.7 524.3h0M571.2 520.1h0M569.5 573.2h0M564.2 522.0h0M553.5 575.2h0M588.1 552.8h0M574.9 557.8h0M589.9 532.1h0M569.2 575.7h0M570.0 520.7h0M573.2 516.6h0M569.2 568.5h0M556.6 561.9h0M556.2 551.0h0M581.9 519.2h0M583.3 526.0h0M582.7 517.8h0M581.1 554.8h0M560.9 540.4h0M569.7 569.5h0M554.0 569.3h0M593.8 536.0h0M583.3 553.8h0M558.1 561.5h0M583.8 553.1h0M570.4 491.9h0M557.7 553.3h0M573.7 555.7h0M559.9 536.6h0M559.4 557.8h0M555.2 548.7h0M554.6 548.1h0M578.0 556.4h0M583.2 503.2h0M554.2 571.4h0M573.1 512.5h0M582.7 520.1h0M555.9 546.4h0M593.6 542.5h0M553.7 547.5h0M566.7 575.9h0M577.5 555.4h0M572.6 493.0h0M586.5 531.7h0M571.0 501.3h0M594.8 545.9h0M556.5 564.3h0M593.2 537.6h0M567.6 576.5h0M593.0 548.6h0M583.9 528.2h0M558.9 544.5h0M561.6 535.3h0M558.5 529.2h0M582.0 513.6h0M583.3 526.3h0M586.7 530.4h0M560.7 540.3h0M570.7 500.4h0M583.2 518.1h0M587.4 532.1h0M558.4 560.5h0M566.9 578.3h0M582.9 552.5h0M567.9 496.3h0M557.4 560.1h0M570.8 561.6h0M563.2 523.7h0M573.5 558.7h0M558.0 546.0h0M559.4 559.6h0M560.7 532.0h0M555.2 575.9h0M563.8 579.5h0M583.2 503.5h0M557.5 562.5h0M587.2 551.7h0M553.2 571.9h0M580.3 495.7h0M586.9 530.5h0M582.7 522.1h0M568.7 520.8h0M567.9 520.3h0M582.5 511.2h0M576.3 556.1h0M572.1 502.8h0M595.1 540.6h0M592.2 536.6h0M560.1 523.7h0M558.1 559.3h0M558.7 558.7h0M561.4 522.7h0M559.1 543.0h0M582.9 517.7h0M558.3 542.7h0M557.0 552.0h0M586.8 529.3h0M581.3 516.8h0M556.2 579.8h0M555.3 545.9h0M561.3 541.3h0M583.4 553.7h0M560.0 580.8h0M566.7 577.6h0M582.9 552.7h0M594.5 543.4h0M561.9 537.3h0M556.4 550.7h0M555.2 548.0h0M575.0 492.6h0M560.4 542.0h0M559.6 581.8h0M561.4 522.7h0M561.8 579.8h0M581.9 500.7h0M582.0 508.4h0M582.4 521.7h0M582.7 505.4h0M571.3 560.2h0M594.4 541.8h0M580.0 554.5h0M572.6 518.2h0M560.8 541.0h0M560.9 534.8h0M560.3 528.4h0M582.0 511.6h0M560.3 542.3h0M555.6 579.3h0M593.9 538.6h0M573.7 517.6h0M574.0 509.6h0M560.2 541.5h0M560.1 532.5h0M582.6 513.6h0M558.7 526.4h0M563.0 579.9h0M572.2 510.1h0M567.1 577.8h0M570.9 493.0h0M560.1 556.3h0M588.2 531.5h0M562.1 522.1h0M573.4 514.4h0M589.5 550.8h0M595.1 543.8h0M591.2 550.2h0M560.7 557.1h0M556.3 546.4h0M573.6 510.2h0M560.3 533.0h0M590.6 533.4h0M572.8 514.5h0M568.3 496.6h0M573.8 514.4h0M557.5 551.8h0M583.2 553.1h0M582.3 497.3h0M558.3 580.0h0M557.9 560.0h0M580.6 494.9h0M559.3 527.8h0" stroke="#c6c6c6" stroke-width="1.0" stroke-linecap="round"/><polygon points="570.5,520.8 575.7,519.6 579.5,521.3 581.8,526.0 580.4,529.8 576.7,530.5 572.2,528.6 569.9,524.9" fill="#fff" /><path d="M579.9 528.9h0M573.2 528.9h0M580.2 529.8h0M575.4 519.8h0M580.9 528.3h0M580.4 525.4h0M570.2 524.5h0M573.6 519.8h0M577.0 529.6h0M570.3 520.8h0M570.9 525.2h0M570.6 521.7h0M571.6 528.1h0M573.5 520.5h0M571.4 520.8h0M576.9 519.7h0M581.1 524.3h0M570.2 520.1h0M576.0 530.7h0M581.4 527.0h0M581.1 525.9h0M570.8 526.4h0M575.9 530.2h0M580.4 528.1h0M570.7 525.5h0M574.2 520.1h0M570.7 525.1h0M574.5 528.0h0M570.8 522.8h0M579.0 530.7h0M578.6 529.1h0M580.3 522.8h0M576.0 519.3h0M580.1 523.6h0M580.3 529.5h0M572.9 521.0h0M580.1 528.4h0M575.3 529.6h0M573.0 528.2h0M577.4 529.8h0M580.1 521.7h0M571.9 528.2h0M569.6 523.4h0M582.5 525.4h0M581.7 527.6h0M571.2 521.0h0M569.4 523.9h0M577.3 520.1h0M581.2 527.3h0M578.2 519.9h0" stroke="#cacaca" stroke-width="0.9" stroke-linecap="round"/><polygon points="505.8,538.2 509.8,535.2 514.8,536.2 517.8,541.2 516.8,546.2 512.8,548.7 507.8,547.2 505.3,543.2" fill="#e05555" /><path d="M507.0 536.5h0M515.4 536.3h0M506.3 546.4h0M515.5 547.7h0M507.2 546.3h0M516.4 544.7h0M505.3 541.4h0M508.4 537.5h0M505.8 541.7h0M509.3 534.9h0M515.3 536.7h0M510.5 547.5h0M513.0 536.2h0M516.6 546.4h0M507.1 546.0h0M511.5 536.3h0M505.9 537.1h0M513.4 536.5h0M516.5 538.7h0M505.9 544.9h0M516.7 545.7h0M509.2 547.8h0M508.3 546.7h0M514.7 547.9h0M515.9 546.8h0M506.4 547.0h0M508.3 536.5h0M511.4 548.3h0M511.8 534.7h0M505.5 542.9h0M517.2 545.4h0M516.0 538.5h0M513.9 548.2h0M517.1 544.6h0M511.8 535.8h0M517.8 542.6h0M510.8 547.6h0M516.9 540.5h0M516.6 546.0h0M512.5 536.1h0M511.8 548.3h0M505.6 544.7h0M504.9 541.9h0M512.3 535.7h0M517.3 539.1h0M518.4 539.9h0M518.2 542.5h0M513.6 537.0h0M509.3 536.0h0M518.0 541.2h0" stroke="#e05555" stroke-width="1.0" stroke-linecap="round"/><path d="M570.2 527.2h0M559.2 564.7h0M561.2 539.1h0M561.3 525.4h0M585.0 530.7h0M594.4 541.6h0M578.5 535.2h0M582.1 540.3h0M592.1 543.9h0M583.8 542.4h0M574.2 505.2h0M564.8 537.5h0M580.8 543.4h0M569.4 548.3h0M568.1 547.7h0M581.7 550.3h0M572.9 531.3h0M562.0 532.8h0M563.8 564.7h0M580.6 510.6h0M576.1 553.4h0M591.0 538.7h0M580.8 512.7h0M561.4 531.7h0M557.8 569.4h0M568.2 540.9h0M563.8 565.8h0M569.4 555.4h0M571.3 553.3h0M564.3 541.8h0M572.1 541.2h0M566.9 531.9h0M578.5 554.7h0M561.1 574.6h0M574.2 507.8h0M571.7 538.9h0M575.8 501.2h0M568.1 493.9h0M574.3 543.7h0M563.5 552.4h0M584.6 540.8h0M575.9 507.8h0M570.6 550.0h0M579.8 553.0h0M576.3 517.3h0M578.2 517.8h0M558.0 579.2h0M570.6 551.7h0M584.8 537.5h0M579.7 551.5h0M575.9 496.8h0M558.1 550.1h0M573.4 532.0h0M589.4 548.7h0M570.7 542.9h0M579.9 548.5h0M569.1 553.2h0M576.3 509.0h0M571.9 547.8h0M566.9 524.0h0M580.2 541.8h0M581.1 512.1h0M566.2 555.6h0M576.0 511.9h0M575.5 501.1h0M566.1 541.0h0M565.9 564.1h0M566.4 574.9h0M583.5 530.0h0M589.5 544.6h0M558.7 548.1h0M583.6 549.3h0M570.3 535.7h0M563.1 526.0h0M559.7 567.5h0M589.7 545.5h0M587.0 531.7h0M569.9 541.5h0M578.8 511.1h0M561.9 553.1h0M581.0 548.1h0M583.0 538.6h0M588.0 544.7h0M579.0 553.8h0M571.8 497.4h0M561.4 532.9h0M580.9 536.9h0M584.1 543.8h0M573.8 531.0h0M576.9 531.0h0M576.2 541.3h0M563.4 566.5h0M573.1 549.2h0M557.2 574.8h0M564.3 578.4h0M586.3 544.2h0M570.9 531.8h0M579.9 542.0h0M586.2 534.8h0M564.5 562.8h0M562.6 525.7h0M584.7 532.7h0M568.3 575.0h0M588.5 548.0h0M569.8 533.1h0M565.4 556.8h0M585.4 542.7h0M569.2 530.3h0M566.3 535.0h0M575.8 500.2h0M567.0 527.0h0M567.2 556.5h0M566.1 568.5h0M587.5 548.2h0M590.0 538.7h0M555.2 572.8h0M581.5 522.7h0M561.0 524.4h0M569.6 523.1h0M564.8 564.3h0M556.0 566.5h0M587.1 535.0h0M571.9 556.0h0M561.9 527.6h0M567.2 533.0h0M578.2 550.0h0M578.5 548.0h0M584.0 531.9h0M561.4 578.4h0M579.2 514.4h0M590.2 539.9h0M576.2 546.7h0M571.9 539.5h0M575.7 506.8h0M566.9 565.3h0M560.2 576.7h0M592.8 544.6h0M579.7 516.3h0M571.9 495.4h0M584.5 538.1h0M566.3 539.7h0M568.4 530.8h0M556.8 579.3h0M578.4 514.9h0M589.2 534.7h0M561.0 531.7h0M568.4 554.1h0M572.4 539.8h0M576.8 541.5h0M578.0 494.9h0M572.6 495.5h0M582.1 542.3h0M573.4 507.9h0M567.9 545.7h0M561.9 570.8h0M583.5 533.0h0M588.9 543.9h0M579.8 550.6h0M578.9 546.3h0M576.9 495.1h0M573.4 505.1h0M559.2 567.1h0M573.8 530.6h0M562.0 545.4h0M564.1 550.5h0M579.5 502.4h0M586.5 547.5h0M569.3 494.1h0M557.9 547.7h0M565.5 535.3h0M580.7 532.6h0M578.6 544.0h0M590.6 541.9h0M563.0 547.4h0M580.3 537.0h0M558.0 565.1h0M563.7 557.4h0M566.9 493.4h0M568.0 565.9h0M583.0 531.3h0M569.6 555.8h0" stroke="#e04040" stroke-width="1.3" stroke-linecap="round"/><path d="M508.1 541.6h0M507.6 541.5h0M507.4 540.8h0M516.6 545.7h0M513.0 536.3h0M506.5 537.8h0M510.6 535.6h0M508.9 538.3h0M509.0 542.8h0M508.0 538.6h0M506.1 539.0h0M513.4 538.8h0M513.0 538.8h0M515.3 541.5h0M507.5 540.3h0M512.6 542.3h0M506.7 540.2h0M513.5 545.5h0M516.2 539.7h0M509.5 536.9h0M514.9 542.7h0M515.1 543.7h0M514.4 537.3h0M511.3 538.6h0M512.0 535.9h0M507.8 547.0h0M509.3 544.2h0M508.0 541.2h0M505.7 543.5h0M516.8 542.9h0M513.7 545.1h0M516.1 538.8h0M507.8 544.8h0M508.3 545.7h0M514.4 542.8h0M508.8 539.7h0M509.2 538.4h0M510.1 547.7h0M507.9 544.2h0M510.2 536.2h0" stroke="#c8c8c8" stroke-width="1.2" stroke-linecap="round"/><circle cx="508.4" cy="501.3" r="1.90" fill="#c0c0c0" /><text x="513" y="503.7" font-size="6.9" fill="#333"><tspan font-style="italic">PIEZO1</tspan><tspan font-size="4.6" dy="-2.6">−</tspan></text><circle cx="508.4" cy="511.0" r="1.90" fill="#e02020" /><text x="513" y="513.4" font-size="6.9" fill="#333"><tspan font-style="italic">PIEZO1</tspan><tspan font-size="4.6" dy="-2.6">+</tspan></text><line x1="498.0" y1="588.7" x2="498.0" y2="561.8" stroke="#231f20" stroke-width="0.8" /><polygon points="498.0,560.0 496.6,563.0 499.4,563.0" fill="#231f20" /><line x1="497.6" y1="588.7" x2="528.2" y2="588.7" stroke="#231f20" stroke-width="0.8" /><polygon points="530.0,588.7 527.0,587.4 527.0,590.1" fill="#231f20" /><text x="493.5" y="574.0" font-size="7.3" text-anchor="middle" transform="rotate(-90 493.5 574.0)">UMAP_2</text><text x="501.0" y="597.7" font-size="7.3">UMAP_1</text><text x="613.2" y="494.4" font-size="7.3" textLength="70.3" lengthAdjust="spacingAndGlyphs"><tspan font-style="italic">PIEZO1</tspan><tspan font-size="4.6" dy="-2.8">+</tspan><tspan dy="2.8"> cell of ECs</tspan></text><text x="652.0" y="505.0" font-size="7" text-anchor="middle">P = 0.0063</text><path d="M640.7 511V507.3H663.2V511" fill="none" stroke="#231f20" stroke-width="0.7" /><rect x="632.6" y="572.9" width="15.6" height="14.3" fill="#4b74be" /><rect x="655.0" y="539.2" width="15.7" height="48.0" fill="#efb474" /><line x1="626.7" y1="509.0" x2="626.7" y2="587.2" stroke="#231f20" stroke-width="0.8" /><line x1="626.7" y1="587.2" x2="677.5" y2="587.2" stroke="#231f20" stroke-width="0.8" /><line x1="624.2" y1="587.2" x2="626.7" y2="587.2" stroke="#231f20" stroke-width="0.7" /><text x="623.7" y="589.6" font-size="7.0" text-anchor="end" fill="#333">0</text><line x1="624.2" y1="561.3" x2="626.7" y2="561.3" stroke="#231f20" stroke-width="0.7" /><text x="623.7" y="563.7" font-size="7.0" text-anchor="end" fill="#333">200</text><line x1="624.2" y1="535.3" x2="626.7" y2="535.3" stroke="#231f20" stroke-width="0.7" /><text x="623.7" y="537.7" font-size="7.0" text-anchor="end" fill="#333">400</text><line x1="624.2" y1="509.4" x2="626.7" y2="509.4" stroke="#231f20" stroke-width="0.7" /><text x="623.7" y="511.8" font-size="7.0" text-anchor="end" fill="#333">600</text><path d="M637 569.7H644M640.4 569.7V576.2M637 576.2H644" fill="none" stroke="#231f20" stroke-width="0.7" /><path d="M659 530.1H667M662.9 530.1V548.3M659 548.3H667" fill="none" stroke="#231f20" stroke-width="0.7" /><path d="M636.5 566.5h0M643.5 566.5h0M641.0 574.2h0M640.5 580.7h0M636.0 575.5h0" stroke="#231f20" stroke-width="2.3" stroke-linecap="round"/><path d="M663.0 516.5h0M661.0 539.2h0M664.5 547.0h0M662.0 557.4h0" stroke="#231f20" stroke-width="2.3" stroke-linecap="round"/><line x1="640.4" y1="587.2" x2="640.4" y2="589.2" stroke="#231f20" stroke-width="0.7" /><line x1="662.9" y1="587.2" x2="662.9" y2="589.2" stroke="#231f20" stroke-width="0.7" /><text x="641.8" y="595.3" font-size="6.7" text-anchor="middle">Normal</text><text x="662.9" y="595.3" font-size="6.7" text-anchor="middle">IPF</text><text x="608.5" y="550.0" font-size="6.7" text-anchor="middle" transform="rotate(-90 608.5 550.0)">Count</text><text x="1.5" y="616.1" font-size="13" font-weight="bold">J</text><rect x="12.6" y="621.9" width="98.1" height="97.8" fill="#fff" stroke="#ddd" stroke-width="0.6" /><line x1="12.6" y1="621.9" x2="110.7" y2="621.9" stroke="#666" stroke-width="1.2" /><polygon points="77.6,627.0 84.6,625.9 91.6,626.4 93.4,634.1 94.0,642.3 93.4,649.3 94.0,655.1 95.1,661.0 97.5,664.5 101.6,666.8 105.1,672.7 106.3,678.6 104.5,683.2 98.7,685.6 91.6,687.9 85.8,690.3 82.3,695.0 80.5,702.0 79.9,709.0 75.2,713.7 70.5,714.9 65.9,712.5 64.7,706.7 66.4,699.6 69.4,693.8 71.7,690.3 70.5,687.9 66.4,683.2 65.3,681.5 69.4,678.6 71.7,675.0 72.9,670.4 71.7,665.7 70.0,659.8 72.9,656.3 78.7,655.1 81.7,654.0 84.0,652.8 85.2,650.5 84.0,645.8 83.4,637.6 81.1,632.9" fill="#c2c2c2" /><path d="M82.4 694.1h0M86.7 691.1h0M81.5 653.3h0M82.3 635.5h0M81.4 704.7h0M89.3 626.4h0M105.5 680.8h0M80.5 631.1h0M107.1 674.5h0M82.7 652.1h0M90.6 625.7h0M67.4 698.5h0M105.9 681.3h0M71.2 655.7h0M78.8 655.3h0M79.0 628.5h0M71.4 713.8h0M85.7 625.8h0M84.9 651.6h0M72.8 673.9h0M93.3 637.6h0M68.1 678.3h0M78.9 709.4h0M65.6 682.2h0M82.6 626.8h0M92.1 646.2h0M76.6 711.4h0M68.3 680.2h0M79.8 701.5h0M71.6 688.9h0M70.3 713.8h0M64.4 709.8h0M69.3 714.8h0M70.8 688.8h0M92.6 636.9h0M71.7 658.4h0M78.9 626.9h0M77.5 655.1h0M79.7 702.6h0M79.3 626.4h0M95.9 659.9h0M81.1 625.6h0M106.4 677.9h0M97.5 664.8h0M95.9 686.9h0M71.9 690.1h0M71.7 665.6h0M92.0 646.4h0M67.2 679.1h0M72.3 668.7h0M74.2 655.7h0M91.6 687.7h0M72.5 671.6h0M104.7 682.8h0M94.1 649.5h0M94.4 656.5h0M70.2 713.8h0M80.7 655.1h0M68.6 686.0h0M91.4 626.6h0M72.3 655.3h0M81.0 633.3h0M83.7 653.0h0M75.9 712.8h0M71.3 688.6h0M72.5 670.9h0M65.5 682.2h0M94.7 661.4h0M66.4 679.8h0M79.0 629.3h0M95.2 659.5h0M94.0 632.3h0M106.5 677.1h0M104.0 684.2h0M65.6 702.7h0M94.0 636.8h0M73.4 656.2h0M83.9 693.1h0M82.8 694.9h0M87.4 689.7h0M73.0 670.3h0M93.5 635.8h0M81.9 626.1h0M81.4 699.5h0M80.5 630.6h0M104.5 682.2h0M67.2 699.1h0M80.4 708.4h0M69.8 678.6h0M71.7 666.3h0M77.7 711.5h0M68.9 682.4h0M66.8 680.2h0M88.7 688.6h0M83.6 694.3h0M94.6 660.1h0M83.3 637.4h0M68.2 696.3h0M92.4 687.5h0M78.8 710.3h0M90.0 688.1h0M81.0 705.5h0M65.9 699.9h0M69.5 685.0h0M66.1 712.8h0M77.4 710.3h0M89.2 689.2h0M80.1 708.1h0M72.1 689.8h0M87.3 689.7h0M93.7 638.6h0M93.6 640.8h0M92.2 626.3h0M70.7 675.8h0M82.1 653.1h0M83.1 645.2h0M86.2 625.6h0M69.4 693.4h0M69.6 694.2h0M79.0 629.5h0M79.8 627.4h0M66.5 683.1h0M83.9 653.2h0M66.0 684.4h0M94.1 645.8h0M64.8 705.8h0M70.6 658.8h0M85.1 650.8h0M92.3 634.9h0M65.8 711.1h0M72.4 669.8h0M68.1 713.0h0M79.3 709.6h0M84.6 649.6h0M72.3 667.0h0M84.1 647.7h0M96.7 664.4h0M69.6 686.4h0M69.8 714.1h0M66.0 698.5h0M87.6 689.5h0M67.7 678.9h0M79.4 627.2h0M71.2 691.5h0M93.5 687.2h0M98.0 685.2h0M76.6 655.6h0M82.9 635.8h0M72.8 655.9h0M84.6 647.8h0M81.2 625.7h0M72.6 669.0h0M80.5 629.9h0M66.7 712.5h0M81.3 700.8h0M93.6 635.8h0M81.7 653.9h0M80.9 654.5h0M104.6 674.5h0M82.2 699.8h0M80.6 709.4h0M81.6 695.8h0M66.1 700.7h0M83.9 641.6h0M92.7 629.2h0M64.4 707.4h0M95.8 686.0h0M106.2 674.9h0M95.1 658.4h0M80.2 707.6h0M86.6 689.7h0M105.3 681.2h0M80.1 654.7h0M64.6 706.9h0M87.8 626.0h0M82.5 627.3h0M69.1 678.3h0M98.3 666.0h0M82.4 653.9h0M94.2 658.9h0M79.8 701.4h0M65.8 700.2h0M81.6 634.3h0M70.6 665.0h0M66.2 703.3h0M105.0 682.2h0M68.2 686.1h0M93.4 638.8h0M83.9 646.7h0M65.6 702.2h0M68.4 695.3h0M66.6 714.9h0M82.7 653.9h0M105.0 680.3h0M101.8 667.3h0M73.0 656.8h0M73.3 669.6h0M92.7 630.4h0M93.5 647.6h0M67.2 681.6h0M85.3 649.4h0M66.2 684.0h0M72.5 674.8h0M66.7 681.5h0M79.3 705.7h0M100.6 685.7h0M66.8 712.4h0M81.3 703.9h0M105.2 672.2h0M68.2 695.9h0M71.0 714.9h0M97.0 663.2h0M101.8 669.1h0M105.9 675.4h0M65.6 683.5h0M70.3 662.1h0M91.4 686.7h0M66.7 681.1h0M79.3 628.9h0M80.9 654.2h0M81.6 654.5h0M91.9 631.8h0M94.9 656.5h0M105.7 674.2h0M70.4 689.6h0M68.7 679.7h0M79.8 628.5h0M67.8 697.4h0M79.5 656.4h0M79.3 630.0h0M84.2 645.0h0M72.1 690.3h0M66.2 699.9h0M92.9 688.4h0M96.5 664.4h0M71.2 675.8h0M94.5 660.4h0M67.0 697.4h0M80.7 703.5h0M73.7 714.0h0M85.0 648.0h0M85.0 650.3h0M71.6 690.2h0M102.8 670.3h0M71.7 688.5h0M77.7 710.8h0M93.5 644.8h0M85.3 649.6h0M93.0 630.9h0M81.6 625.6h0M67.1 681.5h0M66.4 681.5h0M64.0 706.9h0M93.3 639.4h0M102.3 683.7h0M66.5 682.5h0M65.8 681.5h0M71.5 657.9h0M72.1 675.0h0M97.2 664.3h0M71.9 690.8h0M80.2 706.5h0M78.1 711.3h0M80.8 626.1h0M80.3 707.7h0M71.2 674.3h0M103.3 668.4h0M83.0 636.9h0M78.8 626.0h0M71.8 657.8h0M84.0 625.3h0M74.8 714.8h0M68.5 679.7h0M90.7 688.2h0M97.1 662.1h0M97.5 664.5h0M100.3 666.4h0M77.8 710.8h0M72.9 669.8h0M83.3 652.6h0M100.1 665.0h0M87.5 690.4h0M94.3 657.9h0M85.2 649.6h0M70.3 677.1h0M70.9 664.0h0M71.9 657.4h0M65.5 682.0h0M84.6 647.9h0M70.8 664.8h0M76.6 712.0h0M66.3 699.8h0M66.6 678.7h0M93.8 640.4h0M72.6 655.7h0M72.2 672.9h0M69.7 679.3h0M72.2 668.7h0M105.8 674.8h0M81.1 653.2h0" stroke="#c6c6c6" stroke-width="1.0" stroke-linecap="round"/><polygon points="81.7,654.6 86.9,653.4 90.7,655.1 93.0,659.8 91.6,663.6 87.9,664.3 83.4,662.4 81.1,658.7" fill="#fff" /><path d="M86.5 664.0h0M81.4 656.0h0M88.8 655.2h0M88.5 664.0h0M92.2 662.6h0M82.1 659.0h0M91.6 657.3h0M91.5 656.7h0M91.3 663.5h0M93.0 659.6h0M91.0 663.6h0M92.0 663.4h0M82.1 660.3h0M89.0 664.5h0M84.5 653.7h0M86.3 654.2h0M81.7 656.2h0M90.6 662.9h0M84.2 663.1h0M81.8 660.1h0M92.5 662.8h0M92.2 658.7h0M92.8 663.9h0M91.4 656.4h0M91.7 658.5h0M85.8 663.2h0M89.1 664.1h0M83.5 662.1h0M89.1 655.2h0M91.9 663.9h0M90.8 654.3h0M86.6 663.8h0M92.7 659.5h0M88.7 654.7h0M92.2 660.1h0M92.3 662.8h0M88.0 664.1h0M91.4 664.5h0M84.7 662.5h0M83.3 662.7h0M87.3 653.3h0M91.5 664.4h0M89.7 654.8h0M82.9 654.1h0M91.1 662.7h0M91.8 661.5h0M80.8 656.8h0M93.2 659.6h0M87.6 664.1h0M90.3 655.2h0" stroke="#cacaca" stroke-width="0.9" stroke-linecap="round"/><polygon points="17.0,672.0 21.0,669.0 26.0,670.0 29.0,675.0 28.0,680.0 24.0,682.5 19.0,681.0 16.5,677.0" fill="#2f78b8" /><path d="M24.5 682.2h0M25.9 670.7h0M18.0 678.9h0M17.6 678.6h0M27.7 673.9h0M16.5 677.8h0M27.7 677.5h0M28.9 676.2h0M17.3 677.9h0M19.7 669.7h0M24.0 682.8h0M27.3 679.4h0M25.0 681.4h0M16.2 677.9h0M18.6 680.2h0M16.6 672.6h0M18.8 672.1h0M27.1 680.6h0M18.2 681.5h0M28.5 675.8h0M19.6 668.9h0M18.6 679.2h0M24.6 681.6h0M17.2 672.5h0M25.3 669.6h0M19.6 669.3h0M16.7 676.4h0M17.4 672.6h0M18.7 679.6h0M26.1 670.1h0M27.8 680.9h0M24.6 670.1h0M17.3 671.9h0M16.0 675.8h0M18.1 679.1h0M29.4 675.2h0M19.1 671.1h0M26.0 670.3h0M16.7 672.5h0M27.9 678.4h0M27.5 680.0h0M22.4 682.3h0M27.8 680.5h0M19.1 681.3h0M19.3 679.8h0M27.2 673.8h0M20.3 669.3h0M19.8 670.0h0M27.8 680.1h0M28.5 679.3h0" stroke="#2f78b8" stroke-width="1.0" stroke-linecap="round"/><path d="M105.3 673.9h0M81.9 629.0h0M93.3 634.7h0M73.9 662.7h0M85.1 679.8h0M78.6 685.1h0M88.0 669.6h0M99.4 676.4h0M96.9 679.3h0M78.5 696.5h0M71.5 696.6h0M87.0 667.4h0M89.4 687.2h0M94.9 682.8h0M94.9 660.3h0M78.4 655.2h0M68.4 701.9h0M88.1 639.0h0M85.5 638.5h0M74.9 660.9h0M85.6 648.0h0M92.8 686.8h0M75.2 689.4h0M79.5 628.4h0M84.7 676.4h0M73.5 687.7h0M82.6 635.3h0M71.1 711.3h0M96.2 677.4h0M95.3 671.7h0M86.6 630.4h0M91.1 686.4h0M85.2 681.7h0M74.3 713.6h0M80.8 689.7h0M87.3 639.2h0M84.3 668.3h0M100.7 672.1h0M105.0 676.4h0M72.4 665.1h0M81.0 661.4h0M99.7 678.1h0M88.0 683.8h0M84.8 688.8h0M85.9 683.0h0M90.9 629.9h0M73.0 699.6h0M83.6 679.5h0M94.3 678.6h0M89.6 677.3h0M66.1 703.8h0M65.9 709.4h0M72.5 702.5h0M85.9 671.8h0M81.6 695.9h0M103.2 672.3h0" stroke="#8a8a9a" stroke-width="0.9" stroke-linecap="round"/><path d="M19.4 671.3h0M18.8 671.3h0M26.2 679.2h0M24.3 673.9h0M25.9 675.2h0M21.8 673.0h0M25.3 679.4h0M22.6 674.4h0M21.2 678.4h0M26.2 673.5h0M24.1 680.2h0M24.0 675.1h0M23.7 678.4h0M26.2 672.1h0M20.1 675.8h0M21.4 674.0h0M22.3 681.5h0M23.2 676.4h0M19.1 676.9h0M19.7 680.0h0M24.5 670.5h0M23.6 674.3h0M18.7 671.8h0M26.2 676.9h0M19.4 675.6h0M25.6 680.6h0M21.5 679.1h0M22.6 677.5h0M20.3 676.3h0M24.1 681.3h0M20.9 669.9h0M26.8 677.2h0M24.0 676.6h0M27.1 676.0h0M19.4 679.6h0M21.9 671.6h0M28.0 674.8h0M27.3 680.0h0M20.0 674.2h0M18.1 671.7h0M21.5 676.6h0M26.7 677.0h0M20.4 671.6h0M21.9 676.4h0M25.0 680.3h0M26.0 670.8h0M19.2 672.9h0M25.9 677.5h0M24.1 673.5h0M25.1 677.5h0" stroke="#1f5f9f" stroke-width="1.1" stroke-linecap="round"/><circle cx="18.9" cy="635.9" r="1.90" fill="#c0c0c0" /><text x="22.8" y="638.3" font-size="6.9" fill="#333"><tspan font-style="italic">PIEZO2</tspan><tspan font-size="4.6" dy="-2.6">−</tspan></text><circle cx="18.9" cy="645.9" r="1.90" fill="#1f6fb4" /><text x="22.8" y="648.3" font-size="6.9" fill="#333"><tspan font-style="italic">PIEZO2</tspan><tspan font-size="4.6" dy="-2.6">+</tspan></text><line x1="11.5" y1="722.0" x2="11.5" y2="694.3" stroke="#231f20" stroke-width="0.8" /><polygon points="11.5,692.5 10.2,695.5 12.8,695.5" fill="#231f20" /><line x1="11.1" y1="722.0" x2="38.2" y2="722.0" stroke="#231f20" stroke-width="0.8" /><polygon points="40.0,722.0 37.0,720.6 37.0,723.4" fill="#231f20" /><text x="6.5" y="707.5" font-size="7.3" text-anchor="middle" transform="rotate(-90 6.5 707.5)">UMAP_2</text><text x="10.0" y="731.0" font-size="7.3">UMAP_1</text><text x="131.9" y="623.6" font-size="7.3" textLength="71" lengthAdjust="spacingAndGlyphs"><tspan font-style="italic">PIEZO2</tspan><tspan font-size="4.6" dy="-2.8">+</tspan><tspan dy="2.8"> cell of ECs</tspan></text><text x="170.8" y="640.6" font-size="6.7" text-anchor="middle">P = 0.5963</text><path d="M157.3 647V642.4H181.5V647" fill="none" stroke="#231f20" stroke-width="0.7" /><rect x="149.4" y="698.5" width="16.3" height="21.0" fill="#5b80c0" /><rect x="173.4" y="690.1" width="16.3" height="29.4" fill="#eaa96a" /><line x1="141.5" y1="634.5" x2="141.5" y2="719.5" stroke="#231f20" stroke-width="0.8" /><line x1="141.5" y1="719.5" x2="197.6" y2="719.5" stroke="#231f20" stroke-width="0.8" /><line x1="139.0" y1="719.5" x2="141.5" y2="719.5" stroke="#231f20" stroke-width="0.7" /><text x="138.0" y="721.8" font-size="6.6" text-anchor="end" fill="#333">0</text><line x1="139.0" y1="691.5" x2="141.5" y2="691.5" stroke="#231f20" stroke-width="0.7" /><text x="138.0" y="693.8" font-size="6.6" text-anchor="end" fill="#333">100</text><line x1="139.0" y1="663.4" x2="141.5" y2="663.4" stroke="#231f20" stroke-width="0.7" /><text x="138.0" y="665.7" font-size="6.6" text-anchor="end" fill="#333">200</text><line x1="139.0" y1="635.4" x2="141.5" y2="635.4" stroke="#231f20" stroke-width="0.7" /><text x="138.0" y="637.7" font-size="6.6" text-anchor="end" fill="#333">300</text><path d="M154 686.2H161M157.5 686.2V709.5M154 709.5H161" fill="none" stroke="#231f20" stroke-width="0.7" /><path d="M178 682.3H185M181.5 682.3V697.2M178 697.2H185" fill="none" stroke="#231f20" stroke-width="0.7" /><path d="M157.5 652.2h0M157.5 704.2h0M157.5 706.9h0M157.5 717.0h0M156.5 700.0h0" stroke="#231f20" stroke-width="2.4" stroke-linecap="round"/><path d="M181.5 672.7h0M181.5 683.7h0M181.5 694.3h0M181.5 708.3h0" stroke="#231f20" stroke-width="2.4" stroke-linecap="round"/><line x1="157.5" y1="719.5" x2="157.5" y2="721.5" stroke="#231f20" stroke-width="0.7" /><line x1="181.5" y1="719.5" x2="181.5" y2="721.5" stroke="#231f20" stroke-width="0.7" /><text x="156.9" y="730.0" font-size="6.2" text-anchor="middle">Normal</text><text x="181.4" y="730.0" font-size="6.7" text-anchor="middle">IPF</text><text x="122.0" y="678.2" font-size="6.7" text-anchor="middle" transform="rotate(-90 122.0 678.2)">Count</text><text x="224.2" y="616.0" font-size="13" font-weight="bold">K</text><rect x="247.4" y="618.1" width="132.8" height="14.3" fill="#2b1e1b" /><text x="300.7" y="628.6" font-size="11" text-anchor="middle" fill="#f4f4f4">Normal</text><rect x="383.0" y="618.1" width="134.2" height="14.3" fill="#2b1e1b" /><text x="439.5" y="628.6" font-size="11" text-anchor="middle" fill="#f4f4f4">IPF</text><rect x="229.0" y="635.3" width="13.5" height="99.5" fill="#000" /><text transform="translate(239.8 733.5) rotate(-90)" font-size="10.8"><tspan fill="#30d030">PIEZO1</tspan><tspan fill="#e02020">/CD31/</tspan><tspan fill="#3040f0">DAPI</tspan></text><svg x="248.0" y="635.3" width="98.8" height="99.5" viewBox="0 0 98.8 99.5"><rect x="0.0" y="0.0" width="98.8" height="99.5" fill="#000" /><g filter="url(#soft)"><path d="M2.5 9.9C3.2 9.3 5.0 7.3 7.0 6.2C8.9 5.0 11.7 3.6 14.4 3.2C17.1 2.8 20.6 3.6 23.3 3.9C26.1 4.3 28.5 4.5 30.8 5.4C33.0 6.3 34.7 8.0 36.7 9.1C38.7 10.3 40.7 11.1 42.7 12.1C44.7 13.1 46.8 13.6 48.6 15.1C50.5 16.6 52.6 19.1 53.9 21.0C55.1 23.0 55.8 24.8 56.1 27.0C56.3 29.2 55.5 33.2 55.3 34.4M55.3 36.7C54.7 37.7 53.2 41.1 51.6 42.6C50.0 44.1 47.4 44.7 45.7 45.6C43.9 46.5 42.6 46.9 41.2 47.8C39.8 48.8 38.3 50.1 37.5 51.6C36.6 53.1 36.2 55.9 36.0 56.8M2.5 9.9C3.0 10.5 4.5 12.0 5.5 13.6C6.5 15.2 7.4 17.6 8.4 19.6C9.4 21.5 10.7 23.3 11.4 25.5C12.2 27.7 13.2 31.0 12.9 33.0C12.7 34.9 11.4 36.4 9.9 37.4C8.4 38.4 5.6 38.5 4.0 38.9C2.4 39.3 0.9 39.5 0.3 39.7M1.0 43.4C2.0 43.1 5.0 42.1 7.0 41.9C8.9 41.6 10.7 41.6 12.9 41.9C15.1 42.1 18.1 42.9 20.4 43.4C22.6 43.9 24.6 43.9 26.3 44.9C28.0 45.9 29.5 47.8 30.8 49.3C32.0 50.8 33.3 53.1 33.8 53.8M2.5 47.8C3.2 48.6 5.7 50.8 7.0 52.3C8.2 53.8 8.4 55.5 9.9 56.8C11.4 58.0 13.9 58.5 15.9 59.8C17.9 61.0 19.9 63.0 21.8 64.2C23.8 65.5 25.8 66.5 27.8 67.2C29.8 68.0 32.0 68.7 33.8 68.7C35.5 68.7 37.5 67.5 38.2 67.2M0.3 68.7C1.1 68.9 3.6 69.4 5.5 70.2C7.3 70.9 9.4 72.4 11.4 73.2C13.4 73.9 15.4 74.4 17.4 74.7C19.4 74.9 21.6 74.9 23.3 74.7C25.1 74.4 27.1 73.4 27.8 73.2M1.0 92.5C1.5 91.8 2.7 89.5 4.0 88.1C5.2 86.6 7.2 84.6 8.4 83.6C9.7 82.6 10.9 82.3 11.4 82.1M54.6 1.7C54.8 2.7 55.6 5.7 56.1 7.6C56.6 9.6 57.1 11.4 57.6 13.6C58.1 15.8 58.6 18.6 59.1 21.0C59.6 23.5 59.8 26.3 60.6 28.5C61.3 30.7 62.3 32.7 63.5 34.4C64.8 36.2 66.5 37.7 68.0 38.9C69.5 40.2 71.5 40.7 72.5 41.9C73.5 43.1 73.5 44.6 74.0 46.4C74.5 48.1 75.2 51.3 75.4 52.3M68.0 7.6C68.7 8.4 71.0 10.6 72.5 12.1C74.0 13.6 75.4 15.1 76.9 16.6C78.4 18.1 80.4 19.1 81.4 21.0C82.4 23.0 82.4 26.3 82.9 28.5C83.4 30.7 83.6 32.7 84.4 34.4C85.1 36.2 86.4 37.7 87.4 38.9C88.4 40.2 89.3 40.4 90.3 41.9C91.3 43.4 92.3 46.1 93.3 47.8C94.3 49.6 95.8 51.6 96.3 52.3M87.4 1.7C88.1 2.4 90.3 4.7 91.8 6.2C93.3 7.6 95.1 8.9 96.3 10.6C97.5 12.4 98.8 15.6 99.3 16.6M72.5 1.7C73.0 2.2 74.5 3.2 75.4 4.7C76.4 6.2 77.9 9.6 78.4 10.6M90.3 28.5C90.8 29.5 92.6 32.5 93.3 34.4C94.1 36.4 94.6 39.4 94.8 40.4M81.4 91.0C81.9 91.8 83.6 94.0 84.4 95.5C85.1 97.0 85.6 99.2 85.9 100.0M62.0 1.7C62.5 2.7 64.0 5.7 65.0 7.6C66.0 9.6 67.3 11.6 68.0 13.6C68.7 15.6 69.2 18.6 69.5 19.6M60.6 16.6C61.3 17.6 63.3 20.6 65.0 22.5C66.8 24.5 68.7 26.8 71.0 28.5C73.2 30.2 77.2 32.2 78.4 33.0M78.4 35.9C78.9 37.2 79.9 41.1 81.4 43.4C82.9 45.6 85.4 47.4 87.4 49.3C89.3 51.3 91.6 53.8 93.3 55.3C95.1 56.8 97.0 57.8 97.8 58.3M63.5 43.4C64.3 44.1 66.5 46.4 68.0 47.8C69.5 49.3 71.7 51.6 72.5 52.3M79.9 1.7C80.2 2.7 80.2 5.9 81.4 7.6C82.6 9.4 85.4 10.6 87.4 12.1C89.3 13.6 91.6 14.3 93.3 16.6C95.1 18.8 97.0 24.0 97.8 25.5M14.4 16.6C15.1 17.8 17.4 22.0 18.9 24.0C20.4 26.0 21.8 27.0 23.3 28.5C24.8 30.0 26.3 31.5 27.8 33.0C29.3 34.4 31.5 36.7 32.3 37.4M12.9 13.6C13.7 14.6 16.1 17.6 17.4 19.6C18.6 21.5 19.4 23.5 20.4 25.5C21.3 27.5 22.1 29.7 23.3 31.5C24.6 33.2 26.3 34.9 27.8 35.9C29.3 36.9 31.5 37.2 32.3 37.4M7.0 18.1C6.5 18.8 5.0 20.8 4.0 22.5C3.0 24.3 1.5 27.5 1.0 28.5M20.4 10.6C21.6 11.4 25.3 13.9 27.8 15.1C30.3 16.3 32.8 17.1 35.2 18.1C37.7 19.1 40.5 20.1 42.7 21.0C44.9 22.0 47.7 23.5 48.6 24.0M42.7 28.5C43.4 29.2 45.9 31.7 47.2 33.0C48.4 34.2 49.6 35.4 50.1 35.9M12.9 47.8C13.9 48.3 16.9 49.8 18.9 50.8C20.9 51.8 22.8 53.1 24.8 53.8C26.8 54.6 29.8 55.0 30.8 55.3M1.0 58.3C2.0 58.8 5.0 60.3 7.0 61.3C8.9 62.2 11.9 63.7 12.9 64.2M15.9 82.1C16.6 81.6 18.6 79.9 20.4 79.1C22.1 78.4 24.3 78.1 26.3 77.6C28.3 77.1 31.3 76.4 32.3 76.1M39.7 68.7C40.2 69.4 42.4 71.4 42.7 73.2C42.9 74.9 41.4 78.1 41.2 79.1" stroke="#e01a1a" stroke-width="1.8" fill="none" stroke-linecap="round" stroke-linejoin="round"/><path d="M88.6 19.3L91.4 21.1M60.7 29.9L59.8 31.4M80.0 11.9L82.2 14.7M68.0 12.7L67.0 15.0M82.9 26.4L85.7 26.2M66.4 45.9L65.4 43.1M86.7 13.0L86.1 15.0M70.7 30.6L68.9 30.1M74.1 9.7L71.7 10.7M90.9 25.1L89.0 23.2M78.9 26.5L75.6 26.1M76.1 11.7L77.1 10.0M59.0 21.3L61.4 24.2M84.0 34.4L81.9 31.6M74.0 47.5L71.8 47.7M79.6 7.3L77.7 10.8M61.7 33.2L58.3 33.8M60.1 40.0L58.5 41.8M75.5 29.4L75.5 26.9M79.9 27.3L79.9 24.7M76.2 40.5L79.9 39.5M84.4 35.3L86.3 37.1M67.8 14.4L66.1 15.5M83.5 23.9L85.5 23.0M90.3 18.9L92.1 19.0M63.9 23.2L65.8 24.6M85.9 42.6L88.5 42.2M87.2 32.1L87.3 30.0M55.7 30.5L56.1 33.1M70.3 21.3L70.2 18.6M75.3 48.7L74.6 45.8M66.1 12.7L64.0 11.5M67.2 27.2L64.9 28.3M64.0 11.5L62.6 11.0M88.2 29.9L87.8 27.3M74.3 51.2L73.0 50.2M82.5 11.6L81.5 14.1M73.9 35.3L71.6 36.7M76.7 39.5L77.4 42.2M84.2 30.0L85.4 28.1M76.1 7.4L73.9 7.6M67.3 23.0L69.1 24.1M78.1 14.3L79.6 15.4M80.6 26.1L77.1 25.6M56.3 35.3L55.7 32.0M79.8 24.9L81.4 25.6M84.5 11.6L84.0 14.6M88.9 46.9L91.7 47.0M94.2 25.0L95.2 26.8M70.0 44.6L72.3 46.9" stroke="#e01a1a" stroke-width="1.4400000000000002" stroke-linecap="round" fill="none"/><path d="M30.9 4.5h0M36.1 9.3h0M23.5 3.6h0M13.9 2.8h0M34.7 7.8h0M36.8 53.6h0M56.1 36.7h0M11.6 35.3h0M6.2 38.3h0M11.5 28.9h0M11.0 41.6h0M26.4 44.3h0M16.8 43.2h0M34.4 69.1h0M25.4 66.7h0M34.1 68.2h0M13.9 73.6h0M23.5 74.8h0M1.1 92.0h0M55.3 5.7h0M61.0 29.1h0M55.5 2.4h0M57.5 13.7h0M95.9 51.8h0M92.8 48.2h0M83.0 29.1h0M83.2 28.3h0M93.2 7.2h0M94.2 35.2h0M66.4 11.6h0M66.9 24.2h0M83.6 46.3h0M80.0 39.1h0M66.3 45.7h0M89.2 13.7h0M84.8 10.6h0M25.4 29.9h0M17.7 21.5h0M24.6 32.4h0M21.5 28.6h0M28.1 14.6h0M32.2 17.2h0M12.9 48.6h0M12.9 64.0h0M20.6 79.0h0M67.5 52.3h0M75.0 22.4h0M81.5 20.6h0M79.9 28.8h0M69.0 32.9h0M83.8 36.3h0M63.9 27.7h0M84.2 16.6h0" stroke="#e8b020" stroke-width="1.4400000000000002" stroke-linecap="round"/><path d="M6.2 6.8h0M21.1 2.8h0M33.9 6.7h0M55.0 24.6h0M39.3 10.9h0M16.0 3.0h0M22.3 4.3h0M13.7 2.6h0M4.0 8.4h0M44.4 13.7h0M51.8 17.6h0M22.5 4.2h0M38.9 9.0h0M13.4 3.8h0M30.8 5.4h0M37.3 55.7h0M45.5 45.9h0M43.8 46.3h0M48.7 43.6h0M36.8 55.1h0M37.9 52.0h0M1.4 39.8h0M12.3 35.2h0M6.5 15.9h0M8.6 18.0h0M12.4 31.5h0M3.2 39.6h0M11.6 28.7h0M10.7 24.0h0M12.2 34.4h0M31.3 49.7h0M5.3 43.2h0M25.2 44.6h0M4.4 42.5h0M12.3 42.0h0M21.4 43.5h0M11.8 42.3h0M16.4 42.5h0M3.8 49.2h0M4.2 49.9h0M17.0 61.3h0M6.1 52.0h0M8.5 56.0h0M4.7 51.7h0M34.6 68.4h0M24.7 65.1h0M8.9 55.2h0M16.9 75.4h0M18.9 75.2h0M18.7 74.6h0M26.4 73.3h0M4.2 70.6h0M15.0 74.9h0M5.8 85.7h0M6.4 86.8h0M9.4 82.7h0M58.7 18.4h0M63.6 32.4h0M56.4 10.7h0M74.8 51.7h0M73.8 44.1h0M58.3 17.9h0M67.2 36.5h0M72.0 42.9h0M73.6 43.9h0M72.1 44.3h0M58.4 15.3h0M75.1 52.6h0M85.7 35.4h0M69.0 8.9h0M82.1 22.6h0M82.1 23.9h0M76.8 17.2h0M71.7 11.3h0M92.9 44.9h0M78.0 17.5h0M68.9 8.6h0M76.5 16.2h0M94.6 49.0h0M95.8 11.3h0M89.8 4.3h0M97.8 13.6h0M99.6 14.3h0M77.5 8.9h0M74.1 3.6h0M92.5 36.8h0M93.7 37.6h0M82.6 92.8h0M85.5 95.9h0M65.5 10.1h0M65.5 8.8h0M70.7 18.3h0M66.3 9.8h0M75.0 30.1h0M72.7 29.4h0M65.7 25.2h0M73.3 29.8h0M73.9 30.9h0M88.6 50.2h0M81.1 41.7h0M87.0 48.5h0M79.1 37.8h0M78.4 36.7h0M83.7 45.3h0M63.4 42.4h0M68.2 47.2h0M94.2 17.2h0M98.3 25.0h0M85.5 11.3h0M89.4 13.2h0M89.9 14.1h0M79.5 1.3h0M18.4 23.3h0M25.0 30.0h0M18.5 23.3h0M17.7 23.7h0M28.5 33.5h0M19.8 24.0h0M26.9 36.7h0M17.2 18.9h0M14.1 14.7h0M20.9 24.6h0M13.0 14.4h0M17.5 20.3h0M3.4 23.3h0M2.0 26.8h0M27.2 14.6h0M34.9 18.2h0M41.1 19.0h0M35.3 17.7h0M48.0 24.3h0M35.2 18.0h0M48.8 34.6h0M44.5 30.7h0M13.7 48.0h0M25.3 54.5h0M19.6 51.1h0M19.1 51.1h0M1.9 57.6h0M2.5 59.2h0M17.8 80.5h0M17.8 82.7h0M15.4 81.4h0M43.2 74.3h0M40.7 70.6h0M92.7 27.2h0M70.9 43.9h0M76.7 38.1h0M63.9 36.5h0M77.0 51.2h0M74.6 6.5h0M70.1 12.2h0M72.8 51.1h0M59.3 25.7h0M84.7 20.9h0M65.3 23.4h0M64.2 45.8h0M73.1 49.1h0M81.6 20.5h0M81.7 11.7h0M86.3 17.7h0M92.3 29.2h0M90.5 16.3h0M82.6 35.3h0M91.0 24.4h0M82.4 23.2h0M76.4 22.7h0M78.9 26.8h0M73.5 25.0h0M77.9 10.9h0M78.5 32.5h0M59.6 35.5h0M59.3 42.7h0M77.4 15.6h0M68.7 11.8h0" stroke="#3020c0" stroke-width="1.8" stroke-linecap="round"/><path d="M37.8 9.4h0M54.5 25.3h0M11.8 26.9h0M14.1 42.7h0M5.2 50.9h0M59.9 29.0h0M83.1 24.5h0M69.7 33.5h0M85.6 41.6h0M71.6 32.3h0" stroke="#40e040" stroke-width="1.0" stroke-linecap="round"/></g></svg><svg x="384.3" y="635.3" width="98.5" height="99.5" viewBox="0 0 98.5 99.5"><rect x="0.0" y="0.0" width="98.5" height="99.5" fill="#000" /><g filter="url(#soft)"><path d="M64.7 35.9C65.9 36.2 69.4 36.9 72.1 37.4C74.9 37.9 78.4 38.4 81.1 38.9C83.8 39.4 86.8 39.2 88.5 40.4C90.3 41.6 90.8 43.9 91.5 46.3C92.3 48.8 93.2 52.8 93.0 55.3C92.7 57.8 91.5 59.5 90.0 61.2C88.5 63.0 85.5 64.2 84.1 65.7C82.6 67.2 82.3 68.4 81.1 70.2C79.8 71.9 78.1 74.1 76.6 76.1C75.1 78.1 73.6 80.3 72.1 82.1C70.7 83.8 69.4 85.3 67.7 86.5C65.9 87.8 63.5 89.3 61.7 89.5C60.0 89.8 58.7 89.3 57.3 88.0C55.8 86.8 54.0 84.1 52.8 82.1C51.6 80.1 50.6 78.1 49.8 76.1C49.1 74.1 49.6 71.9 48.3 70.2C47.1 68.4 44.4 66.7 42.4 65.7C40.4 64.7 38.4 64.2 36.4 64.2C34.4 64.2 32.4 65.0 30.5 65.7C28.5 66.4 25.5 68.2 24.5 68.7M46.8 68.7C47.6 68.4 50.1 68.2 51.3 67.2C52.5 66.2 53.3 64.5 54.3 62.7C55.3 61.0 56.3 58.5 57.3 56.8C58.3 55.0 59.2 53.8 60.2 52.3C61.2 50.8 62.0 49.3 63.2 47.8C64.5 46.3 66.2 44.6 67.7 43.4C69.2 42.1 71.4 40.9 72.1 40.4M54.3 10.6C55.3 10.9 58.3 12.3 60.2 12.1C62.2 11.9 64.5 9.9 66.2 9.1C67.9 8.4 69.2 8.1 70.7 7.6C72.1 7.1 74.4 6.4 75.1 6.1M42.4 22.5C43.4 22.3 46.3 21.5 48.3 21.0C50.3 20.5 52.3 20.0 54.3 19.5C56.3 19.0 58.3 18.8 60.2 18.1C62.2 17.3 64.5 16.1 66.2 15.1C67.9 14.1 69.9 12.6 70.7 12.1M78.1 27.0C78.8 26.0 81.1 23.0 82.6 21.0C84.1 19.0 85.5 17.1 87.0 15.1C88.5 13.1 90.3 10.6 91.5 9.1C92.7 7.6 94.0 6.6 94.5 6.1M80.3 28.5C81.1 27.5 83.3 24.5 84.8 22.5C86.3 20.5 87.8 18.6 89.3 16.6C90.8 14.6 93.0 11.6 93.7 10.6M49.8 13.6C51.1 13.1 54.8 11.6 57.3 10.6C59.7 9.6 62.7 8.6 64.7 7.6C66.7 6.6 68.4 5.2 69.2 4.7M54.3 22.5C55.3 22.3 58.0 21.8 60.2 21.0C62.5 20.3 65.7 19.3 67.7 18.1C69.7 16.8 71.4 14.3 72.1 13.6M60.2 31.5C61.2 31.0 64.2 28.7 66.2 28.5C68.2 28.2 70.2 29.2 72.1 30.0C74.1 30.7 77.1 32.5 78.1 32.9M81.1 22.5C81.6 23.5 83.1 26.5 84.1 28.5C85.1 30.5 86.0 32.9 87.0 34.4C88.0 35.9 89.5 36.9 90.0 37.4M93.0 13.6C93.5 14.8 95.2 18.6 96.0 21.0C96.7 23.5 97.2 27.2 97.5 28.5M64.7 43.4C65.4 44.6 68.7 48.3 69.2 50.8C69.7 53.3 67.9 57.0 67.7 58.3M75.1 28.5C75.9 29.0 77.9 30.5 79.6 31.5C81.3 32.5 83.6 34.2 85.5 34.4C87.5 34.7 89.8 33.4 91.5 32.9C93.2 32.5 95.2 31.7 96.0 31.5M2.2 82.1C2.9 83.1 4.9 86.1 6.6 88.0C8.4 90.0 10.4 92.8 12.6 94.0C14.8 95.2 17.6 95.5 20.0 95.5C22.5 95.5 25.0 94.2 27.5 94.0C30.0 93.7 32.9 93.7 34.9 94.0C36.9 94.2 38.6 95.2 39.4 95.5M2.2 68.7C2.4 69.9 3.7 73.4 3.7 76.1C3.7 78.9 2.7 82.1 2.2 85.1C1.7 88.0 0.9 92.5 0.7 94.0M24.5 7.6C25.0 8.6 26.5 11.4 27.5 13.6C28.5 15.8 29.5 18.6 30.5 21.0C31.5 23.5 32.4 26.2 33.4 28.5C34.4 30.7 35.4 32.5 36.4 34.4C37.4 36.4 38.4 38.9 39.4 40.4C40.4 41.9 41.9 42.9 42.4 43.4M12.6 3.2C13.1 4.4 14.3 8.4 15.6 10.6C16.8 12.8 19.3 15.6 20.0 16.6M6.6 28.5C7.6 29.0 10.6 30.5 12.6 31.5C14.6 32.5 17.1 32.9 18.5 34.4C20.0 35.9 20.5 38.4 21.5 40.4C22.5 42.4 23.5 44.4 24.5 46.3C25.5 48.3 26.5 50.3 27.5 52.3C28.5 54.3 30.0 57.3 30.5 58.3M90.0 73.1C90.5 73.9 92.0 76.1 93.0 77.6C94.0 79.1 95.5 81.3 96.0 82.1M3.7 13.6C4.2 14.8 6.4 18.6 6.6 21.0C6.9 23.5 5.9 26.0 5.1 28.5C4.4 31.0 2.7 34.7 2.2 35.9M34.9 7.6C35.7 8.6 38.2 11.6 39.4 13.6C40.6 15.6 41.9 18.6 42.4 19.5M15.6 58.3C16.3 58.8 18.0 60.5 20.0 61.2C22.0 62.0 26.2 62.5 27.5 62.7" stroke="#d82818" stroke-width="1.7" fill="none" stroke-linecap="round" stroke-linejoin="round"/><path d="M34.3 61.4L32.2 63.4M44.0 48.0L43.5 51.4M5.9 19.9L5.0 17.9M20.9 15.5L22.4 14.0M40.5 20.8L38.1 19.8M27.4 29.5L25.0 27.8M39.5 19.4L42.2 19.2M38.4 47.7L39.9 47.1M42.8 25.2L41.7 29.0M2.2 27.9L-1.3 28.9M45.2 39.4L43.5 36.3M23.0 20.7L23.9 23.9M27.2 56.3L27.4 58.0M34.9 43.2L33.9 41.5M36.4 46.4L34.5 43.8M2.6 31.3L1.2 33.7M33.3 12.4L30.7 11.5M12.4 23.8L9.6 25.8M25.7 63.2L27.3 60.5M16.2 55.8L18.8 53.5M33.0 48.4L33.5 46.1M7.9 31.8L10.0 33.0M28.7 30.3L27.5 31.4M18.6 17.2L16.2 15.2M26.2 54.1L24.0 54.6M20.0 22.3L18.6 23.5M26.1 51.5L27.0 49.7M6.2 46.6L6.1 43.1M9.8 35.7L7.3 34.2M18.5 8.1L19.3 10.7M29.1 14.1L30.0 16.7M39.3 28.7L36.8 28.5M27.4 16.3L25.6 14.9M14.5 38.7L15.9 41.5M21.3 25.3L21.6 26.9M24.9 37.4L27.3 40.0M28.4 39.2L30.8 37.2M26.5 17.2L27.3 20.9M43.1 56.5L42.7 58.5M11.0 40.5L12.6 43.2M15.4 53.3L17.9 50.8M10.1 49.6L8.3 47.5M25.0 65.4L25.6 61.5M40.3 47.3L43.6 46.6M20.5 7.4L23.1 7.7M45.6 45.4L48.4 44.4M23.5 51.3L26.8 49.5M18.1 53.8L15.8 55.9M7.6 29.3L6.3 28.4M29.6 21.5L30.9 20.1M8.6 20.9L5.1 20.5M26.9 14.2L23.3 13.5M21.2 51.4L20.3 52.7M44.6 21.3L43.0 20.6M39.5 53.1L39.9 56.2M35.8 51.6L37.1 48.2M25.8 68.0L28.8 67.6M27.8 33.7L27.9 37.1M23.6 52.0L23.0 53.8M30.2 55.9L33.6 54.8M20.4 63.6L18.2 64.5M13.1 46.8L10.9 47.4M20.4 65.4L23.3 63.4M16.4 47.9L17.1 46.1M8.4 15.6L10.3 16.6M16.1 14.9L14.5 11.9M21.2 14.0L22.6 12.0M35.4 33.9L33.5 31.6M19.0 46.4L20.2 43.7M6.5 40.8L9.3 38.6M16.0 10.0L18.2 8.7M26.8 55.1L25.8 57.3M34.8 43.3L34.7 41.2M12.9 25.5L12.8 23.6M41.8 25.6L39.2 27.5M19.2 18.5L21.2 18.8M37.9 58.8L40.2 59.1M20.9 19.2L19.9 17.3M36.5 16.4L35.4 12.7M27.9 64.6L25.5 65.2M34.0 52.8L37.2 53.3M12.5 55.5L10.0 56.4M20.9 21.9L19.0 24.6M22.4 38.1L20.1 37.1M27.4 23.8L28.6 25.3M15.7 18.9L18.4 16.2M16.4 63.3L17.6 65.0M35.1 44.4L34.2 45.7M7.8 49.8L6.5 52.6M40.5 31.9L39.3 32.8M38.3 21.9L35.1 23.0M18.7 60.5L16.4 60.1M17.8 61.2L15.5 62.8M16.1 62.2L16.0 64.4M33.4 18.2L33.2 14.3M16.0 35.7L13.9 35.3M20.6 66.9L22.6 68.8M11.5 37.7L10.6 40.4M23.8 6.2L20.7 4.7M33.2 41.3L30.2 42.4M9.8 33.9L6.9 36.4M14.5 14.6L16.3 16.9M24.3 6.8L27.1 5.8M18.2 65.6L15.9 63.2M19.7 36.9L21.9 35.3M26.9 33.8L29.9 35.5M19.6 26.4L19.5 23.0M41.8 39.0L44.0 40.2M33.8 27.9L31.8 30.6M44.1 49.5L42.2 51.9M49.2 21.2L50.4 18.7M55.5 17.0L54.8 18.6M50.7 11.9L52.9 12.6M56.1 14.1L54.4 13.5M46.0 26.9L49.7 25.6M43.7 11.7L45.3 14.3M45.1 13.5L44.3 10.5M54.6 19.7L55.7 22.2M56.3 14.3L56.3 12.4M44.1 13.6L44.5 10.0M53.8 26.0L57.1 26.5M52.3 20.6L50.3 23.5M42.4 23.7L40.4 26.7M40.6 23.3L40.2 19.7M58.4 12.3L59.0 15.6M46.2 11.8L42.5 12.2M58.0 18.3L56.4 17.8M57.2 24.1L56.7 22.0M42.3 22.3L43.6 20.6M45.3 28.7L46.9 30.9M48.7 64.0L48.3 62.0M56.9 58.3L59.6 58.8M46.1 58.0L46.7 59.6M44.9 58.7L46.9 62.2M56.2 58.5L54.2 58.8M46.4 68.4L44.7 69.8M39.2 53.4L36.3 54.8M48.9 69.4L47.3 67.4M28.9 63.3L28.9 60.2M46.9 49.7L46.4 52.0M45.9 61.9L45.1 59.5M41.0 66.8L41.8 68.4M52.8 52.0L50.1 50.7M36.9 60.5L38.4 58.2M31.5 49.4L28.0 49.9M36.7 59.9L35.5 61.5M21.5 63.0L18.4 62.4M26.8 65.0L28.7 65.4M26.4 67.3L29.3 65.7M24.4 54.6L21.8 55.3M39.9 70.8L38.4 73.7M23.0 63.9L23.6 66.1M41.4 59.9L44.1 60.7M31.7 49.4L28.8 48.2M24.0 56.8L26.1 59.0" stroke="#d82818" stroke-width="1.36" stroke-linecap="round" fill="none"/><path d="M49.7 77.3h0M91.5 47.5h0M65.4 88.1h0M63.0 89.4h0M66.5 36.9h0M58.6 88.7h0M54.4 84.7h0M40.6 65.2h0M86.3 64.4h0M64.4 87.7h0M79.0 72.8h0M92.7 50.1h0M91.5 56.9h0M30.3 64.9h0M48.1 70.9h0M78.6 74.4h0M70.6 83.3h0M27.3 66.7h0M92.2 46.7h0M61.3 89.6h0M90.2 42.8h0M53.9 83.2h0M93.3 56.3h0M84.3 39.5h0M67.4 37.2h0M83.0 67.6h0M71.1 37.1h0M56.3 86.7h0M70.2 84.3h0M92.4 50.9h0M82.2 68.0h0M34.7 64.3h0M43.3 66.2h0M53.8 82.6h0M68.1 43.0h0M59.5 52.4h0M54.8 61.3h0M54.9 60.9h0M53.1 64.3h0M48.6 67.9h0M59.8 53.6h0M61.7 50.2h0M65.7 46.6h0M63.0 10.7h0M66.1 9.2h0M59.4 11.7h0M64.7 9.9h0M61.5 11.0h0M65.4 15.9h0M42.9 22.1h0M46.4 21.5h0M56.2 18.9h0M55.4 19.5h0M69.0 13.5h0M55.5 20.0h0M80.0 25.0h0M85.7 15.9h0M86.5 15.1h0M86.2 15.8h0M90.6 11.4h0M89.5 12.8h0M82.1 26.6h0M93.4 11.1h0M88.0 17.3h0M84.0 23.9h0M85.6 21.9h0M65.0 7.0h0M61.0 8.8h0M65.9 6.8h0M59.7 8.5h0M60.5 9.3h0M69.1 16.3h0M60.8 21.3h0M69.2 16.4h0M55.6 21.7h0M65.7 19.1h0M62.5 31.2h0M67.0 28.4h0M63.1 30.7h0M76.2 31.6h0M86.3 31.9h0M81.8 22.8h0M88.3 34.3h0M87.2 34.7h0M95.5 18.0h0M95.7 19.9h0M93.9 15.1h0M65.6 45.8h0M69.0 50.7h0M68.9 53.4h0M68.7 52.2h0M81.5 32.5h0M81.7 32.1h0M77.4 29.9h0M80.9 31.8h0M79.4 31.1h0M35.3 94.6h0M4.7 84.6h0M9.2 91.3h0M2.1 82.4h0M12.3 93.6h0M12.8 94.0h0M16.5 95.3h0M33.3 93.7h0M5.0 86.5h0M27.0 94.3h0M2.9 73.4h0M3.4 79.1h0M0.9 90.1h0M2.6 69.4h0M1.6 89.6h0M1.7 88.6h0M30.8 22.8h0M38.4 39.1h0M26.8 13.5h0M27.1 13.2h0M27.9 15.6h0M29.5 19.0h0M25.1 10.2h0M29.2 19.1h0M32.8 25.9h0M29.1 16.8h0M13.2 4.9h0M15.6 11.5h0M15.9 10.6h0M8.8 29.5h0M19.6 36.7h0M8.3 29.0h0M30.4 57.0h0M29.0 55.9h0M7.4 28.4h0M7.7 29.0h0M25.2 46.0h0M23.0 44.2h0M93.8 79.7h0M93.3 77.8h0M4.6 30.9h0M5.4 24.3h0M6.2 22.6h0M5.5 28.4h0M4.9 14.7h0M35.3 8.7h0M38.1 12.8h0M39.1 13.1h0M19.6 61.2h0M21.6 61.8h0M22.5 62.0h0M17.6 22.2h0M34.4 28.9h0M22.6 22.3h0M33.8 60.1h0M17.2 61.7h0M41.5 43.6h0M9.6 36.3h0M32.2 16.7h0M26.7 31.7h0M29.3 57.1h0M34.5 42.7h0M13.7 12.2h0M16.4 33.0h0M10.6 51.5h0M17.7 55.3h0M13.9 58.3h0M20.4 46.9h0M34.3 54.2h0M26.5 37.9h0M9.5 15.8h0M37.6 32.7h0M21.3 65.4h0M40.9 40.0h0M5.5 54.4h0M29.9 18.4h0M3.8 44.1h0M30.5 64.8h0M20.9 46.8h0M28.3 31.2h0M43.8 29.2h0M10.1 49.6h0M13.0 54.4h0M22.9 7.5h0M20.3 18.1h0M23.5 49.0h0M43.8 19.3h0M9.4 26.6h0M8.7 23.4h0M25.6 47.9h0M13.3 46.0h0M5.4 37.4h0M13.0 54.3h0M17.6 12.9h0M36.5 22.6h0M34.7 53.9h0M42.5 14.0h0M43.4 15.8h0M56.0 10.7h0M56.3 19.6h0M49.5 23.2h0M49.2 11.7h0M50.8 15.8h0M49.4 25.5h0M46.8 10.5h0M58.5 22.4h0M40.5 71.0h0M39.4 60.5h0M28.0 50.7h0M34.9 70.3h0M48.9 56.2h0M22.8 58.8h0M35.2 62.2h0M33.5 56.3h0M52.4 62.3h0M47.2 62.2h0M33.7 52.8h0M42.6 64.5h0M50.4 52.7h0M41.5 62.9h0M52.7 66.3h0M24.5 60.4h0M34.2 68.1h0M33.6 61.8h0M36.8 55.9h0M28.6 55.0h0" stroke="#e8a820" stroke-width="1.36" stroke-linecap="round"/><path d="M49.5 75.8h0M89.3 41.9h0M81.3 69.9h0M73.1 81.8h0M64.5 87.8h0M41.5 65.8h0M77.9 73.3h0M69.7 37.4h0M77.8 74.6h0M71.9 36.4h0M50.1 75.5h0M88.9 40.5h0M82.3 40.1h0M90.5 43.2h0M59.2 89.1h0M42.5 65.6h0M88.9 62.5h0M84.0 65.1h0M89.0 63.0h0M87.7 63.6h0M68.5 87.0h0M27.0 67.9h0M79.3 38.4h0M41.6 64.3h0M91.3 55.8h0M82.6 39.8h0M83.0 39.3h0M88.4 61.6h0M65.2 88.0h0M69.3 85.0h0M72.2 36.3h0M75.9 77.7h0M55.9 85.7h0M78.6 74.6h0M49.7 67.3h0M66.3 44.3h0M56.0 58.5h0M54.9 62.6h0M68.9 42.3h0M55.1 60.0h0M59.3 53.7h0M61.8 49.7h0M52.6 66.7h0M59.2 11.6h0M71.7 7.7h0M72.1 7.5h0M62.2 10.6h0M63.3 11.4h0M47.0 21.0h0M50.6 21.2h0M61.4 16.6h0M60.3 18.5h0M46.6 21.5h0M65.9 15.4h0M56.2 18.9h0M78.2 26.3h0M90.1 12.2h0M79.2 24.8h0M79.6 24.9h0M88.1 13.8h0M87.3 15.8h0M90.2 15.7h0M91.0 12.7h0M88.9 18.2h0M85.7 18.5h0M86.1 19.7h0M58.2 10.3h0M65.4 5.7h0M51.0 13.8h0M56.8 11.9h0M53.4 11.0h0M65.3 17.9h0M54.7 22.8h0M66.6 19.2h0M62.0 21.0h0M69.7 16.7h0M74.3 31.2h0M64.8 28.6h0M74.7 29.9h0M75.3 32.3h0M82.3 26.2h0M81.0 23.5h0M81.8 23.1h0M89.9 36.8h0M95.6 21.3h0M94.2 17.3h0M97.2 21.9h0M65.4 45.5h0M69.8 53.1h0M69.0 52.0h0M68.5 56.9h0M94.6 32.0h0M94.5 31.9h0M78.8 29.7h0M81.5 32.4h0M86.3 34.2h0M28.2 93.2h0M27.2 94.4h0M4.9 86.8h0M5.9 86.5h0M12.4 94.7h0M7.2 88.2h0M10.4 91.1h0M17.9 94.8h0M24.0 94.9h0M14.5 94.5h0M3.1 81.1h0M1.3 93.7h0M4.4 76.9h0M4.3 76.5h0M3.0 69.6h0M1.3 87.3h0M23.5 8.3h0M40.9 42.4h0M28.3 14.6h0M27.3 14.5h0M41.5 40.6h0M35.1 31.4h0M35.2 32.4h0M37.1 37.2h0M28.8 17.9h0M35.1 32.0h0M14.4 9.1h0M14.9 8.0h0M16.2 11.0h0M12.5 30.9h0M27.9 53.2h0M21.0 40.0h0M19.7 38.7h0M12.7 31.0h0M28.8 56.4h0M13.5 33.3h0M30.2 58.2h0M26.4 50.3h0M94.1 79.1h0M94.8 81.2h0M7.0 25.4h0M5.9 19.3h0M5.0 14.9h0M3.0 13.2h0M5.2 17.8h0M36.2 10.7h0M35.1 8.2h0M41.5 17.5h0M26.5 63.2h0M24.3 62.4h0M25.0 62.3h0M20.2 20.7h0M13.6 58.6h0M25.9 58.0h0M9.4 34.1h0M28.0 16.4h0M41.1 57.3h0M32.2 18.5h0M33.6 55.4h0M31.4 57.0h0M13.4 56.1h0M41.9 56.7h0M33.4 47.0h0M12.8 21.2h0M28.0 52.1h0M42.2 49.2h0M6.4 32.0h0M14.6 43.0h0M28.0 63.5h0M26.5 39.9h0M42.3 50.4h0M18.8 54.2h0M35.5 53.0h0M19.6 15.5h0M21.2 65.0h0M28.8 44.6h0M23.2 32.9h0M21.1 36.2h0M18.7 58.1h0M8.0 30.3h0M21.9 6.6h0M21.5 21.0h0M15.1 32.3h0M42.2 39.6h0M32.3 9.9h0M18.9 34.5h0M31.1 23.2h0M11.4 29.5h0M43.7 32.6h0M4.9 27.8h0M29.8 29.0h0M25.8 6.5h0M17.7 28.9h0M27.5 31.9h0M1.4 40.9h0M19.8 17.5h0M17.3 51.3h0M36.0 35.6h0M33.3 64.7h0M14.5 62.1h0M23.7 50.6h0M31.9 13.1h0M22.5 66.8h0M42.5 30.8h0M25.2 45.3h0M23.8 6.7h0M29.4 32.0h0M37.8 13.1h0M34.4 35.3h0M20.2 58.2h0M26.9 37.6h0M35.2 28.9h0M48.4 38.4h0M36.1 14.3h0M25.0 15.7h0M10.5 35.8h0M9.1 40.1h0M36.5 36.5h0M23.6 18.7h0M23.0 55.4h0M12.4 46.6h0M25.2 55.0h0M11.9 34.2h0M39.5 26.7h0M32.7 64.0h0M24.5 48.1h0M23.3 6.5h0M30.8 45.0h0M13.3 18.3h0M25.5 34.0h0M6.0 27.4h0M24.4 14.5h0M26.6 33.7h0M17.8 44.0h0M37.6 21.1h0M13.9 31.0h0M46.3 36.3h0M27.9 65.2h0M6.2 29.3h0M7.1 47.9h0M36.8 61.7h0M26.8 55.5h0M14.9 24.2h0M15.5 22.7h0M29.0 35.5h0M32.3 27.6h0M40.0 61.0h0M27.4 61.9h0M30.1 7.9h0M21.8 50.0h0M20.2 51.1h0M12.4 59.2h0M8.9 51.0h0M8.4 29.2h0M36.6 12.9h0M13.8 46.6h0M45.5 24.5h0M22.3 56.3h0M12.3 29.0h0M15.0 15.6h0M42.5 52.8h0M38.1 16.9h0M36.8 46.4h0M34.7 11.4h0M34.7 62.7h0M30.9 37.0h0M18.8 52.6h0M39.3 50.2h0M8.3 28.9h0M22.2 17.2h0M25.3 8.0h0M27.0 51.5h0M45.1 41.9h0M27.1 44.5h0M23.7 63.6h0M17.8 38.9h0M26.4 32.3h0M42.1 46.1h0M26.7 9.4h0M35.7 15.3h0M14.1 55.1h0M24.1 27.4h0M33.9 14.4h0M10.6 60.5h0M39.7 15.9h0M18.2 13.4h0M27.7 7.7h0M19.0 45.8h0M36.3 62.1h0M15.7 63.0h0M38.8 35.3h0M19.1 44.6h0M14.8 33.7h0M27.4 30.5h0M17.7 25.3h0M37.7 31.8h0M11.6 38.9h0M19.8 18.7h0M14.8 27.2h0M31.8 60.8h0M46.7 26.8h0M17.2 32.7h0M9.5 14.8h0M21.9 54.8h0M17.2 8.7h0M42.3 24.7h0M41.9 54.4h0M18.6 55.5h0M15.7 34.0h0M28.0 55.4h0M36.5 30.8h0M30.7 21.6h0M35.5 45.0h0M14.6 54.5h0M7.8 25.0h0M10.6 28.1h0M9.5 48.9h0M26.8 56.7h0M40.2 28.9h0M42.1 48.4h0M27.0 53.7h0M14.0 29.1h0M48.5 33.7h0M30.8 33.7h0M26.5 54.7h0M19.7 26.5h0M40.2 35.4h0M29.3 58.0h0M39.9 19.1h0M19.7 20.6h0M21.0 14.5h0M43.1 55.5h0M19.1 57.4h0M26.2 8.8h0M11.0 39.2h0M15.6 43.0h0M42.5 32.7h0M17.7 10.3h0M17.8 17.5h0M35.2 12.8h0M26.4 21.9h0M11.7 14.5h0M44.5 36.7h0M34.5 10.7h0M16.4 31.4h0M42.8 54.5h0M38.6 14.6h0M29.1 19.6h0M34.9 15.8h0M12.7 24.7h0M30.2 67.0h0M45.5 31.0h0M9.7 41.1h0M33.4 54.9h0M23.8 10.5h0M19.3 63.0h0M40.7 17.5h0M35.6 25.5h0M43.3 34.5h0M34.1 57.5h0M33.5 15.6h0M27.6 49.9h0M6.1 19.0h0M34.4 62.8h0M11.0 38.4h0M20.0 47.0h0M30.3 52.2h0M33.2 47.0h0M46.1 28.0h0M41.2 50.0h0M47.5 29.8h0M18.2 23.6h0M34.4 47.8h0M15.5 64.1h0M34.5 10.5h0M33.8 18.5h0M45.3 32.0h0M38.6 12.5h0M4.1 22.8h0M30.9 63.1h0M8.1 21.1h0M47.9 37.4h0M13.0 47.2h0M41.0 19.4h0M31.9 19.6h0M14.2 43.8h0M23.3 66.3h0M26.6 21.7h0M37.2 49.3h0M31.7 17.2h0M26.5 35.5h0M28.3 13.6h0M14.8 39.6h0M33.6 59.7h0M9.0 31.3h0M43.6 18.0h0M10.9 24.0h0M33.1 65.1h0M5.7 31.3h0M16.7 49.1h0M3.2 48.8h0M20.0 33.0h0M21.3 64.2h0M34.3 31.6h0M17.4 38.6h0M42.9 40.8h0M32.2 14.3h0M21.5 34.0h0M42.1 37.2h0M41.9 49.5h0M21.1 31.8h0M24.1 6.9h0M9.4 42.1h0M20.2 64.6h0M15.8 30.5h0M16.7 14.0h0M42.5 50.7h0M48.6 34.4h0M19.7 52.3h0M26.4 51.4h0M6.9 43.9h0M23.9 21.6h0M28.4 62.1h0M34.7 31.2h0M44.2 31.9h0M19.8 8.6h0M33.6 32.7h0M43.3 21.7h0M17.4 42.6h0M41.4 32.2h0M23.7 45.0h0M46.7 48.2h0M21.4 39.1h0M12.2 35.0h0M25.4 8.7h0M12.5 28.8h0M9.4 41.8h0M17.4 56.1h0M46.3 44.2h0M19.7 27.0h0M16.6 9.6h0M30.7 13.4h0M24.1 16.0h0M36.0 27.8h0M36.8 13.5h0M6.9 55.7h0M17.0 40.9h0M40.5 60.6h0M23.7 19.3h0M38.0 45.1h0M8.2 56.2h0M49.1 12.5h0M58.7 23.0h0M52.6 20.9h0M55.0 29.2h0M39.8 13.9h0M45.4 28.7h0M40.8 21.6h0M47.9 15.7h0M46.0 23.4h0M55.3 14.6h0M41.6 11.7h0M43.9 28.5h0M45.4 17.0h0M56.3 22.6h0M41.2 23.3h0M54.9 22.0h0M44.7 11.6h0M57.6 24.5h0M56.7 14.7h0M48.6 26.4h0M45.3 26.1h0M45.6 8.9h0M43.9 25.3h0M55.2 12.1h0M56.1 28.7h0M51.3 12.7h0M54.6 13.4h0M43.8 15.7h0M49.2 17.9h0M59.4 25.4h0M54.2 12.1h0M59.7 25.2h0M54.7 14.9h0M51.1 19.0h0M47.1 24.3h0M47.0 10.6h0M53.6 12.0h0M46.1 21.2h0M53.4 16.0h0M57.8 15.2h0M56.2 23.3h0M47.3 12.3h0M58.6 22.5h0M45.4 25.3h0M40.2 23.4h0M53.9 16.0h0M52.7 9.5h0M40.7 25.0h0M53.5 25.6h0M56.2 12.3h0M33.5 54.1h0M49.3 66.9h0M48.9 52.4h0M43.4 52.1h0M22.5 61.9h0M34.4 66.1h0M40.0 56.5h0M45.8 64.0h0M39.0 59.1h0M51.2 58.2h0M39.6 50.6h0M42.7 55.1h0M54.8 65.0h0M48.7 69.2h0M43.1 67.8h0M38.1 49.5h0M39.7 62.7h0M35.5 57.9h0M31.9 54.9h0M38.4 53.5h0M34.9 57.7h0M52.0 50.6h0M26.5 51.8h0M37.4 69.2h0M43.5 71.4h0M26.4 56.6h0M40.4 50.4h0M22.6 55.7h0M33.1 58.3h0M45.7 53.1h0M47.8 49.9h0M54.7 55.9h0M26.4 61.1h0M56.6 57.1h0M49.9 51.4h0M57.5 59.5h0M36.2 69.0h0M53.6 62.3h0M45.8 51.5h0M27.2 62.3h0M47.5 61.7h0M28.8 57.0h0M59.7 61.0h0M40.7 54.4h0M58.2 60.3h0M33.8 68.7h0M51.2 61.4h0M48.6 49.4h0M40.6 61.6h0M41.3 71.7h0" stroke="#2a2ad0" stroke-width="1.9" stroke-linecap="round"/><path d="M89.0 60.6h0M72.9 80.1h0M90.5 61.6h0M86.5 40.5h0M83.6 65.6h0M66.2 87.0h0M50.2 78.9h0M30.5 65.4h0M33.4 64.6h0M70.6 37.9h0M77.9 76.5h0M65.1 45.1h0M49.0 68.4h0M49.6 67.7h0M58.0 10.9h0M67.6 15.5h0M67.0 14.3h0M86.1 15.5h0M83.4 20.4h0M89.4 16.8h0M52.4 11.5h0M67.9 18.5h0M73.8 31.2h0M82.5 26.4h0M94.0 15.7h0M67.8 47.3h0M87.2 34.5h0M18.7 93.7h0M26.8 94.4h0M16.0 93.3h0M2.4 85.9h0M3.0 71.2h0M29.4 17.0h0M26.8 10.4h0M31.2 22.8h0M16.5 12.0h0M6.6 28.8h0M24.4 44.4h0M19.8 39.8h0M6.7 20.5h0M41.0 14.2h0M16.8 57.8h0M17.2 65.1h0M32.1 21.0h0M19.0 30.7h0M30.5 40.0h0M22.3 22.8h0M7.8 30.6h0M38.2 34.3h0M31.1 8.0h0M16.3 53.0h0M39.7 43.6h0M31.0 9.3h0M25.6 35.6h0M13.2 48.4h0M45.7 38.3h0M35.1 26.7h0M24.2 52.2h0M36.5 63.6h0M11.9 55.9h0M33.4 13.7h0M6.7 40.9h0M18.4 23.8h0M7.5 27.8h0M45.7 41.4h0M25.0 38.0h0M39.4 29.9h0M37.7 22.7h0M13.9 44.5h0M19.4 61.2h0M47.5 36.9h0M46.4 28.1h0M28.5 59.0h0M11.9 32.8h0M28.3 64.1h0M23.6 18.2h0M39.5 18.0h0M31.0 59.5h0M23.2 59.5h0M45.4 52.7h0M25.5 16.7h0M23.1 21.2h0M45.0 36.9h0M17.1 7.7h0M17.4 45.9h0M21.1 34.9h0M42.1 39.2h0M56.0 21.5h0M52.3 18.4h0M59.4 20.9h0M52.2 14.0h0M41.9 26.3h0M39.0 24.6h0M60.2 21.8h0M46.6 14.7h0M51.1 52.3h0M30.4 50.4h0M33.8 71.3h0M36.4 61.8h0M52.1 62.7h0" stroke="#40e040" stroke-width="1.0" stroke-linecap="round"/></g></svg><rect x="348.2" y="635.3" width="32.3" height="99.5" fill="#999" /><rect x="485.0" y="635.3" width="33.0" height="99.5" fill="#999" /><svg x="348.2" y="635.3" width="32.3" height="32.6" viewBox="0 0 32.3 32.6"><rect x="0.0" y="0.0" width="32.3" height="32.6" fill="#000" /><path d="M7.4 18.5h0M17.1 12.9h0M12.4 15.3h0M18.8 12.3h0M20.1 11.1h0M3.5 20.2h0M2.0 21.0h0M24.3 8.8h0M7.5 19.0h0M8.8 18.5h0M30.2 5.5h0M16.0 14.4h0M24.9 7.5h0M14.5 14.4h0M19.3 12.4h0M4.7 19.4h0M19.0 9.9h0M27.8 5.4h0" stroke="#30c030" stroke-width="1.4" stroke-linecap="round"/></svg><svg x="348.2" y="669.3" width="32.3" height="32.6" viewBox="0 0 32.3 32.6"><rect x="0.0" y="0.0" width="32.3" height="32.6" fill="#000" /><path d="M-1.4 27.2L2.8 23.6L7.0 21.3L10.5 20.2L14.4 14.2L18.0 12.1L22.4 10.6L26.5 8.7L30.5 4.7M-0.6 31.7L2.7 29.1L6.8 25.3L11.2 23.6L14.4 20.0L19.1 17.1L22.5 15.2L26.3 12.4L29.9 8.6" stroke="#e02020" stroke-width="2.2" fill="none" stroke-linecap="round" stroke-linejoin="round"/></svg><svg x="348.2" y="703.4" width="32.3" height="31.4" viewBox="0 0 32.3 31.4"><rect x="0.0" y="0.0" width="32.3" height="31.4" fill="#000" /><path d="M-1.0 27.5L2.6 21.2L6.8 20.7L10.8 17.6L14.5 13.5L18.2 10.9L22.2 9.0L26.3 3.8L30.2 2.1M-0.6 31.6L3.1 25.3L7.0 22.5L11.1 20.4L14.5 19.9L17.9 15.1L22.0 11.6L25.9 9.8L29.9 6.5" stroke="#e02020" stroke-width="2.0" fill="none" stroke-linecap="round" stroke-linejoin="round"/><path d="M20.1 11.2h0M6.4 21.2h0M27.0 7.1h0M28.6 4.1h0M26.8 6.6h0M17.2 13.2h0M21.2 9.7h0M6.2 21.2h0M26.6 5.5h0M14.3 13.1h0" stroke="#3030e0" stroke-width="2.6" stroke-linecap="round"/><path d="M9.1 20.4h0M3.3 26.4h0M17.5 14.8h0M1.3 27.0h0M5.3 23.4h0M11.8 17.7h0" stroke="#e0c020" stroke-width="1.5" stroke-linecap="round"/></svg><svg x="485.0" y="635.3" width="33.0" height="32.6" viewBox="0 0 33.0 32.6"><rect x="0.0" y="0.0" width="33.0" height="32.6" fill="#000" /><path d="M15.3 13.3h0M15.2 11.5h0M21.2 3.7h0M12.8 13.7h0M11.3 14.8h0M17.7 9.5h0M6.8 18.7h0M9.0 20.0h0M22.0 3.1h0M13.0 14.5h0M13.2 14.2h0M3.0 26.5h0M11.3 16.3h0M13.4 12.1h0" stroke="#30c030" stroke-width="1.5" stroke-linecap="round"/><path d="M17.6 20.4h0M15.5 23.5h0M24.9 10.3h0M16.4 22.6h0M15.1 23.2h0M19.6 16.9h0M23.0 13.6h0M14.8 23.9h0M17.8 19.9h0M18.1 20.8h0M24.8 9.7h0M18.7 18.9h0" stroke="#30c030" stroke-width="1.5" stroke-linecap="round"/></svg><svg x="485.0" y="669.3" width="33.0" height="32.6" viewBox="0 0 33.0 32.6"><rect x="0.0" y="0.0" width="33.0" height="32.6" fill="#000" /><path d="M2.0 31.0L5.0 26.8L8.1 23.7L11.3 19.1L14.8 13.3L17.0 13.8L19.9 8.5L23.0 6.3L26.4 0.4M8.1 32.3L11.2 29.1L13.8 27.3L16.5 23.1L19.2 19.1L21.7 15.1L25.1 11.9L28.8 6.9L30.3 6.1" stroke="#e02020" stroke-width="1.6" fill="none" stroke-linecap="round" stroke-linejoin="round"/></svg><svg x="485.0" y="703.4" width="33.0" height="31.4" viewBox="0 0 33.0 31.4"><rect x="0.0" y="0.0" width="33.0" height="31.4" fill="#000" /><path d="M1.8 31.9L4.7 27.9L7.6 24.5L11.0 21.5L14.3 16.6L16.9 13.4L20.0 8.4L23.2 3.2L26.0 4.1M8.2 31.6L11.2 29.8L13.6 25.7L16.7 23.7L19.5 21.3L22.2 17.0L24.8 10.8L28.1 9.7L31.6 5.7" stroke="#e07020" stroke-width="2.0" fill="none" stroke-linecap="round" stroke-linejoin="round"/><path d="M13.2 18.4h0M12.4 17.4h0M23.7 4.3h0M6.4 26.5h0M3.1 30.2h0M24.1 4.2h0M23.3 6.0h0M26.7 2.7h0M14.5 17.5h0M25.7 3.7h0" stroke="#3030f0" stroke-width="2.6" stroke-linecap="round"/><path d="M7.3 32.3h0M24.0 12.3h0M11.8 28.5h0M13.7 24.3h0M22.4 15.0h0M18.6 18.2h0" stroke="#e0e020" stroke-width="1.5" stroke-linecap="round"/></svg><rect x="282.4" y="671.4" width="23.4" height="23.5" fill="none" stroke="#fff" stroke-width="0.9" /><rect x="456.5" y="642.8" width="22.8" height="21.9" fill="none" stroke="#fff" stroke-width="0.9" /><text x="335.0" y="727.6" font-size="6.2" text-anchor="middle" fill="#fff">20μM</text><line x1="331.0" y1="730.2" x2="339.0" y2="730.2" stroke="#fff" stroke-width="1.3" /><text x="471.5" y="727.6" font-size="6.2" text-anchor="middle" fill="#fff">20μM</text><line x1="467.5" y1="730.2" x2="475.5" y2="730.2" stroke="#fff" stroke-width="1.3" /><rect x="560.2" y="704.2" width="16.4" height="16.2" fill="#d9aeae" /><rect x="585.0" y="678.8" width="16.4" height="41.6" fill="#87a9d9" /><line x1="551.7" y1="631.8" x2="551.7" y2="720.4" stroke="#231f20" stroke-width="0.9" /><line x1="551.7" y1="720.4" x2="610.0" y2="720.4" stroke="#231f20" stroke-width="0.9" /><line x1="549.2" y1="720.4" x2="551.7" y2="720.4" stroke="#231f20" stroke-width="0.8" /><text x="548.7" y="722.5" font-size="6.2" text-anchor="end" fill="#333">0</text><line x1="549.2" y1="702.9" x2="551.7" y2="702.9" stroke="#231f20" stroke-width="0.8" /><text x="548.7" y="705.0" font-size="6.2" text-anchor="end" fill="#333">20</text><line x1="549.2" y1="685.4" x2="551.7" y2="685.4" stroke="#231f20" stroke-width="0.8" /><text x="548.7" y="687.5" font-size="6.2" text-anchor="end" fill="#333">40</text><line x1="549.2" y1="667.8" x2="551.7" y2="667.8" stroke="#231f20" stroke-width="0.8" /><text x="548.7" y="669.9" font-size="6.2" text-anchor="end" fill="#333">60</text><line x1="549.2" y1="650.3" x2="551.7" y2="650.3" stroke="#231f20" stroke-width="0.8" /><text x="548.7" y="652.4" font-size="6.2" text-anchor="end" fill="#333">80</text><line x1="549.2" y1="632.8" x2="551.7" y2="632.8" stroke="#231f20" stroke-width="0.8" /><text x="548.7" y="634.9" font-size="6.2" text-anchor="end" fill="#333">100</text><line x1="568.4" y1="720.4" x2="568.4" y2="722.7" stroke="#231f20" stroke-width="0.8" /><line x1="593.2" y1="720.4" x2="593.2" y2="722.7" stroke="#231f20" stroke-width="0.8" /><path d="M565 702.0H572M568.4 702.0V706.4M565 706.4H572" fill="none" stroke="#231f20" stroke-width="0.8" /><path d="M589.5 673.5H597M593.2 673.5V684.5M589.5 684.5H597" fill="none" stroke="#231f20" stroke-width="0.8" /><path d="M562.0 702.0h0M565.0 700.0h0M568.0 701.0h0M571.0 700.0h0M574.0 700.5h0M563.0 705.0h0M567.0 705.5h0M571.0 705.0h0M575.0 706.0h0M568.0 708.5h0" stroke="#231f20" stroke-width="2.8" stroke-linecap="round"/><path d="M593.5 644.2h0M593.5 662.5h0M590.0 675.5h0M596.0 677.0h0M592.0 681.0h0M596.0 684.0h0M589.5 687.0h0M593.0 693.5h0M588.5 694.5h0M597.5 693.5h0" stroke="#231f20" stroke-width="2.8" stroke-linecap="round"/><path d="M565.9 640V637.2H593.2V640" fill="none" stroke="#231f20" stroke-width="0.8" /><text x="579.8" y="632.5" font-size="11" text-anchor="middle" font-weight="bold">***</text><text x="567.4" y="732.8" font-size="9" text-anchor="middle">Normal</text><text x="593.8" y="732.8" font-size="9" text-anchor="middle">IPF</text><text x="525.2" y="672.5" font-size="7.6" text-anchor="middle" transform="rotate(-90 525.2 672.5)">Integrated Density</text><text x="533.4" y="672.5" font-size="7.6" text-anchor="middle" transform="rotate(-90 533.4 672.5)">of PIEZO1/( % CD31)</text><text x="2.5" y="756.3" font-size="13" font-weight="bold">L</text><text x="178.7" y="753.5" font-size="9.5">PIEZO1 positive cells ratio in ECs</text><rect x="19.4" y="759.3" width="397.6" height="109.2" fill="none" stroke="#444" stroke-width="0.9" /><rect x="22.8" y="839.3" width="176.9" height="24.5" fill="#f6c9cf" /><rect x="317.0" y="838.8" width="96.4" height="12.4" fill="#f6c9cf" /><text x="107.0" y="769.9" font-size="9.3" text-anchor="middle">IPF</text><text x="178.5" y="769.9" font-size="9.3" text-anchor="middle">Normal</text><text x="25.0" y="778.7" font-size="8.3">Study</text><text x="89.8" y="778.7" font-size="8.3" text-anchor="end" textLength="16.6" lengthAdjust="spacingAndGlyphs">Total</text><text x="106.3" y="778.7" font-size="9.3" text-anchor="middle">Mean</text><text x="134.0" y="778.7" font-size="9" text-anchor="end">SD</text><text x="157.5" y="778.7" font-size="8.3" text-anchor="end" textLength="16.6" lengthAdjust="spacingAndGlyphs">Total</text><text x="178.5" y="778.7" font-size="9.3" text-anchor="middle">Mean</text><text x="203.0" y="778.7" font-size="9" text-anchor="end">SD</text><text x="25.4" y="795.6" font-size="8.3">GSE136831</text><text x="84.6" y="795.6" font-size="8.3" text-anchor="end">45</text><text x="108.2" y="795.6" font-size="8.3" text-anchor="end">0.22</text><text x="135.4" y="795.6" font-size="8.3" text-anchor="end">0.0717</text><text x="155.0" y="795.6" font-size="8.3" text-anchor="end">37</text><text x="178.7" y="795.6" font-size="8.3" text-anchor="end">0.18</text><text x="205.5" y="795.6" font-size="8.3" text-anchor="end">0.0855</text><text x="25.4" y="804.0" font-size="8.3">GSE132771</text><text x="84.6" y="804.0" font-size="8.3" text-anchor="end">5</text><text x="108.2" y="804.0" font-size="8.3" text-anchor="end">0.13</text><text x="135.4" y="804.0" font-size="8.3" text-anchor="end">0.0480</text><text x="155.0" y="804.0" font-size="8.3" text-anchor="end">3</text><text x="178.7" y="804.0" font-size="8.3" text-anchor="end">0.11</text><text x="205.5" y="804.0" font-size="8.3" text-anchor="end">0.0126</text><text x="25.4" y="812.3" font-size="8.3">GSE128033</text><text x="84.6" y="812.3" font-size="8.3" text-anchor="end">8</text><text x="108.2" y="812.3" font-size="8.3" text-anchor="end">0.18</text><text x="135.4" y="812.3" font-size="8.3" text-anchor="end">0.0236</text><text x="155.0" y="812.3" font-size="8.3" text-anchor="end">7</text><text x="178.7" y="812.3" font-size="8.3" text-anchor="end">0.12</text><text x="205.5" y="812.3" font-size="8.3" text-anchor="end">0.0774</text><text x="25.4" y="820.6" font-size="8.3">GSE159354</text><text x="84.6" y="820.6" font-size="8.3" text-anchor="end">4</text><text x="108.2" y="820.6" font-size="8.3" text-anchor="end">0.12</text><text x="135.4" y="820.6" font-size="8.3" text-anchor="end">0.0417</text><text x="155.0" y="820.6" font-size="8.3" text-anchor="end">4</text><text x="178.7" y="820.6" font-size="8.3" text-anchor="end">0.23</text><text x="205.5" y="820.6" font-size="8.3" text-anchor="end">0.1430</text><text x="25.4" y="829.0" font-size="8.3">GSE122960</text><text x="84.6" y="829.0" font-size="8.3" text-anchor="end">4</text><text x="108.2" y="829.0" font-size="8.3" text-anchor="end">0.57</text><text x="135.4" y="829.0" font-size="8.3" text-anchor="end">0.2054</text><text x="155.0" y="829.0" font-size="8.3" text-anchor="end">8</text><text x="178.7" y="829.0" font-size="8.3" text-anchor="end">0.41</text><text x="205.5" y="829.0" font-size="8.3" text-anchor="end">0.0640</text><text x="25.4" y="846.9" font-size="8.3">Random effects model</text><text x="128.0" y="846.9" font-size="8.3" text-anchor="end">66</text><text x="196.0" y="846.9" font-size="8.3" text-anchor="end">59</text><text x="25.4" y="858.3" font-size="8.3">Heterogeneity: I<tspan font-size="10.5" dy="-2.2">2</tspan><tspan dy="2.2">= 23%, τ</tspan><tspan font-size="10.5" dy="-2.2">2</tspan><tspan dy="2.2">&lt; 0.0001, p = 0.26</tspan></text><text x="260.8" y="770.0" font-size="8.5" text-anchor="middle">Standardised Mean</text><text x="259.0" y="778.7" font-size="8.6" text-anchor="middle">Difference</text><line x1="257.9" y1="788.0" x2="257.9" y2="847.0" stroke="#231f20" stroke-width="0.8" /><line x1="269.3" y1="788.0" x2="269.3" y2="847.0" stroke="#444" stroke-width="0.7" stroke-dasharray="1,1.2"/><line x1="259.4" y1="793.0" x2="277.9" y2="793.0" stroke="#231f20" stroke-width="0.8" /><rect x="264.5" y="789.0" width="8.0" height="8.0" fill="#1d3c8a" /><line x1="240.0" y1="801.4" x2="302.2" y2="801.4" stroke="#231f20" stroke-width="0.8" /><rect x="269.6" y="800.0" width="2.8" height="2.8" fill="#1d3c8a" /><line x1="256.0" y1="809.7" x2="301.6" y2="809.7" stroke="#231f20" stroke-width="0.8" /><rect x="277.3" y="808.1" width="3.3" height="3.3" fill="#1d3c8a" /><line x1="207.6" y1="818.0" x2="270.6" y2="818.0" stroke="#231f20" stroke-width="0.8" /><rect x="237.7" y="816.8" width="2.5" height="2.5" fill="#1d3c8a" /><line x1="255.4" y1="826.4" x2="310.9" y2="826.4" stroke="#231f20" stroke-width="0.8" /><rect x="281.9" y="825.0" width="2.7" height="2.7" fill="#1d3c8a" /><polygon points="261.6,844.4 269.3,841.3 276.8,844.4 269.3,847.5" fill="#d0206a" /><line x1="216.3" y1="848.6" x2="299.5" y2="848.6" stroke="#231f20" stroke-width="0.8" /><line x1="216.3" y1="848.6" x2="216.3" y2="851.5" stroke="#231f20" stroke-width="0.8" /><text x="214.8" y="862.8" font-size="8.3" text-anchor="middle">−2</text><line x1="237.1" y1="848.6" x2="237.1" y2="851.5" stroke="#231f20" stroke-width="0.8" /><text x="235.6" y="862.8" font-size="8.3" text-anchor="middle">−1</text><line x1="257.9" y1="848.6" x2="257.9" y2="851.5" stroke="#231f20" stroke-width="0.8" /><text x="257.9" y="862.8" font-size="8.3" text-anchor="middle">0</text><line x1="278.7" y1="848.6" x2="278.7" y2="851.5" stroke="#231f20" stroke-width="0.8" /><text x="278.7" y="862.8" font-size="8.3" text-anchor="middle">1</text><line x1="299.5" y1="848.6" x2="299.5" y2="851.5" stroke="#231f20" stroke-width="0.8" /><text x="299.5" y="862.8" font-size="8.3" text-anchor="middle">2</text><text x="319.6" y="778.7" font-size="8.2">SMD</text><text x="347.0" y="778.7" font-size="8.4">95%−CI</text><text x="382.7" y="778.7" font-size="8.4">Weight</text><text x="334.5" y="795.6" font-size="8.3" text-anchor="end">0.51</text><text x="336.0" y="795.6" font-size="8.3">[ 0.07; 0.96]</text><text x="410.8" y="795.6" font-size="8.3" text-anchor="end">69.2%</text><text x="334.5" y="804.0" font-size="8.3" text-anchor="end">0.63</text><text x="336.0" y="804.0" font-size="8.3">[−0.86; 2.13]</text><text x="410.8" y="804.0" font-size="8.3" text-anchor="end">6.1%</text><text x="334.5" y="812.3" font-size="8.3" text-anchor="end">1.01</text><text x="336.0" y="812.3" font-size="8.3">[−0.09; 2.10]</text><text x="410.8" y="812.3" font-size="8.3" text-anchor="end">11.3%</text><text x="334.5" y="820.6" font-size="8.3" text-anchor="end">−0.91</text><text x="336.0" y="820.6" font-size="8.3">[−2.42; 0.61]</text><text x="410.8" y="820.6" font-size="8.3" text-anchor="end">5.9%</text><text x="334.5" y="829.0" font-size="8.3" text-anchor="end">1.22</text><text x="336.0" y="829.0" font-size="8.3">[−0.12; 2.55]</text><text x="410.8" y="829.0" font-size="8.3" text-anchor="end">7.6%</text><text x="334.5" y="847.8" font-size="8.3" text-anchor="end">0.55</text><text x="336.0" y="847.8" font-size="8.3">[ 0.18; 0.91]</text><text x="412.0" y="847.8" font-size="8.3" text-anchor="end">100.0%</text></svg></body></html>
